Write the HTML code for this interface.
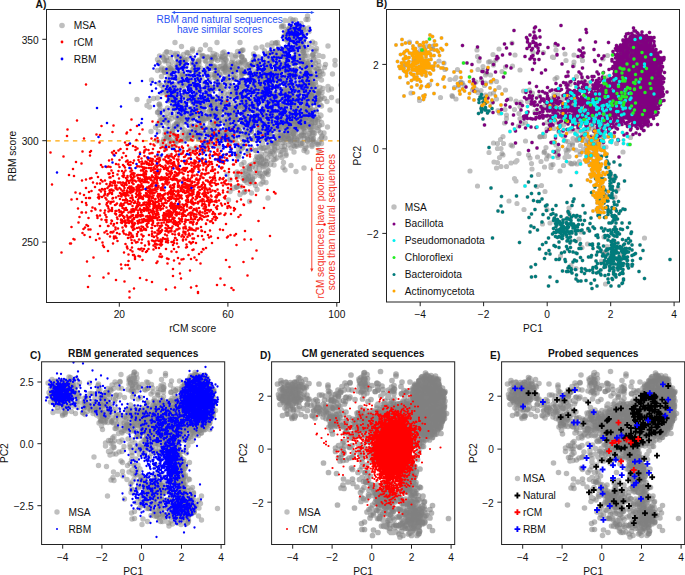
<!DOCTYPE html>
<html><head><meta charset="utf-8"><style>
html,body{margin:0;padding:0;background:#fff;overflow:hidden;}
svg{display:block;}
text{font-family:"Liberation Sans", sans-serif;font-size:10.2px;fill:#111;}
.d{fill:none;stroke-linecap:round;}
</style></head><body>
<svg width="685" height="575" viewBox="0 0 685 575">
<defs><clipPath id="cA"><rect x="46.5" y="9.5" width="293" height="293"/></clipPath><clipPath id="cB"><rect x="386.5" y="9.5" width="293" height="292.5"/></clipPath><clipPath id="cC"><rect x="41.6" y="361.8" width="183.1" height="182.7"/></clipPath><clipPath id="cD"><rect x="271.6" y="361.8" width="183.1" height="182.7"/></clipPath><clipPath id="cE"><rect x="501.6" y="361.8" width="183.1" height="182.7"/></clipPath></defs><line x1="46.5" y1="140.8" x2="339.5" y2="140.8" stroke="#ffa500" stroke-width="1.3" stroke-dasharray="4.4 4.4"/><g clip-path="url(#cA)"><path class="d" transform="scale(.5)" d="M612 39h0m-18 24h0m-5-2h0m-12-1h0m-13-8h0m11 26h0m1-8h0m80 22h0m-26-5h0m-30 2h0m-56-3h0m-194-1h0m26 21h0m57 4h0m12-4h0m17 4h0m45-2h0m5-12h0m25 12h0m7 3h0m21-5h0m40-9h0m20 14h0m8-14h0m37 24h0m-60-9h0m-1 14h0m-4 1h0m0-5h0m-7-5h0m-5-1h0m-1 9h0m-6-9h0m-9-1h0m-2 2h0m-31 4h0m-20-2h0m-7-5h0m-1 9h0m0-2h0m-8-3h0m-24-4h0m-13 0h0m-6 4h0m-13 1h0m-10 0h0m-19 2h0m-6-7h0m-19 9h0m-2 0h0m-11 2h0m-11-6h0m-9 0h0m-31 2h0m-19 20h0m8-5h0m4 5h0m17-7h0m7 2h0m5 7h0m1-11h0m10 8h0m23 2h0m23-3h0m22 0h0m10-2h0m37-8h0m20 4h0m1-2h0m1-2h0m11 0h0m16 6h0m3-4h0m19 4h0m16 3h0m5-3h0m9 7h0m55-11h0m1 12h0m10-8h0m-27 14h0m-3-3h0m-17 9h0m-2-4h0m-7-3h0m-11 2h0m-3 3h0m-3-9h0m-2 3h0m-14 6h0m-4-8h0m-9 8h0m-5 1h0m-1-2h0m-1 5h0m-5-10h0m0 8h0m-4 4h0m-25-4h0m-21-8h0m-18 6h0m-11 4h0m-25-12h0m-3 10h0m-11-2h0m-4-9h0m-9 13h0m-39-8h0m-47 18h0m20-4h0m7 10h0m4-4h0m8 3h0m11-7h0m6 3h0m4-6h0m19 10h0m9-10h0m30 12h0m21-4h0m6 5h0m20-5h0m2 0h0m19-9h0m1 4h0m9 7h0m1-3h0m1-8h0m5 14h0m12-1h0m21 1h0m5-9h0m5-6h0m10 9h0m28 1h0m4-6h0m0-3h0m7 9h0m1 1h0m5-5h0m1 0h0m23-6h0m-19 30h0m-19-9h0m-6 5h0m-16 4h0m-16-11h0m-10 12h0m-14-4h0m0 4h0m-15-9h0m-4-3h0m-9-3h0m-7 12h0m-2-4h0m-46 0h0m-27-7h0m-17 0h0m-70 10h0m-6 1h0m-2-9h0m-15 7h0m-25 16h0m41-5h0m7 0h0m7 9h0m12-14h0m11 2h0m18 6h0m9 1h0m1 3h0m9 1h0m9-7h0m0 8h0m10 0h0m4-6h0m6 0h0m10 5h0m40 1h0m2-5h0m25-8h0m3 1h0m12 12h0m7-7h0m8-7h0m16 3h0m14 10h0m1-5h0m4 1h0m4 6h0m0-9h0m10 1h0m3-1h0m8 4h0m7-8h0m3 0h0m6 10h0m7 2h0m1-3h0m16-6h0m-22 24h0m-1-1h0m-6-8h0m-7 10h0m-18 0h0m-26-10h0m-11-2h0m-15 13h0m-2-7h0m-7 2h0m-2 0h0m-31-8h0m-5 10h0m-20-5h0m-1-2h0m-8 7h0m-31-9h0m-13 5h0m0-5h0m-2 3h0m-2 7h0m-20-12h0m-1 6h0m-13 2h0m-16-8h0m-11 8h0m-5 4h0m-38 4h0m27 5h0m1-3h0m15 12h0m9-11h0m14-2h0m4 9h0m7-5h0m9 3h0m15 3h0m11-7h0m1 1h0m12-6h0m13 2h0m15 13h0m3-13h0m3 10h0m17-4h0m21-4h0m30 0h0m1 8h0m1-3h0m8 6h0m0-4h0m3 0h0m16 3h0m0-9h0m5 5h0m9 0h0m21-8h0m1 10h0m8-10h0m29 23h0m-1-4h0m-19 0h0m-9 2h0m-2-4h0m-5 2h0m0 10h0m-2-5h0m-1-2h0m-5-8h0m-5 12h0m-5-8h0m-2 4h0m-2 0h0m-2-1h0m-2 3h0m-6 4h0m-1-5h0m0-2h0m-22 7h0m-1-1h0m-18 2h0m-5-7h0m-8-2h0m-1-2h0m-6 8h0m-3-1h0m-7 3h0m-1-9h0m0-4h0m-8 6h0m-7-3h0m-5-4h0m-11 12h0m-16-9h0m-8 0h0m-40-1h0m-54 4h0m-16 5h0m11 19h0m8-13h0m7 13h0m2-5h0m13 0h0m5 5h0m6-10h0m11 10h0m2-2h0m9-10h0m3 7h0m13-6h0m28 11h0m4-12h0m0 12h0m9-10h0m9 2h0m12 6h0m1 3h0m3-8h0m28-5h0m8 10h0m7-9h0m6-1h0m18 13h0m13-13h0m2 3h0m3 4h0m3-6h0m26 12h0m10-1h0m25 17h0m-19-7h0m-30 1h0m-12-1h0m-5-4h0m-10 0h0m-5 3h0m-15 8h0m-27-10h0m-9-5h0m-64 3h0m-19 0h0m-32-1h0m-20 3h0m-35 2h0m-26 3h0m32 12h0m149 7h0m16 0h0m13-13h0m13 4h0m7-3h0m45 4h0m18 8h0m-58 18h0m-30-6h0m-7 0h0m-25 12h0m10 7h0m17-9h0m3 6h0m10-1h0m39-3h0m-34 21h0m-79 3h0m38 7h0m13 0h0m9 23h0m-54 4h0" stroke="#808080" stroke-width="10.8" stroke-opacity="0.5"/></g><g clip-path="url(#cA)"><path class="d" transform="scale(.5)" d="M586 40h0m32 23h0m-11-8h0m-16 4h0m-5 2h0m-1-1h0m-9 2h0m0-3h0m-3 3h0m-1-3h0m2 20h0m9-14h0m12 2h0m9 26h0m-5-10h0m-5 5h0m-7-7h0m-7 7h0m-23 5h0m-194 0h0m-33 15h0m3-4h0m52-6h0m13 7h0m28 2h0m3 1h0m22 3h0m122-14h0m23 8h0m10 6h0m1-8h0m30 20h0m-22-11h0m-1 11h0m-5 2h0m-7 2h0m-15 0h0m-21-14h0m-7 14h0m-53-6h0m-16 3h0m-6-2h0m0-9h0m-32 8h0m-9-5h0m-8 5h0m-12-4h0m-11 6h0m-14-3h0m-33 3h0m-32-8h0m-15 10h0m18 13h0m18-6h0m18 0h0m13-4h0m2 11h0m7-8h0m3 4h0m26 2h0m23 1h0m6-6h0m5 11h0m2-6h0m12-9h0m1 8h0m11 4h0m11-11h0m6 2h0m15 0h0m19-3h0m6 15h0m0-8h0m18 5h0m9-11h0m10 11h0m12-1h0m4 0h0m8-1h0m2-3h0m0-3h0m1 10h0m5 1h0m3-13h0m8 11h0m9-1h0m22-11h0m14 19h0m-25 4h0m-25-7h0m-8 8h0m-16-9h0m-7 10h0m-33 4h0m-4-1h0m-9-11h0m-4 11h0m-5-7h0m-7 4h0m-9-8h0m-12 10h0m-18-7h0m-1 2h0m-23-2h0m-7-3h0m0 12h0m-24-10h0m-6 1h0m-5 4h0m-19-6h0m-7 10h0m-88 3h0m55 0h0m2 5h0m5 5h0m10-2h0m8 5h0m36-4h0m17 3h0m7 0h0m8-12h0m1 3h0m7 1h0m51 3h0m18-6h0m4 11h0m6-5h0m3-3h0m3 2h0m39-1h0m1 7h0m18-4h0m5 6h0m9-11h0m3-1h0m7 11h0m5-4h0m1 2h0m24 2h0m26-3h0m-25 10h0m-19 6h0m-15 5h0m-7-1h0m-5-14h0m-15 6h0m0-6h0m-8 3h0m-4 9h0m-7-7h0m-5 7h0m-8 2h0m-34-1h0m-6-12h0m-1 6h0m-15-1h0m-6-3h0m-6 11h0m-2-2h0m-6-8h0m-5-1h0m-10 12h0m-17-2h0m-5-13h0m-6 3h0m-3-1h0m-26 12h0m-22-13h0m-14 2h0m-32 11h0m-3-4h0m-5 2h0m-5 0h0m-2-4h0m-59 15h0m89-1h0m27-6h0m3 10h0m9 4h0m24-10h0m20 10h0m35-14h0m6 5h0m2 8h0m4-6h0m28-7h0m13 15h0m9-11h0m1 6h0m10 2h0m8-12h0m12 14h0m7 0h0m9-3h0m1-5h0m3 0h0m1-4h0m3 6h0m16-6h0m7 5h0m2-6h0m4 8h0m13-2h0m3 13h0m-22 9h0m-10-4h0m-1-9h0m-18 13h0m-4-6h0m-9 7h0m-2 1h0m-21-15h0m-16 11h0m-14-6h0m-24-5h0m-1 1h0m-25 3h0m-4 4h0m-16 7h0m-10-3h0m-5-1h0m-2-5h0m-7 1h0m-6 6h0m-19-2h0m0-3h0m-2 6h0m-2-8h0m-13 8h0m-28-6h0m-1 0h0m-10 0h0m-32 4h0m0-12h0m1 23h0m45 6h0m14-3h0m4-1h0m5-1h0m14-2h0m1-5h0m21 3h0m9 3h0m3-1h0m3-1h0m25 4h0m43 6h0m9-4h0m11-3h0m22-2h0m3-5h0m0 1h0m8 13h0m0-6h0m0-4h0m3-4h0m8 14h0m2-8h0m3-1h0m3 0h0m17 1h0m11 8h0m2-9h0m12 7h0m15-2h0m-20 6h0m-6 7h0m-1-5h0m-1 4h0m0 4h0m-1-1h0m-3 3h0m-5 1h0m-2-6h0m0-8h0m-9 8h0m-11 7h0m-6-6h0m-8 6h0m-18-9h0m-1-3h0m0-1h0m-9 2h0m-5 3h0m-10 2h0m-3-7h0m-5 4h0m-2-3h0m-4 2h0m-5 2h0m-3-3h0m-3 2h0m-1-5h0m-22-1h0m-7 10h0m-5 1h0m-32-1h0m-28-8h0m-11 10h0m-19-7h0m-36-5h0m-1 6h0m-11 4h0m-6-2h0m-5 7h0m67 15h0m20-4h0m9 2h0m11 0h0m2-6h0m9 6h0m2 1h0m47-8h0m0 1h0m42 4h0m13-3h0m6 7h0m4-9h0m4-5h0m22 14h0m5-1h0m17-10h0m1 0h0m16 6h0m2-9h0m8 11h0m30-1h0m-5 9h0m-17 5h0m-8-1h0m-24 0h0m-4-2h0m-2-3h0m-2 12h0m-6-6h0m-1-6h0m-9 4h0m-1-2h0m-31 2h0m-11-4h0m-69 8h0m-3-8h0m-18 2h0m-9-4h0m-35 1h0m-22 5h0m-6 4h0m-13 3h0m10 17h0m58-13h0m18 4h0m39 5h0m49-1h0m6-2h0m3-1h0m29-1h0m18 3h0m-51 12h0m-7 11h0m-1-4h0m-8 0h0m-40-3h0m-156 1h0m201 12h0m21 4h0m1-3h0m40 5h0m26 5h0m-16 7h0m-57-4h0m-4 5h0m-11 3h0m-21-10h0m-4 13h0m-35 9h0m34 6h0m5 2h0m2-7h0m3 5h0m2 0h0m20-1h0" stroke="#808080" stroke-width="10.8" stroke-opacity="0.5"/></g><g clip-path="url(#cA)"><path class="d" transform="scale(.5)" d="M607 60h0m-13 2h0m-2-8h0m-4 1h0m-7 12h0m6 5h0m20 10h0m-15 10h0m-41-6h0m-71-1h0m-9 26h0m7-2h0m6-8h0m61 4h0m6 4h0m38-7h0m16-1h0m9-1h0m12 9h0m1 8h0m0 5h0m-11 5h0m-52-15h0m-7 12h0m-7-1h0m0-5h0m-18 8h0m-3-1h0m-14 0h0m-6-13h0m-21 8h0m-19 6h0m-20-9h0m-7-4h0m-18 4h0m-2 10h0m-36-10h0m-6-4h0m-10 8h0m-12 6h0m-29-5h0m-3-6h0m-7-4h0m-4 7h0m27 19h0m17-5h0m26 6h0m6 3h0m11-5h0m12 6h0m1-11h0m3-4h0m9 5h0m2 2h0m10-2h0m12 2h0m3-5h0m7 5h0m8 8h0m3-7h0m3 5h0m0-4h0m5 4h0m9 2h0m0-5h0m17-8h0m28 13h0m6-4h0m12-10h0m8 6h0m5-7h0m0 8h0m3 2h0m2-1h0m3 6h0m7-6h0m29-6h0m3-1h0m5 7h0m2 3h0m7-8h0m1 0h0m3 3h0m3 1h0m4 2h0m-12 14h0m-8 7h0m-2-2h0m-1-12h0m-3 14h0m-2-11h0m-5 3h0m-11 1h0m-7-3h0m-19 5h0m-18-9h0m-3 2h0m-9 4h0m-15 4h0m-6-4h0m-1 0h0m-6-3h0m-13-3h0m-9 1h0m-18 11h0m-40-7h0m-30 6h0m-23-4h0m-35 4h0m-5 3h0m-2 10h0m61-2h0m13 3h0m4-1h0m73 4h0m5-12h0m5-1h0m19 9h0m11 3h0m1-7h0m11 6h0m2 4h0m1-5h0m7-8h0m6-1h0m4 10h0m16-9h0m5 7h0m7-1h0m37-3h0m1 1h0m14 21h0m-15-6h0m-7 10h0m-40-11h0m-1 7h0m-4-9h0m-18 12h0m-3-2h0m-7-11h0m-7 9h0m-4-9h0m-5 2h0m-17 3h0m-10-4h0m-15 9h0m-11-4h0m-24 3h0m-1 0h0m-1 1h0m-22-9h0m-19 2h0m-13 5h0m-1-7h0m-2-2h0m-23 4h0m-4-2h0m-10 2h0m-4 10h0m-1-11h0m-3 10h0m0-2h0m-6 1h0m-7-6h0m-17 14h0m25-3h0m4 9h0m27 1h0m7-2h0m13-4h0m17-3h0m14 6h0m15-2h0m23 9h0m1 0h0m2-15h0m19 8h0m3-2h0m8 9h0m14-12h0m4 2h0m3 7h0m29 1h0m1-1h0m26-2h0m1-4h0m14-2h0m0 8h0m36-8h0m1-1h0m1-3h0m12 10h0m2 2h0m7-10h0m32 8h0m-36 7h0m-20 13h0m-7-14h0m-1 12h0m-1-4h0m-5-3h0m-3-3h0m-11 1h0m0 5h0m-7 7h0m-7-13h0m-17 1h0m-18 6h0m-15 3h0m-14 2h0m0-2h0m-6-4h0m-1-6h0m-9 13h0m-9-9h0m-30 8h0m-1-9h0m-7-5h0m-19 14h0m-9-2h0m-1-12h0m-25 1h0m0 6h0m-12 2h0m-23-1h0m-11-8h0m-3 6h0m-23 24h0m18-1h0m11 0h0m23 2h0m5-11h0m3 4h0m18 6h0m5-1h0m4 0h0m14-5h0m1-1h0m33 8h0m8-10h0m19-4h0m7 13h0m8-3h0m2 0h0m7-4h0m0 5h0m16-6h0m3 6h0m2 2h0m8-6h0m7-8h0m14 13h0m9-11h0m19 12h0m15-2h0m0 3h0m11-6h0m4 4h0m4 0h0m2-8h0m3 1h0m4 9h0m1-15h0m5 14h0m17 16h0m-22-14h0m-4 7h0m-5-1h0m-6 8h0m-3-5h0m-7-2h0m-4 5h0m-14-9h0m-26 1h0m-5 0h0m-3 11h0m-14-1h0m-4-4h0m-1-2h0m-15-2h0m-21-1h0m-15-2h0m-16 1h0m-8-4h0m-26 6h0m-39 9h0m-2-14h0m-18-1h0m-22 8h0m-6 5h0m-19 15h0m4-2h0m10 1h0m34-4h0m16-6h0m8 4h0m5-4h0m14 13h0m0-3h0m10-3h0m14 0h0m11 0h0m10 5h0m11-9h0m13-3h0m3 9h0m4-8h0m6 6h0m17 3h0m5-5h0m4 3h0m5 4h0m6-2h0m1 0h0m20 1h0m1-2h0m1-1h0m1 3h0m7-10h0m5 0h0m0 6h0m5 1h0m3 0h0m8-1h0m11 6h0m22-8h0m1 9h0m4-14h0m4 1h0m3 3h0m72 4h0m-59 11h0m-24 7h0m-11-4h0m0 3h0m-14-4h0m0 9h0m-1-5h0m-1-10h0m-16 3h0m-3 1h0m-1 2h0m-1-1h0m-5-3h0m-2 1h0m0 3h0m-1 6h0m-8-10h0m-7 1h0m-2-3h0m-9 15h0m-39-9h0m-10-1h0m-1 2h0m-60-2h0m-1 0h0m-12-1h0m-7 2h0m-16 0h0m-22-1h0m-22 5h0m-26-4h0m53 20h0m8 0h0m22 1h0m70-7h0m38 2h0m9 2h0m21-3h0m2 8h0m9 1h0m3-1h0m8-1h0m31-9h0m34-2h0m-22 15h0m-67 15h0m-4-5h0m-3-4h0m-17 8h0m-27-13h0m-24 2h0m42 20h0m13 5h0m6-3h0m1-5h0m2 25h0m-45-7h0m-17 9h0m16 9h0m7-7h0m4 10h0m10 8h0m-38 3h0m15 11h0m-31 15h0" stroke="#808080" stroke-width="10.8" stroke-opacity="0.5"/></g><g clip-path="url(#cA)"><path class="d" transform="scale(.5)" d="M615 32h0m-29 30h0m-4-9h0m-3 2h0m-2 8h0m-2-1h0m-8-10h0m5 16h0m4 3h0m4-5h0m4 5h0m1-5h0m2 9h0m2-1h0m3-1h0m3 6h0m8 11h0m-5-3h0m-9-3h0m-37 2h0m-28 8h0m-190 10h0m7 1h0m9 2h0m5 0h0m19-2h0m27-6h0m47 5h0m3 5h0m30-6h0m55 4h0m15-5h0m55 3h0m17-9h0m-2 25h0m-3 2h0m-27 3h0m-5-11h0m-6 8h0m-5-2h0m-10-9h0m-10 4h0m-10 4h0m-5 6h0m-7-6h0m-1-7h0m-16 13h0m-14 1h0m-25-3h0m-14 1h0m-16 1h0m-2-12h0m-14 4h0m-3-3h0m-14-1h0m-10-1h0m-7 9h0m-28 5h0m-7-9h0m-6-5h0m0 8h0m0-6h0m-26 5h0m-4-6h0m-8 12h0m11 12h0m5 2h0m12 1h0m103-8h0m1 8h0m17-1h0m31-11h0m18 10h0m18 3h0m2-5h0m5 3h0m13 1h0m60-10h0m3 27h0m-26-8h0m0 0h0m-10 4h0m-12 3h0m-9-13h0m-6 8h0m-4 0h0m-2-4h0m-4 0h0m-12 5h0m-8 0h0m-8-4h0m-7 2h0m-1 8h0m-36-2h0m-4-1h0m-15 1h0m-11-9h0m-6 11h0m-5-4h0m-33 3h0m-3-12h0m0 4h0m-14 9h0m-17-8h0m-26-1h0m-7-6h0m-1 1h0m-7 26h0m10-7h0m12 6h0m22 1h0m15 0h0m11-11h0m2 11h0m24-9h0m20 9h0m27 1h0m8 1h0m30-13h0m4 15h0m13-1h0m33-2h0m13-10h0m12 9h0m1 4h0m14 0h0m18-4h0m1 1h0m2-12h0m4 6h0m7-5h0m1 9h0m4-5h0m32 13h0m-17-1h0m-6 5h0m-7 0h0m0 7h0m-5-5h0m-2 2h0m-6-4h0m-2 4h0m-3-8h0m-6 7h0m-1-1h0m-3 1h0m-25 3h0m-6-9h0m-4 11h0m-17-1h0m-2 1h0m-59-10h0m-1-3h0m-19 7h0m0-8h0m-44 2h0m-4-1h0m-6 9h0m-4-9h0m-19 5h0m-88 15h0m32 3h0m14-3h0m4 10h0m22-8h0m4 0h0m1 1h0m4 7h0m11-7h0m12-8h0m45 7h0m8-1h0m17-5h0m15 7h0m9-1h0m18-5h0m20 1h0m4 6h0m35 5h0m5-6h0m20-2h0m47 5h0m9-8h0m-28 17h0m-14 4h0m0 3h0m-13-2h0m-9-3h0m-7-2h0m-6-4h0m-20 7h0m-16-5h0m-13 4h0m-2-5h0m-9 10h0m-13-7h0m-12 9h0m-10 2h0m-1-7h0m-2-3h0m0-4h0m-9 3h0m-6 11h0m-2-7h0m-5-1h0m-17-7h0m-1 12h0m-3-6h0m-8-4h0m-5 7h0m-9 3h0m-18 2h0m-7-3h0m-26 4h0m-4-1h0m-2-11h0m-16-3h0m-5 9h0m-7 0h0m-3-1h0m-36-2h0m-5-3h0m38 24h0m28-1h0m7 2h0m19-10h0m8 1h0m4 2h0m3-1h0m2 7h0m5 2h0m7-5h0m11-3h0m7 0h0m4 4h0m25-4h0m41 5h0m5 5h0m16-5h0m3-10h0m36 9h0m0 1h0m42-1h0m1-5h0m7 7h0m2-1h0m7-4h0m9 8h0m10-8h0m1 1h0m-6 24h0m-2 0h0m-1-1h0m0 0h0m-4-1h0m-10 1h0m-20-8h0m-4 7h0m0-1h0m-6-9h0m-5 12h0m-5-4h0m-4-1h0m-2-10h0m-1 12h0m-12 3h0m-3-12h0m-30 3h0m-20-3h0m-2-3h0m-2 10h0m-27 4h0m-20-6h0m-18-5h0m-4-1h0m-7 9h0m-6-4h0m-2 7h0m-11 1h0m-26-3h0m-18-7h0m-9 5h0m-17-9h0m-7 1h0m-9-1h0m-6 10h0m-14 12h0m15 0h0m28-1h0m24-2h0m59 9h0m1 0h0m11 1h0m10-10h0m10-2h0m3-1h0m28 12h0m12-11h0m12 11h0m4-11h0m16 9h0m1-5h0m2 5h0m1-1h0m11-6h0m3 3h0m4 2h0m7-8h0m1 13h0m19-5h0m1-2h0m0 4h0m6-6h0m12 10h0m4-14h0m0 14h0m13-12h0m5 10h0m2-1h0m2-1h0m-7 7h0m-17 13h0m-16-13h0m-12 3h0m-16 2h0m-11 7h0m-67-11h0m-12 3h0m-6 0h0m-22 3h0m-6 1h0m-27 4h0m-76-11h0m59 19h0m90 4h0m1-1h0m58 6h0m8-11h0m5 3h0m13 5h0m9-10h0m17 2h0m18 2h0m12-4h0m14 11h0m-66 7h0m-8-4h0m-37 14h0m-5-10h0m-4 7h0m-35 14h0m22 4h0m1-5h0m42 2h0m18 5h0m-37 12h0m-10 4h0m0-10h0m-1-5h0m-16 10h0m-1-3h0m-5-7h0m-1 0h0m-2 0h0m-18 18h0m14 7h0m6-2h0m10 0h0m-23 14h0m-12 2h0m-4 2h0m14 12h0m56 7h0m-37 7h0" stroke="#808080" stroke-width="10.8" stroke-opacity="0.5"/></g><g clip-path="url(#cA)"><path class="d" transform="scale(.5)" d="M591 40h0m11 7h0m14-8h0m-34 18h0m-1-3h0m-12 19h0m2 6h0m2-10h0m0-3h0m8 11h0m7-6h0m11-7h0m9 8h0m10 15h0m-11-2h0m-8-3h0m-24 1h0m-20 2h0m-20 5h0m-184 20h0m16-1h0m18-7h0m101-2h0m43 2h0m7 9h0m5-6h0m14-3h0m2 7h0m10-10h0m65 3h0m6 9h0m8 2h0m-15 13h0m-1-11h0m-24 5h0m-16 7h0m-6 0h0m-15-8h0m-9 5h0m-8-11h0m-9 6h0m-26 8h0m-37-1h0m-50-11h0m-23-3h0m-70 16h0m3 14h0m5 1h0m21-14h0m26 1h0m1 13h0m35-9h0m22 2h0m15-2h0m16 5h0m20-5h0m6 8h0m12-10h0m4 6h0m12-4h0m3 3h0m15-5h0m2 1h0m1 5h0m11 4h0m1-10h0m2-3h0m5 6h0m7 5h0m24-3h0m11 6h0m4-12h0m2 0h0m11 7h0m36-8h0m-24 18h0m-9 3h0m-3 1h0m-11 2h0m-16-4h0m-19 5h0m-7-5h0m-8-2h0m-12 0h0m-1 10h0m-2-7h0m-5 4h0m-3 2h0m-1-10h0m-13-3h0m-2 10h0m-2-3h0m0 3h0m-7-10h0m-1 11h0m-1 2h0m-5-2h0m-19-7h0m-14-4h0m-2 13h0m-16 1h0m-10-14h0m-6 0h0m-12 5h0m-4-5h0m0 10h0m-3-3h0m-53-6h0m-1 8h0m-7 2h0m-5-1h0m-25-7h0m-12-3h0m-6 9h0m11 19h0m1 2h0m4 0h0m37-14h0m58 2h0m6 7h0m41-8h0m1 6h0m6 1h0m11 4h0m5-9h0m1 6h0m16-8h0m50 6h0m2-2h0m39 7h0m2 0h0m2-3h0m6 0h0m4 6h0m14 0h0m-3 1h0m-1 12h0m-2 3h0m-16 0h0m-5-13h0m-7 0h0m-18 11h0m-15 2h0m-1-2h0m-3-2h0m-26-10h0m-5 10h0m-4 2h0m-3 2h0m-3-11h0m-1 6h0m0-8h0m-1 3h0m-8 6h0m-3-6h0m-23 1h0m-12-6h0m-2 9h0m-11 3h0m-1-7h0m-1 7h0m-21-12h0m-18 0h0m-6 6h0m-20-3h0m-3 2h0m-20 10h0m-8 0h0m-16-1h0m-3-7h0m-7 0h0m-16-6h0m10 25h0m16-3h0m2-5h0m3 12h0m28-4h0m8 2h0m1-12h0m5 2h0m27 4h0m10-3h0m8 2h0m2 7h0m4-8h0m23-4h0m8 14h0m1-6h0m3-8h0m35 9h0m4 1h0m3-2h0m1-6h0m9 2h0m3 2h0m4 7h0m6-3h0m2-4h0m2 2h0m32 1h0m5 0h0m3 0h0m5-2h0m1-3h0m11 2h0m1 9h0m1-11h0m3 2h0m3 8h0m2-5h0m13-4h0m0 5h0m1-10h0m-5 28h0m-14 0h0m0 2h0m0-1h0m-7-3h0m-7-2h0m-36-4h0m0-3h0m-2 5h0m-9 9h0m-17-2h0m0-7h0m-28-2h0m-13 8h0m-2-1h0m0-6h0m-14 2h0m-9 8h0m-10-7h0m-13 0h0m-5 0h0m-17-8h0m-7 12h0m-2-9h0m-12 1h0m-11-4h0m-26 9h0m-13-2h0m-29 6h0m-10-12h0m16 18h0m21 1h0m19 3h0m2 1h0m8-3h0m0-5h0m21 8h0m10-7h0m3 13h0m0-12h0m10 5h0m3 5h0m1-10h0m7 13h0m4-1h0m13 0h0m5 1h0m15 0h0m10-9h0m8 9h0m26-13h0m7 0h0m3 6h0m2-1h0m6 1h0m5-7h0m1 7h0m13-4h0m4-3h0m25 7h0m3 5h0m3-3h0m19 3h0m12 2h0m1-7h0m15 19h0m-4-8h0m-12 3h0m-1 3h0m-15-9h0m-10 9h0m0-2h0m-6-1h0m-4-2h0m-8 1h0m-9 2h0m-1-4h0m-2 4h0m-2-3h0m-3-4h0m-23 5h0m-27-4h0m-31 11h0m-8-12h0m-2 10h0m-2-10h0m0 14h0m-16 0h0m-1-8h0m-3-6h0m-3 1h0m-11 14h0m-4-12h0m-29 12h0m-4-9h0m-3 4h0m-12 2h0m-30-5h0m-33-6h0m11 18h0m13-1h0m1 3h0m31 9h0m13-9h0m4 8h0m26-11h0m7 6h0m7 5h0m6-7h0m3 5h0m10 1h0m11 2h0m15-9h0m1 1h0m15 5h0m21-6h0m15-3h0m2 9h0m37 2h0m18-2h0m1-9h0m9-2h0m4 1h0m2 7h0m19-4h0m22 12h0m-4 7h0m-2 6h0m-4 0h0m-25-9h0m-28 7h0m-7-11h0m-7 7h0m-1 6h0m-4-10h0m-4-1h0m-4 12h0m-5-1h0m-1-12h0m-19 6h0m-10 0h0m-20-3h0m-34 3h0m-5 6h0m-20-9h0m-43 0h0m-10-4h0m-2 6h0m-30-4h0m-16 8h0m-6-5h0m9 15h0m69-1h0m100 10h0m38-2h0m38-8h0m23 6h0m-22 7h0m-27 6h0m-12 0h0m-8-3h0m-64 7h0m-139-2h0m187 15h0m6-5h0m6 20h0m-25 3h0m-13-5h0m-1 11h0m-7-4h0m-17-3h0m12 13h0m10-1h0m30 0h0m6 9h0m-29 21h0" stroke="#808080" stroke-width="10.8" stroke-opacity="0.5"/></g><g clip-path="url(#cA)"><path class="d" transform="scale(.5)" d="M570 41h0m8 1h0m3-4h0m36 18h0m-7 3h0m-7 0h0m-7 3h0m0-10h0m-1 5h0m-1-6h0m-7 9h0m-24-6h0m5 18h0m11-4h0m2-3h0m1 3h0m6 6h0m5-4h0m6 1h0m8-4h0m1 11h0m17 6h0m-15 11h0m-13-1h0m-5 1h0m-48-2h0m-110-8h0m-23 5h0m-6 21h0m15-12h0m55 4h0m76 0h0m8-1h0m2 8h0m9-10h0m6-1h0m3 1h0m5-4h0m8 13h0m16-1h0m18 1h0m2-6h0m-22 10h0m-2 3h0m-1 5h0m-6 4h0m0-12h0m-1 4h0m-24 9h0m-4-14h0m0 2h0m-16 0h0m-9 11h0m-54-4h0m-5 3h0m-1-10h0m-34 13h0m-23-14h0m-16 8h0m-16 5h0m-24-8h0m-7 0h0m-1 6h0m-1-10h0m-7 2h0m-1 10h0m-9-2h0m-3-7h0m-19 23h0m18-4h0m48-1h0m10-6h0m24 2h0m7 1h0m6 9h0m7-8h0m6 4h0m3-2h0m9 4h0m4-11h0m1 6h0m4 9h0m1 0h0m4-9h0m17-5h0m4 4h0m22 4h0m4-9h0m14 0h0m5 7h0m3-7h0m15 11h0m16 0h0m14 4h0m4-7h0m24-2h0m23 9h0m4 0h0m-10 15h0m0-8h0m-10-2h0m-3 2h0m-12 6h0m-21-2h0m-6-8h0m-2 9h0m-3-1h0m-1-3h0m-15 0h0m-2-1h0m0-5h0m-3 5h0m-3 9h0m-10-15h0m-13 1h0m-14 2h0m0 7h0m-25-8h0m-7 1h0m-12 4h0m-22 8h0m-42-15h0m-40 6h0m-6-2h0m-5 6h0m-9 2h0m11 8h0m22 1h0m5-1h0m29 8h0m8 3h0m12-9h0m2 3h0m13-9h0m36 1h0m7 2h0m14 11h0m11 1h0m2-7h0m3 0h0m16 4h0m2-11h0m5 13h0m7 0h0m4-13h0m23 6h0m1 3h0m4 1h0m3 2h0m10-10h0m4 11h0m2-8h0m11-1h0m6 7h0m6-4h0m18 17h0m-6-1h0m-13-7h0m-2 14h0m-1-2h0m-5-6h0m-1-1h0m-19 1h0m-1-2h0m-10-3h0m0 0h0m-2 12h0m-7-2h0m-8-6h0m-4 3h0m-1 0h0m-3-5h0m-5 3h0m-13 8h0m-10-5h0m-3-10h0m-56 10h0m-5-3h0m0 5h0m-27-8h0m0 7h0m-70 0h0m-17-4h0m-14-5h0m-8 12h0m11 10h0m7-4h0m27-2h0m1 1h0m6 11h0m4-7h0m28-5h0m7 8h0m5 2h0m12 2h0m31-1h0m6-11h0m13 7h0m18 3h0m8-1h0m7-1h0m8-6h0m20-3h0m1 7h0m11 0h0m13 1h0m3 5h0m4-6h0m2-8h0m6 6h0m9 3h0m1 2h0m8-11h0m2 6h0m10-4h0m1-1h0m4 11h0m0 0h0m4-1h0m6-8h0m4 3h0m19 22h0m-49-11h0m-18 12h0m-6-13h0m-3 7h0m-2 4h0m-10 0h0m-6-6h0m-1 1h0m-8 4h0m-1 2h0m-8-12h0m-1 10h0m-39 2h0m-13-1h0m-3 2h0m-7 2h0m0-8h0m-15-6h0m-4 13h0m-10-9h0m-16 10h0m-27-13h0m-15 4h0m-20 2h0m-58-4h0m-4 12h0m4 2h0m10 11h0m21-3h0m13-1h0m39 6h0m18-4h0m31-2h0m6-5h0m12 6h0m1-5h0m15 9h0m3 0h0m3-5h0m0 3h0m9-1h0m1 4h0m19-1h0m3-10h0m2 8h0m1-9h0m9 0h0m4 1h0m2-3h0m3 8h0m35 3h0m2-10h0m5 3h0m9 5h0m8 3h0m6-9h0m16 11h0m5 6h0m-1-4h0m-8 11h0m-6-1h0m-11 2h0m-9-6h0m-17-1h0m-4 9h0m-4-5h0m-2-1h0m-7 1h0m-1-1h0m0-7h0m-2 4h0m0 9h0m0-7h0m-2 3h0m-7-3h0m-5 5h0m-1-8h0m-17 10h0m-19-7h0m-3-7h0m-4-1h0m-14 10h0m-1-8h0m-31 10h0m-18-12h0m-2 9h0m-10-3h0m-19-6h0m-2 7h0m-20-7h0m-9 3h0m-11 12h0m-2-14h0m-7 9h0m-5 0h0m-1 0h0m-13 16h0m14-10h0m22 13h0m11-5h0m7 4h0m2-1h0m4-11h0m3 14h0m17-1h0m24 2h0m12-3h0m4-7h0m16 4h0m10 3h0m20-5h0m53-4h0m18 3h0m1-4h0m14 10h0m22-5h0m17 2h0m14 0h0m-14 12h0m-12 6h0m0-6h0m-12 10h0m-4-14h0m-9 4h0m-1 5h0m-14-10h0m-19 14h0m-15-3h0m-5-5h0m-26 0h0m-1-4h0m0 5h0m-20 4h0m-13-11h0m-2 15h0m-18-8h0m-37 6h0m-10 1h0m-3-8h0m-2 2h0m-32-8h0m-8 8h0m-12-5h0m-2 7h0m-12-8h0m-3-1h0m-9 10h0m-2 6h0m7 9h0m3-7h0m152 4h0m0-6h0m6-1h0m11 9h0m19 0h0m11 4h0m11-1h0m25-7h0m25-4h0m7-1h0m17 2h0m6 3h0m9-5h0m107 15h0m-168 8h0m-8 4h0m-10 1h0m-8-12h0m-11 12h0m-56-11h0m-1 4h0m23 21h0m10-10h0m9 6h0m6 8h0m7-5h0m37 11h0m-59-4h0m-26 7h0m0 6h0m17 14h0m7-10h0m15 0h0m-2 15h0m-32 15h0m-16-9h0" stroke="#808080" stroke-width="10.8" stroke-opacity="0.5"/></g><g clip-path="url(#cA)"><path class="d" transform="scale(.5)" d="M172 169h0m161 23h0m121 10h0m-191 37h0m133-15h0m120 28h0m-86-7h0m-29 3h0m-8 4h0m-8-1h0m-69-7h0m-11-1h0m-31 9h0m-47-1h0m-24 1h0m-49-11h0m-19 18h0m58 10h0m7 1h0m25-6h0m28 3h0m1-2h0m7-5h0m18 8h0m6-9h0m45 8h0m11-2h0m6 3h0m2 1h0m3 2h0m4-1h0m10-2h0m39-11h0m23 8h0m1 4h0m9-7h0m13 0h0m2-2h0m10-1h0m3-1h0m2 12h0m57 1h0m-58 12h0m-10-2h0m-2-2h0m-1 0h0m-1-7h0m-10 4h0m-10 9h0m0-1h0m0-6h0m-8 7h0m-4-5h0m0-8h0m-1 9h0m-2 5h0m-3 1h0m-6-6h0m-2 2h0m-5 0h0m-16-10h0m-1 8h0m-3-2h0m-18 2h0m-3-1h0m-2 3h0m-3-9h0m-2 6h0m-1-3h0m-6 7h0m-6 1h0m-1-13h0m0 13h0m-11-5h0m-3 6h0m-10-4h0m0 1h0m-1-7h0m-5 3h0m-7-2h0m-17 5h0m-13-2h0m-23 5h0m-51 0h0m-31-8h0m-34-5h0m31 31h0m17-1h0m46 0h0m0 0h0m9-1h0m4-3h0m12-8h0m1 8h0m2-8h0m2-2h0m8 4h0m5 2h0m0 6h0m4-3h0m14 6h0m0-2h0m0-7h0m3 5h0m5 1h0m4-12h0m5 10h0m1-9h0m2 2h0m12 5h0m4-2h0m4 8h0m1-7h0m1 2h0m1-6h0m1 8h0m5-5h0m6-3h0m5-1h0m1 10h0m0 1h0m2 2h0m1-10h0m4 9h0m0 0h0m1-7h0m6-1h0m0-1h0m2 3h0m1 6h0m8 0h0m1-11h0m3 8h0m7 3h0m5 0h0m0-8h0m2 6h0m6 3h0m1-3h0m0-8h0m1 3h0m1 0h0m3 3h0m5 3h0m1-6h0m5-2h0m1 8h0m1-4h0m7-2h0m3-6h0m4 1h0m3 9h0m0 3h0m4-13h0m3 13h0m1 0h0m11-9h0m1-2h0m1-3h0m2 4h0m3-1h0m2 6h0m13-8h0m16 1h0m10 8h0m-2 11h0m0 4h0m-6-2h0m-22-1h0m-11 1h0m-2 1h0m-5-4h0m0 9h0m-2-8h0m-3 6h0m-6-3h0m-3 6h0m-1-11h0m-1 10h0m-1 0h0m0-6h0m-3-2h0m-3 9h0m0-11h0m-1 2h0m-2-5h0m-1 6h0m-7-1h0m0 7h0m-1-5h0m-8 8h0m-6-15h0m0 15h0m0-11h0m-3 11h0m-4-9h0m0 8h0m-3-1h0m-1-11h0m0 9h0m-3-6h0m-1-1h0m-1-1h0m-4-2h0m-4 5h0m0 6h0m0-7h0m-1-3h0m-3 11h0m-5-7h0m-2 3h0m-2 1h0m-2-9h0m-1 2h0m-3 1h0m-5 5h0m0 6h0m-3 0h0m-1-10h0m-3 3h0m-2 5h0m-1-1h0m-2-2h0m-2-2h0m0-4h0m-4 4h0m-2 4h0m-1-3h0m-2-2h0m-3 3h0m-2 5h0m-2 0h0m0 0h0m-8-2h0m0-1h0m0 0h0m-1-12h0m-1 13h0m-1 1h0m0-14h0m-1 7h0m-1 7h0m-4-5h0m-4 6h0m-1-13h0m0 12h0m-2-12h0m-2 11h0m-2-10h0m-3 12h0m-2-4h0m-5-3h0m-1-7h0m-5 12h0m-3-12h0m-2 8h0m-1 1h0m-25-2h0m-5-6h0m-3 9h0m-12-9h0m-5 3h0m-3-4h0m0 14h0m-44-15h0m0 7h0m-53 2h0m-26-8h0m51 19h0m11 3h0m39 3h0m3 4h0m8 0h0m4-1h0m1-12h0m3 13h0m11-6h0m5 1h0m2 5h0m0-14h0m7 10h0m2 2h0m2 3h0m2-12h0m2-1h0m1-1h0m1 7h0m1-3h0m1 5h0m3-6h0m0 6h0m5-4h0m2-5h0m6 12h0m0 0h0m1-1h0m2-12h0m2 4h0m0 9h0m4 0h0m0-5h0m1-5h0m1 11h0m2-7h0m2 8h0m0-8h0m2-4h0m3 2h0m0 0h0m0 3h0m2 0h0m2 2h0m0-3h0m2 2h0m0-7h0m3 8h0m1-2h0m0-6h0m0 3h0m1-2h0m0 0h0m1 5h0m2 7h0m3-4h0m0-9h0m2 9h0m1-6h0m0 9h0m2-3h0m0-6h0m1 0h0m2-3h0m1-2h0m0 10h0m2 2h0m3 1h0m1 1h0m5-3h0m1-9h0m1 13h0m0-10h0m1-2h0m2 4h0m1-3h0m0 3h0m2 6h0m0-11h0m0 1h0m2-3h0m1 7h0m0-6h0m2 13h0m1-8h0m1 4h0m0 4h0m0-6h0m2-4h0m0 2h0m1 3h0m2 3h0m2 3h0m3-13h0m1 10h0m0-6h0m0 3h0m6-7h0m5 1h0m0-1h0m1 3h0m2 2h0m0 1h0m2-7h0m0 6h0m1-4h0m4 5h0m4-3h0m1 6h0m2-5h0m3 8h0m0-1h0m0-6h0m1 1h0m0-5h0m0-2h0m2 5h0m0 7h0m1 0h0m0-10h0m1 10h0m3-3h0m1-5h0m0 10h0m3-4h0m4-9h0m0-1h0m1 5h0m2 5h0m0-2h0m3-2h0m0-2h0m2 3h0m1 7h0m0-10h0m3 6h0m0 1h0m2-9h0m0 0h0m1 6h0m0-1h0m0-4h0m4 0h0m1 4h0m1 6h0m9-4h0m2-8h0m1-2h0m0 0h0m2 3h0m0 1h0m2 0h0m2-3h0m0 14h0m1-10h0m1 10h0m1-13h0m2 5h0m1-5h0m17 7h0m2 0h0m4-8h0m0 3h0m15 11h0m14-5h0m8-4h0m3 18h0m-29 2h0m-5-1h0m-3 0h0m-7 0h0m-10-1h0m0-6h0m-9 4h0m-6-5h0m-1-1h0m-6 9h0m-6 2h0m0-8h0m-4 3h0m-1-4h0m-2 3h0m-1 1h0m-5 4h0m-4 1h0m-1-6h0m0-2h0m-2 10h0m-1-1h0m-3-9h0m-2 8h0m-1 2h0m0-2h0m-4-6h0m-2-3h0m-2 12h0m-1-1h0m-5-12h0m0 14h0m-2-9h0m-1-2h0m-1 5h0m0 6h0m-1 0h0m0-13h0m-1 5h0m0-2h0m-3 1h0m0 0h0m-4 9h0m0-7h0m-2-8h0m-2 3h0m-2 3h0m0-6h0m-2 5h0m-1-5h0m0 12h0m-3-9h0m0 6h0m-5-3h0m0 3h0m0 1h0m0-6h0m-1-2h0m-1-1h0m0 12h0m-1-2h0m0-8h0m-1 12h0m0-13h0m-1 11h0m0-2h0m-1-11h0m0 1h0m-2 8h0m-1-1h0m-1 6h0m-5-14h0m0 10h0m-1-5h0m-1 8h0m-1-2h0m0-3h0m-2 3h0m-2-5h0m-1-5h0m-1 13h0m0-10h0m0 10h0m0-1h0m-1 1h0m0-10h0m0-1h0m-1 8h0m-2-10h0m-1-1h0m-1 1h0m-1 1h0m-7 1h0m-1 4h0m-2 1h0m0 3h0m0-2h0m-1 3h0m0-1h0m-1-8h0m-1 5h0m-2 1h0m-1 4h0m-1 2h0m0-13h0m0 6h0m-1 2h0m-2-1h0m0-6h0m-1-3h0m-1 4h0m-2 11h0m-2-15h0m0 0h0m0 6h0m0-2h0m-4-4h0m-5 0h0m0 7h0m-1 5h0m0-6h0m-3-5h0m0 9h0m-1 3h0m0-11h0m-1 0h0m0 1h0m0 4h0m-1 6h0m0-10h0m0 1h0m-1 10h0m-3-9h0m-1 9h0m-4 0h0m-2 0h0m-1 1h0m-5-4h0m-2 3h0m0-4h0m-1 2h0m-2-1h0m0-6h0m0 6h0m-2 2h0m0-12h0m-1 6h0m-10-2h0m-3 4h0m0 6h0m-1-4h0m-3-5h0m-7 0h0m-2 7h0m-9-3h0m-3-5h0m-4 6h0m-1 1h0m-1-1h0m-24-1h0m-47-8h0m-8 12h0m-61-3h0m71 5h0m16 9h0m8-2h0m8-2h0m3-1h0m3 9h0m8 2h0m2-13h0m4 13h0m2-7h0m3 3h0m5-2h0m9-6h0m1 0h0m1 9h0m0-9h0m4 10h0m1-13h0m1 14h0m1-4h0m0 0h0m2 4h0m0-3h0m6 2h0m2-8h0m1 8h0m2 0h0m0 0h0m4-13h0m1 13h0m1-11h0m2 13h0m2 0h0m0 0h0m1-11h0m0 9h0m2-5h0m0 1h0m1-6h0m0-3h0m0 9h0m2 1h0m1 4h0m3-14h0m0 9h0m1-7h0m1 2h0m0 3h0m1 6h0m1-8h0m1 10h0m0-6h0m0 0h0m1-6h0m1-2h0m1 0h0m0 8h0m3 2h0m4-7h0m1 5h0m1 0h0m2 1h0m0-5h0m1 7h0m2-2h0m1-2h0m1 1h0m0-2h0m2 5h0m1-11h0m1 0h0m1 3h0m0 3h0m0 1h0m0 4h0m1-6h0m1 6h0m0-11h0m2 6h0m0 5h0m0-9h0m2 2h0m1 8h0m0-8h0m0-1h0m1-1h0m1 0h0m1 1h0m1 3h0m1 1h0m1-5h0m1 12h0m0-6h0m2-7h0m1 13h0m0-4h0m2-4h0m0 6h0m1-9h0m1-1h0m1 3h0m1 7h0m0 2h0m1-3h0m0-4h0m0-4h0m1-3h0m0 3h0m0 11h0m4-11h0m2 4h0m1-2h0m1-4h0m2 1h0m0 4h0m1 0h0m1-2h0m2-2h0m0 3h0m2 5h0m0-8h0m0 12h0m0-3h0m1 1h0m0-3h0m0-3h0m2-2h0m0 2h0m0 5h0m0 0h0m0-2h0m1-5h0m0 0h0m1 2h0m1 0h0m0 0h0m1 6h0m0-11h0m2-1h0m2 5h0m1 0h0m2 2h0m2-7h0m0 2h0m0 1h0m1-1h0m1 4h0m2-7h0m0 6h0m2 2h0m0-2h0m1 3h0m1 0h0m1 4h0m0-4h0m0 5h0m2-4h0m2-1h0m5 2h0m0-6h0m2-2h0m1 12h0m1-10h0m0 3h0m1 6h0m1 1h0m1-7h0m2 1h0m2-4h0m0 5h0m3 0h0m1-3h0m1 4h0m2-8h0m0 0h0m1 9h0m0-10h0m0 12h0m0-3h0m0 3h0m5-2h0m3-5h0m1-2h0m2 3h0m0 6h0m1 0h0m1-4h0m0 4h0m0-1h0m2-6h0m1-2h0m1-5h0m4 3h0m1 10h0m1-9h0m0 11h0m5-6h0m3 0h0m1 2h0m3 2h0m1-10h0m2 7h0m0 3h0m2 0h0m1-5h0m0-5h0m1 1h0m1 1h0m2 9h0m0-14h0m1 4h0m1 5h0m8-2h0m1-3h0m3 10h0m2-8h0m1 0h0m1-2h0m1 9h0m1-2h0m1 4h0m2-6h0m10-3h0m10-1h0m1-1h0m2 6h0m11-3h0m15 7h0m10 0h0m24 14h0m-37 1h0m-7 0h0m-3-7h0m-5-1h0m-5 10h0m-1-14h0m-1 0h0m-14 2h0m0 7h0m0-9h0m-5-1h0m-1 8h0m-3-7h0m-7 12h0m0-10h0m-10-3h0m-1 11h0m-3-11h0m0 2h0m-1 13h0m-1-1h0m-5-1h0m-2-9h0m-3-3h0m0 10h0m-1-2h0m-4 3h0m-2-3h0m-3-7h0m0 7h0m0-4h0m-1 10h0m0-2h0m-3-6h0m-2-5h0m0 8h0m-2-5h0m-2 7h0m-1-6h0m0 6h0m-2-6h0m-1 1h0m-1-6h0m-4 1h0m-2 3h0m-1-1h0m0 7h0m-1-7h0m-1 2h0m0 9h0m-2-1h0m-1-10h0m0-1h0m0 9h0m-1-1h0m-1-10h0m0 5h0m-1 7h0m0-4h0m-1-6h0m0 6h0m-2-7h0m0 2h0m-1 4h0m0 3h0m0-6h0m-1 6h0m0-10h0m0 2h0m-1-1h0m-1 1h0m0 3h0m0 8h0m-2-13h0m0 7h0m0-1h0m0-7h0m-1 1h0m-1 5h0m-1 8h0m-1-2h0m0-12h0m0 6h0m-2-3h0m0 3h0m-1 3h0m0-6h0m-2 7h0m0 4h0m0-1h0m-1-4h0m0-2h0m0 7h0m-3-11h0m-2 3h0m0-2h0m0 9h0m0-11h0m-4 13h0m-3-15h0m-1 6h0m0 7h0m0-9h0m-1 4h0m-1 0h0m0-6h0m-1 6h0m-2 5h0m0-6h0m-1 4h0m-1-8h0m-1 3h0m-1 9h0m-4-14h0m-6 12h0m-2-10h0m0-2h0m-1 1h0m0 7h0m-1-9h0m0 6h0m0 6h0m-3 0h0m0-2h0m-1-2h0m-4-4h0m-1 2h0m-1 4h0m0 0h0m0-2h0m-1-2h0m-1 9h0m0-12h0m-1 3h0m-1-3h0m0 3h0m0 6h0m-1-2h0m-3 3h0m-1-2h0m-1-7h0m0 9h0m-1-8h0m-2-3h0m0 9h0m0 1h0m-1-8h0m0 7h0m-1-2h0m-1 4h0m-1-6h0m0-2h0m-2 3h0m0 6h0m-2-7h0m-1 2h0m-1 3h0m-6-2h0m0-4h0m-1-2h0m0 7h0m-2-11h0m-1 12h0m-1-6h0m0-3h0m-2 9h0m-1-2h0m-1-8h0m0 4h0m0-2h0m0 5h0m0 3h0m0-9h0m-1 0h0m0 6h0m-2 6h0m-1-9h0m0 4h0m0 3h0m-5-2h0m-1 3h0m0-6h0m0-8h0m-1 14h0m-3-9h0m0 1h0m0 2h0m0 3h0m-1 3h0m-1-5h0m-1-3h0m0 4h0m-1-5h0m0 10h0m-1-8h0m-2 1h0m-2 5h0m-1-11h0m0-1h0m-4 7h0m0-8h0m-1 13h0m0-9h0m-1 0h0m-2 10h0m-1-12h0m-1-1h0m-1 10h0m-3-3h0m-4 3h0m-2-1h0m0-7h0m0 5h0m-2 0h0m-1-5h0m-3 10h0m-2 0h0m-1-10h0m-1 8h0m0 1h0m-3 0h0m0-11h0m0-1h0m0 0h0m-1 4h0m0 9h0m-2-8h0m-2 3h0m-2-8h0m-3 15h0m0-5h0m-4 1h0m-2-1h0m-2 5h0m-3-3h0m-9-6h0m-7 8h0m-11-6h0m-68-7h0m39 30h0m8-14h0m3 13h0m6-11h0m8 3h0m4 6h0m6 0h0m0-12h0m2 12h0m16-1h0m1-6h0m0 0h0m1 8h0m1-4h0m5 1h0m4-3h0m2-2h0m0-2h0m1 9h0m2 3h0m2-8h0m1-3h0m2-1h0m2-2h0m4 3h0m0-2h0m1 11h0m1-1h0m6-1h0m5-3h0m3 6h0m0-12h0m2 2h0m0 4h0m0-5h0m1 6h0m0-2h0m3-2h0m1-3h0m1 4h0m2 0h0m1 3h0m0-7h0m1 12h0m1-13h0m1 4h0m1 1h0m1-5h0m1 6h0m4 5h0m0-10h0m3 5h0m1 4h0m0 2h0m0-13h0m0 11h0m7-1h0m0-7h0m2 3h0m0 1h0m2 0h0m0 0h0m0 8h0m2-3h0m0-9h0m1-3h0m0 9h0m1-4h0m0-2h0m0 8h0m0-8h0m1 0h0m0 9h0m0-4h0m3 5h0m0-3h0m1 1h0m1 1h0m0 2h0m2-7h0m3 1h0m1-6h0m0 7h0m0-3h0m1 1h0m1-4h0m1 3h0m1 4h0m1-10h0m0 10h0m1 0h0m0-3h0m0 7h0m0-3h0m1-4h0m1-5h0m1 1h0m0-3h0m1 1h0m1 8h0m0 3h0m0-12h0m0 0h0m1 3h0m1-1h0m1 10h0m1-5h0m2-5h0m1 13h0m1-1h0m4-6h0m1 3h0m0-7h0m2 11h0m1-6h0m0-2h0m0 1h0m1-4h0m1 2h0m1 7h0m1 2h0m0-8h0m1 0h0m1 6h0m1-3h0m1-4h0m2-1h0m0-1h0m0 9h0m2-10h0m5 2h0m0-3h0m0 10h0m2-10h0m1 8h0m0 1h0m1 2h0m2-9h0m0 10h0m0-5h0m0-9h0m0 10h0m2 2h0m1-3h0m0-8h0m1-1h0m0 5h0m2-1h0m0 9h0m3 1h0m0-6h0m1-1h0m1 1h0m0 7h0m1-2h0m1-6h0m1-4h0m1-2h0m0 13h0m1-8h0m1 4h0m0 2h0m1-4h0m2 3h0m0-4h0m1 0h0m1 6h0m2-13h0m4 2h0m3-1h0m0 7h0m1 2h0m1 4h0m1-7h0m0 3h0m0-10h0m3 7h0m0-4h0m1 2h0m4 2h0m0-5h0m1 11h0m1-1h0m1-12h0m0 4h0m4 11h0m1-6h0m1 1h0m1 2h0m0-7h0m1 2h0m0-6h0m0 9h0m1-10h0m1 7h0m1-3h0m1-2h0m1 8h0m5 4h0m0-10h0m1-1h0m1 12h0m1-7h0m1 1h0m1-4h0m1-3h0m0-1h0m1 5h0m1 2h0m1 3h0m1 2h0m1-12h0m0 1h0m0-1h0m1 10h0m4-11h0m0 15h0m1-8h0m1 2h0m8 1h0m2-3h0m0 4h0m1-2h0m2-3h0m1-4h0m2 3h0m1 0h0m6-4h0m2 10h0m2 2h0m0-1h0m0-2h0m1-2h0m4-8h0m27 15h0m30-9h0m36-6h0m3 3h0m-50 16h0m-13 7h0m-1-1h0m-13-6h0m-13 12h0m-3-3h0m-2-6h0m-1 7h0m-5-5h0m-6 3h0m-2-4h0m-4-6h0m-3 11h0m-2-10h0m0 13h0m0-11h0m-1 11h0m0-14h0m-3 2h0m-1 7h0m-4-7h0m-1-3h0m-2 1h0m-1 4h0m0-3h0m-2 3h0m0 6h0m0-2h0m-2-9h0m-1 1h0m-1 1h0m-2 12h0m-1-4h0m-2-2h0m0-5h0m0 10h0m-4-5h0m-1-5h0m0 8h0m-3-10h0m-2 2h0m-3 1h0m0 3h0m-5-1h0m-4 3h0m0-3h0m-1 1h0m-1-4h0m-1 4h0m-1-7h0m0 15h0m-1-10h0m0-3h0m0 12h0m-2 1h0m-3-11h0m-1-4h0m0 4h0m-2 5h0m0 4h0m0-3h0m-1-7h0m0 6h0m-1-1h0m0-7h0m-3 9h0m-1 2h0m-2 3h0m-1-6h0m-2 6h0m-1-1h0m-3-5h0m0 2h0m0-8h0m0 2h0m-1 4h0m0 6h0m-2 0h0m-1-4h0m-2 4h0m-1-13h0m0 11h0m0-1h0m-2-5h0m0 5h0m-1 0h0m-1-1h0m-1 0h0m0 0h0m0 1h0m-1-4h0m0 6h0m-2-4h0m-1-5h0m0 9h0m0-4h0m0 4h0m-1-8h0m0 3h0m-1-1h0m-1 4h0m-2-11h0m-2 1h0m-3 4h0m0 9h0m-2-15h0m0 5h0m-2 1h0m-1 6h0m-2-3h0m-2-2h0m-2-5h0m0 10h0m-1 1h0m-2-1h0m-1-4h0m-1-5h0m0 0h0m-1 8h0m0-8h0m-1 11h0m-1-10h0m-2 7h0m-1-7h0m-1 3h0m0 6h0m-1-4h0m-2-4h0m0 7h0m-1-8h0m0 4h0m-1-6h0m-3-1h0m-1 7h0m-1-4h0m0-3h0m-1 12h0m-1-3h0m-1-2h0m0-3h0m0-4h0m-1 14h0m-2-1h0m-1-2h0m0-7h0m0 5h0m-4-1h0m0-4h0m-1 1h0m-1 0h0m0 1h0m-2 3h0m-3 1h0m-3-1h0m0-4h0m-2 4h0m-1-7h0m0 9h0m-2 3h0m0-3h0m0-5h0m-1 6h0m-3-8h0m0-2h0m-2 3h0m-2-6h0m-1 12h0m-2-8h0m-2 4h0m-1-6h0m-3 6h0m-2-6h0m-1-2h0m0 5h0m-4 0h0m0-5h0m-3 8h0m0 2h0m-1-10h0m-2 12h0m-2-3h0m0-2h0m-1 2h0m-1 2h0m-6-4h0m-2 2h0m-2 1h0m-3-7h0m-4 1h0m-1 0h0m0 1h0m-1 2h0m-4-4h0m-1 10h0m-1-1h0m-1-6h0m-1 3h0m-14-1h0m0 0h0m-14 7h0m-12-5h0m-1-4h0m-8-2h0m-89 7h0m81 6h0m7 8h0m1 0h0m8 0h0m11-3h0m7-5h0m1 2h0m3 12h0m6 0h0m1-10h0m8 5h0m1-5h0m1 9h0m6-7h0m0-6h0m3 4h0m4-5h0m0 6h0m0-3h0m6 8h0m1-5h0m1 7h0m0-1h0m1-6h0m0 0h0m5-2h0m1 4h0m1 7h0m0-1h0m1 0h0m1-7h0m1 6h0m1-3h0m1-10h0m2 8h0m1-7h0m1 3h0m1 0h0m2-2h0m0-2h0m2 15h0m0-11h0m3 5h0m4-2h0m1 2h0m1-6h0m0 12h0m0-7h0m3 6h0m0-7h0m0-5h0m0 4h0m2 1h0m0-2h0m1-2h0m3 0h0m0 12h0m0-15h0m3 14h0m1-9h0m0 5h0m0 5h0m2 0h0m1 0h0m1-13h0m0-1h0m0 1h0m1 12h0m0-10h0m1 4h0m1 1h0m1 5h0m1-10h0m1 0h0m0 11h0m2-10h0m0-5h0m0 6h0m1-4h0m2-1h0m2 4h0m1-4h0m2 4h0m0-1h0m0 1h0m2 5h0m1-7h0m0 6h0m1 6h0m1-11h0m2 3h0m1 2h0m0-1h0m2-3h0m0-4h0m0 12h0m1-12h0m0-1h0m1 7h0m0-7h0m1 11h0m3 2h0m1 2h0m0-13h0m0 4h0m0-6h0m0 11h0m2-6h0m0-4h0m0-1h0m1 10h0m0 0h0m1-10h0m0 13h0m4-9h0m0-2h0m0 0h0m1 0h0m4-1h0m0 14h0m2-3h0m0-2h0m1 5h0m2-4h0m1 4h0m1-8h0m0 5h0m0 1h0m3-8h0m0 1h0m0 1h0m1 4h0m0-4h0m0-1h0m0 0h0m1 4h0m0 0h0m0 4h0m1-6h0m0-3h0m0 10h0m2 0h0m0-2h0m1-13h0m0 8h0m2 3h0m0 3h0m1-3h0m0-10h0m0-1h0m0 10h0m1-9h0m0 8h0m1-5h0m1-1h0m0-2h0m1 6h0m0-7h0m1 0h0m0 6h0m1 7h0m1-2h0m0 1h0m0 0h0m0-10h0m1 7h0m0-1h0m0 7h0m1-4h0m0-2h0m1 3h0m3-11h0m1 11h0m0-3h0m3-5h0m2 8h0m1-2h0m0 5h0m1-4h0m0-2h0m1-8h0m0 3h0m0-1h0m0 10h0m2-8h0m1 10h0m0-8h0m4-3h0m0 0h0m2 9h0m3-3h0m0-10h0m2 15h0m1-15h0m0 14h0m0-5h0m3 1h0m1-5h0m1 9h0m1-12h0m1 10h0m2-8h0m2 9h0m0-12h0m1 4h0m0 2h0m4 3h0m0-10h0m1 13h0m1-6h0m0 2h0m2 6h0m3-6h0m2-8h0m3 10h0m0-5h0m1-4h0m3 2h0m0 6h0m3-6h0m2 3h0m3-3h0m3 8h0m1-4h0m1 2h0m3 2h0m0 1h0m4-11h0m4 10h0m3-1h0m8 3h0m2-3h0m4-11h0m7 12h0m6-7h0m0-5h0m2 2h0m11 12h0m47-14h0m-11 26h0m-40-8h0m-43 2h0m-2-2h0m-1 6h0m0-5h0m-3-1h0m-2 12h0m-1-8h0m-2 4h0m-2 1h0m-1 0h0m-4-11h0m-1 8h0m-3-7h0m0 14h0m-4-13h0m-3-2h0m-1 7h0m-2-2h0m-2-1h0m-2 3h0m0 0h0m-2 1h0m0 1h0m-2 5h0m-1-12h0m-3 4h0m-1-5h0m-1 0h0m-1 11h0m-1-5h0m-1 7h0m-3-1h0m0-7h0m0-3h0m0 9h0m-1 0h0m-1 1h0m-3-5h0m-4 0h0m-1-8h0m-1 7h0m0 5h0m-1-1h0m-4-11h0m-2 1h0m0 5h0m0 5h0m-1-5h0m-2 1h0m0 0h0m-1 2h0m0 6h0m-2-3h0m0-7h0m-4 8h0m-2 1h0m-1-2h0m-1-2h0m-1-6h0m0 11h0m-1-5h0m0-5h0m0 9h0m-2-11h0m-1 10h0m0-7h0m-3 3h0m0-8h0m-2 10h0m-1 0h0m-1-4h0m0-5h0m-1 10h0m-3 0h0m0-12h0m0 8h0m-3 0h0m0-4h0m-1 4h0m-2 5h0m-1-12h0m0-1h0m0 7h0m0-4h0m-1 4h0m-1 1h0m-2 6h0m-3-6h0m-2-6h0m-1 12h0m-2 1h0m0-7h0m0-3h0m-1-1h0m-3 0h0m0 0h0m-1-3h0m-2 3h0m-2 8h0m0-11h0m0 13h0m0-1h0m0-3h0m-1-1h0m0-7h0m-1 4h0m-1-4h0m0 3h0m-1-3h0m0 7h0m-1-3h0m-1-2h0m0 2h0m-2-4h0m0 8h0m0-4h0m-1-1h0m0 9h0m-1-8h0m0-4h0m-1 8h0m0-10h0m-1 7h0m-2 3h0m0-9h0m-1 7h0m-1 1h0m-2-3h0m-1 5h0m-1 1h0m-1-2h0m-1-3h0m-1 6h0m0-13h0m-2 1h0m-1 12h0m-1-5h0m-2 4h0m-1 2h0m0 1h0m-1-13h0m0 8h0m-3-8h0m-2 13h0m-1-1h0m0 0h0m-1-10h0m0 2h0m-3 1h0m0-7h0m0 10h0m-1 4h0m0-5h0m-3-6h0m0 8h0m-1-8h0m-1 7h0m0-8h0m-1 7h0m0 3h0m0 2h0m-2-9h0m-1 3h0m0-5h0m-1 10h0m-3 2h0m-1-5h0m0-1h0m0 4h0m-1-2h0m0-9h0m-1 2h0m-1 7h0m-1-11h0m-2 14h0m0-6h0m0 5h0m-2 0h0m0-6h0m0 1h0m-3-8h0m-4 6h0m-1-3h0m0 11h0m-10-4h0m-1-1h0m-1 6h0m-9-7h0m0 4h0m0-10h0m-2 6h0m-8-1h0m-8-3h0m0-3h0m-18 3h0m-18-2h0m-2 11h0m-88-10h0m-7 23h0m81-4h0m24 4h0m3-3h0m3-5h0m3 2h0m1 7h0m4 0h0m19-7h0m13 10h0m3-10h0m1 0h0m10 11h0m0-12h0m1-3h0m3 7h0m0 4h0m5-2h0m9-2h0m1 8h0m1-2h0m3-10h0m2 1h0m0 1h0m11 0h0m1 2h0m1-6h0m1 11h0m1-8h0m1-2h0m0 7h0m1 1h0m5-2h0m4-1h0m3 6h0m0-2h0m1-1h0m1-5h0m1 8h0m2-7h0m2 5h0m0-2h0m3 1h0m1 2h0m1-10h0m1-2h0m0 4h0m1 2h0m8 2h0m1 0h0m0-7h0m0 14h0m0-14h0m1 1h0m5 2h0m5-1h0m0 10h0m2 0h0m1-4h0m2-5h0m0 0h0m1 0h0m0 3h0m1 7h0m0-10h0m2 9h0m0-10h0m0 9h0m7 2h0m0-6h0m1-7h0m1 13h0m0-5h0m0-7h0m1 11h0m2-9h0m1 4h0m1 7h0m1-7h0m2 6h0m1 1h0m1-6h0m0 5h0m0-6h0m2-3h0m3-5h0m1 15h0m1-15h0m0 15h0m2-13h0m1 9h0m2 0h0m1-10h0m0 3h0m2 5h0m1 0h0m8-2h0m0 2h0m0 6h0m0-7h0m2-8h0m2 5h0m1 4h0m4 4h0m3-2h0m0-4h0m2 4h0m2-2h0m1 2h0m2-10h0m1 11h0m4 1h0m2-4h0m0-9h0m3 9h0m6-3h0m1 8h0m0-1h0m1 1h0m8-14h0m8 13h0m20-2h0m6 1h0m6-12h0m38 14h0m159-13h0m-109 23h0m-38 7h0m-13 0h0m-17-11h0m-3 3h0m-8-1h0m-5 3h0m-2 2h0m-18 1h0m-14-3h0m-4 2h0m-2-5h0m-6-6h0m-3 15h0m-3-7h0m-8 0h0m-8 5h0m-3-9h0m0 9h0m-5-6h0m-2-4h0m-1 3h0m-2 4h0m-3 5h0m-1-11h0m0 1h0m0-5h0m-3 10h0m-1-9h0m-1 14h0m-1-9h0m-2 3h0m-5-6h0m0 3h0m-1-2h0m-6 8h0m-1 0h0m0-7h0m-5-1h0m-8-3h0m-2 12h0m-1-6h0m-2 8h0m-2-10h0m0 9h0m-4-2h0m-1 3h0m-3-15h0m-1 15h0m-1-13h0m-1-2h0m-2 3h0m0 1h0m-2 8h0m0-8h0m0-1h0m-2 5h0m-3-7h0m-1 0h0m-1 9h0m-1-1h0m-3-1h0m0-4h0m-6 2h0m-11 2h0m-1 1h0m-2 6h0m-1-10h0m-5 10h0m-2-15h0m-2 8h0m0-4h0m-8 6h0m-1-3h0m-2 1h0m-1-5h0m-1 8h0m-2-10h0m-1 4h0m-1 1h0m-1 6h0m-4-7h0m-4-2h0m-9 1h0m-5-2h0m-1 10h0m-2-3h0m-2 1h0m-1 1h0m0 2h0m0-4h0m-3-8h0m-3-1h0m-1 1h0m-1 8h0m-5-5h0m-6-3h0m-10 12h0m-3-9h0m-16 6h0m-11-4h0m-4-4h0m-16 13h0m-2-1h0m-69-11h0m62 20h0m2 0h0m50-7h0m13 5h0m1 6h0m2 3h0m18-7h0m9-5h0m16 6h0m3 5h0m0 2h0m9-15h0m1 6h0m0 9h0m5-14h0m3 4h0m3-1h0m8 2h0m7 5h0m7-8h0m1 4h0m0 2h0m6-8h0m3 1h0m0 9h0m2-8h0m1 5h0m1 6h0m0-7h0m1-6h0m0 8h0m2 0h0m2-8h0m2 1h0m1 7h0m3-8h0m0 4h0m0 6h0m2-8h0m0 6h0m8-5h0m4-3h0m0 4h0m7-1h0m3 6h0m0-6h0m2-3h0m0 5h0m6-6h0m0 7h0m3 7h0m9-13h0m6 14h0m1-6h0m1 5h0m5-10h0m3 3h0m1-1h0m3-2h0m6 2h0m32 0h0m49 4h0m40 11h0m-101-5h0m-5 3h0m-1-1h0m-3 6h0m-5 4h0m-11-9h0m-2 1h0m-8 10h0m-24-6h0m-5-6h0m-5 5h0m-11-5h0m-11 10h0m-3-12h0m-6 0h0m-5 3h0m-10-1h0m-3 4h0m-2 2h0m-4-6h0m-3 4h0m-2-5h0m-3 2h0m-3-1h0m-9 12h0m-2 0h0m-1-7h0m-4-3h0m-4 9h0m-2-12h0m-7 8h0m-32-3h0m-93 3h0m51 18h0m13-8h0m70 7h0m13-9h0m0 5h0m0-2h0m7-4h0m3 1h0m5 7h0m28 6h0m2-3h0m4-10h0m4 1h0m1-1h0m10 4h0m1 10h0m2-9h0m11 3h0m8-5h0m3 11h0m4-8h0m4-1h0m15 0h0m7-3h0m0 0h0m4 5h0m8 7h0m51-7h0m35 4h0m18-7h0m-46 17h0m-79 7h0m-34-3h0m-87-1h0m-3-7h0m-5 0h0m-8 7h0m-1-8h0m-63 23h0m28 3h0m10-8h0m63 9h0m66-4h0m14-5h0m2 10h0m79 0h0m54-6h0m-46 19h0m-15 0h0m-41 2h0m-11 3h0m-32 0h0m-46-11h0m-11-4h0m-44 3h0m-17-3h0m-56 14h0m83 9h0m9-6h0m64 2h0m64 7h0m0-2h0m67-8h0m4 4h0m-208 15h0" stroke="#ff0000" stroke-width="5.2"/></g><g clip-path="url(#cA)"><path class="d" transform="scale(.5)" d="M585 45h0m7 2h0m4-2h0m25 15h0m-1-4h0m-1 6h0m-12-10h0m-3 10h0m0 0h0m-2-11h0m-1 0h0m0 3h0m0 7h0m-1-4h0m0-8h0m0 6h0m-1 2h0m-2 3h0m0-1h0m-1-1h0m0-9h0m0 2h0m0-3h0m-1 2h0m-2 2h0m-1 11h0m0-7h0m-1 2h0m-1-2h0m0 1h0m0 5h0m0-3h0m0-11h0m-2 9h0m0 0h0m-1-1h0m-4-6h0m0 13h0m-1-11h0m-1 5h0m-2-8h0m-1 0h0m-1 14h0m0-3h0m-11 3h0m-2 12h0m2-3h0m6 4h0m1-5h0m1 7h0m0-11h0m1 12h0m3 0h0m0-3h0m0-12h0m0 2h0m1 4h0m0 6h0m1 2h0m2-10h0m0-2h0m0 2h0m1-3h0m1 2h0m0 2h0m1-4h0m0 0h0m2 2h0m1 8h0m0-9h0m0 5h0m1-5h0m0 1h0m2 1h0m1 3h0m0 8h0m1-8h0m2-4h0m0 8h0m0-10h0m1 1h0m0 9h0m1-5h0m0-3h0m1 9h0m0 1h0m3-9h0m1 8h0m0-12h0m0 15h0m1-1h0m0-1h0m1-12h0m0 11h0m1-10h0m1 4h0m1 3h0m1-2h0m2 3h0m3 2h0m1-8h0m0 1h0m7 15h0m-5 8h0m-6 3h0m0-14h0m-1 11h0m-4-7h0m0 1h0m-1-1h0m-3-5h0m-1 0h0m-1 14h0m-1-10h0m-2-1h0m-2 1h0m-1 5h0m-1-2h0m-1-1h0m-3 0h0m0-3h0m0 10h0m-1-11h0m-1 1h0m-1 0h0m-1-1h0m0 11h0m-1-1h0m-2-11h0m0 13h0m-1-12h0m-2 5h0m0 3h0m-1 1h0m-1 0h0m-4 1h0m-1 0h0m0 2h0m-1-2h0m-4-12h0m-3 15h0m-207 16h0m38-3h0m63-2h0m22-1h0m29 5h0m3 1h0m16-6h0m1 3h0m1 3h0m3-1h0m8-2h0m1-8h0m0-3h0m1 4h0m3 5h0m3-6h0m5 8h0m2-12h0m2 3h0m1-2h0m0 1h0m4 2h0m2-4h0m1 4h0m0 11h0m1-14h0m1 7h0m1 1h0m1 0h0m1 6h0m2-7h0m1 2h0m0 5h0m0-7h0m1 4h0m1 1h0m0-12h0m2 3h0m1 10h0m0-3h0m0-6h0m0 4h0m2 5h0m0-13h0m1 5h0m1 0h0m2-1h0m1-5h0m0 2h0m0 0h0m1 2h0m1-1h0m0-1h0m0 3h0m2 0h0m1 6h0m3-11h0m2 0h0m1 4h0m0 2h0m3-6h0m0 14h0m26-9h0m-2 21h0m-17 4h0m-3-1h0m-3-7h0m-1 7h0m-4-3h0m-5-1h0m0-5h0m0-4h0m0 15h0m0-6h0m-1-2h0m0-6h0m-2 1h0m0 7h0m-1-4h0m-1 7h0m0-7h0m-1 0h0m-3-3h0m-2 0h0m0-1h0m-1 9h0m-1-2h0m-1-6h0m-1 8h0m-1-3h0m0-7h0m-1 5h0m0 6h0m0-1h0m-2 4h0m-8-11h0m-1 1h0m0 11h0m-2-11h0m-1 6h0m-2-7h0m-3 10h0m-1-10h0m0 4h0m-1 5h0m-4-10h0m-1 8h0m-1-2h0m-1-1h0m-1-4h0m-7 0h0m0 9h0m0-10h0m-8 13h0m0-5h0m-4 0h0m-1-4h0m0-3h0m-1 4h0m-3 7h0m-3-7h0m-7 2h0m-1-8h0m0 6h0m-4 3h0m-82-5h0m-16-2h0m-14 11h0m-3-13h0m-3 6h0m-1 2h0m-1 6h0m0-7h0m-1-2h0m-3-4h0m-7 13h0m-3 0h0m-3-5h0m-7 4h0m0-11h0m0 7h0m-1 3h0m-1-1h0m-5-3h0m-10-9h0m-23 1h0m-14 24h0m3-6h0m5-3h0m2 2h0m16 8h0m20-1h0m0-4h0m0-1h0m2 6h0m1-1h0m1 3h0m3-11h0m1 8h0m3-2h0m1 2h0m1 3h0m1-7h0m2-3h0m0 5h0m5 0h0m0 7h0m2-14h0m1 14h0m4 1h0m8-5h0m0-7h0m0 1h0m1 5h0m0 6h0m3-1h0m2-5h0m2 2h0m1-2h0m8 5h0m2-4h0m1 2h0m2 3h0m4-7h0m0-1h0m1 1h0m2 4h0m2-2h0m0-8h0m0 9h0m3-9h0m8 8h0m31-1h0m2-7h0m10 12h0m3-7h0m13 6h0m6-2h0m4-1h0m1 5h0m1-14h0m2 2h0m4 1h0m7 8h0m0-10h0m0 5h0m1 1h0m1-1h0m0-2h0m1 5h0m2 0h0m2-6h0m1 8h0m2-2h0m0 5h0m2-3h0m0-10h0m1 10h0m0-3h0m1-4h0m1 5h0m4-6h0m0 0h0m7-1h0m0-2h0m1 2h0m0 4h0m2 1h0m4-4h0m2 4h0m0-5h0m0 9h0m2 0h0m1-12h0m0 7h0m4 1h0m2-3h0m1 4h0m0 2h0m1-8h0m4 5h0m2-2h0m1 0h0m2 0h0m1 6h0m0-5h0m0-6h0m0 14h0m1-12h0m3 10h0m1-12h0m0 4h0m1 9h0m0-7h0m2-3h0m1 7h0m1-1h0m2 3h0m4-12h0m0 9h0m0 3h0m1 2h0m3-1h0m0-14h0m1 11h0m1-11h0m0 14h0m1-2h0m6-5h0m4 3h0m7-2h0m2-2h0m1-1h0m10-1h0m9 20h0m-1-7h0m-9 5h0m-3 0h0m-4 5h0m0-8h0m0 1h0m-1 1h0m0 5h0m-1-10h0m0 15h0m0-13h0m0 5h0m-2-7h0m0 5h0m-1 2h0m0-7h0m-1 3h0m-2 3h0m-3 4h0m0 0h0m-4-9h0m-1 11h0m-1-3h0m-1 3h0m-5-5h0m-1-7h0m-1 5h0m0 8h0m-1-5h0m-1 0h0m-3-1h0m0-2h0m0 4h0m-4-4h0m-1 8h0m-1-9h0m0 4h0m-3-3h0m-1 5h0m-2 4h0m-4-5h0m-4-1h0m-2-6h0m-1 7h0m-1-5h0m-1 11h0m-5-10h0m-1 5h0m-1 2h0m-1-1h0m-1-6h0m-1 0h0m-3 1h0m-1 3h0m-1 6h0m0-11h0m0 8h0m-3-7h0m-1 3h0m0-7h0m0 7h0m-1 2h0m-1 4h0m-1-11h0m0 2h0m-3 9h0m0-10h0m-3 3h0m0-2h0m0 5h0m-1-6h0m-2 0h0m-1-1h0m-4 2h0m0 0h0m-1 6h0m-1-5h0m-2 2h0m0-2h0m-1-4h0m-2 8h0m-1 1h0m-3-9h0m-1 5h0m-3-1h0m0 0h0m-1-4h0m-2 13h0m-1-7h0m0-1h0m-2-3h0m-1 9h0m-1-12h0m-1 11h0m0-3h0m-1-4h0m0-4h0m-2 13h0m0-13h0m-1 3h0m-2 10h0m-3-13h0m-2-1h0m0 2h0m-1 12h0m-2 0h0m0-13h0m-2 13h0m-4 1h0m-15-2h0m-1-11h0m-6 12h0m-1-7h0m-9 5h0m-1 3h0m-1-4h0m-2 4h0m-5-6h0m-4-4h0m-5-5h0m-14 8h0m-1-2h0m0 9h0m-3-8h0m0 2h0m-2-4h0m-1-3h0m-4 5h0m-4 7h0m-2-6h0m-1-6h0m-1 5h0m-2 8h0m-1-9h0m0 6h0m-5-4h0m0 6h0m-1-10h0m-3 5h0m-1-3h0m-2 8h0m-2-7h0m0-7h0m-3 15h0m0 0h0m0-9h0m-4 6h0m-1-6h0m-1 8h0m-4-13h0m-2 14h0m-2-3h0m-7-12h0m-5 9h0m0 1h0m0 5h0m-1-15h0m0 7h0m0 7h0m-2-12h0m0 10h0m-1 2h0m-2-14h0m-1 7h0m0-5h0m0 11h0m0-6h0m-2-4h0m0 10h0m-1-8h0m-4 8h0m-4-11h0m-2 10h0m-72 10h0m24-4h0m18 7h0m3-5h0m6 2h0m8-3h0m8 9h0m3-9h0m4 11h0m1-2h0m2-8h0m3-1h0m2 4h0m2-1h0m2 7h0m0-8h0m5 8h0m6-8h0m4-2h0m3 1h0m1-3h0m0 8h0m4-7h0m5-2h0m0 2h0m0 0h0m1 12h0m2-10h0m0 10h0m1-3h0m1 0h0m0-1h0m3 0h0m4-4h0m2 5h0m1-5h0m0 6h0m2-10h0m0 8h0m1 3h0m0-5h0m0 7h0m2-3h0m2-4h0m2-7h0m1 11h0m0 1h0m0-3h0m1-6h0m0 9h0m0-12h0m8 4h0m1 0h0m1-2h0m0 1h0m1 9h0m1-11h0m0 5h0m2-1h0m2 2h0m1 5h0m2-10h0m3 3h0m6 5h0m1-6h0m5 2h0m0 0h0m1-6h0m0 11h0m3-5h0m6-5h0m4 5h0m3 8h0m0-7h0m1 2h0m7 5h0m2-6h0m7-1h0m2 6h0m1-13h0m2 11h0m2-10h0m1 11h0m1-6h0m0 1h0m2-4h0m0 3h0m11-4h0m1-3h0m0 9h0m1-4h0m1 7h0m0-12h0m3 2h0m0 12h0m1-3h0m0-10h0m1 1h0m2 4h0m1-6h0m1 2h0m5 4h0m0 3h0m1-6h0m1-3h0m1 13h0m1-10h0m7-2h0m0 5h0m3 2h0m0 2h0m1-4h0m6 0h0m1-3h0m0 12h0m1-7h0m0 1h0m2-7h0m1 1h0m1 12h0m1-14h0m0 1h0m1-2h0m0 15h0m0-8h0m1 3h0m1-10h0m0 11h0m0 2h0m1-9h0m0 8h0m1-11h0m0 1h0m2 3h0m1-3h0m1 11h0m1-4h0m0-8h0m1 10h0m1 3h0m1-11h0m0 12h0m0 0h0m4-4h0m0 2h0m2-9h0m1 9h0m1 2h0m0 0h0m1-15h0m0 11h0m0 1h0m2-12h0m1 9h0m2-8h0m2 6h0m3-3h0m0 6h0m2-1h0m2-2h0m1 6h0m1-10h0m4 6h0m0 0h0m3-7h0m0 12h0m1-7h0m2-1h0m1-5h0m0 6h0m1 3h0m1-2h0m1 6h0m4-11h0m0 2h0m2 5h0m3 3h0m1-2h0m2-8h0m0 7h0m2 3h0m3 0h0m0-12h0m0 10h0m0-9h0m1-1h0m0 10h0m2-6h0m2 3h0m0 7h0m2-6h0m1 5h0m0-4h0m1-8h0m2 13h0m3-7h0m0-6h0m10-2h0m3 16h0m-2 8h0m-2-2h0m-4-6h0m-3 6h0m-3 4h0m-2 3h0m-3-6h0m0-2h0m-3 9h0m-1-6h0m-1-5h0m-1 11h0m-3-13h0m-3 12h0m-2 2h0m0-9h0m0 1h0m-1 8h0m-1-8h0m-2 8h0m0 0h0m-3-10h0m-2 3h0m-2-5h0m-1 10h0m-1-9h0m-1 2h0m-1 3h0m-1-7h0m-4 7h0m-2 6h0m-2 0h0m-3-4h0m-1 4h0m-1-2h0m-5 0h0m0-9h0m-2 5h0m0 4h0m0-5h0m-1 5h0m0 1h0m0-11h0m0-3h0m0 14h0m-2-2h0m-7-7h0m-1 2h0m0-7h0m0 8h0m0 6h0m-6 0h0m-1-12h0m-1 11h0m-1-5h0m0 5h0m0-1h0m-1-5h0m-1 3h0m-1-8h0m0 6h0m0-2h0m-3-2h0m0 8h0m0 3h0m-1-6h0m0 3h0m-1-7h0m0-5h0m0 8h0m-2 4h0m0-10h0m0 7h0m-1 0h0m0-3h0m-1-4h0m0 0h0m-1 12h0m-1-6h0m-2 3h0m-1-5h0m-2 4h0m-6-6h0m0 6h0m-2 0h0m0 1h0m-3 4h0m0-12h0m-3 6h0m-1-4h0m-2 5h0m-1-2h0m-2-7h0m0 10h0m0-1h0m-2-5h0m-1 1h0m-2 5h0m-2-6h0m-1 7h0m-1-9h0m0 2h0m-1 10h0m-1-8h0m-1-3h0m-2 0h0m-3 2h0m-1 3h0m-1 6h0m-1-4h0m-1-1h0m-1 1h0m0 0h0m-1 0h0m-4-11h0m-2 3h0m-1 7h0m0-1h0m0 3h0m-2-9h0m-9 7h0m-18-2h0m-5-4h0m-6 11h0m-5-14h0m0 8h0m-3-5h0m-3-2h0m-1 12h0m-2-9h0m-1 10h0m0-12h0m-1 12h0m0-12h0m-1 11h0m-3-4h0m0-2h0m0 1h0m-2-2h0m0 3h0m-1-10h0m-2 0h0m-1 0h0m-1 11h0m-1 4h0m-4-15h0m0 9h0m0-4h0m-1 10h0m-1-8h0m-1-1h0m-5 5h0m0-9h0m-3 13h0m-2-7h0m0 1h0m-3 6h0m-1-5h0m0-5h0m-2 1h0m0-5h0m-1 0h0m-1 14h0m-1-7h0m0-4h0m0-1h0m-1 2h0m0-1h0m-2-2h0m0 2h0m0 6h0m0-8h0m-3 8h0m-2-2h0m-1-1h0m0-2h0m-2 0h0m-1 6h0m0-5h0m-6 6h0m0-10h0m0 12h0m-1-7h0m-5-4h0m0 11h0m0-4h0m-4-5h0m-1 2h0m-1 1h0m0-4h0m0-2h0m-3 5h0m-1 3h0m-3-2h0m0 4h0m0-9h0m-2-3h0m0 6h0m-3-3h0m-2 5h0m-3-6h0m-7 4h0m-3 2h0m-4 2h0m-6-9h0m-8 5h0m-5 12h0m23 2h0m11 8h0m3-3h0m0-8h0m1-1h0m0 0h0m0 6h0m4-6h0m3 10h0m0-10h0m2 11h0m1-10h0m0 0h0m2 3h0m0 5h0m1-5h0m0 6h0m1-4h0m0 7h0m2-7h0m1-6h0m2 15h0m1-4h0m2-1h0m3 1h0m0-6h0m1-4h0m0 11h0m0-3h0m5-4h0m2 7h0m2 3h0m2-1h0m1-6h0m1-1h0m4-1h0m3 3h0m0-7h0m2 12h0m1-8h0m0-3h0m1-3h0m2 6h0m1 7h0m0-3h0m0 3h0m3-2h0m1 2h0m1-1h0m1-1h0m1 2h0m0-8h0m2 6h0m2-10h0m1 4h0m1 7h0m2-1h0m1-8h0m1 3h0m1 7h0m1-5h0m1-6h0m3 8h0m0-3h0m3-2h0m1 4h0m1 1h0m4-10h0m1 3h0m1 1h0m3 0h0m0 0h0m5 5h0m1 0h0m4-7h0m1 5h0m3 1h0m1 7h0m2-12h0m0 7h0m11-2h0m0-6h0m4 13h0m2-11h0m7 4h0m1-2h0m2 6h0m1-8h0m1 0h0m2-2h0m0 3h0m8 5h0m1 0h0m0-8h0m1-2h0m0 4h0m0 11h0m1-12h0m4-2h0m1 0h0m1 9h0m0-8h0m1 13h0m0 0h0m3-11h0m2 0h0m0 2h0m2 2h0m1 0h0m1-8h0m2 13h0m5-9h0m1 5h0m1-2h0m0 3h0m3 1h0m1 4h0m0-12h0m0 4h0m2-1h0m0-3h0m1 5h0m1 3h0m1 3h0m0-10h0m2 0h0m1-3h0m1 4h0m1 3h0m1 0h0m0 2h0m0 2h0m1-12h0m2 8h0m1-4h0m0-1h0m1-3h0m0 3h0m4 7h0m1 5h0m0-2h0m1 1h0m0-14h0m2 13h0m1-13h0m1 7h0m4 3h0m1 3h0m2-10h0m0-3h0m1 10h0m0-8h0m0 3h0m4-2h0m0-2h0m0 9h0m2 4h0m2-2h0m2-2h0m2-1h0m3-3h0m1 7h0m0-9h0m3 10h0m1-5h0m0 2h0m1 4h0m0-13h0m1 5h0m0-6h0m1 7h0m2-8h0m2 10h0m0-5h0m0 6h0m0 4h0m1-15h0m0 4h0m0-1h0m2 0h0m0-2h0m0 8h0m1 1h0m1-1h0m0-8h0m1 11h0m1-1h0m2 3h0m1-6h0m0-2h0m5 3h0m3-2h0m1 1h0m2 0h0m0-6h0m0 10h0m2-6h0m0 8h0m2 0h0m1 0h0m2 0h0m0-7h0m0 1h0m2-5h0m3 2h0m3-4h0m2 14h0m0-6h0m0 6h0m0-14h0m3 7h0m9 0h0m3-5h0m1 8h0m2-2h0m0-8h0m0 4h0m7 15h0m-2 0h0m-2 9h0m-5-13h0m-1 14h0m-4-13h0m-7 4h0m-3-3h0m0 0h0m-1 13h0m-1-13h0m-1 11h0m-10-13h0m0 11h0m-2-11h0m-1 14h0m-3-8h0m-3 6h0m-1 2h0m0-2h0m-1 3h0m-1-15h0m-3 13h0m-2-13h0m-3 5h0m0 4h0m-1-9h0m-4 1h0m-3-1h0m0 7h0m-2 8h0m-1-1h0m-1-7h0m0 4h0m-1-1h0m-1 4h0m-1-3h0m-2 4h0m-2-7h0m-2 2h0m-3-3h0m-1-3h0m0-4h0m0 0h0m0 14h0m-1-13h0m0 12h0m-1 2h0m-3-13h0m-1 10h0m0 3h0m-1-14h0m0 13h0m-2 0h0m-1 1h0m-1-12h0m-1 3h0m0 5h0m-1 4h0m0-7h0m-1-2h0m0 3h0m-1-2h0m0-2h0m-2 1h0m-1 1h0m-2 0h0m-1-6h0m0 7h0m0 0h0m0 6h0m-1-10h0m-1 3h0m-2-2h0m0-2h0m-4 10h0m-1 2h0m-2-8h0m0 5h0m-1-3h0m-2 3h0m-3-12h0m0 13h0m-2-11h0m-1 1h0m0-2h0m-1 10h0m0-2h0m-1 2h0m-5-3h0m-2 7h0m0-13h0m0 2h0m-2 3h0m-1-6h0m0 13h0m0-11h0m-4 9h0m-1-9h0m-1 6h0m-5-4h0m-1 3h0m-1 4h0m0-9h0m0 2h0m-2 9h0m0-11h0m-2 11h0m-7-14h0m-4 14h0m-2-11h0m-2 5h0m-2-2h0m-2 9h0m-9-12h0m-3 0h0m-2-1h0m-1 8h0m-1-2h0m-2-5h0m-1 5h0m-3 5h0m-12-1h0m-1-5h0m-1 3h0m-8 1h0m-1-6h0m-1-4h0m-2 3h0m-9 4h0m-3 0h0m-1 0h0m-3-1h0m-2-1h0m-1-6h0m-7 11h0m-1-7h0m-2 8h0m-2-4h0m0 5h0m-1-12h0m0 13h0m-4-2h0m-2 3h0m-1-7h0m-2 0h0m-5-4h0m0-4h0m0 3h0m-3 7h0m0-5h0m-2 9h0m-3-2h0m0-1h0m-1-4h0m0-1h0m0 1h0m-1-2h0m0 2h0m-1 8h0m-1-7h0m0 4h0m-1-8h0m-1 8h0m-2-1h0m0-7h0m0 6h0m-1-10h0m0 1h0m-3 1h0m0 6h0m0-3h0m-2 5h0m-1-9h0m-1 1h0m-1 9h0m-2-8h0m-1 8h0m-4-10h0m-5 9h0m-9 3h0m-20-9h0m-66 1h0m-48 3h0m90 22h0m38-14h0m0 3h0m5 5h0m4 6h0m13-12h0m0 2h0m11 6h0m1-8h0m2-1h0m3 3h0m2 1h0m0 1h0m6-3h0m1-1h0m2 11h0m1-13h0m3 1h0m1 12h0m4-8h0m0 1h0m4 9h0m0-11h0m3 10h0m4-12h0m6 0h0m0 8h0m4-10h0m2 2h0m0 4h0m7-1h0m4 2h0m6-1h0m0 1h0m8-2h0m1 7h0m1-2h0m2-3h0m1 8h0m2-1h0m9-6h0m1-1h0m5-4h0m5 1h0m1 3h0m2 8h0m1-2h0m1-9h0m12 4h0m0-5h0m4-1h0m3 12h0m1-9h0m1-3h0m0 11h0m2 1h0m1-11h0m2 5h0m2 4h0m2-1h0m5-5h0m4 8h0m1-3h0m0-4h0m4 2h0m0-9h0m1 9h0m1-9h0m1 14h0m0-8h0m0 6h0m3-2h0m1-2h0m1-3h0m3 2h0m1-2h0m0 6h0m0-6h0m4 8h0m1-12h0m2 3h0m2 4h0m7 4h0m0-7h0m0 0h0m1 6h0m1 4h0m2-3h0m3-6h0m1-5h0m1 10h0m1 0h0m2-1h0m0-5h0m6 7h0m2 1h0m0-3h0m2-1h0m0 5h0m1-3h0m1 2h0m2-8h0m0-1h0m2-3h0m1 11h0m1-2h0m0-5h0m1-4h0m2 5h0m0-5h0m1 1h0m0 1h0m3-3h0m0 2h0m3 5h0m1 7h0m0-5h0m4 3h0m1-11h0m0 11h0m0-5h0m1 5h0m1-9h0m3 1h0m1 0h0m0 7h0m0-2h0m4-5h0m1 8h0m0 0h0m0-10h0m1 4h0m1-6h0m0 8h0m1 7h0m1-10h0m1-1h0m1 9h0m3-11h0m1 8h0m0-4h0m1-5h0m2 9h0m1-8h0m3 5h0m2 0h0m3 0h0m2 0h0m3 1h0m1-5h0m3 4h0m2-3h0m1-4h0m1 10h0m1-8h0m0 4h0m1 5h0m3-4h0m-11 20h0m-9-7h0m0 2h0m-8-5h0m0 7h0m-1-1h0m-1-4h0m-2 3h0m-1-1h0m-13-5h0m-2 10h0m-1-2h0m-1-8h0m-1 9h0m-1 1h0m0-3h0m-3-1h0m-1-3h0m-1-3h0m-3 5h0m-4-2h0m0 5h0m-2-2h0m0-1h0m-2-3h0m-2 5h0m-1 0h0m-3 4h0m0 4h0m-1-12h0m0 4h0m-1 7h0m0-10h0m-1 3h0m-1 1h0m-2-5h0m-3 7h0m-3-9h0m0 4h0m-6-5h0m0 12h0m-1-6h0m-4 6h0m0-1h0m0 2h0m-2-3h0m-2-3h0m-2 3h0m-1-5h0m0 9h0m-1-2h0m-2-9h0m-1-3h0m-5 0h0m-2 10h0m-1-6h0m-1-1h0m-3-2h0m0 3h0m-1 10h0m-1-5h0m-1-6h0m-1-2h0m-1 12h0m-5-12h0m-2 4h0m-1 4h0m-1 4h0m0-5h0m-1-4h0m-1 3h0m0 4h0m-2 1h0m0-11h0m-1 1h0m0 9h0m0-10h0m-2 8h0m-3-3h0m-1 1h0m-2-3h0m-1 2h0m-5-4h0m-6 8h0m-3-8h0m0 12h0m-2-8h0m-5 1h0m-9-6h0m-4 8h0m-7-5h0m0 6h0m-4 1h0m-3-1h0m-12-8h0m-14 7h0m-5 5h0m-3-10h0m-4 0h0m-1-1h0m-3-2h0m-6 9h0m-10 3h0m-1-4h0m0-8h0m-4 5h0m-16 5h0m-5 4h0m-13-12h0m-10-1h0m-1 12h0m-3-6h0m-10 2h0m-30-4h0m-5 4h0m-64-4h0m100 21h0m21-2h0m2-9h0m19 6h0m6-5h0m18 11h0m4-7h0m7 2h0m3 5h0m1 0h0m4 0h0m4 1h0m6-6h0m0-4h0m0 4h0m3 7h0m0-13h0m1 0h0m3 14h0m7-13h0m1 11h0m1-8h0m6-2h0m1 10h0m1 2h0m5-5h0m3-7h0m5-2h0m5 12h0m1-11h0m6 1h0m0-3h0m2 5h0m1 1h0m4-1h0m0-3h0m3 4h0m1 3h0m5-2h0m1-1h0m1-5h0m1 0h0m3 8h0m5 0h0m3-8h0m3 10h0m1-1h0m3-7h0m3 10h0m0 0h0m3-6h0m0-7h0m2 4h0m1-4h0m6 13h0m0 0h0m6-6h0m0 5h0m1 0h0m2-3h0m3 1h0m3-7h0m6 9h0m0-8h0m3-3h0m0 2h0m1 5h0m1 1h0m0 3h0m0-10h0m1-2h0m2 6h0m2-2h0m2-4h0m2 8h0m2 7h0m2-11h0m10 2h0m10 2h0m2-5h0m4-3h0m1 8h0m13-8h0m3 2h0m0-2h0m3 5h0m-36 13h0m-8 5h0m-2-3h0m-1-1h0m-3 0h0m-1 9h0m-2-1h0m-1-7h0m-2 1h0m-3-2h0m-1 12h0m-2-10h0m0 2h0m-1 2h0m-1-2h0m0-7h0m-5 2h0m-2 1h0m-4 1h0m0 8h0m-2-10h0m-1 3h0m0 2h0m-2 0h0m0 3h0m-1-8h0m-1 10h0m-1-10h0m-9 4h0m0 2h0m-1-1h0m-2-4h0m-3 9h0m-2-2h0m0-5h0m-5 5h0m-1 1h0m-2-2h0m-1 0h0m-8-9h0m-4 1h0m-6 2h0m-3-3h0m-2 11h0m-4-2h0m-2-5h0m0 1h0m-5 0h0m-1 5h0m-1-3h0m0-6h0m-1 4h0m-4-3h0m-2 10h0m0-5h0m-1 4h0m-4 1h0m-2-4h0m-8 7h0m-1-15h0m-2 4h0m-2 4h0m-1-4h0m-5-4h0m-2 11h0m-4-7h0m-2 8h0m-10-7h0m-28 8h0m-60-13h0m-51 15h0m-63-13h0m135 20h0m12 4h0m4 0h0m12 1h0m35-2h0m8-4h0m2-5h0m0 12h0m2-7h0m3 2h0m11 8h0m4-9h0m4 1h0m10-7h0m3 14h0m4-12h0m0 7h0m0-5h0m1 5h0m1-4h0m4 1h0m8 0h0m1 5h0m2 0h0m6-10h0m1 5h0m1-3h0m2-2h0m4 3h0m5 3h0m5-5h0m1 0h0m6 10h0m4-9h0m5 10h0m0-10h0m12-1h0m1 14h0m-27 4h0m-3 7h0m-5-10h0m-11 1h0m0 4h0m-5-5h0m-1 5h0m0-1h0m-1-5h0m-4 0h0m-6 5h0m-6 0h0m-1 1h0m-1 4h0m-1 1h0m-4-1h0m-1 4h0m-5 1h0m-4 0h0m-5-7h0m-13-2h0m0 0h0m-4-5h0m-3 12h0m-5-9h0m-18 10h0m-4-9h0m-4-1h0m-16 1h0m-34 0h0m-1 2h0m-8-2h0m-18 7h0m-1-1h0m-16-7h0m-51 3h0m-18 22h0m14-8h0m48 3h0m41-1h0m46 5h0m8-10h0m1 0h0m30 0h0m13 1h0m26 10h0m1-12h0m2 2h0m5 1h0m7-4h0m2 1h0m11-1h0m10 1h0m-24 30h0m-55-7h0m-50-7h0m-32 5h0m-44-6h0m-12 0h0m-145 9h0m250 20h0m19 11h0m-53-1h0m-18-4h0m-21 7h0m65 30h0" stroke="#0000ff" stroke-width="5.2"/></g><g><path class="d" transform="scale(.5)" d="M124 51h0" stroke="#808080" stroke-width="11.2" stroke-opacity="0.5"/></g><g><path class="d" transform="scale(.5)" d="M124 84h0" stroke="#ff0000" stroke-width="5.6"/></g><g><path class="d" transform="scale(.5)" d="M124 118h0" stroke="#0000ff" stroke-width="5.6"/></g><text x="73.8" y="29.3" text-anchor="start" >MSA</text><text x="73.8" y="46.0" text-anchor="start" >rCM</text><text x="73.8" y="62.7" text-anchor="start" >RBM</text><line x1="174" y1="12.5" x2="312" y2="12.5" stroke="#2a52f5" stroke-width="1"/><path d="M171.5 12.5l3.6-1.6v3.2z M314.5 12.5l-3.6-1.6v3.2z" fill="#2a52f5"/><text x="219.7" y="22.5" text-anchor="middle" style="fill:#2a52f5;font-size:10px">RBM and natural sequences</text><text x="219.7" y="33.3" text-anchor="middle" style="fill:#2a52f5;font-size:10px">have similar scores</text><line x1="311.8" y1="169.5" x2="311.8" y2="269.5" stroke="#f5331f" stroke-width="0.9"/><path d="M311.8 167l-1.6 3.6h3.2z M311.8 272l-1.6 -3.6h3.2z" fill="#f5331f"/><text x="0" y="0" text-anchor="middle" transform="translate(323.9,223.0) rotate(-90)" style="fill:#f5331f;font-size:10px">rCM sequences have poorer RBM</text><text x="0" y="0" text-anchor="middle" transform="translate(334.6,222.2) rotate(-90)" style="fill:#f5331f;font-size:10px">scores than natural sequences</text><ellipse cx="637.5" cy="79.6" rx="24" ry="44.5" fill="#800080"/><g clip-path="url(#cB)"><path class="d" transform="scale(.5)" d="M866 92h0m-25 9h0m5 3h0m266-4h0m50 13h0m-14 11h0m-41-9h0m-2-1h0m-113 6h0m-140 2h0m-41 8h0m37 4h0m17 0h0m25 5h0m25 0h0m51 2h0m45-7h0m203 20h0m-61-1h0m-43 5h0m-137-12h0m-56 26h0m5-8h0m49 2h0m22-3h0m173-2h0m12 5h0m44-5h0m58 19h0m-47 9h0m-31 2h0m-29-10h0m-3 9h0m-11-10h0m-8 6h0m-195-1h0m-52 6h0m128 11h0m10 2h0m120-1h0m19-10h0m95 19h0m-53 11h0m-4-2h0m-47-8h0m-29-4h0m-53 2h0m-61 8h0m-30 7h0m14 4h0m25-3h0m2 10h0m80-3h0m15 0h0m13-1h0m3-4h0m3 1h0m6 6h0m24 3h0m13-7h0m1-8h0m12 6h0m6 8h0m-62 5h0m-12-3h0m-22 11h0m-111-5h0m80 25h0m19-14h0m10 7h0m58-4h0m8-2h0m17 13h0m4-7h0m28 23h0m-17-14h0m-48 0h0m-5 3h0m-27 7h0m-47-10h0m-67 17h0m70 5h0m20-5h0m5 8h0m15 2h0m13-10h0m16 1h0m11 0h0m8 0h0m7-2h0m5 0h0m5 29h0m-20-6h0m-3-8h0m-14 5h0m-44 6h0m-5-11h0m-13 8h0m-96 21h0m61-6h0m26 7h0m51-8h0m3 2h0m1 0h0m10 0h0m5-5h0m20 3h0m-186 10h0m-53 6h0m89 15h0m3 5h0m204 16h0m-14-3h0m-18 1h0m-114 7h0m-135-11h0m258 16h0m-195 14h0m30 17h0m46 0h0m108-3h0m-76 40h0m82 18h0m-44 21h0m11-7h0m35 18h0m-7 16h0m-61 9h0m69 37h0" stroke="#808080" stroke-width="10.4" stroke-opacity="0.5"/></g><g clip-path="url(#cB)"><path class="d" transform="scale(.5)" d="M1111 90h0m-271 2h0m-21-8h0m46 14h0m89 2h0m112 4h0m140 14h0m-74 3h0m-145 5h0m-10-2h0m-19-2h0m-3-9h0m-67 13h0m-10-4h0m109 8h0m38 2h0m15 8h0m107-9h0m-33 24h0m-143-5h0m-112 19h0m50 6h0m12-10h0m4 1h0m27-2h0m17 7h0m13-7h0m158 5h0m45 6h0m18-1h0m-2 9h0m-23-7h0m-70 13h0m-97-9h0m-31 8h0m-9 2h0m-9-9h0m-9-2h0m-41 19h0m109 0h0m34 5h0m48-6h0m7 5h0m15-4h0m22 4h0m56 2h0m15 12h0m-37 5h0m-53-12h0m-18 3h0m-26 4h0m-11 6h0m-3 1h0m-3-14h0m-57 10h0m-14 2h0m139 13h0m16 5h0m5-8h0m9-1h0m22 6h0m0-12h0m2 7h0m1 1h0m0-5h0m0 9h0m17-3h0m28-3h0m-35 22h0m-7-6h0m-35 4h0m-9-4h0m-2 2h0m-20 2h0m-14-6h0m-19 1h0m-50 2h0m-7 5h0m57 6h0m47 4h0m11-1h0m5 1h0m8 7h0m28-3h0m12-5h0m56 14h0m-34-3h0m-32 1h0m0 8h0m-3 3h0m-19 0h0m0 0h0m-4-3h0m-9-2h0m-1-4h0m-5 4h0m-23 3h0m-26 3h0m-25-11h0m-73 13h0m-6-8h0m-6 8h0m0 10h0m7 0h0m135-1h0m2-5h0m0 7h0m46-8h0m1 6h0m1-2h0m2-1h0m57 11h0m-51 7h0m-4-1h0m-76 1h0m-22 7h0m-5-13h0m-13 9h0m-18-4h0m-19-3h0m-34 0h0m-26-2h0m10 19h0m7 1h0m36-1h0m3-3h0m72 8h0m83-4h0m-69 17h0m-43 7h0m-13-11h0m10 35h0m-40 34h0m255 69h0m-127-12h0m52 29h0" stroke="#808080" stroke-width="10.4" stroke-opacity="0.5"/></g><g clip-path="url(#cB)"><path class="d" transform="scale(.5)" d="M1024 86h0m-171 7h0m133 16h0m12-11h0m32 12h0m57-5h0m43 3h0m18 2h0m67 1h0m-50 10h0m-185 2h0m-152-3h0m7 18h0m10-8h0m111 9h0m10-6h0m38 10h0m244-7h0m-267 14h0m-69 5h0m-2 3h0m-10 1h0m28 12h0m35-11h0m35 15h0m172 0h0m45-15h0m6 0h0m17 6h0m-29 11h0m-93 13h0m-51-4h0m-6-6h0m-12 2h0m-60 4h0m-42-6h0m-123 6h0m17 15h0m42-6h0m24-2h0m79 12h0m9-7h0m86-6h0m28 5h0m66 7h0m12-7h0m22 9h0m43 2h0m-57 6h0m-10-4h0m-9 5h0m-33-6h0m-1 10h0m-8-4h0m-1-1h0m-25 7h0m-66-8h0m-27 24h0m83-5h0m22-6h0m27 7h0m4 2h0m26-10h0m6 8h0m35-4h0m-8 18h0m-1-1h0m-19-2h0m-3 5h0m-4 2h0m-23-4h0m-56-5h0m-51 4h0m93 12h0m24 3h0m23-4h0m10 14h0m1-14h0m-12 20h0m-7-4h0m-5 9h0m-2-2h0m-19-4h0m-3 5h0m-8-4h0m-1 9h0m-19-14h0m-42 1h0m-4 0h0m-29 9h0m-45-9h0m-19 13h0m38 6h0m64 11h0m26 0h0m21-2h0m16-1h0m8 3h0m7-4h0m31-10h0m7 4h0m7 1h0m-12 18h0m-10-8h0m-2 0h0m-8 8h0m-6 5h0m-36-4h0m-5-6h0m-3 8h0m-36-5h0m-34 6h0m-54-6h0m-7 5h0m14 18h0m9-7h0m60-3h0m20 7h0m0 5h0m25-4h0m16-4h0m6-1h0m74 30h0m-140 15h0m147 23h0m-92 32h0m0-10h0m2 20h0m-40 10h0m-15 2h0m92 11h0m-19 19h0m71 7h0m0 15h0m-22 5h0m-86 7h0m90 14h0m30-14h0m-89 25h0" stroke="#808080" stroke-width="10.4" stroke-opacity="0.5"/></g><g clip-path="url(#cB)"><path class="d" transform="scale(.5)" d="M1271 62h0m-3 0h0m-1-6h0m-95 3h0m-50-8h0m-43 10h0m-8-7h0m-2 2h0m-41 5h0m25 14h0m2 4h0m5-9h0m7 6h0m1-12h0m1 8h0m1 0h0m1 3h0m1 1h0m8-2h0m93-9h0m78 8h0m1 5h0m1-10h0m4-1h0m1 11h0m2-3h0m1-2h0m2 5h0m0-1h0m0-10h0m2 5h0m1 4h0m0-6h0m1 3h0m3 3h0m1-4h0m1 2h0m2 3h0m0-12h0m0 10h0m1 3h0m1-3h0m0-8h0m2 11h0m1 0h0m1-3h0m0-4h0m2 2h0m1-3h0m1-6h0m3 8h0m0 5h0m0 2h0m2-2h0m2-4h0m2 5h0m0-7h0m3 6h0m2-2h0m1-10h0m2 11h0m1-1h0m3 1h0m3-1h0m1 17h0m-1-9h0m0 6h0m-1 3h0m-3-12h0m-2 1h0m-1 5h0m-1 6h0m-1 3h0m0-15h0m-1 0h0m-1 14h0m0-3h0m-1 1h0m0-12h0m-1 1h0m0 0h0m-1 8h0m0 5h0m-1-7h0m0-3h0m-1 1h0m-1 8h0m0-8h0m-1 6h0m-1 3h0m-1-8h0m0-2h0m-3 10h0m0-13h0m-2 9h0m0-10h0m-1 3h0m0-1h0m-1-2h0m-1 14h0m-1 1h0m-1 0h0m0-1h0m0-2h0m-2-3h0m0 6h0m-2-11h0m-1-4h0m0 1h0m-3 1h0m0 9h0m-1-3h0m0-1h0m-1 2h0m-1 6h0m-1-3h0m0-8h0m0 4h0m-1-7h0m0 7h0m-1 4h0m0-9h0m-1-2h0m-3 2h0m-3 0h0m0-1h0m0-2h0m-1 5h0m-2 7h0m-2-2h0m0-5h0m0 3h0m-1 7h0m0-13h0m-1 4h0m0 9h0m-1-14h0m-1 1h0m-1 8h0m0-3h0m0 6h0m-1 1h0m0-14h0m0 0h0m0 10h0m0-9h0m0 10h0m-5 2h0m0-3h0m-2 4h0m0 1h0m-1-1h0m-5-3h0m0 3h0m-16-9h0m-26-1h0m-31-4h0m-44 10h0m-5-3h0m-15 8h0m-16-6h0m-6 1h0m-2-3h0m-1 0h0m0 5h0m-4-8h0m-1 1h0m0-2h0m-6 5h0m-1 2h0m0 3h0m-4-9h0m-31 3h0m-15 1h0m-54 6h0m-30-3h0m80 19h0m8-14h0m7 12h0m34-11h0m9 3h0m2-3h0m1 14h0m9-5h0m1-10h0m1 6h0m9 5h0m28 2h0m0 1h0m13-13h0m31 3h0m3 2h0m2 9h0m2-4h0m1-11h0m2 10h0m20-7h0m9 12h0m29-8h0m2 6h0m3-12h0m1 3h0m2 9h0m1 0h0m0-7h0m0-4h0m1 11h0m1 1h0m1-8h0m2-2h0m0-1h0m2 3h0m1-6h0m3 6h0m0-3h0m1 11h0m0-3h0m1 2h0m1 2h0m1-2h0m0 1h0m1-1h0m1-13h0m1 7h0m1 2h0m0 4h0m0 2h0m1-2h0m0-9h0m0 0h0m1 4h0m1-6h0m0 7h0m0-9h0m6 14h0m0-9h0m1-1h0m1 11h0m1-13h0m1 2h0m1 11h0m1-10h0m0 9h0m1-11h0m0 5h0m1-1h0m1 7h0m0 1h0m0-1h0m0-3h0m1 4h0m0-11h0m1 11h0m0-5h0m0-2h0m1 0h0m0-2h0m1-4h0m0 10h0m0 1h0m1-13h0m2 11h0m0 1h0m1-10h0m0 11h0m1-4h0m0 3h0m1-5h0m0 3h0m2-1h0m0 2h0m1-6h0m0 2h0m0 8h0m1-12h0m0-2h0m1 7h0m1 5h0m1-1h0m0-11h0m0 14h0m1-7h0m1-8h0m0 14h0m1-9h0m1 4h0m0 5h0m1 1h0m1-8h0m0 5h0m2-5h0m0-6h0m1 14h0m0-5h0m0-8h0m0 1h0m0 12h0m1-15h0m0 6h0m0-2h0m1 4h0m0 7h0m2-11h0m1 4h0m0-4h0m0 10h0m1-2h0m0-9h0m0 1h0m1-2h0m1 3h0m3 9h0m0-5h0m1 0h0m0 4h0m1-8h0m1-2h0m1 8h0m3-1h0m0 5h0m5-7h0m7 14h0m0-3h0m-1 5h0m-1-3h0m-2 4h0m0-5h0m0 3h0m-1 7h0m-2-10h0m0 11h0m-1 0h0m0 0h0m0 0h0m-1-5h0m0-6h0m0-1h0m-1 3h0m0 5h0m-1-2h0m-2-8h0m0 12h0m0-2h0m-1 2h0m0-13h0m-1 14h0m0-14h0m-1 1h0m-1 8h0m-1 6h0m-1-7h0m0-8h0m0 12h0m-1 2h0m0-1h0m0 2h0m-1-4h0m0-4h0m-1-4h0m0-3h0m-1 9h0m0-7h0m0 10h0m0 3h0m-1-13h0m-2 12h0m0 1h0m0-6h0m0 5h0m-1 0h0m0-4h0m-1 4h0m-2-10h0m-3 9h0m0-11h0m-1 2h0m0-3h0m-2 4h0m-1-5h0m0 9h0m0-9h0m0 5h0m-1 1h0m-2-4h0m-1 11h0m0-7h0m0 2h0m-1 3h0m-1-7h0m-1 1h0m0 8h0m0-9h0m-2 5h0m0 1h0m-1 4h0m-2-3h0m0 3h0m0 0h0m0-1h0m-1-12h0m0 8h0m-1-3h0m-1-6h0m0 10h0m-1-7h0m-2 7h0m-1-3h0m0 7h0m0-4h0m0-9h0m0 7h0m-1 6h0m-1-9h0m-1-1h0m0-1h0m0-2h0m-1 6h0m-1-7h0m-1 8h0m0-2h0m0 6h0m-1-10h0m-1 3h0m0 0h0m-1-5h0m0 11h0m-1-10h0m0 7h0m-1 0h0m-2 6h0m0-7h0m0 0h0m-2 8h0m-2-8h0m0-4h0m0 2h0m-1 5h0m0 4h0m-1-13h0m-1 11h0m-1 2h0m0-3h0m0-10h0m-1 1h0m-1 1h0m-1 9h0m-2-8h0m0-2h0m0 3h0m0 3h0m-3 6h0m-1-13h0m0 4h0m0-5h0m-1 2h0m-1 8h0m0-6h0m0 10h0m-1-9h0m-2 7h0m0-9h0m0 10h0m-1-7h0m0-2h0m0-3h0m-3 11h0m0-12h0m-2 4h0m0 10h0m0 0h0m-2-1h0m-5-6h0m0 3h0m-16-10h0m-4 5h0m-14 6h0m-1-2h0m-23-8h0m-10 0h0m-78 6h0m-9 0h0m0 7h0m-5-11h0m-1-2h0m-3 5h0m-10-5h0m-54 3h0m-2-3h0m-1 5h0m-33-2h0m-26 10h0m10 3h0m20 14h0m2 0h0m9-4h0m12-10h0m26 3h0m9 4h0m43 3h0m26 1h0m33-12h0m22 5h0m19 3h0m36-6h0m17 9h0m6-2h0m2-4h0m1 0h0m2 3h0m0 6h0m1-13h0m0 13h0m1-1h0m0-1h0m1-3h0m0 1h0m0-4h0m1-6h0m2 3h0m0 9h0m1-9h0m0-1h0m0-1h0m2 3h0m1 3h0m1 6h0m1-6h0m0 7h0m0-14h0m0 3h0m1 0h0m0 2h0m0 0h0m1-3h0m1 13h0m1-10h0m0 8h0m0-6h0m0 4h0m1-2h0m0 4h0m1-6h0m0 5h0m0 3h0m0-14h0m1 3h0m0 0h0m1 4h0m0 0h0m1 6h0m1-5h0m0 4h0m0-11h0m1 8h0m0-10h0m1 11h0m1-7h0m1 8h0m1-2h0m0-9h0m0 1h0m1 13h0m0-12h0m1-1h0m0 10h0m2-4h0m1-8h0m0 11h0m2 3h0m1-12h0m0 6h0m1-1h0m1 1h0m3-1h0m0-5h0m1 5h0m3 7h0m1-10h0m1 0h0m2 11h0m1-7h0m0 5h0m1-5h0m1-1h0m0 7h0m0-8h0m1 6h0m0 3h0m1-13h0m0 1h0m1 2h0m1-4h0m2 7h0m1-5h0m1-2h0m1 10h0m0-8h0m1 9h0m1-6h0m1 9h0m1-7h0m0 2h0m1 0h0m0-10h0m1 14h0m0-11h0m1 7h0m1-4h0m2-3h0m1 0h0m0 12h0m0-4h0m0-3h0m0-6h0m0 6h0m1 2h0m1-10h0m1 14h0m0-10h0m0 0h0m0-4h0m1 9h0m1 2h0m0-10h0m0 11h0m0-3h0m0-7h0m1-1h0m0 0h0m0 7h0m0 1h0m1-4h0m1 1h0m1 3h0m0-6h0m1 2h0m0 3h0m0 3h0m1-1h0m1-2h0m0-5h0m2-2h0m2 7h0m1 4h0m1-3h0m1 0h0m2-4h0m1 5h0m1 3h0m2-7h0m0-1h0m4 12h0m-1 12h0m-3-3h0m-1 3h0m-2-5h0m0 7h0m-1-14h0m0 0h0m-1 6h0m0 0h0m0-3h0m-1 5h0m-1-8h0m0 1h0m0 4h0m-2-1h0m-1 4h0m-1 5h0m0-12h0m-5 9h0m-1-3h0m0-7h0m-1 2h0m0 11h0m-1-1h0m0-9h0m-1-4h0m-1 5h0m-1 1h0m-1 3h0m0 0h0m-2 3h0m-1-12h0m-1 5h0m0 5h0m0-4h0m-1 2h0m0-7h0m0 11h0m-1-4h0m0 0h0m0 7h0m-1-11h0m0 7h0m0-4h0m-2 2h0m-1-8h0m0 3h0m-1 11h0m0-8h0m-1-4h0m0 2h0m0-5h0m0 10h0m0 5h0m0-12h0m-2-3h0m0 3h0m0-1h0m0 4h0m0-1h0m-1 7h0m0 2h0m-1-1h0m0-8h0m0 1h0m-1 0h0m0 7h0m-2-6h0m0-2h0m0-2h0m-2 8h0m0-6h0m0 6h0m-2-2h0m0 4h0m0-13h0m-1 13h0m-1-12h0m-1 11h0m0-8h0m0 0h0m0 7h0m0-8h0m-1-3h0m0 6h0m-1-6h0m0 6h0m-1-6h0m0 10h0m-2 1h0m0-7h0m0 6h0m-2 1h0m0-5h0m-1-5h0m-1 7h0m-1 4h0m-1-6h0m-1 3h0m0 0h0m-1 4h0m0-10h0m-1 6h0m0-2h0m0 4h0m-1 3h0m0-11h0m0 7h0m0-9h0m-1 9h0m0-9h0m-1 14h0m0-10h0m-1 6h0m0-7h0m0-4h0m0 10h0m-1-1h0m-1-9h0m0 4h0m-1 5h0m0-5h0m0 6h0m0 1h0m-1-5h0m0-4h0m0 9h0m0-1h0m-1-6h0m0 8h0m0-7h0m0-1h0m-1 1h0m-1 6h0m0-3h0m0-4h0m-2 1h0m-1 10h0m-1-1h0m0-4h0m-1-5h0m0-5h0m0 11h0m-1-10h0m0 0h0m-1 3h0m0 1h0m-1 10h0m0-13h0m0 11h0m0-2h0m-1 4h0m-1 0h0m0-3h0m0-6h0m-1 6h0m0-1h0m-1-7h0m0-3h0m0 9h0m0 1h0m0-7h0m0-3h0m-1 12h0m0-7h0m0 9h0m-3-6h0m0 2h0m0 0h0m0-6h0m0 2h0m-1-3h0m-1-4h0m0 12h0m0 2h0m-1-10h0m0 4h0m-1 6h0m0-6h0m0 7h0m0-3h0m-1-7h0m0 5h0m-1 0h0m0-3h0m0-6h0m0 10h0m0 0h0m0 1h0m-1-9h0m-1 8h0m0 4h0m-2-1h0m-4-1h0m-14-12h0m-1 10h0m0 0h0m-1-1h0m-7 3h0m-1-9h0m-3-4h0m-6 9h0m-4 0h0m-8 2h0m-1-1h0m-11 0h0m0 1h0m-2-7h0m-4-4h0m-9 15h0m-13-7h0m0-8h0m-4 9h0m-49-7h0m-76 8h0m-16-10h0m-17 1h0m-12 11h0m-15 3h0m-15 15h0m15-10h0m3 2h0m15 1h0m0-3h0m94 2h0m14 7h0m22 2h0m17-8h0m9 4h0m6-6h0m5 1h0m0 4h0m4 0h0m4-6h0m2-1h0m8 4h0m6 2h0m1-5h0m4 1h0m2-1h0m2 10h0m2-6h0m1-2h0m1 5h0m1-9h0m2 11h0m1-4h0m1 1h0m11-10h0m1 10h0m1 2h0m2 0h0m1 2h0m1-8h0m1 6h0m1-11h0m2 13h0m1-4h0m0 5h0m0-12h0m1 5h0m2 4h0m0-8h0m4 7h0m1 0h0m0-11h0m0 13h0m7 2h0m0-2h0m2-4h0m1 6h0m0-8h0m1-6h0m1 11h0m0-12h0m1 8h0m1 2h0m1-7h0m0 9h0m2 3h0m0-8h0m1 7h0m2 0h0m0-5h0m2-2h0m0 3h0m1-1h0m0 0h0m1-7h0m1 10h0m0-11h0m1 10h0m1-8h0m0 9h0m1 3h0m0-14h0m0 3h0m0-2h0m1 13h0m1-12h0m0 8h0m1 3h0m1-12h0m0 12h0m0-5h0m1-1h0m0 5h0m1-11h0m0 7h0m1 2h0m1 3h0m0-1h0m0 2h0m1-6h0m1-3h0m1-1h0m0 7h0m0 0h0m0 0h0m0 2h0m0-1h0m0-4h0m0-4h0m1-3h0m0 8h0m0-1h0m1 5h0m0-14h0m1 8h0m0 4h0m1 0h0m0-2h0m0 2h0m1 3h0m0-4h0m0-1h0m1 5h0m0-9h0m0-1h0m0-1h0m1 10h0m1-2h0m0-12h0m2 9h0m1-6h0m1 7h0m1-3h0m0 2h0m0-6h0m1 5h0m0-7h0m0 8h0m0 4h0m1-10h0m0 6h0m1-9h0m1 4h0m0-2h0m0 13h0m1-9h0m0-2h0m0 0h0m1-4h0m0 14h0m0-12h0m0 9h0m0-9h0m0 11h0m0-2h0m1-4h0m0-7h0m1 0h0m1 11h0m1 0h0m0-7h0m0 4h0m1 5h0m0-11h0m2 1h0m0 11h0m1-6h0m1-8h0m0 8h0m0-2h0m1 2h0m1-4h0m0 7h0m1-2h0m0-5h0m0-1h0m1 0h0m1 6h0m0 2h0m0-6h0m0 5h0m1-10h0m0 15h0m1 0h0m0-6h0m1-5h0m0 8h0m0-7h0m1-3h0m0 0h0m1 6h0m1 2h0m0-10h0m1 3h0m0 9h0m1-4h0m0 0h0m0-4h0m0 0h0m1 10h0m0-13h0m0 13h0m1-5h0m2-5h0m1 7h0m0-4h0m0 1h0m1-8h0m0 13h0m1-3h0m0-2h0m0 5h0m1-3h0m0-5h0m1 3h0m0 5h0m0 2h0m0-5h0m1 2h0m0-3h0m0-5h0m1 10h0m0-5h0m0 4h0m0-4h0m1-8h0m0 2h0m1 1h0m1 1h0m0 10h0m2-15h0m0 15h0m0-15h0m1 15h0m2 0h0m0-2h0m1 2h0m1-8h0m1-3h0m0 9h0m1-8h0m0-2h0m1 1h0m2 9h0m0-1h0m2-9h0m0 4h0m1 2h0m0-4h0m1 0h0m0 6h0m0-11h0m1 1h0m0 9h0m0-9h0m1 14h0m0-11h0m0 6h0m1-5h0m1 9h0m0-11h0m2 2h0m0 2h0m0 3h0m1-3h0m0-6h0m0 11h0m3-4h0m1 7h0m0-11h0m2 0h0m7 20h0m-7 5h0m-1-11h0m-1 11h0m0-5h0m-1 2h0m-1-3h0m-1 7h0m0-10h0m-1 7h0m0-8h0m0 7h0m-2-5h0m0-1h0m-1-1h0m0 0h0m-2 11h0m0-11h0m0 4h0m-1 8h0m-1-6h0m0 0h0m-1-7h0m-1 13h0m0-8h0m0 2h0m-1-8h0m-1 13h0m-2 1h0m0-6h0m0-7h0m-1-1h0m-1 11h0m-1-3h0m0 0h0m0 4h0m-1-11h0m0 4h0m0 7h0m0-4h0m-1-9h0m0 9h0m0 0h0m-2-1h0m-1-5h0m-1 4h0m0-6h0m-3 10h0m0-8h0m0 9h0m0 3h0m-1-4h0m0-11h0m0 5h0m-1 8h0m0-10h0m-1 1h0m-1 11h0m-2-4h0m-1-9h0m0 12h0m-2-7h0m0 8h0m0-7h0m0 2h0m-3-9h0m-2 13h0m0-3h0m0-7h0m0 6h0m-1 3h0m0-1h0m0-4h0m-1 4h0m-1-3h0m0-8h0m-1 8h0m0-5h0m0 11h0m0-3h0m-1-6h0m-1-3h0m-1 8h0m0-11h0m0 15h0m0-8h0m-1-1h0m0 5h0m0 1h0m-1-10h0m-1 11h0m-1-12h0m0 2h0m0 1h0m0-3h0m-2 7h0m0 7h0m-1-12h0m0 1h0m-1-4h0m0 13h0m0-2h0m0-2h0m0 0h0m0-3h0m-1 0h0m0-6h0m-1 0h0m0 6h0m0 5h0m-1 0h0m0 2h0m0-9h0m-1 2h0m0-3h0m0 4h0m0 4h0m-1 1h0m0-2h0m0 0h0m-1 0h0m0-8h0m0 13h0m-1-6h0m0-9h0m0 5h0m0 0h0m-1 8h0m-1-12h0m0 8h0m-1 2h0m0-4h0m0 7h0m-1-8h0m0-6h0m0 14h0m0-2h0m-1-1h0m0-3h0m-1 3h0m0 4h0m0-4h0m-1 3h0m-1 1h0m-1 0h0m0-7h0m0 4h0m0-4h0m-1 4h0m0-6h0m0-4h0m0 10h0m-1-12h0m0 0h0m0 6h0m0 0h0m0 4h0m-1 2h0m-1-10h0m0 11h0m-1 1h0m0-13h0m-1 14h0m0-12h0m0 9h0m-1-7h0m0 6h0m0-4h0m0-7h0m-1 4h0m-1-1h0m0 12h0m0-13h0m0 8h0m-2-9h0m0 2h0m0 11h0m-1-11h0m0 1h0m0 11h0m-1-10h0m0-1h0m0-2h0m0 2h0m0 5h0m0-6h0m0 5h0m-1-2h0m0 4h0m-1 0h0m0-5h0m-1 8h0m0-9h0m0 5h0m0 0h0m0-1h0m-1-8h0m-1 11h0m-1-2h0m0-3h0m0-6h0m-1 10h0m-1-5h0m0-5h0m-1 13h0m0-13h0m0 13h0m-1-4h0m0-2h0m0-1h0m-1 1h0m-1 5h0m-1-2h0m-1 3h0m0-7h0m-3 6h0m-1-12h0m-1 1h0m0 3h0m0 5h0m-1 1h0m0-2h0m-1 3h0m0 4h0m-1-12h0m-1 11h0m-1-6h0m-1-3h0m0-3h0m0 5h0m0 2h0m-2-7h0m0 13h0m0-5h0m-2-5h0m0 9h0m0-12h0m-2 13h0m0-12h0m0 10h0m-1-4h0m0 1h0m-1-10h0m0 1h0m0 5h0m-1 8h0m-1-12h0m0 1h0m-1 9h0m0 3h0m0-9h0m-2 8h0m-1-4h0m-1 3h0m0-1h0m-1-4h0m0-3h0m0 8h0m0-8h0m-1 3h0m-1 1h0m0 2h0m-2-10h0m0 14h0m0-2h0m-1-12h0m-1 13h0m-1-5h0m0-1h0m0 1h0m-1 3h0m0 2h0m0-2h0m0-11h0m-1 0h0m0 10h0m-1 1h0m-1 1h0m0-12h0m-3 6h0m-2 6h0m0 0h0m-2 2h0m-2 0h0m-3 0h0m0-9h0m-1 6h0m-1 3h0m0-12h0m-1 3h0m0-6h0m-2 14h0m0-9h0m-5 0h0m-1-2h0m-4 9h0m-1-2h0m-1-10h0m-2 7h0m0 6h0m-2 0h0m-2-5h0m-2-3h0m0 4h0m-3-2h0m-2 2h0m-1 5h0m-2-6h0m-1-3h0m-1 5h0m-1-6h0m-3 3h0m-1-7h0m-1 11h0m-5 3h0m-2 1h0m-3-12h0m-3 2h0m-1 0h0m-4-2h0m-1 2h0m-3-1h0m-7 0h0m-4 2h0m-6 5h0m-4-1h0m-5-3h0m-7 0h0m-17 1h0m-2 7h0m-7-6h0m-104-3h0m28 14h0m10 9h0m27-4h0m2-2h0m18 8h0m7 0h0m9-12h0m4 3h0m5-2h0m3-2h0m2 9h0m0-8h0m1 3h0m1-6h0m2 15h0m2-3h0m1 0h0m3-8h0m7 8h0m0-11h0m3 8h0m0-3h0m1 1h0m1-1h0m2 0h0m1 2h0m1 3h0m4 4h0m1-10h0m1-5h0m0 1h0m2 4h0m1 2h0m3 4h0m5 3h0m0-2h0m2-10h0m0 2h0m2 3h0m1-6h0m1 12h0m2-4h0m0 2h0m1 4h0m2-11h0m3 7h0m2 1h0m2 2h0m9-8h0m1 0h0m0-4h0m1-2h0m0 1h0m3 8h0m3 1h0m0 3h0m0 0h0m1-11h0m0 8h0m1-9h0m0 3h0m4 6h0m1-9h0m0-1h0m1 10h0m1 0h0m0 1h0m0-9h0m2-1h0m0 1h0m1-1h0m0 1h0m2 2h0m2 7h0m1-3h0m0 3h0m2-5h0m1 5h0m1 1h0m1-10h0m1 11h0m1 0h0m0-4h0m0-3h0m1-1h0m1 9h0m0-4h0m3-7h0m1 5h0m1-6h0m0 10h0m0 0h0m1-12h0m2 10h0m0-2h0m1 7h0m0-8h0m2 5h0m0-2h0m1 5h0m0-14h0m0 3h0m0 2h0m1 8h0m1-9h0m0 10h0m0-15h0m1 13h0m1 2h0m0-15h0m1 6h0m1-1h0m0-2h0m1 6h0m0-3h0m1-4h0m0 10h0m2 2h0m0-3h0m0 2h0m1-13h0m1 5h0m0 5h0m3-9h0m0 8h0m0-8h0m1 8h0m0-3h0m1-3h0m1-2h0m1 4h0m0 4h0m1 2h0m0-8h0m0 10h0m1-13h0m0 10h0m0 3h0m0 2h0m0-5h0m1 1h0m1-11h0m1 0h0m1 6h0m0 4h0m1 2h0m1-4h0m1 3h0m0-6h0m0 8h0m1-2h0m0-5h0m0 1h0m2 2h0m0-6h0m0 9h0m1-9h0m0 9h0m1-5h0m0-1h0m0 1h0m1 5h0m1-3h0m1-2h0m1 4h0m0-9h0m1 9h0m0-3h0m0-6h0m0 11h0m1-9h0m0 0h0m0-1h0m0 3h0m0-3h0m0 10h0m1-10h0m0 0h0m1-3h0m2 10h0m0-6h0m1 0h0m1-4h0m0 0h0m2 0h0m1 13h0m0-2h0m0 2h0m0-10h0m1 5h0m1-5h0m1 10h0m0-12h0m1 2h0m0 11h0m1-12h0m0 6h0m0-6h0m1 8h0m0-4h0m0 6h0m1-9h0m0 12h0m1-13h0m0 3h0m0 5h0m0 4h0m0-5h0m1-5h0m1 8h0m0-9h0m0-3h0m1 11h0m0 4h0m0-13h0m1 13h0m0-9h0m1 4h0m0-7h0m1 10h0m0-8h0m0 6h0m1-7h0m0 6h0m0-5h0m0 6h0m0-4h0m0 3h0m0-7h0m0 6h0m1-5h0m0-4h0m0 3h0m0 4h0m0 7h0m0-5h0m1 4h0m0 0h0m1-6h0m0-5h0m0 10h0m0 0h0m0 3h0m1-15h0m0 5h0m0 1h0m0 3h0m1-8h0m1 5h0m0-1h0m0 0h0m0-5h0m1 15h0m0-8h0m0 2h0m1-5h0m0 9h0m0-7h0m0 4h0m1 4h0m0-1h0m1-6h0m0 5h0m0-12h0m1 9h0m1-1h0m1-3h0m0 10h0m0-12h0m0 6h0m0 3h0m0-4h0m1 2h0m0-1h0m0-8h0m2 7h0m2 6h0m0-12h0m0-1h0m0 11h0m0-5h0m0-4h0m1 7h0m0-8h0m0 11h0m1-5h0m0 1h0m0 5h0m0 0h0m1-12h0m0 4h0m0 3h0m1-8h0m0 2h0m0-2h0m0 5h0m1-5h0m0 11h0m0-9h0m0 6h0m1-6h0m0-3h0m1 13h0m1-9h0m1 6h0m1-9h0m0 9h0m0-1h0m2 1h0m1-9h0m0 3h0m0 3h0m1 7h0m0 0h0m1-9h0m0-3h0m2 9h0m0 3h0m2-1h0m1-4h0m1 4h0m0-3h0m0 4h0m0-4h0m0-8h0m0 1h0m0-2h0m1 8h0m0 0h0m0-7h0m2 10h0m0-3h0m1-5h0m1-2h0m1 6h0m1 7h0m0-15h0m1 13h0m0-9h0m1 6h0m0-4h0m1 3h0m0 4h0m0 1h0m1-7h0m0 1h0m1-2h0m0-5h0m1-1h0m1 6h0m0 4h0m1-8h0m1-1h0m0 12h0m0 2h0m0-15h0m2 3h0m0 10h0m1-8h0m0 1h0m1-1h0m0 5h0m0-8h0m1 13h0m0-13h0m0 10h0m0 1h0m2-3h0m1-7h0m0 6h0m1-6h0m0 10h0m1-8h0m0 8h0m0-2h0m0-11h0m0 4h0m0 2h0m0 3h0m1 3h0m1 0h0m0-8h0m1 4h0m1-8h0m0 2h0m1-1h0m0-1h0m0 10h0m1-1h0m1 3h0m1-11h0m2 1h0m0 13h0m1-4h0m0-8h0m1 8h0m0-2h0m0-2h0m0 6h0m1-1h0m2-11h0m1 0h0m1 9h0m2-10h0m2 9h0m-7 8h0m-2-1h0m0 2h0m-1 1h0m-1 6h0m-4-2h0m-1-1h0m0 7h0m-2 0h0m0-10h0m0 2h0m-1 6h0m-1-9h0m0-1h0m0 6h0m-1-2h0m0 10h0m-1-6h0m-1 5h0m-1-14h0m-1 0h0m-1 13h0m0-8h0m0 10h0m-1-13h0m-1 0h0m0 8h0m-1 5h0m0-1h0m-1-7h0m-1 0h0m-1 4h0m0 1h0m-1-10h0m0-2h0m0 13h0m0-4h0m-1 5h0m-3-2h0m-1-4h0m0 7h0m0-13h0m-1 5h0m0 4h0m-1 3h0m-1 0h0m0 0h0m-1-5h0m0 2h0m0-7h0m-1 1h0m-1 4h0m-2 4h0m-1-7h0m0 5h0m0-1h0m-1-8h0m0 7h0m0 1h0m-1-1h0m0-4h0m-1-2h0m0 2h0m0 6h0m-1-6h0m0 10h0m0 0h0m-1-3h0m0 1h0m0-1h0m-1-8h0m0 2h0m-1-5h0m0 3h0m-1 0h0m0-4h0m-1 0h0m0 12h0m0-5h0m0 6h0m-1-9h0m0 8h0m0-11h0m-1 2h0m-1-1h0m-1-2h0m0 8h0m0-7h0m-1 3h0m-1 4h0m0 1h0m0 3h0m-1-9h0m0 6h0m-1-1h0m0-5h0m-1-1h0m0-2h0m0 6h0m0-3h0m-1 5h0m0 7h0m0-9h0m-1 0h0m-1-2h0m-1 4h0m0 4h0m0-3h0m0 5h0m0-4h0m-1-4h0m0 7h0m-2-3h0m0 3h0m0-5h0m0-1h0m-1 2h0m0-7h0m0 6h0m0 6h0m0-11h0m0 2h0m-1-4h0m0 10h0m0-2h0m0-2h0m-1-5h0m0 13h0m0-15h0m-2 8h0m0 3h0m-1-10h0m-1 8h0m-1-6h0m0 2h0m0 3h0m0 1h0m-1-1h0m0-5h0m0 10h0m0-8h0m-1 1h0m0-5h0m0 5h0m0-2h0m0 6h0m-1-4h0m0-6h0m0 5h0m-1-5h0m0 6h0m-1 0h0m0 7h0m-1-3h0m0 4h0m0-6h0m0-3h0m-1-1h0m0 1h0m0 2h0m0 3h0m0 2h0m0-5h0m0 4h0m-1-3h0m0-1h0m0 8h0m-1-10h0m0 2h0m0 2h0m-1-4h0m0-3h0m0-1h0m-1 5h0m0 9h0m-1-2h0m0-11h0m0-1h0m-1 3h0m0-3h0m0 10h0m-1-8h0m-1 2h0m0 1h0m0 3h0m-1 5h0m-1-8h0m-1 8h0m0-6h0m0 2h0m-1 1h0m0 0h0m0-3h0m0 0h0m0 1h0m-1 5h0m-1-10h0m0 5h0m-1 2h0m0 1h0m-1-3h0m-1 2h0m0 4h0m-1-6h0m0-1h0m0-2h0m0 9h0m-1-8h0m0-1h0m-1-2h0m0-3h0m0 5h0m-2-4h0m0-1h0m0 5h0m-1 5h0m0 4h0m0-11h0m-1 9h0m0-8h0m-1 1h0m0 9h0m0-4h0m0-10h0m-1 6h0m0-6h0m0 7h0m-1-5h0m0 6h0m0-9h0m0 11h0m-1-9h0m-2 7h0m0 4h0m-1-5h0m0 2h0m-1-7h0m0 7h0m-1 5h0m-2-3h0m0-10h0m0-2h0m0 10h0m-2 5h0m-1-6h0m0 2h0m0-8h0m0-1h0m-1 7h0m0-2h0m-1-3h0m-1-1h0m0-1h0m0 2h0m-1 7h0m-3-8h0m0 4h0m-1 0h0m-1-1h0m-2-1h0m-2 7h0m-2-6h0m0 3h0m0 4h0m-1-4h0m-1-1h0m-1-8h0m0 3h0m-1-3h0m-1 10h0m0-10h0m0 8h0m-1 7h0m0-14h0m-2 5h0m0 5h0m-3-9h0m-2 4h0m0-4h0m-1-2h0m-1 0h0m0 14h0m0-14h0m-1 11h0m0-10h0m0 0h0m-1 5h0m-1 6h0m0 1h0m-5-1h0m0-11h0m-2 2h0m-2 11h0m0 0h0m0-6h0m-2-8h0m-3 9h0m-1 0h0m0-1h0m0-8h0m0 8h0m-1 1h0m0-8h0m0 13h0m-4 1h0m0-6h0m-1 0h0m-1-3h0m-1 9h0m-2-2h0m0-6h0m-2 7h0m-1-6h0m-2-4h0m0 6h0m-1-10h0m0 10h0m-1-7h0m0 7h0m-1-3h0m0 0h0m0 7h0m-1-14h0m0 1h0m-1 1h0m-1-1h0m-1 2h0m-1 5h0m-1 7h0m0-8h0m0 4h0m-1-6h0m-2 10h0m-1 0h0m0-2h0m-2-8h0m-3 6h0m-3 1h0m-1-3h0m-1-9h0m0 11h0m-5 3h0m-2 0h0m-1-4h0m0-6h0m-2 9h0m-4-6h0m0-6h0m-2 11h0m0-1h0m0-11h0m-1 12h0m-1 2h0m0-2h0m0 2h0m0-13h0m-1 1h0m-2 3h0m-1 9h0m0-3h0m-2-1h0m-6 0h0m-1 5h0m-1-3h0m0-3h0m-3-3h0m0-1h0m-7-3h0m-1 9h0m-5-8h0m-1-2h0m-6-1h0m-17 3h0m-3 9h0m-22-6h0m-9-4h0m-8 9h0m-17 6h0m41 5h0m20 3h0m1 0h0m0 5h0m1-6h0m4 4h0m0-3h0m1-5h0m1 9h0m1-13h0m5 13h0m4 1h0m4-11h0m2 11h0m1-3h0m1 0h0m1-8h0m5 9h0m0-4h0m1-7h0m2 8h0m3-3h0m1 6h0m4-4h0m4 0h0m1-1h0m5 8h0m1-7h0m1 4h0m2-3h0m2 4h0m0-11h0m0-2h0m1 9h0m2-6h0m1 4h0m1-2h0m1 1h0m1-1h0m2-1h0m1 4h0m1 2h0m5 0h0m0-3h0m2-6h0m1 10h0m0-10h0m1 5h0m3-2h0m2-3h0m0 6h0m4 7h0m1 1h0m0-9h0m1 5h0m1 2h0m1-3h0m0-5h0m3 3h0m2 7h0m1-5h0m0-4h0m4-2h0m1 8h0m3-12h0m0 7h0m2 5h0m0-9h0m2 9h0m2 2h0m3-4h0m0-7h0m1-3h0m0 9h0m0-8h0m1 12h0m1-13h0m0 6h0m0-3h0m0 12h0m1-5h0m1-3h0m1 6h0m0-5h0m3-5h0m0 7h0m2 3h0m1-10h0m1 1h0m1-3h0m2 7h0m0-6h0m1 2h0m4-4h0m0 12h0m1-10h0m1 12h0m1-7h0m0-6h0m0 0h0m2-1h0m0 4h0m2-1h0m3 12h0m0-15h0m0 2h0m1 12h0m0-11h0m0-2h0m1 0h0m1 5h0m0-3h0m1 5h0m1 4h0m0-1h0m0 3h0m1-9h0m0 9h0m2-1h0m0-13h0m0 8h0m1-7h0m0 12h0m0-4h0m1 3h0m1-12h0m1 13h0m2 1h0m2-13h0m1 12h0m0-4h0m1 3h0m0-9h0m1-3h0m0 0h0m0 11h0m1-8h0m0 8h0m0 2h0m1-2h0m0-8h0m1 0h0m0 9h0m1-3h0m0-9h0m1 7h0m0 2h0m1-4h0m0 3h0m1 6h0m2-8h0m0 8h0m0-11h0m0-2h0m1 7h0m2-1h0m1 0h0m0-6h0m2 1h0m0 7h0m1 3h0m0 1h0m0-7h0m0 0h0m0 6h0m1-4h0m0-6h0m2 5h0m1 4h0m0-5h0m2 9h0m0-9h0m3-4h0m0 2h0m2 3h0m1-3h0m0 10h0m1-12h0m1 1h0m0 0h0m0 0h0m1 6h0m1-4h0m0-5h0m1 2h0m0 10h0m0-3h0m1 6h0m0-15h0m1 2h0m0 3h0m1 6h0m0-10h0m1 5h0m1 2h0m0-3h0m0 4h0m1-7h0m1 3h0m0 7h0m1-10h0m0 0h0m0 5h0m0 3h0m1-5h0m0-1h0m0 5h0m1 3h0m0-5h0m1-1h0m0 4h0m0-9h0m0 11h0m1-7h0m0 6h0m1-9h0m0 3h0m0 1h0m1 7h0m0-5h0m0 0h0m1 1h0m0-8h0m0 3h0m0 10h0m0-12h0m1 0h0m0 7h0m0 3h0m1-6h0m0-5h0m1 12h0m0 1h0m1 0h0m0-3h0m0 4h0m1-10h0m0 0h0m0 10h0m0-8h0m0-6h0m2 0h0m0 3h0m0 10h0m0 0h0m0-8h0m0 8h0m0-2h0m3 3h0m1-4h0m1-1h0m0-3h0m1 4h0m0-5h0m1-5h0m1 3h0m0 1h0m1 9h0m1-4h0m0-1h0m1 5h0m1-7h0m0 5h0m1-7h0m0 8h0m0-12h0m1 2h0m1 4h0m1 6h0m0-10h0m1 8h0m1-4h0m3-7h0m1 13h0m0-3h0m0-7h0m1 2h0m0 3h0m1 1h0m1 1h0m1-5h0m1 0h0m0-1h0m1 0h0m1-4h0m0 0h0m2 1h0m0 3h0m1 6h0m0-4h0m1 2h0m2-6h0m0 1h0m2 6h0m0-8h0m0 4h0m2-3h0m1 11h0m0-4h0m5-3h0m2-1h0m2-4h0m-1 24h0m-13 0h0m-5-5h0m-1-3h0m0 11h0m-1-4h0m-4 1h0m0-6h0m-3-2h0m0 5h0m-2 6h0m-3 1h0m0-13h0m-1 8h0m0 7h0m-1-3h0m0-10h0m0 8h0m-1-7h0m-1 6h0m-1-9h0m0 0h0m-1 7h0m0-5h0m0 8h0m-1-6h0m-2-3h0m-1 9h0m0-9h0m-1 12h0m-1-4h0m0-9h0m0 11h0m-1-4h0m-1-4h0m0 3h0m-1 3h0m0-1h0m-1 0h0m0-7h0m-1 9h0m0-1h0m-1-1h0m0-7h0m0-1h0m-2 12h0m-2 1h0m-2-11h0m-1 1h0m0 9h0m-1-8h0m-2 9h0m0-1h0m-1-7h0m-1 1h0m-2 1h0m-4-4h0m-1-2h0m-2 8h0m0-7h0m0 7h0m-3-7h0m0 3h0m-1 0h0m-4 1h0m-2-5h0m-1 7h0m-3-8h0m-2 12h0m0-10h0m-1 2h0m-1 4h0m0-4h0m-1 1h0m-1 10h0m-3-8h0m-2-4h0m0 8h0m0 1h0m-3-10h0m-2 12h0m0-14h0m-1 0h0m0 1h0m-2 3h0m-1 0h0m0-3h0m-1-1h0m-1 13h0m0-9h0m0-1h0m-4 7h0m-2-8h0m-1-1h0m-1 1h0m-2 0h0m-2 9h0m-1-5h0m0 7h0m-2-6h0m0-3h0m-2-1h0m0-2h0m-6 9h0m-1-10h0m-1 2h0m-1 0h0m0-1h0m-4 2h0m-1 0h0m-2 6h0m-1 6h0m-1-12h0m-1 8h0m-1-3h0m-5-5h0m-2-3h0m-2 9h0m-4 3h0m-1 3h0m-1 0h0m0-14h0m-2 9h0m-8 0h0m-6-7h0m-4 5h0m-5-4h0m-8-2h0m-2 1h0m-3 12h0m-1-9h0m-7-6h0m-4 10h0m-3-2h0m-2 5h0m-1-3h0m-1 0h0m-1-9h0m-11 7h0m-15 7h0m-10-1h0m-21-10h0m-2 9h0m-14-5h0m-13-3h0m-43 5h0m62 12h0m20-6h0m42 7h0m5-4h0m19 3h0m9 0h0m8-3h0m12 0h0m25 9h0m0-10h0m17 5h0m1-2h0m6-5h0m1 15h0m4 0h0m4-10h0m0 3h0m2-7h0m1 1h0m10 2h0m0 5h0m2-7h0m2-2h0m0 0h0m8 9h0m3-9h0m3 2h0m13 12h0m6-3h0m7-7h0m1-3h0m4 12h0m6-3h0m3-9h0m4 12h0m4-12h0m4 4h0m1 0h0m-51 20h0m-1-2h0m-29 6h0m-6-4h0m-6-5h0m-2-4h0m-12 2h0m-17 0h0m-33-2h0m-20 4h0m-9 9h0m-38 0h0m-33 1h0m26 15h0m17-5h0m43-7h0m121 25h0m-120-4h0m-9-6h0" stroke="rgba(90,90,90,0.35)" stroke-width="8.4"/></g><g clip-path="url(#cB)"><path class="d" transform="scale(.5)" d="M1271 62h0m-3 0h0m-1-6h0m-95 3h0m-50-8h0m-43 10h0m-8-7h0m-2 2h0m-41 5h0m25 14h0m2 4h0m5-9h0m7 6h0m1-12h0m1 8h0m1 0h0m1 3h0m1 1h0m8-2h0m93-9h0m78 8h0m1 5h0m1-10h0m4-1h0m1 11h0m2-3h0m1-2h0m2 5h0m0-1h0m0-10h0m2 5h0m1 4h0m0-6h0m1 3h0m3 3h0m1-4h0m1 2h0m2 3h0m0-12h0m0 10h0m1 3h0m1-3h0m0-8h0m2 11h0m1 0h0m1-3h0m0-4h0m2 2h0m1-3h0m1-6h0m3 8h0m0 5h0m0 2h0m2-2h0m2-4h0m2 5h0m0-7h0m3 6h0m2-2h0m1-10h0m2 11h0m1-1h0m3 1h0m3-1h0m1 17h0m-1-9h0m0 6h0m-1 3h0m-3-12h0m-2 1h0m-1 5h0m-1 6h0m-1 3h0m0-15h0m-1 0h0m-1 14h0m0-3h0m-1 1h0m0-12h0m-1 1h0m0 0h0m-1 8h0m0 5h0m-1-7h0m0-3h0m-1 1h0m-1 8h0m0-8h0m-1 6h0m-1 3h0m-1-8h0m0-2h0m-3 10h0m0-13h0m-2 9h0m0-10h0m-1 3h0m0-1h0m-1-2h0m-1 14h0m-1 1h0m-1 0h0m0-1h0m0-2h0m-2-3h0m0 6h0m-2-11h0m-1-4h0m0 1h0m-3 1h0m0 9h0m-1-3h0m0-1h0m-1 2h0m-1 6h0m-1-3h0m0-8h0m0 4h0m-1-7h0m0 7h0m-1 4h0m0-9h0m-1-2h0m-3 2h0m-3 0h0m0-1h0m0-2h0m-1 5h0m-2 7h0m-2-2h0m0-5h0m0 3h0m-1 7h0m0-13h0m-1 4h0m0 9h0m-1-14h0m-1 1h0m-1 8h0m0-3h0m0 6h0m-1 1h0m0-14h0m0 0h0m0 10h0m0-9h0m0 10h0m-5 2h0m0-3h0m-2 4h0m0 1h0m-1-1h0m-5-3h0m0 3h0m-16-9h0m-26-1h0m-31-4h0m-44 10h0m-5-3h0m-15 8h0m-16-6h0m-6 1h0m-2-3h0m-1 0h0m0 5h0m-4-8h0m-1 1h0m0-2h0m-6 5h0m-1 2h0m0 3h0m-4-9h0m-31 3h0m-15 1h0m-54 6h0m-30-3h0m80 19h0m8-14h0m7 12h0m34-11h0m9 3h0m2-3h0m1 14h0m9-5h0m1-10h0m1 6h0m9 5h0m28 2h0m0 1h0m13-13h0m31 3h0m3 2h0m2 9h0m2-4h0m1-11h0m2 10h0m20-7h0m9 12h0m29-8h0m2 6h0m3-12h0m1 3h0m2 9h0m1 0h0m0-7h0m0-4h0m1 11h0m1 1h0m1-8h0m2-2h0m0-1h0m2 3h0m1-6h0m3 6h0m0-3h0m1 11h0m0-3h0m1 2h0m1 2h0m1-2h0m0 1h0m1-1h0m1-13h0m1 7h0m1 2h0m0 4h0m0 2h0m1-2h0m0-9h0m0 0h0m1 4h0m1-6h0m0 7h0m0-9h0m6 14h0m0-9h0m1-1h0m1 11h0m1-13h0m1 2h0m1 11h0m1-10h0m0 9h0m1-11h0m0 5h0m1-1h0m1 7h0m0 1h0m0-1h0m0-3h0m1 4h0m0-11h0m1 11h0m0-5h0m0-2h0m1 0h0m0-2h0m1-4h0m0 10h0m0 1h0m1-13h0m2 11h0m0 1h0m1-10h0m0 11h0m1-4h0m0 3h0m1-5h0m0 3h0m2-1h0m0 2h0m1-6h0m0 2h0m0 8h0m1-12h0m0-2h0m1 7h0m1 5h0m1-1h0m0-11h0m0 14h0m1-7h0m1-8h0m0 14h0m1-9h0m1 4h0m0 5h0m1 1h0m1-8h0m0 5h0m2-5h0m0-6h0m1 14h0m0-5h0m0-8h0m0 1h0m0 12h0m1-15h0m0 6h0m0-2h0m1 4h0m0 7h0m2-11h0m1 4h0m0-4h0m0 10h0m1-2h0m0-9h0m0 1h0m1-2h0m1 3h0m3 9h0m0-5h0m1 0h0m0 4h0m1-8h0m1-2h0m1 8h0m3-1h0m0 5h0m5-7h0m7 14h0m0-3h0m-1 5h0m-1-3h0m-2 4h0m0-5h0m0 3h0m-1 7h0m-2-10h0m0 11h0m-1 0h0m0 0h0m0 0h0m-1-5h0m0-6h0m0-1h0m-1 3h0m0 5h0m-1-2h0m-2-8h0m0 12h0m0-2h0m-1 2h0m0-13h0m-1 14h0m0-14h0m-1 1h0m-1 8h0m-1 6h0m-1-7h0m0-8h0m0 12h0m-1 2h0m0-1h0m0 2h0m-1-4h0m0-4h0m-1-4h0m0-3h0m-1 9h0m0-7h0m0 10h0m0 3h0m-1-13h0m-2 12h0m0 1h0m0-6h0m0 5h0m-1 0h0m0-4h0m-1 4h0m-2-10h0m-3 9h0m0-11h0m-1 2h0m0-3h0m-2 4h0m-1-5h0m0 9h0m0-9h0m0 5h0m-1 1h0m-2-4h0m-1 11h0m0-7h0m0 2h0m-1 3h0m-1-7h0m-1 1h0m0 8h0m0-9h0m-2 5h0m0 1h0m-1 4h0m-2-3h0m0 3h0m0 0h0m0-1h0m-1-12h0m0 8h0m-1-3h0m-1-6h0m0 10h0m-1-7h0m-2 7h0m-1-3h0m0 7h0m0-4h0m0-9h0m0 7h0m-1 6h0m-1-9h0m-1-1h0m0-1h0m0-2h0m-1 6h0m-1-7h0m-1 8h0m0-2h0m0 6h0m-1-10h0m-1 3h0m0 0h0m-1-5h0m0 11h0m-1-10h0m0 7h0m-1 0h0m-2 6h0m0-7h0m0 0h0m-2 8h0m-2-8h0m0-4h0m0 2h0m-1 5h0m0 4h0m-1-13h0m-1 11h0m-1 2h0m0-3h0m0-10h0m-1 1h0m-1 1h0m-1 9h0m-2-8h0m0-2h0m0 3h0m0 3h0m-3 6h0m-1-13h0m0 4h0m0-5h0m-1 2h0m-1 8h0m0-6h0m0 10h0m-1-9h0m-2 7h0m0-9h0m0 10h0m-1-7h0m0-2h0m0-3h0m-3 11h0m0-12h0m-2 4h0m0 10h0m0 0h0m-2-1h0m-5-6h0m0 3h0m-16-10h0m-4 5h0m-14 6h0m-1-2h0m-23-8h0m-10 0h0m-78 6h0m-9 0h0m0 7h0m-5-11h0m-1-2h0m-3 5h0m-10-5h0m-54 3h0m-2-3h0m-1 5h0m-33-2h0m-26 10h0m10 3h0m20 14h0m2 0h0m9-4h0m12-10h0m26 3h0m9 4h0m43 3h0m26 1h0m33-12h0m22 5h0m19 3h0m36-6h0m17 9h0m6-2h0m2-4h0m1 0h0m2 3h0m0 6h0m1-13h0m0 13h0m1-1h0m0-1h0m1-3h0m0 1h0m0-4h0m1-6h0m2 3h0m0 9h0m1-9h0m0-1h0m0-1h0m2 3h0m1 3h0m1 6h0m1-6h0m0 7h0m0-14h0m0 3h0m1 0h0m0 2h0m0 0h0m1-3h0m1 13h0m1-10h0m0 8h0m0-6h0m0 4h0m1-2h0m0 4h0m1-6h0m0 5h0m0 3h0m0-14h0m1 3h0m0 0h0m1 4h0m0 0h0m1 6h0m1-5h0m0 4h0m0-11h0m1 8h0m0-10h0m1 11h0m1-7h0m1 8h0m1-2h0m0-9h0m0 1h0m1 13h0m0-12h0m1-1h0m0 10h0m2-4h0m1-8h0m0 11h0m2 3h0m1-12h0m0 6h0m1-1h0m1 1h0m3-1h0m0-5h0m1 5h0m3 7h0m1-10h0m1 0h0m2 11h0m1-7h0m0 5h0m1-5h0m1-1h0m0 7h0m0-8h0m1 6h0m0 3h0m1-13h0m0 1h0m1 2h0m1-4h0m2 7h0m1-5h0m1-2h0m1 10h0m0-8h0m1 9h0m1-6h0m1 9h0m1-7h0m0 2h0m1 0h0m0-10h0m1 14h0m0-11h0m1 7h0m1-4h0m2-3h0m1 0h0m0 12h0m0-4h0m0-3h0m0-6h0m0 6h0m1 2h0m1-10h0m1 14h0m0-10h0m0 0h0m0-4h0m1 9h0m1 2h0m0-10h0m0 11h0m0-3h0m0-7h0m1-1h0m0 0h0m0 7h0m0 1h0m1-4h0m1 1h0m1 3h0m0-6h0m1 2h0m0 3h0m0 3h0m1-1h0m1-2h0m0-5h0m2-2h0m2 7h0m1 4h0m1-3h0m1 0h0m2-4h0m1 5h0m1 3h0m2-7h0m0-1h0m4 12h0m-1 12h0m-3-3h0m-1 3h0m-2-5h0m0 7h0m-1-14h0m0 0h0m-1 6h0m0 0h0m0-3h0m-1 5h0m-1-8h0m0 1h0m0 4h0m-2-1h0m-1 4h0m-1 5h0m0-12h0m-5 9h0m-1-3h0m0-7h0m-1 2h0m0 11h0m-1-1h0m0-9h0m-1-4h0m-1 5h0m-1 1h0m-1 3h0m0 0h0m-2 3h0m-1-12h0m-1 5h0m0 5h0m0-4h0m-1 2h0m0-7h0m0 11h0m-1-4h0m0 0h0m0 7h0m-1-11h0m0 7h0m0-4h0m-2 2h0m-1-8h0m0 3h0m-1 11h0m0-8h0m-1-4h0m0 2h0m0-5h0m0 10h0m0 5h0m0-12h0m-2-3h0m0 3h0m0-1h0m0 4h0m0-1h0m-1 7h0m0 2h0m-1-1h0m0-8h0m0 1h0m-1 0h0m0 7h0m-2-6h0m0-2h0m0-2h0m-2 8h0m0-6h0m0 6h0m-2-2h0m0 4h0m0-13h0m-1 13h0m-1-12h0m-1 11h0m0-8h0m0 0h0m0 7h0m0-8h0m-1-3h0m0 6h0m-1-6h0m0 6h0m-1-6h0m0 10h0m-2 1h0m0-7h0m0 6h0m-2 1h0m0-5h0m-1-5h0m-1 7h0m-1 4h0m-1-6h0m-1 3h0m0 0h0m-1 4h0m0-10h0m-1 6h0m0-2h0m0 4h0m-1 3h0m0-11h0m0 7h0m0-9h0m-1 9h0m0-9h0m-1 14h0m0-10h0m-1 6h0m0-7h0m0-4h0m0 10h0m-1-1h0m-1-9h0m0 4h0m-1 5h0m0-5h0m0 6h0m0 1h0m-1-5h0m0-4h0m0 9h0m0-1h0m-1-6h0m0 8h0m0-7h0m0-1h0m-1 1h0m-1 6h0m0-3h0m0-4h0m-2 1h0m-1 10h0m-1-1h0m0-4h0m-1-5h0m0-5h0m0 11h0m-1-10h0m0 0h0m-1 3h0m0 1h0m-1 10h0m0-13h0m0 11h0m0-2h0m-1 4h0m-1 0h0m0-3h0m0-6h0m-1 6h0m0-1h0m-1-7h0m0-3h0m0 9h0m0 1h0m0-7h0m0-3h0m-1 12h0m0-7h0m0 9h0m-3-6h0m0 2h0m0 0h0m0-6h0m0 2h0m-1-3h0m-1-4h0m0 12h0m0 2h0m-1-10h0m0 4h0m-1 6h0m0-6h0m0 7h0m0-3h0m-1-7h0m0 5h0m-1 0h0m0-3h0m0-6h0m0 10h0m0 0h0m0 1h0m-1-9h0m-1 8h0m0 4h0m-2-1h0m-4-1h0m-14-12h0m-1 10h0m0 0h0m-1-1h0m-7 3h0m-1-9h0m-3-4h0m-6 9h0m-4 0h0m-8 2h0m-1-1h0m-11 0h0m0 1h0m-2-7h0m-4-4h0m-9 15h0m-13-7h0m0-8h0m-4 9h0m-49-7h0m-76 8h0m-16-10h0m-17 1h0m-12 11h0m-15 3h0m-15 15h0m15-10h0m3 2h0m15 1h0m0-3h0m94 2h0m14 7h0m22 2h0m17-8h0m9 4h0m6-6h0m5 1h0m0 4h0m4 0h0m4-6h0m2-1h0m8 4h0m6 2h0m1-5h0m4 1h0m2-1h0m2 10h0m2-6h0m1-2h0m1 5h0m1-9h0m2 11h0m1-4h0m1 1h0m11-10h0m1 10h0m1 2h0m2 0h0m1 2h0m1-8h0m1 6h0m1-11h0m2 13h0m1-4h0m0 5h0m0-12h0m1 5h0m2 4h0m0-8h0m4 7h0m1 0h0m0-11h0m0 13h0m7 2h0m0-2h0m2-4h0m1 6h0m0-8h0m1-6h0m1 11h0m0-12h0m1 8h0m1 2h0m1-7h0m0 9h0m2 3h0m0-8h0m1 7h0m2 0h0m0-5h0m2-2h0m0 3h0m1-1h0m0 0h0m1-7h0m1 10h0m0-11h0m1 10h0m1-8h0m0 9h0m1 3h0m0-14h0m0 3h0m0-2h0m1 13h0m1-12h0m0 8h0m1 3h0m1-12h0m0 12h0m0-5h0m1-1h0m0 5h0m1-11h0m0 7h0m1 2h0m1 3h0m0-1h0m0 2h0m1-6h0m1-3h0m1-1h0m0 7h0m0 0h0m0 0h0m0 2h0m0-1h0m0-4h0m0-4h0m1-3h0m0 8h0m0-1h0m1 5h0m0-14h0m1 8h0m0 4h0m1 0h0m0-2h0m0 2h0m1 3h0m0-4h0m0-1h0m1 5h0m0-9h0m0-1h0m0-1h0m1 10h0m1-2h0m0-12h0m2 9h0m1-6h0m1 7h0m1-3h0m0 2h0m0-6h0m1 5h0m0-7h0m0 8h0m0 4h0m1-10h0m0 6h0m1-9h0m1 4h0m0-2h0m0 13h0m1-9h0m0-2h0m0 0h0m1-4h0m0 14h0m0-12h0m0 9h0m0-9h0m0 11h0m0-2h0m1-4h0m0-7h0m1 0h0m1 11h0m1 0h0m0-7h0m0 4h0m1 5h0m0-11h0m2 1h0m0 11h0m1-6h0m1-8h0m0 8h0m0-2h0m1 2h0m1-4h0m0 7h0m1-2h0m0-5h0m0-1h0m1 0h0m1 6h0m0 2h0m0-6h0m0 5h0m1-10h0m0 15h0m1 0h0m0-6h0m1-5h0m0 8h0m0-7h0m1-3h0m0 0h0m1 6h0m1 2h0m0-10h0m1 3h0m0 9h0m1-4h0m0 0h0m0-4h0m0 0h0m1 10h0m0-13h0m0 13h0m1-5h0m2-5h0m1 7h0m0-4h0m0 1h0m1-8h0m0 13h0m1-3h0m0-2h0m0 5h0m1-3h0m0-5h0m1 3h0m0 5h0m0 2h0m0-5h0m1 2h0m0-3h0m0-5h0m1 10h0m0-5h0m0 4h0m0-4h0m1-8h0m0 2h0m1 1h0m1 1h0m0 10h0m2-15h0m0 15h0m0-15h0m1 15h0m2 0h0m0-2h0m1 2h0m1-8h0m1-3h0m0 9h0m1-8h0m0-2h0m1 1h0m2 9h0m0-1h0m2-9h0m0 4h0m1 2h0m0-4h0m1 0h0m0 6h0m0-11h0m1 1h0m0 9h0m0-9h0m1 14h0m0-11h0m0 6h0m1-5h0m1 9h0m0-11h0m2 2h0m0 2h0m0 3h0m1-3h0m0-6h0m0 11h0m3-4h0m1 7h0m0-11h0m2 0h0m7 20h0m-7 5h0m-1-11h0m-1 11h0m0-5h0m-1 2h0m-1-3h0m-1 7h0m0-10h0m-1 7h0m0-8h0m0 7h0m-2-5h0m0-1h0m-1-1h0m0 0h0m-2 11h0m0-11h0m0 4h0m-1 8h0m-1-6h0m0 0h0m-1-7h0m-1 13h0m0-8h0m0 2h0m-1-8h0m-1 13h0m-2 1h0m0-6h0m0-7h0m-1-1h0m-1 11h0m-1-3h0m0 0h0m0 4h0m-1-11h0m0 4h0m0 7h0m0-4h0m-1-9h0m0 9h0m0 0h0m-2-1h0m-1-5h0m-1 4h0m0-6h0m-3 10h0m0-8h0m0 9h0m0 3h0m-1-4h0m0-11h0m0 5h0m-1 8h0m0-10h0m-1 1h0m-1 11h0m-2-4h0m-1-9h0m0 12h0m-2-7h0m0 8h0m0-7h0m0 2h0m-3-9h0m-2 13h0m0-3h0m0-7h0m0 6h0m-1 3h0m0-1h0m0-4h0m-1 4h0m-1-3h0m0-8h0m-1 8h0m0-5h0m0 11h0m0-3h0m-1-6h0m-1-3h0m-1 8h0m0-11h0m0 15h0m0-8h0m-1-1h0m0 5h0m0 1h0m-1-10h0m-1 11h0m-1-12h0m0 2h0m0 1h0m0-3h0m-2 7h0m0 7h0m-1-12h0m0 1h0m-1-4h0m0 13h0m0-2h0m0-2h0m0 0h0m0-3h0m-1 0h0m0-6h0m-1 0h0m0 6h0m0 5h0m-1 0h0m0 2h0m0-9h0m-1 2h0m0-3h0m0 4h0m0 4h0m-1 1h0m0-2h0m0 0h0m-1 0h0m0-8h0m0 13h0m-1-6h0m0-9h0m0 5h0m0 0h0m-1 8h0m-1-12h0m0 8h0m-1 2h0m0-4h0m0 7h0m-1-8h0m0-6h0m0 14h0m0-2h0m-1-1h0m0-3h0m-1 3h0m0 4h0m0-4h0m-1 3h0m-1 1h0m-1 0h0m0-7h0m0 4h0m0-4h0m-1 4h0m0-6h0m0-4h0m0 10h0m-1-12h0m0 0h0m0 6h0m0 0h0m0 4h0m-1 2h0m-1-10h0m0 11h0m-1 1h0m0-13h0m-1 14h0m0-12h0m0 9h0m-1-7h0m0 6h0m0-4h0m0-7h0m-1 4h0m-1-1h0m0 12h0m0-13h0m0 8h0m-2-9h0m0 2h0m0 11h0m-1-11h0m0 1h0m0 11h0m-1-10h0m0-1h0m0-2h0m0 2h0m0 5h0m0-6h0m0 5h0m-1-2h0m0 4h0m-1 0h0m0-5h0m-1 8h0m0-9h0m0 5h0m0 0h0m0-1h0m-1-8h0m-1 11h0m-1-2h0m0-3h0m0-6h0m-1 10h0m-1-5h0m0-5h0m-1 13h0m0-13h0m0 13h0m-1-4h0m0-2h0m0-1h0m-1 1h0m-1 5h0m-1-2h0m-1 3h0m0-7h0m-3 6h0m-1-12h0m-1 1h0m0 3h0m0 5h0m-1 1h0m0-2h0m-1 3h0m0 4h0m-1-12h0m-1 11h0m-1-6h0m-1-3h0m0-3h0m0 5h0m0 2h0m-2-7h0m0 13h0m0-5h0m-2-5h0m0 9h0m0-12h0m-2 13h0m0-12h0m0 10h0m-1-4h0m0 1h0m-1-10h0m0 1h0m0 5h0m-1 8h0m-1-12h0m0 1h0m-1 9h0m0 3h0m0-9h0m-2 8h0m-1-4h0m-1 3h0m0-1h0m-1-4h0m0-3h0m0 8h0m0-8h0m-1 3h0m-1 1h0m0 2h0m-2-10h0m0 14h0m0-2h0m-1-12h0m-1 13h0m-1-5h0m0-1h0m0 1h0m-1 3h0m0 2h0m0-2h0m0-11h0m-1 0h0m0 10h0m-1 1h0m-1 1h0m0-12h0m-3 6h0m-2 6h0m0 0h0m-2 2h0m-2 0h0m-3 0h0m0-9h0m-1 6h0m-1 3h0m0-12h0m-1 3h0m0-6h0m-2 14h0m0-9h0m-5 0h0m-1-2h0m-4 9h0m-1-2h0m-1-10h0m-2 7h0m0 6h0m-2 0h0m-2-5h0m-2-3h0m0 4h0m-3-2h0m-2 2h0m-1 5h0m-2-6h0m-1-3h0m-1 5h0m-1-6h0m-3 3h0m-1-7h0m-1 11h0m-5 3h0m-2 1h0m-3-12h0m-3 2h0m-1 0h0m-4-2h0m-1 2h0m-3-1h0m-7 0h0m-4 2h0m-6 5h0m-4-1h0m-5-3h0m-7 0h0m-17 1h0m-2 7h0m-7-6h0m-104-3h0m28 14h0m10 9h0m27-4h0m2-2h0m18 8h0m7 0h0m9-12h0m4 3h0m5-2h0m3-2h0m2 9h0m0-8h0m1 3h0m1-6h0m2 15h0m2-3h0m1 0h0m3-8h0m7 8h0m0-11h0m3 8h0m0-3h0m1 1h0m1-1h0m2 0h0m1 2h0m1 3h0m4 4h0m1-10h0m1-5h0m0 1h0m2 4h0m1 2h0m3 4h0m5 3h0m0-2h0m2-10h0m0 2h0m2 3h0m1-6h0m1 12h0m2-4h0m0 2h0m1 4h0m2-11h0m3 7h0m2 1h0m2 2h0m9-8h0m1 0h0m0-4h0m1-2h0m0 1h0m3 8h0m3 1h0m0 3h0m0 0h0m1-11h0m0 8h0m1-9h0m0 3h0m4 6h0m1-9h0m0-1h0m1 10h0m1 0h0m0 1h0m0-9h0m2-1h0m0 1h0m1-1h0m0 1h0m2 2h0m2 7h0m1-3h0m0 3h0m2-5h0m1 5h0m1 1h0m1-10h0m1 11h0m1 0h0m0-4h0m0-3h0m1-1h0m1 9h0m0-4h0m3-7h0m1 5h0m1-6h0m0 10h0m0 0h0m1-12h0m2 10h0m0-2h0m1 7h0m0-8h0m2 5h0m0-2h0m1 5h0m0-14h0m0 3h0m0 2h0m1 8h0m1-9h0m0 10h0m0-15h0m1 13h0m1 2h0m0-15h0m1 6h0m1-1h0m0-2h0m1 6h0m0-3h0m1-4h0m0 10h0m2 2h0m0-3h0m0 2h0m1-13h0m1 5h0m0 5h0m3-9h0m0 8h0m0-8h0m1 8h0m0-3h0m1-3h0m1-2h0m1 4h0m0 4h0m1 2h0m0-8h0m0 10h0m1-13h0m0 10h0m0 3h0m0 2h0m0-5h0m1 1h0m1-11h0m1 0h0m1 6h0m0 4h0m1 2h0m1-4h0m1 3h0m0-6h0m0 8h0m1-2h0m0-5h0m0 1h0m2 2h0m0-6h0m0 9h0m1-9h0m0 9h0m1-5h0m0-1h0m0 1h0m1 5h0m1-3h0m1-2h0m1 4h0m0-9h0m1 9h0m0-3h0m0-6h0m0 11h0m1-9h0m0 0h0m0-1h0m0 3h0m0-3h0m0 10h0m1-10h0m0 0h0m1-3h0m2 10h0m0-6h0m1 0h0m1-4h0m0 0h0m2 0h0m1 13h0m0-2h0m0 2h0m0-10h0m1 5h0m1-5h0m1 10h0m0-12h0m1 2h0m0 11h0m1-12h0m0 6h0m0-6h0m1 8h0m0-4h0m0 6h0m1-9h0m0 12h0m1-13h0m0 3h0m0 5h0m0 4h0m0-5h0m1-5h0m1 8h0m0-9h0m0-3h0m1 11h0m0 4h0m0-13h0m1 13h0m0-9h0m1 4h0m0-7h0m1 10h0m0-8h0m0 6h0m1-7h0m0 6h0m0-5h0m0 6h0m0-4h0m0 3h0m0-7h0m0 6h0m1-5h0m0-4h0m0 3h0m0 4h0m0 7h0m0-5h0m1 4h0m0 0h0m1-6h0m0-5h0m0 10h0m0 0h0m0 3h0m1-15h0m0 5h0m0 1h0m0 3h0m1-8h0m1 5h0m0-1h0m0 0h0m0-5h0m1 15h0m0-8h0m0 2h0m1-5h0m0 9h0m0-7h0m0 4h0m1 4h0m0-1h0m1-6h0m0 5h0m0-12h0m1 9h0m1-1h0m1-3h0m0 10h0m0-12h0m0 6h0m0 3h0m0-4h0m1 2h0m0-1h0m0-8h0m2 7h0m2 6h0m0-12h0m0-1h0m0 11h0m0-5h0m0-4h0m1 7h0m0-8h0m0 11h0m1-5h0m0 1h0m0 5h0m0 0h0m1-12h0m0 4h0m0 3h0m1-8h0m0 2h0m0-2h0m0 5h0m1-5h0m0 11h0m0-9h0m0 6h0m1-6h0m0-3h0m1 13h0m1-9h0m1 6h0m1-9h0m0 9h0m0-1h0m2 1h0m1-9h0m0 3h0m0 3h0m1 7h0m0 0h0m1-9h0m0-3h0m2 9h0m0 3h0m2-1h0m1-4h0m1 4h0m0-3h0m0 4h0m0-4h0m0-8h0m0 1h0m0-2h0m1 8h0m0 0h0m0-7h0m2 10h0m0-3h0m1-5h0m1-2h0m1 6h0m1 7h0m0-15h0m1 13h0m0-9h0m1 6h0m0-4h0m1 3h0m0 4h0m0 1h0m1-7h0m0 1h0m1-2h0m0-5h0m1-1h0m1 6h0m0 4h0m1-8h0m1-1h0m0 12h0m0 2h0m0-15h0m2 3h0m0 10h0m1-8h0m0 1h0m1-1h0m0 5h0m0-8h0m1 13h0m0-13h0m0 10h0m0 1h0m2-3h0m1-7h0m0 6h0m1-6h0m0 10h0m1-8h0m0 8h0m0-2h0m0-11h0m0 4h0m0 2h0m0 3h0m1 3h0m1 0h0m0-8h0m1 4h0m1-8h0m0 2h0m1-1h0m0-1h0m0 10h0m1-1h0m1 3h0m1-11h0m2 1h0m0 13h0m1-4h0m0-8h0m1 8h0m0-2h0m0-2h0m0 6h0m1-1h0m2-11h0m1 0h0m1 9h0m2-10h0m2 9h0m-7 8h0m-2-1h0m0 2h0m-1 1h0m-1 6h0m-4-2h0m-1-1h0m0 7h0m-2 0h0m0-10h0m0 2h0m-1 6h0m-1-9h0m0-1h0m0 6h0m-1-2h0m0 10h0m-1-6h0m-1 5h0m-1-14h0m-1 0h0m-1 13h0m0-8h0m0 10h0m-1-13h0m-1 0h0m0 8h0m-1 5h0m0-1h0m-1-7h0m-1 0h0m-1 4h0m0 1h0m-1-10h0m0-2h0m0 13h0m0-4h0m-1 5h0m-3-2h0m-1-4h0m0 7h0m0-13h0m-1 5h0m0 4h0m-1 3h0m-1 0h0m0 0h0m-1-5h0m0 2h0m0-7h0m-1 1h0m-1 4h0m-2 4h0m-1-7h0m0 5h0m0-1h0m-1-8h0m0 7h0m0 1h0m-1-1h0m0-4h0m-1-2h0m0 2h0m0 6h0m-1-6h0m0 10h0m0 0h0m-1-3h0m0 1h0m0-1h0m-1-8h0m0 2h0m-1-5h0m0 3h0m-1 0h0m0-4h0m-1 0h0m0 12h0m0-5h0m0 6h0m-1-9h0m0 8h0m0-11h0m-1 2h0m-1-1h0m-1-2h0m0 8h0m0-7h0m-1 3h0m-1 4h0m0 1h0m0 3h0m-1-9h0m0 6h0m-1-1h0m0-5h0m-1-1h0m0-2h0m0 6h0m0-3h0m-1 5h0m0 7h0m0-9h0m-1 0h0m-1-2h0m-1 4h0m0 4h0m0-3h0m0 5h0m0-4h0m-1-4h0m0 7h0m-2-3h0m0 3h0m0-5h0m0-1h0m-1 2h0m0-7h0m0 6h0m0 6h0m0-11h0m0 2h0m-1-4h0m0 10h0m0-2h0m0-2h0m-1-5h0m0 13h0m0-15h0m-2 8h0m0 3h0m-1-10h0m-1 8h0m-1-6h0m0 2h0m0 3h0m0 1h0m-1-1h0m0-5h0m0 10h0m0-8h0m-1 1h0m0-5h0m0 5h0m0-2h0m0 6h0m-1-4h0m0-6h0m0 5h0m-1-5h0m0 6h0m-1 0h0m0 7h0m-1-3h0m0 4h0m0-6h0m0-3h0m-1-1h0m0 1h0m0 2h0m0 3h0m0 2h0m0-5h0m0 4h0m-1-3h0m0-1h0m0 8h0m-1-10h0m0 2h0m0 2h0m-1-4h0m0-3h0m0-1h0m-1 5h0m0 9h0m-1-2h0m0-11h0m0-1h0m-1 3h0m0-3h0m0 10h0m-1-8h0m-1 2h0m0 1h0m0 3h0m-1 5h0m-1-8h0m-1 8h0m0-6h0m0 2h0m-1 1h0m0 0h0m0-3h0m0 0h0m0 1h0m-1 5h0m-1-10h0m0 5h0m-1 2h0m0 1h0m-1-3h0m-1 2h0m0 4h0m-1-6h0m0-1h0m0-2h0m0 9h0m-1-8h0m0-1h0m-1-2h0m0-3h0m0 5h0m-2-4h0m0-1h0m0 5h0m-1 5h0m0 4h0m0-11h0m-1 9h0m0-8h0m-1 1h0m0 9h0m0-4h0m0-10h0m-1 6h0m0-6h0m0 7h0m-1-5h0m0 6h0m0-9h0m0 11h0m-1-9h0m-2 7h0m0 4h0m-1-5h0m0 2h0m-1-7h0m0 7h0m-1 5h0m-2-3h0m0-10h0m0-2h0m0 10h0m-2 5h0m-1-6h0m0 2h0m0-8h0m0-1h0m-1 7h0m0-2h0m-1-3h0m-1-1h0m0-1h0m0 2h0m-1 7h0m-3-8h0m0 4h0m-1 0h0m-1-1h0m-2-1h0m-2 7h0m-2-6h0m0 3h0m0 4h0m-1-4h0m-1-1h0m-1-8h0m0 3h0m-1-3h0m-1 10h0m0-10h0m0 8h0m-1 7h0m0-14h0m-2 5h0m0 5h0m-3-9h0m-2 4h0m0-4h0m-1-2h0m-1 0h0m0 14h0m0-14h0m-1 11h0m0-10h0m0 0h0m-1 5h0m-1 6h0m0 1h0m-5-1h0m0-11h0m-2 2h0m-2 11h0m0 0h0m0-6h0m-2-8h0m-3 9h0m-1 0h0m0-1h0m0-8h0m0 8h0m-1 1h0m0-8h0m0 13h0m-4 1h0m0-6h0m-1 0h0m-1-3h0m-1 9h0m-2-2h0m0-6h0m-2 7h0m-1-6h0m-2-4h0m0 6h0m-1-10h0m0 10h0m-1-7h0m0 7h0m-1-3h0m0 0h0m0 7h0m-1-14h0m0 1h0m-1 1h0m-1-1h0m-1 2h0m-1 5h0m-1 7h0m0-8h0m0 4h0m-1-6h0m-2 10h0m-1 0h0m0-2h0m-2-8h0m-3 6h0m-3 1h0m-1-3h0m-1-9h0m0 11h0m-5 3h0m-2 0h0m-1-4h0m0-6h0m-2 9h0m-4-6h0m0-6h0m-2 11h0m0-1h0m0-11h0m-1 12h0m-1 2h0m0-2h0m0 2h0m0-13h0m-1 1h0m-2 3h0m-1 9h0m0-3h0m-2-1h0m-6 0h0m-1 5h0m-1-3h0m0-3h0m-3-3h0m0-1h0m-7-3h0m-1 9h0m-5-8h0m-1-2h0m-6-1h0m-17 3h0m-3 9h0m-22-6h0m-9-4h0m-8 9h0m-17 6h0m41 5h0m20 3h0m1 0h0m0 5h0m1-6h0m4 4h0m0-3h0m1-5h0m1 9h0m1-13h0m5 13h0m4 1h0m4-11h0m2 11h0m1-3h0m1 0h0m1-8h0m5 9h0m0-4h0m1-7h0m2 8h0m3-3h0m1 6h0m4-4h0m4 0h0m1-1h0m5 8h0m1-7h0m1 4h0m2-3h0m2 4h0m0-11h0m0-2h0m1 9h0m2-6h0m1 4h0m1-2h0m1 1h0m1-1h0m2-1h0m1 4h0m1 2h0m5 0h0m0-3h0m2-6h0m1 10h0m0-10h0m1 5h0m3-2h0m2-3h0m0 6h0m4 7h0m1 1h0m0-9h0m1 5h0m1 2h0m1-3h0m0-5h0m3 3h0m2 7h0m1-5h0m0-4h0m4-2h0m1 8h0m3-12h0m0 7h0m2 5h0m0-9h0m2 9h0m2 2h0m3-4h0m0-7h0m1-3h0m0 9h0m0-8h0m1 12h0m1-13h0m0 6h0m0-3h0m0 12h0m1-5h0m1-3h0m1 6h0m0-5h0m3-5h0m0 7h0m2 3h0m1-10h0m1 1h0m1-3h0m2 7h0m0-6h0m1 2h0m4-4h0m0 12h0m1-10h0m1 12h0m1-7h0m0-6h0m0 0h0m2-1h0m0 4h0m2-1h0m3 12h0m0-15h0m0 2h0m1 12h0m0-11h0m0-2h0m1 0h0m1 5h0m0-3h0m1 5h0m1 4h0m0-1h0m0 3h0m1-9h0m0 9h0m2-1h0m0-13h0m0 8h0m1-7h0m0 12h0m0-4h0m1 3h0m1-12h0m1 13h0m2 1h0m2-13h0m1 12h0m0-4h0m1 3h0m0-9h0m1-3h0m0 0h0m0 11h0m1-8h0m0 8h0m0 2h0m1-2h0m0-8h0m1 0h0m0 9h0m1-3h0m0-9h0m1 7h0m0 2h0m1-4h0m0 3h0m1 6h0m2-8h0m0 8h0m0-11h0m0-2h0m1 7h0m2-1h0m1 0h0m0-6h0m2 1h0m0 7h0m1 3h0m0 1h0m0-7h0m0 0h0m0 6h0m1-4h0m0-6h0m2 5h0m1 4h0m0-5h0m2 9h0m0-9h0m3-4h0m0 2h0m2 3h0m1-3h0m0 10h0m1-12h0m1 1h0m0 0h0m0 0h0m1 6h0m1-4h0m0-5h0m1 2h0m0 10h0m0-3h0m1 6h0m0-15h0m1 2h0m0 3h0m1 6h0m0-10h0m1 5h0m1 2h0m0-3h0m0 4h0m1-7h0m1 3h0m0 7h0m1-10h0m0 0h0m0 5h0m0 3h0m1-5h0m0-1h0m0 5h0m1 3h0m0-5h0m1-1h0m0 4h0m0-9h0m0 11h0m1-7h0m0 6h0m1-9h0m0 3h0m0 1h0m1 7h0m0-5h0m0 0h0m1 1h0m0-8h0m0 3h0m0 10h0m0-12h0m1 0h0m0 7h0m0 3h0m1-6h0m0-5h0m1 12h0m0 1h0m1 0h0m0-3h0m0 4h0m1-10h0m0 0h0m0 10h0m0-8h0m0-6h0m2 0h0m0 3h0m0 10h0m0 0h0m0-8h0m0 8h0m0-2h0m3 3h0m1-4h0m1-1h0m0-3h0m1 4h0m0-5h0m1-5h0m1 3h0m0 1h0m1 9h0m1-4h0m0-1h0m1 5h0m1-7h0m0 5h0m1-7h0m0 8h0m0-12h0m1 2h0m1 4h0m1 6h0m0-10h0m1 8h0m1-4h0m3-7h0m1 13h0m0-3h0m0-7h0m1 2h0m0 3h0m1 1h0m1 1h0m1-5h0m1 0h0m0-1h0m1 0h0m1-4h0m0 0h0m2 1h0m0 3h0m1 6h0m0-4h0m1 2h0m2-6h0m0 1h0m2 6h0m0-8h0m0 4h0m2-3h0m1 11h0m0-4h0m5-3h0m2-1h0m2-4h0m-1 24h0m-13 0h0m-5-5h0m-1-3h0m0 11h0m-1-4h0m-4 1h0m0-6h0m-3-2h0m0 5h0m-2 6h0m-3 1h0m0-13h0m-1 8h0m0 7h0m-1-3h0m0-10h0m0 8h0m-1-7h0m-1 6h0m-1-9h0m0 0h0m-1 7h0m0-5h0m0 8h0m-1-6h0m-2-3h0m-1 9h0m0-9h0m-1 12h0m-1-4h0m0-9h0m0 11h0m-1-4h0m-1-4h0m0 3h0m-1 3h0m0-1h0m-1 0h0m0-7h0m-1 9h0m0-1h0m-1-1h0m0-7h0m0-1h0m-2 12h0m-2 1h0m-2-11h0m-1 1h0m0 9h0m-1-8h0m-2 9h0m0-1h0m-1-7h0m-1 1h0m-2 1h0m-4-4h0m-1-2h0m-2 8h0m0-7h0m0 7h0m-3-7h0m0 3h0m-1 0h0m-4 1h0m-2-5h0m-1 7h0m-3-8h0m-2 12h0m0-10h0m-1 2h0m-1 4h0m0-4h0m-1 1h0m-1 10h0m-3-8h0m-2-4h0m0 8h0m0 1h0m-3-10h0m-2 12h0m0-14h0m-1 0h0m0 1h0m-2 3h0m-1 0h0m0-3h0m-1-1h0m-1 13h0m0-9h0m0-1h0m-4 7h0m-2-8h0m-1-1h0m-1 1h0m-2 0h0m-2 9h0m-1-5h0m0 7h0m-2-6h0m0-3h0m-2-1h0m0-2h0m-6 9h0m-1-10h0m-1 2h0m-1 0h0m0-1h0m-4 2h0m-1 0h0m-2 6h0m-1 6h0m-1-12h0m-1 8h0m-1-3h0m-5-5h0m-2-3h0m-2 9h0m-4 3h0m-1 3h0m-1 0h0m0-14h0m-2 9h0m-8 0h0m-6-7h0m-4 5h0m-5-4h0m-8-2h0m-2 1h0m-3 12h0m-1-9h0m-7-6h0m-4 10h0m-3-2h0m-2 5h0m-1-3h0m-1 0h0m-1-9h0m-11 7h0m-15 7h0m-10-1h0m-21-10h0m-2 9h0m-14-5h0m-13-3h0m-43 5h0m62 12h0m20-6h0m42 7h0m5-4h0m19 3h0m9 0h0m8-3h0m12 0h0m25 9h0m0-10h0m17 5h0m1-2h0m6-5h0m1 15h0m4 0h0m4-10h0m0 3h0m2-7h0m1 1h0m10 2h0m0 5h0m2-7h0m2-2h0m0 0h0m8 9h0m3-9h0m3 2h0m13 12h0m6-3h0m7-7h0m1-3h0m4 12h0m6-3h0m3-9h0m4 12h0m4-12h0m4 4h0m1 0h0m-51 20h0m-1-2h0m-29 6h0m-6-4h0m-6-5h0m-2-4h0m-12 2h0m-17 0h0m-33-2h0m-20 4h0m-9 9h0m-38 0h0m-33 1h0m26 15h0m17-5h0m43-7h0m121 25h0m-120-4h0m-9-6h0" stroke="#800080" stroke-width="6.8"/></g><g clip-path="url(#cB)"><path class="d" transform="scale(.5)" d="M963 189h0m-5 16h0m0-6h0m2-5h0m3 2h0m1 0h0m2 8h0m1 3h0m1-3h0m1-6h0m1-2h0m1 11h0m13 10h0m-6 5h0m-6-2h0m-1-5h0m-1 5h0m-5-2h0m-2-4h0m0 8h0m-1-5h0m-5 10h0m6-3h0m3 14h0m9-12h0m3 69h0m235 18h0m-10 0h0m-6 15h0m15 7h0m2-13h0m1 2h0m0 11h0m3-7h0m10-4h0m12 6h0m-10 21h0m-8-2h0m0-3h0m-2-3h0m0 2h0m-2 5h0m-1-1h0m-160 15h0m6-12h0m128 5h0m10 2h0m1-3h0m5 2h0m12-6h0m0 3h0m0 0h0m0-1h0m1 13h0m0-5h0m0-10h0m2 6h0m0 8h0m5-5h0m1 2h0m0-5h0m2 0h0m2-4h0m17 8h0m-12 6h0m-1 5h0m-4 9h0m-6-1h0m-1-2h0m0-6h0m-1 1h0m-1 2h0m-1 2h0m-1 0h0m-1-6h0m-4 11h0m-6-3h0m-3-5h0m-4 1h0m-13-2h0m-48-3h0m-71 1h0m-89 4h0m21 17h0m30-1h0m22 2h0m8-7h0m15 0h0m6 11h0m64 0h0m35-13h0m25 4h0m1 7h0m4 0h0m5-4h0m2 0h0m2 3h0m2-5h0m0-1h0m0-2h0m2 9h0m7-12h0m4 19h0m-3 7h0m-5-1h0m-1-5h0m-4 11h0m-8-13h0m-1 11h0m-1-11h0m-6 4h0m-8-6h0m-1 6h0m-33 5h0m-20-8h0m-2 8h0m-10-6h0m-22 6h0m-18-1h0m-3 2h0m-12-9h0m-3 0h0m-1 0h0m-8-2h0m-65 11h0m-6 10h0m9 2h0m58 4h0m7-9h0m16 10h0m7-8h0m0 0h0m9 8h0m3-10h0m1 8h0m6 3h0m24-7h0m1 2h0m2 4h0m8 2h0m7 0h0m16-5h0m26 5h0m3-1h0m12-14h0m5 2h0m0 3h0m0 8h0m0-5h0m5-2h0m1 3h0m2 6h0m1-14h0m4 14h0m2-13h0m2 4h0m5 5h0m3-5h0m5-4h0m4 1h0m9 27h0m-15 0h0m-9-8h0m-3-5h0m0 13h0m-1-7h0m-2 0h0m0-5h0m-1 4h0m0-1h0m-2 5h0m-1-9h0m-1 12h0m-2 1h0m-4 0h0m-7-12h0m-2 1h0m-27 1h0m-2 11h0m-11-6h0m-8-1h0m-1-7h0m-3 7h0m-5-6h0m0-2h0m-9 2h0m-1 11h0m0-4h0m-2-2h0m-3-1h0m0 0h0m-2 0h0m-1-2h0m-1 11h0m0-2h0m-1-7h0m-6 7h0m0-3h0m0-2h0m-1 6h0m-3-13h0m-3 13h0m0-3h0m-1 2h0m-3-6h0m-2 5h0m0-4h0m-2 7h0m0-8h0m-2 1h0m0-4h0m-1 1h0m-1 4h0m-10-5h0m-13 8h0m-26-9h0m4 17h0m6 3h0m7 5h0m32-3h0m5-4h0m1 7h0m1 0h0m0-10h0m2 12h0m3-3h0m2-10h0m1 0h0m0 8h0m0-1h0m1-5h0m1-2h0m0 13h0m0-12h0m1 10h0m0-8h0m1 1h0m1 0h0m1 10h0m0-4h0m3-3h0m3-1h0m0 2h0m0 5h0m1-9h0m1 3h0m0-8h0m1 0h0m0 6h0m4-6h0m2 2h0m0 13h0m3-7h0m0-3h0m1-5h0m3 14h0m0-7h0m1 7h0m0-2h0m1-8h0m1 10h0m2-8h0m0 0h0m1 7h0m1-12h0m5 12h0m2-1h0m1-11h0m11 8h0m3 5h0m7-8h0m3 3h0m14-1h0m4 6h0m3-4h0m6 3h0m4-1h0m7-1h0m3-5h0m3 5h0m8-1h0m4 1h0m10-4h0m8 9h0m-1 3h0m-5 10h0m-12 2h0m-6-11h0m-3-3h0m-2 3h0m0 5h0m-3-9h0m-2 8h0m-3-2h0m-2-5h0m-1-1h0m-1 3h0m-4 6h0m-3-2h0m-5 4h0m0-4h0m-14 4h0m-1-5h0m-3 1h0m-24-5h0m-16 2h0m-8-2h0m-3 8h0m-1-10h0m-1 3h0m0-3h0m-1 12h0m-1-12h0m-3 10h0m-1-4h0m-1-5h0m-2-1h0m0 1h0m-1 1h0m-3 5h0m-1 6h0m-1-4h0m0 4h0m-1-12h0m-1 2h0m-2-2h0m0 9h0m-2-10h0m0 9h0m-3 2h0m-3-10h0m-1 8h0m-3-8h0m-3 3h0m-8 8h0m-37-12h0m-75 12h0m54 9h0m46 4h0m7-4h0m16 6h0m3 2h0m7 2h0m0-11h0m15 9h0m1-11h0m1-1h0m5 5h0m0-2h0m1 11h0m1-13h0m7-1h0m3 2h0m8 6h0m1-2h0m19 2h0m5-1h0m0 3h0m11 3h0m1-6h0m10 4h0m9-12h0m0 0h0m6 3h0m1 7h0m1 5h0m0-9h0m2-6h0m0 9h0m2 2h0m1-10h0m0 7h0m1-1h0m1 7h0m3-1h0m2-7h0m4 7h0m3 2h0m4-5h0m2-2h0m3-7h0m5 5h0m4-4h0m3 8h0m16 0h0m6 11h0m-15 6h0m-3 2h0m-4 2h0m0-11h0m-5-3h0m-2 7h0m-3-1h0m-1 2h0m0-8h0m-1 0h0m-2 5h0m0-5h0m0 9h0m-1 2h0m-3-2h0m-1-8h0m-1 6h0m0-3h0m-1 1h0m-2-5h0m-1-1h0m-3 10h0m-1-10h0m-3 7h0m0 0h0m0 3h0m-1-8h0m-1 6h0m-1 2h0m-2-6h0m0 9h0m0-6h0m-1 0h0m-2-5h0m0-2h0m-2 13h0m0-4h0m0-2h0m-2-6h0m-4 1h0m-1 10h0m-1-8h0m-1-2h0m-2 3h0m-6 7h0m-4-8h0m-1 3h0m-2-7h0m-4 8h0m-2 6h0m-7-13h0m-3 14h0m-21-14h0m-4 0h0m-4 10h0m-2-1h0m-6-2h0m-7-1h0m-4-5h0m-6 6h0m-6 2h0m-23 2h0m-2-7h0m-6 6h0m-13-9h0m10 19h0m23 2h0m6 0h0m1-1h0m11 1h0m1 4h0m15 1h0m3-4h0m4 2h0m8-7h0m4 6h0m12-7h0m5 0h0m10 8h0m3 5h0m7 0h0m3-15h0m2 14h0m2-5h0m1-9h0m1 2h0m0 1h0m1-3h0m2 12h0m0-1h0m3-4h0m1 6h0m2-10h0m1 8h0m1-11h0m1 13h0m0-6h0m1-2h0m0 9h0m1-4h0m2 0h0m1-4h0m0-4h0m0 2h0m1 2h0m1-2h0m2 0h0m3 4h0m2 6h0m0-10h0m1-3h0m0 2h0m1 0h0m0 3h0m0 5h0m0-7h0m1 5h0m0-6h0m1 10h0m1-7h0m2 0h0m1 9h0m2-15h0m0 15h0m2-12h0m0 2h0m0-3h0m4 3h0m1 4h0m1 0h0m0-7h0m10 7h0m16-4h0m59 2h0m-62 24h0m-13-14h0m-1 3h0m0-3h0m-7 7h0m-1-7h0m0 2h0m-1 1h0m-1-4h0m-8 3h0m0 8h0m-3-9h0m-1 1h0m0 6h0m-3-1h0m0-7h0m-3 2h0m0 9h0m0-7h0m-1-4h0m-1 7h0m-4-8h0m-2 13h0m-1-6h0m-1-7h0m0 9h0m0 0h0m-2 0h0m-2-9h0m-2 9h0m0-5h0m-1 1h0m0 8h0m-5-13h0m-3 6h0m-2-4h0m-1 5h0m-6 5h0m-1 0h0m-8-4h0m-1-3h0m-6 2h0m-1 4h0m-6 2h0m-6 0h0m-3-3h0m-7-1h0m0 6h0m-12-4h0m-8 0h0m-1 4h0m0-6h0m-4-4h0m-2 3h0m0 7h0m-3 0h0m-8-1h0m-54-13h0m-9 5h0m1 20h0m8-1h0m29 1h0m44-8h0m8 12h0m1-8h0m16-3h0m17-2h0m7 1h0m4-2h0m4 4h0m1 2h0m8 1h0m6 7h0m1-9h0m7 8h0m1 2h0m2-11h0m0-4h0m2 6h0m2-1h0m1 5h0m7-5h0m2-2h0m4-3h0m1 3h0m1 11h0m42-1h0m-42 3h0m-2 6h0m-1 1h0m-6 5h0m-16 0h0m-5-7h0m-23 7h0m-5-12h0m-7 7h0m-10-6h0m-10 1h0m-6 0h0m-42 1h0m-17 9h0m87 5h0" stroke="rgba(90,90,90,0.35)" stroke-width="8.4"/></g><g clip-path="url(#cB)"><path class="d" transform="scale(.5)" d="M963 189h0m-5 16h0m0-6h0m2-5h0m3 2h0m1 0h0m2 8h0m1 3h0m1-3h0m1-6h0m1-2h0m1 11h0m13 10h0m-6 5h0m-6-2h0m-1-5h0m-1 5h0m-5-2h0m-2-4h0m0 8h0m-1-5h0m-5 10h0m6-3h0m3 14h0m9-12h0m3 69h0m235 18h0m-10 0h0m-6 15h0m15 7h0m2-13h0m1 2h0m0 11h0m3-7h0m10-4h0m12 6h0m-10 21h0m-8-2h0m0-3h0m-2-3h0m0 2h0m-2 5h0m-1-1h0m-160 15h0m6-12h0m128 5h0m10 2h0m1-3h0m5 2h0m12-6h0m0 3h0m0 0h0m0-1h0m1 13h0m0-5h0m0-10h0m2 6h0m0 8h0m5-5h0m1 2h0m0-5h0m2 0h0m2-4h0m17 8h0m-12 6h0m-1 5h0m-4 9h0m-6-1h0m-1-2h0m0-6h0m-1 1h0m-1 2h0m-1 2h0m-1 0h0m-1-6h0m-4 11h0m-6-3h0m-3-5h0m-4 1h0m-13-2h0m-48-3h0m-71 1h0m-89 4h0m21 17h0m30-1h0m22 2h0m8-7h0m15 0h0m6 11h0m64 0h0m35-13h0m25 4h0m1 7h0m4 0h0m5-4h0m2 0h0m2 3h0m2-5h0m0-1h0m0-2h0m2 9h0m7-12h0m4 19h0m-3 7h0m-5-1h0m-1-5h0m-4 11h0m-8-13h0m-1 11h0m-1-11h0m-6 4h0m-8-6h0m-1 6h0m-33 5h0m-20-8h0m-2 8h0m-10-6h0m-22 6h0m-18-1h0m-3 2h0m-12-9h0m-3 0h0m-1 0h0m-8-2h0m-65 11h0m-6 10h0m9 2h0m58 4h0m7-9h0m16 10h0m7-8h0m0 0h0m9 8h0m3-10h0m1 8h0m6 3h0m24-7h0m1 2h0m2 4h0m8 2h0m7 0h0m16-5h0m26 5h0m3-1h0m12-14h0m5 2h0m0 3h0m0 8h0m0-5h0m5-2h0m1 3h0m2 6h0m1-14h0m4 14h0m2-13h0m2 4h0m5 5h0m3-5h0m5-4h0m4 1h0m9 27h0m-15 0h0m-9-8h0m-3-5h0m0 13h0m-1-7h0m-2 0h0m0-5h0m-1 4h0m0-1h0m-2 5h0m-1-9h0m-1 12h0m-2 1h0m-4 0h0m-7-12h0m-2 1h0m-27 1h0m-2 11h0m-11-6h0m-8-1h0m-1-7h0m-3 7h0m-5-6h0m0-2h0m-9 2h0m-1 11h0m0-4h0m-2-2h0m-3-1h0m0 0h0m-2 0h0m-1-2h0m-1 11h0m0-2h0m-1-7h0m-6 7h0m0-3h0m0-2h0m-1 6h0m-3-13h0m-3 13h0m0-3h0m-1 2h0m-3-6h0m-2 5h0m0-4h0m-2 7h0m0-8h0m-2 1h0m0-4h0m-1 1h0m-1 4h0m-10-5h0m-13 8h0m-26-9h0m4 17h0m6 3h0m7 5h0m32-3h0m5-4h0m1 7h0m1 0h0m0-10h0m2 12h0m3-3h0m2-10h0m1 0h0m0 8h0m0-1h0m1-5h0m1-2h0m0 13h0m0-12h0m1 10h0m0-8h0m1 1h0m1 0h0m1 10h0m0-4h0m3-3h0m3-1h0m0 2h0m0 5h0m1-9h0m1 3h0m0-8h0m1 0h0m0 6h0m4-6h0m2 2h0m0 13h0m3-7h0m0-3h0m1-5h0m3 14h0m0-7h0m1 7h0m0-2h0m1-8h0m1 10h0m2-8h0m0 0h0m1 7h0m1-12h0m5 12h0m2-1h0m1-11h0m11 8h0m3 5h0m7-8h0m3 3h0m14-1h0m4 6h0m3-4h0m6 3h0m4-1h0m7-1h0m3-5h0m3 5h0m8-1h0m4 1h0m10-4h0m8 9h0m-1 3h0m-5 10h0m-12 2h0m-6-11h0m-3-3h0m-2 3h0m0 5h0m-3-9h0m-2 8h0m-3-2h0m-2-5h0m-1-1h0m-1 3h0m-4 6h0m-3-2h0m-5 4h0m0-4h0m-14 4h0m-1-5h0m-3 1h0m-24-5h0m-16 2h0m-8-2h0m-3 8h0m-1-10h0m-1 3h0m0-3h0m-1 12h0m-1-12h0m-3 10h0m-1-4h0m-1-5h0m-2-1h0m0 1h0m-1 1h0m-3 5h0m-1 6h0m-1-4h0m0 4h0m-1-12h0m-1 2h0m-2-2h0m0 9h0m-2-10h0m0 9h0m-3 2h0m-3-10h0m-1 8h0m-3-8h0m-3 3h0m-8 8h0m-37-12h0m-75 12h0m54 9h0m46 4h0m7-4h0m16 6h0m3 2h0m7 2h0m0-11h0m15 9h0m1-11h0m1-1h0m5 5h0m0-2h0m1 11h0m1-13h0m7-1h0m3 2h0m8 6h0m1-2h0m19 2h0m5-1h0m0 3h0m11 3h0m1-6h0m10 4h0m9-12h0m0 0h0m6 3h0m1 7h0m1 5h0m0-9h0m2-6h0m0 9h0m2 2h0m1-10h0m0 7h0m1-1h0m1 7h0m3-1h0m2-7h0m4 7h0m3 2h0m4-5h0m2-2h0m3-7h0m5 5h0m4-4h0m3 8h0m16 0h0m6 11h0m-15 6h0m-3 2h0m-4 2h0m0-11h0m-5-3h0m-2 7h0m-3-1h0m-1 2h0m0-8h0m-1 0h0m-2 5h0m0-5h0m0 9h0m-1 2h0m-3-2h0m-1-8h0m-1 6h0m0-3h0m-1 1h0m-2-5h0m-1-1h0m-3 10h0m-1-10h0m-3 7h0m0 0h0m0 3h0m-1-8h0m-1 6h0m-1 2h0m-2-6h0m0 9h0m0-6h0m-1 0h0m-2-5h0m0-2h0m-2 13h0m0-4h0m0-2h0m-2-6h0m-4 1h0m-1 10h0m-1-8h0m-1-2h0m-2 3h0m-6 7h0m-4-8h0m-1 3h0m-2-7h0m-4 8h0m-2 6h0m-7-13h0m-3 14h0m-21-14h0m-4 0h0m-4 10h0m-2-1h0m-6-2h0m-7-1h0m-4-5h0m-6 6h0m-6 2h0m-23 2h0m-2-7h0m-6 6h0m-13-9h0m10 19h0m23 2h0m6 0h0m1-1h0m11 1h0m1 4h0m15 1h0m3-4h0m4 2h0m8-7h0m4 6h0m12-7h0m5 0h0m10 8h0m3 5h0m7 0h0m3-15h0m2 14h0m2-5h0m1-9h0m1 2h0m0 1h0m1-3h0m2 12h0m0-1h0m3-4h0m1 6h0m2-10h0m1 8h0m1-11h0m1 13h0m0-6h0m1-2h0m0 9h0m1-4h0m2 0h0m1-4h0m0-4h0m0 2h0m1 2h0m1-2h0m2 0h0m3 4h0m2 6h0m0-10h0m1-3h0m0 2h0m1 0h0m0 3h0m0 5h0m0-7h0m1 5h0m0-6h0m1 10h0m1-7h0m2 0h0m1 9h0m2-15h0m0 15h0m2-12h0m0 2h0m0-3h0m4 3h0m1 4h0m1 0h0m0-7h0m10 7h0m16-4h0m59 2h0m-62 24h0m-13-14h0m-1 3h0m0-3h0m-7 7h0m-1-7h0m0 2h0m-1 1h0m-1-4h0m-8 3h0m0 8h0m-3-9h0m-1 1h0m0 6h0m-3-1h0m0-7h0m-3 2h0m0 9h0m0-7h0m-1-4h0m-1 7h0m-4-8h0m-2 13h0m-1-6h0m-1-7h0m0 9h0m0 0h0m-2 0h0m-2-9h0m-2 9h0m0-5h0m-1 1h0m0 8h0m-5-13h0m-3 6h0m-2-4h0m-1 5h0m-6 5h0m-1 0h0m-8-4h0m-1-3h0m-6 2h0m-1 4h0m-6 2h0m-6 0h0m-3-3h0m-7-1h0m0 6h0m-12-4h0m-8 0h0m-1 4h0m0-6h0m-4-4h0m-2 3h0m0 7h0m-3 0h0m-8-1h0m-54-13h0m-9 5h0m1 20h0m8-1h0m29 1h0m44-8h0m8 12h0m1-8h0m16-3h0m17-2h0m7 1h0m4-2h0m4 4h0m1 2h0m8 1h0m6 7h0m1-9h0m7 8h0m1 2h0m2-11h0m0-4h0m2 6h0m2-1h0m1 5h0m7-5h0m2-2h0m4-3h0m1 3h0m1 11h0m42-1h0m-42 3h0m-2 6h0m-1 1h0m-6 5h0m-16 0h0m-5-7h0m-23 7h0m-5-12h0m-7 7h0m-10-6h0m-10 1h0m-6 0h0m-42 1h0m-17 9h0m87 5h0" stroke="#007b7b" stroke-width="6.8"/></g><g clip-path="url(#cB)"><path class="d" transform="scale(.5)" d="M804 79h0m56-9h0m5 3h0m18 3h0m10 13h0m-20 1h0m-4 0h0m0-8h0m-10 9h0m-1 3h0m-5-10h0m-6 1h0m0 7h0m0-6h0m-6 4h0m-2 0h0m-5-5h0m-8 7h0m-7-6h0m-8 0h0m-7 3h0m-12 1h0m9 19h0m6-2h0m2-3h0m4-3h0m2 0h0m4 5h0m4 1h0m1 2h0m1 2h0m1-14h0m1 11h0m1-5h0m1 0h0m1 3h0m0 0h0m1-8h0m0-1h0m0 10h0m1 4h0m1-8h0m1 3h0m2 0h0m2 3h0m3-1h0m1-1h0m2-1h0m0-4h0m1 5h0m3-11h0m1 2h0m0 10h0m2-8h0m1 3h0m1 6h0m0-5h0m2 1h0m0 2h0m3-3h0m2 3h0m1 1h0m1-10h0m0 0h0m6 13h0m1-11h0m5 0h0m1 2h0m2 2h0m2 7h0m3-14h0m3 3h0m2 26h0m-17 0h0m-8-7h0m0-7h0m-4 15h0m-1-7h0m-1 4h0m-1 0h0m-1 0h0m-2 3h0m0-6h0m0-7h0m-1 11h0m0-2h0m-3-2h0m-1-1h0m0 6h0m-2-7h0m-1-4h0m0 0h0m-1 6h0m0-7h0m0-1h0m-1 8h0m0 6h0m-1-11h0m-1-2h0m0-2h0m-1 10h0m-1 0h0m0-7h0m-1-3h0m-1 1h0m0 6h0m-1 5h0m0 2h0m0-4h0m-1-2h0m-1-5h0m-1 12h0m-1-4h0m-1-8h0m-1 9h0m-2-7h0m0-1h0m-1 8h0m0 0h0m-8-9h0m0 8h0m-1 1h0m0 0h0m-1-8h0m0 9h0m-2 2h0m-2 0h0m-1-10h0m0-4h0m-3 11h0m-1-6h0m-4 8h0m-8-3h0m3 10h0m2 4h0m1-2h0m3 2h0m0-7h0m2 6h0m0 2h0m1 3h0m1-4h0m1 6h0m3-13h0m2 12h0m1-11h0m2 8h0m0-3h0m0-7h0m3 2h0m1 1h0m3 7h0m0-10h0m0 6h0m1 5h0m0-10h0m2 1h0m0 7h0m1 2h0m0-12h0m3 12h0m1-6h0m0 7h0m0 0h0m1 0h0m3-3h0m1-2h0m1-3h0m0 8h0m2-4h0m2 5h0m1-12h0m0 7h0m0-1h0m1 6h0m1-10h0m1 11h0m1-4h0m1-6h0m1 3h0m0-3h0m1 10h0m0-11h0m2-1h0m1 3h0m1 2h0m2-6h0m0 3h0m1 0h0m1 3h0m1-1h0m1-3h0m0 1h0m2 3h0m1-3h0m3 6h0m1 1h0m1-8h0m8 0h0m6 4h0m4 0h0m7 2h0m50 4h0m33-7h0m11 24h0m-65-4h0m-1-11h0m-13 0h0m-20 10h0m-2 4h0m-25-10h0m-2-2h0m-7-2h0m0 8h0m0-2h0m-2-5h0m-4 0h0m-1-1h0m-1 6h0m-3-3h0m-3 12h0m-3-12h0m-1 7h0m-1 1h0m-4 0h0m-1-3h0m0-3h0m0 9h0m-4-9h0m-1-1h0m-2-2h0m-8 6h0m0-5h0m-13 8h0m16 11h0m7-5h0m0 13h0m11-4h0m0-10h0m7 3h0m2 9h0m10 1h0m3-3h0m1 3h0m6-12h0m12 8h0m14 5h0m26-7h0m2 4h0m6-4h0m16-4h0m6 5h0m4 5h0m23-4h0m10-6h0m152 28h0m-130-3h0m-14-8h0m-10-4h0m-30 7h0m-4-7h0m-7 11h0m-10-5h0m-4-4h0m-5 10h0m-1-6h0m-11-5h0m-40 10h0m-18 3h0m-9-14h0m-14 10h0m-19 6h0m30 4h0m8-4h0m1 2h0m0 5h0m2-5h0m89 2h0m10 4h0m23 1h0m0-3h0m2-6h0m2 12h0m9-4h0m7-8h0m118 0h0m17 15h0m23-10h0m17 22h0m-34-9h0m-20 4h0m-12-3h0m-98-1h0m-5 13h0m-17-11h0m-12-4h0m-4 3h0m162 16h0m45 12h0m-12 12h0m-24-8h0m-25-3h0m-9 18h0m15-2h0m17 11h0m39 1h0m3-1h0m3-10h0m11 5h0m2 0h0m0 7h0m1 1h0m36 3h0m-7 9h0m-4-9h0m-11 6h0m-7 8h0m-3 0h0m-1-8h0m0 0h0m-2 1h0m-3-2h0m-3-3h0m-1 11h0m-5-9h0m-1 5h0m0 4h0m-1-1h0m-2-12h0m-11 3h0m-2 6h0m-54 2h0m15 9h0m22 5h0m25-9h0m1 14h0m0-4h0m0 2h0m2-2h0m2-6h0m4 1h0m0 3h0m4-3h0m0 1h0m1 3h0m0 1h0m0-11h0m1 8h0m2 4h0m1-7h0m1 9h0m0-6h0m1-2h0m2 7h0m0-3h0m3-5h0m1 2h0m0-3h0m3 8h0m0-1h0m2 2h0m5 0h0m6 7h0m-4-3h0m-1 5h0m-7 7h0m-4-2h0m-2 2h0m-1-7h0m-2-4h0m0 13h0m-1-7h0m0-3h0m-1 1h0m-1-4h0m-3 2h0m-3 2h0m-1 3h0m0-5h0m-1 8h0m-1 0h0m-3 1h0m0-7h0m0-6h0m-2 13h0m-2-13h0m-2 2h0m-8-1h0m-11 8h0m16 7h0m3 4h0m4-2h0m3 9h0m4-4h0m2 6h0m1-12h0m1 4h0m0 3h0m1-4h0m1-1h0m0 8h0m1 4h0m1-14h0m1 13h0m0-3h0m0-11h0m1 6h0m1-3h0m0 2h0m0 10h0m0-10h0m0 10h0m1-2h0m1-13h0m0 7h0m0 8h0m1-6h0m0 2h0m1 3h0m3-1h0m1-1h0m1-4h0m8-2h0m0 3h0m1-6h0m5 12h0m-3 10h0m-4 4h0m-4-4h0m-3 6h0m-3-12h0m-1 12h0m0-15h0m-1 12h0m0-2h0m-1-2h0m0 4h0m-2-6h0m-1-1h0m0 1h0m0-3h0m-1 12h0m-1-13h0m-3 10h0m0 3h0m-1-5h0m-1-7h0m0 7h0m-2-9h0m0 12h0m-1-8h0m0 6h0m-1-8h0m-3 10h0m-5 11h0m6 3h0m1-9h0m1-1h0m6-1h0m1 0h0m0 0h0m2 4h0m1 4h0m2-6h0m0 7h0m1 2h0m0-6h0m2 1h0m1-6h0m2 14h0m1-5h0m0 6h0m0-3h0m1 0h0m1-3h0m1 5h0m1-2h0m0-1h0m4-4h0m7 24h0m-10-9h0m0 4h0m-1 4h0m-4-3h0m-2-4h0m0-4h0m-2 0h0m0 9h0m0 2h0m0 0h0m-5-12h0m0-2h0m-2 2h0m-1 0h0m-2 1h0m-1 12h0m-1 7h0m3 2h0m0-1h0m2 4h0m0-4h0m2-5h0m1 9h0m0-4h0m2 5h0m0-5h0m1-2h0m1-2h0m2 7h0m0-1h0m1-1h0m1-5h0m1-1h0m1 7h0m2 6h0m1-12h0m2 11h0m3-6h0m3 4h0m-3 19h0m-3-12h0m-4 5h0m-1-7h0m-2 7h0m-1 3h0m-1-2h0m-1-5h0m0 10h0m-4 1h0m-1-9h0m0-5h0m-8 21h0m7-2h0m0-2h0m1 0h0m1 6h0m1-7h0m2 6h0m1 1h0m3 1h0m3-9h0m1 2h0m0 0h0m2 7h0m20-8h0m-16 18h0m-13 0h0" stroke="rgba(90,90,90,0.35)" stroke-width="8.4"/></g><g clip-path="url(#cB)"><path class="d" transform="scale(.5)" d="M804 79h0m56-9h0m5 3h0m18 3h0m10 13h0m-20 1h0m-4 0h0m0-8h0m-10 9h0m-1 3h0m-5-10h0m-6 1h0m0 7h0m0-6h0m-6 4h0m-2 0h0m-5-5h0m-8 7h0m-7-6h0m-8 0h0m-7 3h0m-12 1h0m9 19h0m6-2h0m2-3h0m4-3h0m2 0h0m4 5h0m4 1h0m1 2h0m1 2h0m1-14h0m1 11h0m1-5h0m1 0h0m1 3h0m0 0h0m1-8h0m0-1h0m0 10h0m1 4h0m1-8h0m1 3h0m2 0h0m2 3h0m3-1h0m1-1h0m2-1h0m0-4h0m1 5h0m3-11h0m1 2h0m0 10h0m2-8h0m1 3h0m1 6h0m0-5h0m2 1h0m0 2h0m3-3h0m2 3h0m1 1h0m1-10h0m0 0h0m6 13h0m1-11h0m5 0h0m1 2h0m2 2h0m2 7h0m3-14h0m3 3h0m2 26h0m-17 0h0m-8-7h0m0-7h0m-4 15h0m-1-7h0m-1 4h0m-1 0h0m-1 0h0m-2 3h0m0-6h0m0-7h0m-1 11h0m0-2h0m-3-2h0m-1-1h0m0 6h0m-2-7h0m-1-4h0m0 0h0m-1 6h0m0-7h0m0-1h0m-1 8h0m0 6h0m-1-11h0m-1-2h0m0-2h0m-1 10h0m-1 0h0m0-7h0m-1-3h0m-1 1h0m0 6h0m-1 5h0m0 2h0m0-4h0m-1-2h0m-1-5h0m-1 12h0m-1-4h0m-1-8h0m-1 9h0m-2-7h0m0-1h0m-1 8h0m0 0h0m-8-9h0m0 8h0m-1 1h0m0 0h0m-1-8h0m0 9h0m-2 2h0m-2 0h0m-1-10h0m0-4h0m-3 11h0m-1-6h0m-4 8h0m-8-3h0m3 10h0m2 4h0m1-2h0m3 2h0m0-7h0m2 6h0m0 2h0m1 3h0m1-4h0m1 6h0m3-13h0m2 12h0m1-11h0m2 8h0m0-3h0m0-7h0m3 2h0m1 1h0m3 7h0m0-10h0m0 6h0m1 5h0m0-10h0m2 1h0m0 7h0m1 2h0m0-12h0m3 12h0m1-6h0m0 7h0m0 0h0m1 0h0m3-3h0m1-2h0m1-3h0m0 8h0m2-4h0m2 5h0m1-12h0m0 7h0m0-1h0m1 6h0m1-10h0m1 11h0m1-4h0m1-6h0m1 3h0m0-3h0m1 10h0m0-11h0m2-1h0m1 3h0m1 2h0m2-6h0m0 3h0m1 0h0m1 3h0m1-1h0m1-3h0m0 1h0m2 3h0m1-3h0m3 6h0m1 1h0m1-8h0m8 0h0m6 4h0m4 0h0m7 2h0m50 4h0m33-7h0m11 24h0m-65-4h0m-1-11h0m-13 0h0m-20 10h0m-2 4h0m-25-10h0m-2-2h0m-7-2h0m0 8h0m0-2h0m-2-5h0m-4 0h0m-1-1h0m-1 6h0m-3-3h0m-3 12h0m-3-12h0m-1 7h0m-1 1h0m-4 0h0m-1-3h0m0-3h0m0 9h0m-4-9h0m-1-1h0m-2-2h0m-8 6h0m0-5h0m-13 8h0m16 11h0m7-5h0m0 13h0m11-4h0m0-10h0m7 3h0m2 9h0m10 1h0m3-3h0m1 3h0m6-12h0m12 8h0m14 5h0m26-7h0m2 4h0m6-4h0m16-4h0m6 5h0m4 5h0m23-4h0m10-6h0m152 28h0m-130-3h0m-14-8h0m-10-4h0m-30 7h0m-4-7h0m-7 11h0m-10-5h0m-4-4h0m-5 10h0m-1-6h0m-11-5h0m-40 10h0m-18 3h0m-9-14h0m-14 10h0m-19 6h0m30 4h0m8-4h0m1 2h0m0 5h0m2-5h0m89 2h0m10 4h0m23 1h0m0-3h0m2-6h0m2 12h0m9-4h0m7-8h0m118 0h0m17 15h0m23-10h0m17 22h0m-34-9h0m-20 4h0m-12-3h0m-98-1h0m-5 13h0m-17-11h0m-12-4h0m-4 3h0m162 16h0m45 12h0m-12 12h0m-24-8h0m-25-3h0m-9 18h0m15-2h0m17 11h0m39 1h0m3-1h0m3-10h0m11 5h0m2 0h0m0 7h0m1 1h0m36 3h0m-7 9h0m-4-9h0m-11 6h0m-7 8h0m-3 0h0m-1-8h0m0 0h0m-2 1h0m-3-2h0m-3-3h0m-1 11h0m-5-9h0m-1 5h0m0 4h0m-1-1h0m-2-12h0m-11 3h0m-2 6h0m-54 2h0m15 9h0m22 5h0m25-9h0m1 14h0m0-4h0m0 2h0m2-2h0m2-6h0m4 1h0m0 3h0m4-3h0m0 1h0m1 3h0m0 1h0m0-11h0m1 8h0m2 4h0m1-7h0m1 9h0m0-6h0m1-2h0m2 7h0m0-3h0m3-5h0m1 2h0m0-3h0m3 8h0m0-1h0m2 2h0m5 0h0m6 7h0m-4-3h0m-1 5h0m-7 7h0m-4-2h0m-2 2h0m-1-7h0m-2-4h0m0 13h0m-1-7h0m0-3h0m-1 1h0m-1-4h0m-3 2h0m-3 2h0m-1 3h0m0-5h0m-1 8h0m-1 0h0m-3 1h0m0-7h0m0-6h0m-2 13h0m-2-13h0m-2 2h0m-8-1h0m-11 8h0m16 7h0m3 4h0m4-2h0m3 9h0m4-4h0m2 6h0m1-12h0m1 4h0m0 3h0m1-4h0m1-1h0m0 8h0m1 4h0m1-14h0m1 13h0m0-3h0m0-11h0m1 6h0m1-3h0m0 2h0m0 10h0m0-10h0m0 10h0m1-2h0m1-13h0m0 7h0m0 8h0m1-6h0m0 2h0m1 3h0m3-1h0m1-1h0m1-4h0m8-2h0m0 3h0m1-6h0m5 12h0m-3 10h0m-4 4h0m-4-4h0m-3 6h0m-3-12h0m-1 12h0m0-15h0m-1 12h0m0-2h0m-1-2h0m0 4h0m-2-6h0m-1-1h0m0 1h0m0-3h0m-1 12h0m-1-13h0m-3 10h0m0 3h0m-1-5h0m-1-7h0m0 7h0m-2-9h0m0 12h0m-1-8h0m0 6h0m-1-8h0m-3 10h0m-5 11h0m6 3h0m1-9h0m1-1h0m6-1h0m1 0h0m0 0h0m2 4h0m1 4h0m2-6h0m0 7h0m1 2h0m0-6h0m2 1h0m1-6h0m2 14h0m1-5h0m0 6h0m0-3h0m1 0h0m1-3h0m1 5h0m1-2h0m0-1h0m4-4h0m7 24h0m-10-9h0m0 4h0m-1 4h0m-4-3h0m-2-4h0m0-4h0m-2 0h0m0 9h0m0 2h0m0 0h0m-5-12h0m0-2h0m-2 2h0m-1 0h0m-2 1h0m-1 12h0m-1 7h0m3 2h0m0-1h0m2 4h0m0-4h0m2-5h0m1 9h0m0-4h0m2 5h0m0-5h0m1-2h0m1-2h0m2 7h0m0-1h0m1-1h0m1-5h0m1-1h0m1 7h0m2 6h0m1-12h0m2 11h0m3-6h0m3 4h0m-3 19h0m-3-12h0m-4 5h0m-1-7h0m-2 7h0m-1 3h0m-1-2h0m-1-5h0m0 10h0m-4 1h0m-1-9h0m0-5h0m-8 21h0m7-2h0m0-2h0m1 0h0m1 6h0m1-7h0m2 6h0m1 1h0m3 1h0m3-9h0m1 2h0m0 0h0m2 7h0m20-8h0m-16 18h0m-13 0h0" stroke="#ffa500" stroke-width="6.8"/></g><g clip-path="url(#cB)"><path class="d" transform="scale(.5)" d="M1270 79h0m11-3h0m21 33h0m-13 19h0m0 5h0m-38 24h0m-19 0h0m-13-6h0m-72 7h0m5 16h0m21 1h0m8-11h0m26-1h0m2-2h0m10 11h0m9-12h0m9 10h0m2-7h0m39 1h0m30 24h0m-46-1h0m-1-1h0m-3 1h0m-7-8h0m-1 3h0m-23 0h0m-28 6h0m-8 0h0m-12-9h0m-10 4h0m-5 0h0m-4-2h0m-12 10h0m-4-4h0m-3-2h0m-12 6h0m-12-14h0m-65 4h0m42 24h0m9-3h0m33 0h0m7-5h0m7 5h0m1 4h0m20-12h0m4 12h0m1-9h0m2 9h0m6 0h0m2-5h0m0-2h0m3 6h0m6-1h0m4-6h0m0 1h0m12-4h0m5-2h0m4 11h0m17-11h0m1 12h0m4 1h0m6-2h0m2-2h0m1-1h0m9-2h0m2-3h0m-2 20h0m-9 0h0m-5 2h0m-1-5h0m-1 0h0m-8 10h0m-3-11h0m0 11h0m-11-13h0m-1 0h0m0 8h0m-5-5h0m0-1h0m-2-3h0m-1 11h0m-5 3h0m-1-12h0m-2 7h0m-1-6h0m-7 4h0m-4 3h0m0-5h0m-4-4h0m-18 10h0m-3 2h0m-5-6h0m-2 7h0m-2-2h0m-9-11h0m0 1h0m-14 3h0m-5-6h0m-1 6h0m-10 2h0m-8-1h0m-12 0h0m-45-2h0m-52 14h0m50-2h0m53 10h0m5-3h0m17 5h0m3-5h0m10 0h0m0 4h0m8 2h0m6-6h0m10-2h0m7 3h0m4-6h0m2 10h0m8-4h0m2 6h0m3-1h0m2-8h0m6-3h0m6 10h0m3-9h0m0 0h0m6 4h0m1 5h0m28-7h0m5-2h0m16 1h0m5 16h0m-10 8h0m-21-3h0m-3-8h0m-14 1h0m-5 7h0m-6 3h0m-6-11h0m-2 7h0m-3-2h0m0 5h0m-2-6h0m0-4h0m-8 2h0m-1-1h0m-4 7h0m-9-6h0m-1 3h0m0-5h0m-1 1h0m-2-2h0m0 6h0m-5-5h0m-1-1h0m-2 6h0m-2 6h0m-1-13h0m-9 7h0m-3-5h0m-3-1h0m0 3h0m-1 11h0m-24-1h0m0-3h0m-11-10h0m-8 1h0m-27 12h0m-18-3h0m-36 12h0m9-5h0m57 9h0m32-4h0m3 7h0m3 1h0m3-12h0m9 0h0m4-2h0m10 10h0m0 1h0m4 2h0m7-8h0m5-2h0m2-1h0m0-1h0m1 12h0m1-12h0m1 10h0m5-11h0m18 14h0m3-10h0m1 2h0m3 4h0m7-10h0m0 11h0m3-4h0m8-6h0m0 10h0m3 0h0m23-3h0m10 8h0m-8 14h0m0-7h0m-11 0h0m-12 1h0m-1 4h0m0-12h0m-3 11h0m-11-9h0m-1-3h0m-1 11h0m-4-2h0m-11-5h0m-9 5h0m-24-2h0m0-1h0m-31 2h0m-1 2h0m-16-10h0m-3 13h0m-2 18h0m81-15h0m21 7h0m48-6h0m-74 22h0m-10 2h0m-66 2h0m27 8h0m28 5h0m-8 17h0m-103 27h0" stroke="rgba(90,90,90,0.35)" stroke-width="8.4"/></g><g clip-path="url(#cB)"><path class="d" transform="scale(.5)" d="M1270 79h0m11-3h0m21 33h0m-13 19h0m0 5h0m-38 24h0m-19 0h0m-13-6h0m-72 7h0m5 16h0m21 1h0m8-11h0m26-1h0m2-2h0m10 11h0m9-12h0m9 10h0m2-7h0m39 1h0m30 24h0m-46-1h0m-1-1h0m-3 1h0m-7-8h0m-1 3h0m-23 0h0m-28 6h0m-8 0h0m-12-9h0m-10 4h0m-5 0h0m-4-2h0m-12 10h0m-4-4h0m-3-2h0m-12 6h0m-12-14h0m-65 4h0m42 24h0m9-3h0m33 0h0m7-5h0m7 5h0m1 4h0m20-12h0m4 12h0m1-9h0m2 9h0m6 0h0m2-5h0m0-2h0m3 6h0m6-1h0m4-6h0m0 1h0m12-4h0m5-2h0m4 11h0m17-11h0m1 12h0m4 1h0m6-2h0m2-2h0m1-1h0m9-2h0m2-3h0m-2 20h0m-9 0h0m-5 2h0m-1-5h0m-1 0h0m-8 10h0m-3-11h0m0 11h0m-11-13h0m-1 0h0m0 8h0m-5-5h0m0-1h0m-2-3h0m-1 11h0m-5 3h0m-1-12h0m-2 7h0m-1-6h0m-7 4h0m-4 3h0m0-5h0m-4-4h0m-18 10h0m-3 2h0m-5-6h0m-2 7h0m-2-2h0m-9-11h0m0 1h0m-14 3h0m-5-6h0m-1 6h0m-10 2h0m-8-1h0m-12 0h0m-45-2h0m-52 14h0m50-2h0m53 10h0m5-3h0m17 5h0m3-5h0m10 0h0m0 4h0m8 2h0m6-6h0m10-2h0m7 3h0m4-6h0m2 10h0m8-4h0m2 6h0m3-1h0m2-8h0m6-3h0m6 10h0m3-9h0m0 0h0m6 4h0m1 5h0m28-7h0m5-2h0m16 1h0m5 16h0m-10 8h0m-21-3h0m-3-8h0m-14 1h0m-5 7h0m-6 3h0m-6-11h0m-2 7h0m-3-2h0m0 5h0m-2-6h0m0-4h0m-8 2h0m-1-1h0m-4 7h0m-9-6h0m-1 3h0m0-5h0m-1 1h0m-2-2h0m0 6h0m-5-5h0m-1-1h0m-2 6h0m-2 6h0m-1-13h0m-9 7h0m-3-5h0m-3-1h0m0 3h0m-1 11h0m-24-1h0m0-3h0m-11-10h0m-8 1h0m-27 12h0m-18-3h0m-36 12h0m9-5h0m57 9h0m32-4h0m3 7h0m3 1h0m3-12h0m9 0h0m4-2h0m10 10h0m0 1h0m4 2h0m7-8h0m5-2h0m2-1h0m0-1h0m1 12h0m1-12h0m1 10h0m5-11h0m18 14h0m3-10h0m1 2h0m3 4h0m7-10h0m0 11h0m3-4h0m8-6h0m0 10h0m3 0h0m23-3h0m10 8h0m-8 14h0m0-7h0m-11 0h0m-12 1h0m-1 4h0m0-12h0m-3 11h0m-11-9h0m-1-3h0m-1 11h0m-4-2h0m-11-5h0m-9 5h0m-24-2h0m0-1h0m-31 2h0m-1 2h0m-16-10h0m-3 13h0m-2 18h0m81-15h0m21 7h0m48-6h0m-74 22h0m-10 2h0m-66 2h0m27 8h0m28 5h0m-8 17h0m-103 27h0" stroke="#00f0f0" stroke-width="6.8"/></g><g clip-path="url(#cB)"><path class="d" transform="scale(.5)" d="M859 78h0m408 17h0m-423 5h0m381 10h0m59-5h0m25 14h0m-18-5h0m-23 4h0m-341 8h0m305 17h0m8-7h0m4 2h0m4 0h0m6-10h0m4 12h0m9-7h0m7-5h0m10 15h0m9-6h0m11 19h0m-23 2h0m-10-9h0m-24 9h0m-2-3h0m-1-9h0m-35 9h0m-3-9h0m-196 0h0m-71 8h0m269 13h0m4 1h0m3 4h0m22 1h0m8-11h0m5 0h0m0-1h0m5 14h0m12-10h0m3 2h0m2-7h0m9 15h0m19-8h0m2 10h0m-12 8h0m-21-7h0m0 1h0m-7 8h0m-2-10h0m-8 3h0m-2 7h0m-7-2h0m-9 2h0m-22-6h0m0 4h0m-44 6h0m9 6h0m16 0h0m17-4h0m13 14h0m3-5h0m6 5h0m1-2h0m6-8h0m3 1h0m2-6h0m2 1h0m2 12h0m2-11h0m3 0h0m18 12h0m49 0h0m1-4h0m-32 19h0m-20-1h0m-6-8h0m-16-2h0m-22 1h0m-44-1h0m-13 29h0m17-8h0m22-3h0m13 2h0m46-4h0m19 3h0m26-5h0m-103 17h0m-76 0h0m128 48h0" stroke="rgba(90,90,90,0.35)" stroke-width="8.4"/></g><g clip-path="url(#cB)"><path class="d" transform="scale(.5)" d="M859 78h0m408 17h0m-423 5h0m381 10h0m59-5h0m25 14h0m-18-5h0m-23 4h0m-341 8h0m305 17h0m8-7h0m4 2h0m4 0h0m6-10h0m4 12h0m9-7h0m7-5h0m10 15h0m9-6h0m11 19h0m-23 2h0m-10-9h0m-24 9h0m-2-3h0m-1-9h0m-35 9h0m-3-9h0m-196 0h0m-71 8h0m269 13h0m4 1h0m3 4h0m22 1h0m8-11h0m5 0h0m0-1h0m5 14h0m12-10h0m3 2h0m2-7h0m9 15h0m19-8h0m2 10h0m-12 8h0m-21-7h0m0 1h0m-7 8h0m-2-10h0m-8 3h0m-2 7h0m-7-2h0m-9 2h0m-22-6h0m0 4h0m-44 6h0m9 6h0m16 0h0m17-4h0m13 14h0m3-5h0m6 5h0m1-2h0m6-8h0m3 1h0m2-6h0m2 1h0m2 12h0m2-11h0m3 0h0m18 12h0m49 0h0m1-4h0m-32 19h0m-20-1h0m-6-8h0m-16-2h0m-22 1h0m-44-1h0m-13 29h0m17-8h0m22-3h0m13 2h0m46-4h0m19 3h0m26-5h0m-103 17h0m-76 0h0m128 48h0" stroke="#22ee22" stroke-width="6.8"/></g><g><path class="d" transform="scale(.5)" d="M788 414h0" stroke="#808080" stroke-width="10.8" stroke-opacity="0.5"/></g><g><path class="d" transform="scale(.5)" d="M788 448h0" stroke="#800080" stroke-width="6.0"/></g><g><path class="d" transform="scale(.5)" d="M788 481h0" stroke="#00f0f0" stroke-width="6.0"/></g><g><path class="d" transform="scale(.5)" d="M788 515h0" stroke="#22ee22" stroke-width="6.0"/></g><g><path class="d" transform="scale(.5)" d="M788 549h0" stroke="#007b7b" stroke-width="6.0"/></g><g><path class="d" transform="scale(.5)" d="M788 582h0" stroke="#ffa500" stroke-width="6.0"/></g><text x="404.8" y="210.5" text-anchor="start" >MSA</text><text x="404.8" y="227.3" text-anchor="start" >Bacillota</text><text x="404.8" y="244.2" text-anchor="start" >Pseudomonadota</text><text x="404.8" y="261.1" text-anchor="start" >Chloroflexi</text><text x="404.8" y="277.9" text-anchor="start" >Bacteroidota</text><text x="404.8" y="294.8" text-anchor="start" >Actinomycetota</text><g clip-path="url(#cC)"><path class="d" transform="scale(.5)" d="M267 750h0m64 1h0m59-2h0m26 18h0m-1-2h0m-4-5h0m-4 0h0m-1-1h0m0-5h0m-4 4h0m0 1h0m-2-5h0m-1 7h0m0-5h0m-1 1h0m0 3h0m-1-2h0m-2 1h0m-3 0h0m0-4h0m-1 9h0m0-3h0m-2 1h0m0-5h0m0 7h0m-2-6h0m-1-3h0m-5 3h0m-4 8h0m0-6h0m0 0h0m-34 2h0m-20-3h0m-27 6h0m-22 0h0m-5-8h0m0 7h0m0-7h0m-1 7h0m0 2h0m-1-11h0m-1 8h0m0-1h0m-7-3h0m-19 4h0m-10 1h0m-78-7h0m-8 9h0m0-5h0m-7 5h0m-7-4h0m-23 12h0m3-2h0m1 9h0m2-6h0m2 1h0m4-3h0m1 5h0m5 2h0m0-2h0m3-7h0m1 4h0m4 5h0m0-9h0m6-1h0m0 8h0m2-8h0m2 8h0m1-7h0m6 7h0m47-10h0m0 11h0m24 0h0m41 3h0m3-8h0m6 1h0m7 0h0m11 4h0m27-2h0m6-6h0m3 8h0m1-1h0m1-9h0m1 6h0m19 3h0m5 4h0m11 0h0m1-9h0m4-1h0m1 6h0m1-1h0m0 0h0m0 4h0m1-1h0m1-12h0m0 13h0m2-2h0m3-2h0m2-9h0m0 9h0m3 5h0m0-11h0m6 11h0m1-5h0m0-8h0m1-1h0m1 11h0m0-5h0m0 4h0m2-1h0m0-6h0m0 5h0m2-8h0m0 8h0m1-8h0m1 15h0m0-7h0m2-2h0m0-1h0m0 2h0m1-1h0m1-2h0m0 9h0m0-7h0m1-3h0m0 12h0m1-13h0m1 6h0m0 6h0m1-10h0m1 2h0m0 4h0m1 1h0m1-9h0m1 0h0m0 8h0m1-5h0m6 1h0m0 9h0m1-12h0m1 8h0m10 1h0m0 17h0m-3-2h0m-1-1h0m-1-7h0m-1-3h0m0 3h0m-1 11h0m0-13h0m-1 7h0m-1 7h0m-1-7h0m-1-2h0m-1 2h0m-1-6h0m0 5h0m0-4h0m0 11h0m-1-13h0m0 3h0m0 1h0m0 4h0m0 0h0m-1 0h0m0 4h0m0-2h0m0-6h0m-1 1h0m0 0h0m0-3h0m0 1h0m-1-1h0m0-3h0m-1 6h0m-5 9h0m-1-2h0m-1-6h0m-1-5h0m-3-2h0m-1 8h0m-1 0h0m-1 7h0m-1-9h0m-2-6h0m0 12h0m-2-7h0m-5 9h0m-1 0h0m-1-11h0m-1 7h0m0-5h0m-1-1h0m-1 0h0m-1 7h0m-2-10h0m-1 10h0m0 2h0m0-9h0m-2 11h0m0-12h0m-1 4h0m0 5h0m0-5h0m-1 1h0m0-2h0m-2-4h0m-1 3h0m-2 8h0m0-2h0m-2 4h0m0-2h0m-2-6h0m-11 6h0m-9 0h0m-17-4h0m-11-4h0m-10-5h0m-90 2h0m-5-1h0m-7 10h0m-20-8h0m-28 7h0m-1-8h0m-1 7h0m-6-3h0m-4-3h0m-1 3h0m-3 1h0m-2 7h0m-1-6h0m-1-3h0m0-3h0m-3 3h0m-1 9h0m-8-6h0m-1-6h0m-2 9h0m0 0h0m-1-10h0m0 10h0m-3-9h0m0 3h0m-1 3h0m-2-2h0m-2-4h0m0 2h0m0-3h0m-1 1h0m-6 6h0m0 3h0m-1-6h0m-1-2h0m-2 17h0m14 3h0m0 8h0m3-15h0m0 5h0m4 1h0m6 7h0m8 1h0m3-14h0m15 5h0m16-2h0m3 10h0m3-3h0m4 3h0m27-3h0m6-9h0m10 14h0m47-1h0m39-12h0m4 6h0m4-2h0m9 3h0m0-6h0m4 4h0m12 8h0m1-1h0m1-7h0m2 1h0m0 3h0m4 4h0m0-1h0m1-11h0m0 4h0m6-4h0m0 3h0m1 8h0m2-6h0m0 6h0m0 0h0m0-13h0m2 14h0m3-11h0m1 4h0m0-1h0m1 1h0m0-5h0m0 10h0m1-11h0m2 0h0m1 12h0m1-4h0m1-10h0m0 4h0m1 0h0m1 2h0m0 8h0m0 0h0m0-2h0m2 1h0m0-2h0m0-11h0m1 15h0m0-2h0m0-7h0m0 3h0m1 6h0m0 0h0m0-5h0m0-2h0m1-6h0m0 12h0m0-9h0m1 7h0m0-12h0m1 3h0m1 9h0m1-5h0m0 2h0m0-3h0m2 4h0m0-7h0m1 4h0m0-2h0m0 1h0m0 2h0m1-5h0m2-1h0m1 6h0m1 3h0m0-7h0m0 7h0m0-1h0m0-10h0m2 12h0m1 1h0m0-12h0m2 8h0m0 5h0m0-5h0m1-1h0m1-8h0m1 11h0m0-11h0m1 5h0m1-4h0m1 11h0m1-6h0m1 7h0m0-7h0m0 4h0m1 5h0m1-6h0m1-2h0m0-3h0m0 2h0m1 3h0m0-6h0m0-2h0m1 3h0m2-4h0m0 3h0m0 12h0m0-1h0m0-10h0m1 7h0m1-6h0m1-3h0m1 12h0m1 0h0m2-7h0m0 2h0m0 4h0m0-7h0m1-6h0m0 2h0m0 7h0m1 1h0m3-8h0m1 3h0m1 20h0m-1-4h0m-2-3h0m-1 12h0m0-1h0m-1-2h0m-2-2h0m-1-8h0m0 8h0m-1 2h0m0-11h0m-2 7h0m0-6h0m0 14h0m-1-4h0m-1 4h0m0-4h0m0-6h0m0 3h0m-1-8h0m0 5h0m-1 10h0m0-10h0m0-4h0m-1 12h0m-1-9h0m-1 3h0m-1 0h0m0-4h0m-1 7h0m-2 5h0m0-2h0m-1-3h0m-1-6h0m0 5h0m0 5h0m-2-13h0m-1 5h0m0 5h0m-1-7h0m0 6h0m-1-5h0m0 2h0m-1-5h0m-2 2h0m0-3h0m-1 11h0m-1 3h0m-1-6h0m-1-9h0m0 6h0m0 6h0m-1-9h0m0 8h0m0 0h0m-1-4h0m0 3h0m0-8h0m0 11h0m-1-9h0m0 10h0m0-8h0m0 1h0m-1-1h0m0 9h0m0-4h0m0-2h0m-1 1h0m0 3h0m0-10h0m0-2h0m-1 3h0m0-4h0m-2 4h0m-1 9h0m0-5h0m-1-3h0m0-4h0m-1-1h0m0 0h0m0 4h0m0-1h0m0 11h0m0-10h0m0-1h0m0 3h0m0 0h0m-2-5h0m0 9h0m0 5h0m0-7h0m-1 1h0m0 0h0m-1-7h0m0 13h0m-1-3h0m0 3h0m0-3h0m0 1h0m0 0h0m-1-5h0m-1-6h0m0 10h0m-1-6h0m0 3h0m-1-1h0m0-3h0m0 6h0m0-6h0m0 10h0m0-11h0m-1 2h0m-1-1h0m0 6h0m-2 3h0m0-3h0m0-3h0m-1-1h0m-1 8h0m-1-6h0m-2 0h0m-1-9h0m0 2h0m0 3h0m0 8h0m-1-3h0m-2-9h0m-1 12h0m0-9h0m0 1h0m-1 6h0m0-2h0m-1-1h0m0 2h0m0-9h0m-1 13h0m-1 0h0m0-2h0m-1 3h0m-1-8h0m-1 2h0m-1 4h0m-1-3h0m0 5h0m-2-5h0m0-4h0m-1 9h0m0-14h0m0 8h0m-1 3h0m-1-7h0m0 2h0m0 2h0m-1-8h0m-4 6h0m-2 2h0m-2 6h0m0-1h0m-1-5h0m0-5h0m-1 7h0m-1-8h0m-2 6h0m0 6h0m-2-11h0m0-1h0m-1 8h0m-1-8h0m-1-1h0m-3 2h0m0 8h0m-1-4h0m-1-3h0m-2 5h0m0 5h0m-3-5h0m0 2h0m0-6h0m-3-4h0m-2 9h0m0-1h0m-1-10h0m-4 9h0m-1 4h0m-4-10h0m-1-2h0m-1 7h0m-1 7h0m-1-5h0m-1 5h0m-5-2h0m-3 0h0m-2-6h0m-1 6h0m-6 1h0m0-1h0m-6-1h0m-6-1h0m-2 0h0m-1-9h0m-4 3h0m-25 10h0m-5-8h0m-10-1h0m-2 8h0m-5-2h0m-3 3h0m-1-7h0m-4 4h0m-2-1h0m-5-9h0m-2 2h0m0 10h0m-6-8h0m-12-2h0m0 3h0m-24 4h0m-19-3h0m-2 2h0m68 7h0m3 7h0m1-3h0m2-4h0m2 9h0m1-8h0m2 11h0m3-8h0m3-4h0m11 8h0m1 5h0m4-5h0m1-5h0m16 10h0m1-12h0m8 11h0m1 1h0m1-2h0m7-9h0m2 8h0m3-2h0m4-3h0m8-5h0m1 10h0m1-7h0m1 6h0m1 0h0m3-8h0m1 9h0m2-6h0m1 6h0m0-10h0m0 6h0m3 1h0m0-5h0m1 7h0m1-10h0m3 6h0m0 7h0m1-1h0m0 2h0m1-2h0m1-6h0m1 5h0m0-7h0m0-1h0m1 2h0m2 6h0m0-5h0m1-2h0m1 5h0m0 6h0m4-5h0m2 1h0m0-7h0m0-4h0m0 8h0m0 0h0m1 7h0m0-14h0m2 7h0m0-5h0m0 11h0m2-14h0m0 0h0m2 11h0m0 0h0m1-6h0m0 9h0m1-4h0m0 3h0m5-4h0m0 5h0m0-8h0m0-3h0m1 0h0m0 4h0m1 7h0m0-1h0m3-7h0m1-2h0m1-1h0m0-1h0m0 10h0m0-8h0m1-2h0m1 6h0m1 0h0m0-6h0m0 13h0m6-15h0m0 12h0m1-10h0m1-2h0m1 8h0m2-8h0m0 9h0m1-9h0m0 12h0m0 2h0m1-1h0m1-12h0m1-1h0m0 4h0m0 8h0m1-9h0m0 0h0m1 2h0m0 2h0m0-3h0m0 11h0m2-11h0m0 2h0m2 1h0m0-3h0m1 5h0m2-4h0m1 4h0m0 0h0m0 6h0m1-7h0m2-6h0m1 8h0m0-6h0m2-4h0m0 4h0m2 2h0m0 3h0m1 6h0m0-13h0m1-1h0m0 0h0m0 2h0m0 3h0m1-3h0m0 2h0m2-4h0m0 14h0m0-13h0m1 13h0m0-13h0m0 12h0m0-13h0m1 1h0m1 1h0m0 12h0m0-13h0m0 6h0m0 3h0m0-6h0m0 2h0m0-1h0m2 8h0m1-1h0m0-3h0m0 1h0m1-9h0m0 4h0m1 6h0m0-6h0m1 1h0m0 8h0m0 0h0m1-14h0m0 12h0m2-3h0m1-5h0m2 0h0m1 5h0m0 5h0m1-3h0m0-2h0m1-2h0m1-1h0m0 8h0m0-7h0m3 0h0m1 3h0m1-10h0m5 11h0m0-11h0m1 6h0m0 0h0m2-7h0m2 11h0m2-8h0m0 4h0m0-6h0m3 6h0m4-6h0m0 3h0m1-4h0m0 2h0m-10 16h0m-2 9h0m-1-10h0m-1-1h0m-5 1h0m-1 3h0m0 2h0m-2-6h0m-1 5h0m-1 5h0m0 5h0m-3-8h0m0 4h0m-1-6h0m-1 7h0m-1-12h0m-2 9h0m0 0h0m-1 1h0m0-6h0m-1 7h0m-1-8h0m-2 0h0m-1 10h0m-1-5h0m-2-5h0m-1 0h0m-2-2h0m-2 4h0m-1 6h0m0-8h0m0 8h0m-1-9h0m-1 5h0m0 1h0m-2-8h0m-2 9h0m0-2h0m0-7h0m-1 6h0m-1-3h0m-1-3h0m-2 4h0m-1-4h0m-1 0h0m-2 0h0m0 15h0m-2-13h0m-2 4h0m-1-3h0m0 0h0m0 1h0m0 2h0m-2 2h0m0-2h0m0 4h0m-1-3h0m0-2h0m-2 6h0m0-4h0m-1-5h0m0 9h0m-1-7h0m-1 5h0m-1-6h0m0-1h0m0 5h0m-1 2h0m0-8h0m-1 3h0m0 5h0m-2-4h0m-2-5h0m-1 0h0m-1 12h0m-4-5h0m-1 1h0m-1 6h0m-1-5h0m-2-4h0m-2-3h0m0-1h0m-2 5h0m-2 7h0m-1-1h0m-2 2h0m0-11h0m0-3h0m-1 8h0m-2 2h0m-2-8h0m-3 3h0m-1-2h0m-4 4h0m-3-6h0m-4 6h0m-1-5h0m-1 6h0m0-6h0m-2 7h0m-3-8h0m-1-1h0m-3 11h0m0-9h0m0 1h0m-3 2h0m-1 6h0m0 1h0m-2-11h0m-6 2h0m-5 0h0m-4-1h0m-11 0h0m0 2h0m-8 4h0m-17-4h0m-28 7h0m23 14h0m46 0h0m9-9h0m2 1h0m6-1h0m7 3h0m5 11h0m0-6h0m5-8h0m1 1h0m6 0h0m5 12h0m4-11h0m2 8h0m2-9h0m1 8h0m0 5h0m1-14h0m3 1h0m0 4h0m5 4h0m0-9h0m3 2h0m1 10h0m2-4h0m0 5h0m0-6h0m1 4h0m0 2h0m0 1h0m3-6h0m1 6h0m0-9h0m0 3h0m2-6h0m1-2h0m7 1h0m0 3h0m3 2h0m8 6h0m0-12h0m7 13h0m5-8h0m21-3h0m-46 27h0m-2-8h0m-1 10h0m-1-9h0m-4 3h0m-3-5h0m-3 3h0m-1 4h0m0-6h0m-2 2h0m0-1h0m-1-3h0m0 3h0m-3-6h0m-3 8h0m-1 3h0m-1-1h0m0-7h0m0 6h0m-7-5h0m-10-1h0m-3 4h0m-2 3h0m-2 3h0m-1-4h0m-4-5h0m-5-2h0m-4 9h0m-1 0h0m-4-11h0m-24 0h0m-16 13h0m-4-13h0m-15 1h0m-1 14h0m-6-8h0m-11 5h0m0-6h0m21 22h0m32 3h0m11-9h0m4 7h0m6-13h0m3 11h0m19-4h0m3-7h0m7 8h0m14-8h0m4 11h0m2-9h0m1-2h0m4 13h0m1-13h0m1 8h0m0 0h0m1 0h0m0 7h0m0-3h0m1-9h0m0 11h0m0-5h0m1-5h0m0-2h0m1 12h0m2-14h0m5 8h0m1-1h0m23 22h0m-13-2h0m-1 3h0m-3-3h0m0 4h0m0-5h0m-1-2h0m-11 6h0m-2-14h0m-1 11h0m-1 3h0m-1-13h0m-1 6h0m-2-2h0m0 2h0m0 0h0m-1-3h0m-2 1h0m0-1h0m-1 4h0m-1 6h0m-4-2h0m-14-9h0m-106 18h0m55-2h0m12 7h0m60 3h0m2-9h0m2-3h0m3 11h0m0-3h0m0 0h0m2-9h0m1 11h0m0 1h0m4-4h0m2 4h0m5-5h0m1 0h0m0-2h0m6 4h0m3-3h0m0 16h0m-4 8h0m-9-13h0m-1 10h0m-2 1h0m0 1h0m-5-5h0m-2-8h0m0 9h0m-1-3h0m-2 7h0m0-12h0m-29 1h0m-1 3h0m-5 8h0m-2-6h0m-14 3h0m-17-8h0m-6 3h0m-5-1h0m-8-4h0m-32 11h0m56 5h0m4 14h0m4-10h0m1 8h0m3 1h0m8 1h0m0 0h0m5 0h0m2-12h0m10 4h0m5 5h0m13-3h0m11-6h0m0 6h0m8 0h0m4 7h0m2-13h0m5 6h0m0 2h0m8 5h0m12 12h0m-17 1h0m-1-6h0m-4 0h0m-3 5h0m-4 3h0m-6-6h0m-7 5h0m-10-5h0m-1-2h0m-8 1h0m-5-6h0m-2 7h0m0 4h0m-1-5h0m-3-3h0m-2-3h0m-1-1h0m-4 4h0m-3 5h0m-1-3h0m-1-3h0m-1-3h0m-1 10h0m-1-5h0m-1 10h0m-4-14h0m0 6h0m-1 3h0m-4 2h0m-27-10h0m10 27h0m4-5h0m16 2h0m14 0h0m1 3h0m3-8h0m6-2h0m7 4h0m15 6h0m0-4h0m8-2h0m0 5h0m10 1h0m2 0h0m6-4h0m0-6h0m6 9h0m2 0h0m0-2h0m1 2h0m3-4h0m1-1h0m1 6h0m6-1h0m1-8h0m2 4h0m10 0h0m5-8h0m-11 19h0m-4 12h0m-7 0h0m0-7h0m-5 6h0m-1-5h0m-3-1h0m-3-8h0m0 2h0m-4 7h0m-2-9h0m-1 5h0m0-4h0m-2 6h0m-5 0h0m-6-7h0m-4 1h0m-1 3h0m-1 7h0m-24-9h0m-2 8h0m-23-1h0m-25 6h0m0 14h0m41-11h0m3-2h0m1 9h0m12-1h0m23-2h0m0 4h0m10 1h0m2-10h0m4 6h0m5-7h0m0 2h0m7 8h0m6-10h0m0 1h0m-6 15h0m-1 5h0m-4 3h0m-30-6h0m-4 10h0m-17-9h0m-2-3h0" stroke="#808080" stroke-width="10.8" stroke-opacity="0.5"/></g><g clip-path="url(#cC)"><path class="d" transform="scale(.5)" d="M273 748h0m27-5h0m90 2h0m10 5h0m15 6h0m-2 3h0m-2 4h0m0-6h0m-1 9h0m-2-6h0m-3 7h0m0-5h0m-2 0h0m-4 3h0m0-6h0m-1-3h0m-2 11h0m-1-15h0m-2 8h0m0-4h0m-2 8h0m-2 2h0m0-12h0m-1 7h0m-5 0h0m0 0h0m-1 6h0m-1-15h0m0 10h0m-1-7h0m-2 6h0m-1-1h0m-3 5h0m-104 0h0m-8-1h0m-4-2h0m-79 4h0m-20-1h0m-13 1h0m-4 1h0m-16-1h0m0 1h0m-1-2h0m-12-2h0m-5 0h0m-12 3h0m9 16h0m3-3h0m1-7h0m8-2h0m1 3h0m2-3h0m0 5h0m0-6h0m0 6h0m3 0h0m2 1h0m1 4h0m0-4h0m0 5h0m1-6h0m1 5h0m0-5h0m1 7h0m0-8h0m1 9h0m1-14h0m3 7h0m0-2h0m1 1h0m1 8h0m1-9h0m1 1h0m8-4h0m1 1h0m72 11h0m2-1h0m1-1h0m11-12h0m4 7h0m19 3h0m2-10h0m6 10h0m1-9h0m8 12h0m22-5h0m10-1h0m22-1h0m24 6h0m13-4h0m2-1h0m3-8h0m1 2h0m1 9h0m1-11h0m0 4h0m1 9h0m0-2h0m2-10h0m2 3h0m0 8h0m1 0h0m1-1h0m1 0h0m0-2h0m2-3h0m0 6h0m0-3h0m1-3h0m1 0h0m1 8h0m1 1h0m2-12h0m2 7h0m0 4h0m1-2h0m0-8h0m1 9h0m1-2h0m0 4h0m1-5h0m1-8h0m1-1h0m0 13h0m2-6h0m0 0h0m2 5h0m0-6h0m1-7h0m0 2h0m1 6h0m2-7h0m1 13h0m0-3h0m1-2h0m1-9h0m1 5h0m1-1h0m0 9h0m3-5h0m0-5h0m0 6h0m1-6h0m1 8h0m0-7h0m1 5h0m0 1h0m3-2h0m0 3h0m2-4h0m0 3h0m3-4h0m2 8h0m2 1h0m-1 8h0m-1 0h0m-1-5h0m-1 12h0m0 0h0m-1 1h0m0 0h0m-3-11h0m0-2h0m-3 5h0m0-4h0m-1-1h0m-1 13h0m0 0h0m-1-5h0m-2-10h0m0 3h0m-1 0h0m0 5h0m0-3h0m0 3h0m-2-1h0m0 7h0m0-4h0m-1-5h0m-1-2h0m-1 10h0m-1 2h0m-1-1h0m0-9h0m-3-1h0m0 11h0m-1-10h0m-1 7h0m0-5h0m0 5h0m-1-11h0m0 1h0m0 1h0m-2 12h0m-1-2h0m-1-11h0m0-2h0m-3 14h0m0-7h0m-2-2h0m-1-4h0m0 14h0m-1 0h0m-1-7h0m-1-3h0m0 6h0m0 2h0m-2 2h0m0-9h0m-2 3h0m0 0h0m0-4h0m-3 3h0m0 1h0m-1-1h0m0 2h0m-3 1h0m-1-5h0m0 7h0m-1-12h0m-1 5h0m-1-5h0m0 3h0m-1 11h0m0-13h0m0 8h0m0 3h0m0-6h0m-1-4h0m0 1h0m0 8h0m-1-10h0m0 6h0m0 4h0m-1-5h0m-5 3h0m-8 4h0m-10-14h0m-20 13h0m-41-2h0m-14-8h0m-27 3h0m-2 3h0m-19 4h0m-2-9h0m-5-3h0m-2 7h0m-6-2h0m-1 6h0m-1 0h0m-30-2h0m-14 0h0m-16 0h0m-4-4h0m-1 2h0m-2-7h0m-1 6h0m0-6h0m-3 6h0m-1 6h0m0-11h0m-1 3h0m0 1h0m-1 3h0m-1-4h0m-1 10h0m-1-15h0m-1 7h0m-4 0h0m-2 3h0m-2-6h0m-1 11h0m-1-1h0m-1-8h0m-2-4h0m-3 1h0m-1 10h0m4 13h0m5-10h0m6 12h0m25 0h0m9 3h0m13-10h0m18-2h0m4 8h0m2 3h0m2-5h0m7-2h0m5-7h0m6 9h0m82-5h0m11 8h0m1-2h0m4 2h0m6-1h0m1 4h0m1-13h0m2 10h0m1-3h0m4-6h0m2 7h0m0 1h0m1 2h0m1 2h0m1 0h0m1-3h0m1-8h0m0-1h0m6-1h0m7 13h0m1-15h0m3 13h0m2-9h0m1 7h0m2 3h0m1-3h0m1 4h0m0-2h0m4-8h0m0 6h0m3 0h0m0 1h0m1-6h0m0 6h0m3-5h0m0 2h0m1-1h0m1-5h0m1 5h0m1 4h0m0-6h0m1 9h0m1-9h0m1-1h0m0 9h0m0-10h0m0 11h0m0-1h0m1-7h0m0 7h0m1 0h0m1-1h0m0-7h0m3-6h0m1 2h0m0 6h0m0-4h0m0 9h0m2-13h0m0 3h0m0 0h0m1-3h0m2 8h0m0 6h0m0-10h0m1-2h0m1 7h0m0 5h0m0-1h0m1-3h0m0-2h0m1 7h0m1-8h0m1 4h0m0 2h0m2-13h0m0 12h0m1-8h0m0 3h0m1 2h0m0-7h0m0 3h0m1 0h0m1-1h0m0 4h0m0 5h0m0 1h0m4-3h0m0-2h0m1-9h0m0 14h0m2-1h0m0-2h0m0 3h0m0-2h0m1-10h0m0 10h0m0 2h0m2-14h0m2 15h0m2-15h0m1 9h0m0 5h0m0-8h0m1 3h0m3 3h0m2 3h0m0-3h0m2-11h0m0 14h0m0-5h0m1-4h0m0 8h0m4-5h0m0 15h0m-2 7h0m-1-7h0m0-4h0m0-1h0m-1 3h0m-3-4h0m-1 3h0m0 5h0m-1 4h0m-1 1h0m-1-7h0m-2 1h0m-1-4h0m0-4h0m0 2h0m0 4h0m-2 4h0m-1-9h0m-1 9h0m-1-2h0m0 0h0m-1-7h0m-2 13h0m0-1h0m-2-2h0m-2 0h0m0-1h0m-2 4h0m0 0h0m0-13h0m-1 5h0m-2-7h0m0 9h0m-1-2h0m-1 3h0m-1-2h0m-1-8h0m-1 5h0m0 10h0m-1-13h0m-1 7h0m-1 1h0m0-2h0m-2 2h0m0-4h0m-2 2h0m-1-8h0m0 6h0m0 2h0m0 7h0m0 0h0m-1-9h0m-1 9h0m0-4h0m-1-7h0m0-2h0m0 13h0m-1-8h0m0-6h0m0 6h0m0 8h0m-1-2h0m0-6h0m-2 6h0m-1-6h0m0 5h0m-1-6h0m-1 5h0m0 2h0m-1-10h0m0 0h0m0 8h0m0-6h0m-1 1h0m0 5h0m0-9h0m0 1h0m-1 8h0m0 4h0m-1-15h0m0 13h0m-1-13h0m0 0h0m-2 8h0m0-8h0m0 4h0m-1 0h0m0 7h0m-3-4h0m-2 5h0m0-6h0m0 5h0m-1 0h0m-1-1h0m-1 5h0m0-11h0m-2 9h0m0-7h0m-1-3h0m-1 4h0m-1-7h0m-2 9h0m0-6h0m-1 5h0m0-4h0m-1 9h0m0 2h0m-2-4h0m0-3h0m-1 6h0m0-9h0m-1 7h0m-1-12h0m-2 7h0m0-1h0m0 1h0m0-6h0m-1 7h0m-1 6h0m0-2h0m0 1h0m-1-4h0m-2 3h0m0-2h0m-1-8h0m-1 11h0m-1-5h0m0 6h0m-8-12h0m-8 10h0m0-7h0m-1 5h0m-3 2h0m-1-7h0m-1-2h0m-4 10h0m0 0h0m-14 1h0m-1-3h0m-1 1h0m-2-10h0m-2 1h0m-3 6h0m-10 0h0m-1-5h0m-18 7h0m-11 4h0m-10-2h0m-27 0h0m-4-2h0m-2-8h0m-8 1h0m-12 0h0m-11 9h0m-2-13h0m-43 15h0m73 15h0m4-2h0m3-11h0m9 7h0m2 5h0m6-3h0m15-4h0m4 9h0m2-6h0m2-7h0m4 4h0m2-6h0m0 10h0m15-8h0m1-2h0m3 14h0m5-7h0m2 3h0m1 2h0m0-3h0m2-9h0m0 5h0m3 4h0m3 2h0m0-4h0m1-7h0m0 3h0m3 9h0m0-2h0m2-1h0m3 6h0m0-15h0m1 2h0m1 7h0m2-2h0m1 2h0m0-8h0m6 12h0m0-6h0m1 0h0m2 8h0m0-12h0m2 2h0m1-4h0m0 0h0m2 6h0m3 8h0m3-12h0m0 8h0m4 1h0m1-12h0m0 7h0m1-6h0m1 11h0m0-11h0m3 9h0m1-7h0m0-3h0m1 3h0m1 11h0m0-12h0m0 2h0m0 9h0m0-11h0m1-2h0m0 4h0m0 10h0m1-1h0m1-4h0m0-7h0m1 9h0m0-7h0m2 9h0m0-10h0m0 1h0m2 8h0m0-6h0m0-5h0m0 9h0m1 4h0m2-8h0m1-6h0m1 5h0m0 2h0m1-6h0m1 0h0m0 3h0m0 1h0m0 10h0m1-7h0m0-3h0m1-1h0m0-3h0m0 6h0m1 1h0m0 4h0m1-8h0m1 11h0m1-7h0m1 0h0m0 2h0m0 4h0m0-14h0m1 12h0m1-4h0m1-2h0m0 8h0m0-14h0m0 12h0m1-1h0m0-5h0m1 2h0m1-3h0m0-2h0m1 5h0m0-2h0m0 5h0m2-2h0m0-1h0m1-7h0m0 13h0m1-6h0m0 7h0m3-9h0m0-5h0m0 4h0m1 4h0m0-7h0m2 4h0m0 2h0m0-5h0m1-3h0m0 9h0m1-9h0m0 11h0m1-5h0m0-5h0m0 5h0m1-4h0m0 4h0m0-3h0m1 4h0m0 3h0m0-1h0m1-5h0m0 2h0m0 0h0m2-5h0m1 3h0m0 8h0m1-4h0m0 7h0m0-8h0m1 1h0m2-1h0m0 2h0m1 5h0m0-13h0m0 6h0m1-5h0m5 1h0m1 7h0m1 3h0m0-10h0m1 2h0m1 0h0m1 0h0m0 4h0m3-1h0m0-8h0m1 6h0m0 9h0m1-4h0m1-9h0m0 5h0m1 3h0m0 1h0m0-7h0m0-3h0m2 14h0m1-1h0m0-3h0m0-1h0m1-8h0m0 8h0m2-6h0m0 7h0m1-1h0m0-6h0m0-3h0m2 14h0m1-7h0m1-7h0m1-1h0m0 5h0m1 7h0m1-2h0m1 5h0m2-15h0m0 4h0m1-4h0m0 2h0m-2 25h0m-6-9h0m-5 0h0m-1 10h0m-7-9h0m-1 10h0m-2-9h0m0 7h0m-1-5h0m0-3h0m-1-1h0m0 8h0m-1-2h0m-2-5h0m0 10h0m0-7h0m-1 5h0m0-1h0m-1-3h0m-1-3h0m0 7h0m-1-6h0m0 1h0m0 0h0m-1-2h0m-2-3h0m0 0h0m-2 11h0m0-12h0m-4 10h0m-2-7h0m-2-1h0m-1 5h0m-7 8h0m-1-9h0m-1 1h0m-1-6h0m-2 13h0m-3-7h0m-1-6h0m-1 3h0m0-1h0m-1 11h0m-3-12h0m-1 11h0m-2-9h0m-1-1h0m-1 4h0m0-3h0m-1 8h0m-2-12h0m-1 13h0m-1-8h0m0 5h0m-3-3h0m-1-4h0m-1-3h0m-1 3h0m0 2h0m-3-4h0m-3 6h0m-2-1h0m-3 2h0m0-1h0m-1-3h0m-2 1h0m-1-2h0m-1 0h0m0 10h0m-1-7h0m-1-5h0m-3 2h0m0 0h0m-1 3h0m-2 2h0m-2-7h0m-2 3h0m-1 1h0m-3 1h0m-1 2h0m-3-6h0m-3 10h0m-2 2h0m-1-13h0m-3 5h0m-1-1h0m-4-2h0m-3 3h0m-8-6h0m-1 1h0m-3 0h0m-3 13h0m-10-2h0m-4-3h0m-1-8h0m-23 8h0m-29-5h0m22 24h0m12-9h0m7-1h0m34 3h0m9-5h0m14 8h0m2-5h0m4 2h0m10 0h0m0 1h0m2-4h0m4 10h0m3-1h0m2 0h0m2-11h0m1 6h0m1 9h0m1-2h0m1-13h0m0 9h0m1 5h0m3 0h0m3-11h0m1 9h0m10 1h0m1-13h0m0 6h0m7-6h0m5 8h0m0 1h0m21-8h0m9-1h0m-19 27h0m-29-9h0m0 2h0m-3 1h0m0 2h0m-1 8h0m-2-10h0m-1-3h0m0 5h0m-1-1h0m0 2h0m-2-3h0m-1-2h0m-1 12h0m-3-15h0m-1 8h0m-3 0h0m-2 4h0m-2 2h0m-6-5h0m-8-6h0m-1 4h0m-12 0h0m-3-4h0m-1-3h0m-33 9h0m-33 4h0m-1-6h0m-9 16h0m4 0h0m3-6h0m20 6h0m2-2h0m16-3h0m2 7h0m7-8h0m19 0h0m23 8h0m0 0h0m6-9h0m1 9h0m4 0h0m7-2h0m1-4h0m2 2h0m2 3h0m0-8h0m1 2h0m2 10h0m1-7h0m0 2h0m0 2h0m1-2h0m2 4h0m3-7h0m0 5h0m1 2h0m1-11h0m8 0h0m2 14h0m14-13h0m1 9h0m-12 19h0m-1-5h0m0-5h0m-8 12h0m-2-1h0m-1-2h0m-2-8h0m-1 6h0m-1-1h0m0-8h0m0 11h0m0-10h0m-1 10h0m-2-4h0m-1-1h0m-3-7h0m-93 13h0m-48 6h0m48 12h0m28-3h0m39-9h0m29 0h0m1-1h0m2 0h0m0 9h0m2 2h0m3 2h0m2 0h0m2-10h0m0 2h0m0 5h0m0-7h0m6 10h0m4-2h0m1-6h0m1 1h0m6-7h0m0 3h0m-1 21h0m-6-8h0m0 13h0m-8-13h0m-2 5h0m-1 1h0m-1-4h0m-4-3h0m-3 7h0m0 7h0m0-10h0m-1 11h0m-31-5h0m-24 5h0m-21 0h0m-4 5h0m13 10h0m1-10h0m4-4h0m11 15h0m1-4h0m4 4h0m2-8h0m3 4h0m6-1h0m3 4h0m0-2h0m10-1h0m7 1h0m18-11h0m2 1h0m5 6h0m4-8h0m3 1h0m2 5h0m3 4h0m2-3h0m17 8h0m-12 12h0m-6-8h0m-1 11h0m-4-5h0m-8 6h0m0-2h0m-4-9h0m-7 9h0m-4-10h0m-11 7h0m-7-7h0m-2-1h0m-1 6h0m-6 7h0m-1-6h0m-3-4h0m0 3h0m-3 2h0m-2-6h0m0 9h0m-1-11h0m-1 6h0m0-7h0m-1-1h0m0 11h0m-2-5h0m0 3h0m-2-1h0m-5-3h0m-42 17h0m32 0h0m17-1h0m12-5h0m2 11h0m6-7h0m39 6h0m1-8h0m4 2h0m2 4h0m0 4h0m2-9h0m3 7h0m11-7h0m4 3h0m51 19h0m-46 1h0m-1-5h0m-6 5h0m-1-10h0m-2 2h0m-1 5h0m-4 6h0m-1-4h0m0-2h0m-1 8h0m0-8h0m-1 1h0m-3-7h0m-1 14h0m-1-11h0m0 5h0m0-1h0m-1-8h0m-3 15h0m-3-5h0m-2 2h0m0 0h0m0 3h0m-2-1h0m-2 0h0m-1-8h0m0-3h0m-2 8h0m-5 3h0m-11-7h0m-19-6h0m-10 8h0m-19-6h0m-7 5h0m-15 22h0m22 0h0m16-7h0m17 5h0m6-8h0m14 5h0m1-6h0m4 7h0m6 2h0m4 0h0m6-10h0m0 4h0m3-2h0m7 2h0m2 5h0m1-8h0m1-3h0m0 4h0m2 4h0m1-7h0m11 0h0m-11 17h0m-40 4h0m-6-4h0m-6 1h0" stroke="#808080" stroke-width="10.8" stroke-opacity="0.5"/></g><g clip-path="url(#cC)"><path class="d" transform="scale(.5)" d="M242 749h0m26-4h0m63 2h0m63 4h0m16-1h0m5 16h0m0-5h0m-4-4h0m-1 3h0m-1 0h0m-1 7h0m0-9h0m0 8h0m-2-1h0m-1-2h0m0-8h0m-1 11h0m-2-11h0m-7 10h0m-1-7h0m0 4h0m-2 4h0m-2-11h0m-1 0h0m-1 12h0m0-3h0m-3-7h0m-2 6h0m0-11h0m-2 12h0m-1 1h0m0-4h0m-2 3h0m-1 1h0m-8 1h0m-95-10h0m-8 1h0m0 4h0m-5 6h0m-3-11h0m-120-2h0m0 5h0m-4 3h0m0 5h0m-4-1h0m-8-3h0m-5 4h0m-4-5h0m-9 3h0m0-6h0m2 16h0m2 6h0m4-1h0m6 3h0m0-2h0m2-6h0m1 5h0m0-7h0m2 10h0m3-11h0m1 7h0m1-6h0m3-3h0m4 4h0m2-6h0m2 8h0m9-3h0m4-3h0m2 1h0m42 0h0m4 9h0m16-3h0m11 0h0m37-6h0m3 12h0m11-9h0m13 6h0m4-3h0m8-8h0m38 1h0m13 8h0m3 0h0m10 3h0m1-11h0m1 7h0m2 5h0m0-5h0m2-9h0m1 4h0m1 9h0m1-10h0m1-3h0m0 11h0m0-4h0m0 8h0m2-6h0m1-8h0m1 0h0m1 12h0m0-3h0m1-1h0m1-8h0m3 10h0m0-1h0m2-8h0m1 1h0m1 9h0m0-3h0m1-4h0m1 5h0m1-3h0m0-2h0m1 5h0m0-5h0m0-1h0m0 5h0m1 2h0m0-11h0m1 8h0m1-8h0m3 10h0m1-5h0m0 9h0m1-3h0m0-1h0m2 1h0m0 2h0m0-4h0m2-4h0m3-4h0m1 2h0m0 6h0m1-3h0m0-3h0m1-1h0m0 9h0m0 0h0m1 1h0m2-3h0m3 2h0m0-1h0m2 5h0m1-3h0m4 1h0m1 1h0m-4 9h0m-1 2h0m0-6h0m-1 8h0m-1-9h0m0-1h0m-4 9h0m0-9h0m-3 0h0m0 8h0m-1 3h0m-3 1h0m-2-11h0m-1 8h0m0 0h0m0-1h0m-2-2h0m0 4h0m-1-1h0m0 5h0m0-11h0m-4-4h0m-1 11h0m-1-2h0m-1 4h0m-2-7h0m-2-4h0m-1 6h0m-2 0h0m-1 0h0m0 0h0m-2 2h0m-1-7h0m-1 10h0m0-2h0m-1 2h0m0-7h0m0 5h0m-1-11h0m-1 10h0m0 4h0m0-13h0m-1 0h0m-1 8h0m-1-3h0m-1 5h0m-1 2h0m0-6h0m0 4h0m0-1h0m0 4h0m0 0h0m-1-9h0m-1 1h0m0-3h0m-1-3h0m0 3h0m0 5h0m-2-2h0m-1-2h0m0 7h0m-2-2h0m-1 2h0m-4-11h0m-21 1h0m-15-1h0m-11 1h0m-14 3h0m-26 10h0m-11-4h0m-16 1h0m-16-5h0m-2 8h0m-14-9h0m-8 9h0m0-4h0m-11-10h0m-1 10h0m-7 2h0m0-8h0m-10-1h0m-25 0h0m-3 6h0m-11-2h0m-3 0h0m-1-4h0m-3 5h0m-1 5h0m0-10h0m0-3h0m-1 2h0m0 10h0m0-6h0m-1-6h0m-1 10h0m0-3h0m-2 5h0m-1 0h0m0-9h0m-2 6h0m-1-9h0m0 11h0m-1 4h0m0-15h0m-4 1h0m-1 3h0m-1-2h0m-1 9h0m-6-6h0m-1 10h0m0-10h0m0-2h0m-1 2h0m-2 4h0m-1 1h0m-7-9h0m21 19h0m2-1h0m1 0h0m11-1h0m4 10h0m3-5h0m15-4h0m8 3h0m5 9h0m8-6h0m2 1h0m5 5h0m4-6h0m16 0h0m4 3h0m13-4h0m41 2h0m33 0h0m6 3h0m3-4h0m3-6h0m3 9h0m15-3h0m1-9h0m7 12h0m4-3h0m4 5h0m1-12h0m4 13h0m7-12h0m2 4h0m3 4h0m1-4h0m4 0h0m1 5h0m1-7h0m2 9h0m0-13h0m0 2h0m0 1h0m1 2h0m0-4h0m0 2h0m1 11h0m0-7h0m1 5h0m2 2h0m1-2h0m0-9h0m1 11h0m0-11h0m0 10h0m0-2h0m1-6h0m0 4h0m1 0h0m1 2h0m0-8h0m0 4h0m1-5h0m1 7h0m0 2h0m2-9h0m0-3h0m0 0h0m0 7h0m1-3h0m1-3h0m0 2h0m1 8h0m0 1h0m2-4h0m0-5h0m0 4h0m0 8h0m1-10h0m0 4h0m0 0h0m0-7h0m1 11h0m0-12h0m0 12h0m1-7h0m1-2h0m2-4h0m1 0h0m0 3h0m1 0h0m1 5h0m1 1h0m0-1h0m1-5h0m0 9h0m0 0h0m2-8h0m2-3h0m0 8h0m1-9h0m0 5h0m1 7h0m1-11h0m1 6h0m0 4h0m0-8h0m0 11h0m3 1h0m0-11h0m0 4h0m0 4h0m1-10h0m1 7h0m5 0h0m2-5h0m2 7h0m0-2h0m3-1h0m1 1h0m1 2h0m0-4h0m2 8h0m0-3h0m1-9h0m5 18h0m-8 10h0m-2-5h0m-1-2h0m0-4h0m-1 2h0m-1 4h0m0-5h0m-1 4h0m-1 3h0m-1 0h0m-1-5h0m0 5h0m0 1h0m-1-8h0m-1 0h0m0-5h0m-1 12h0m-1 0h0m-1-11h0m-1 6h0m-1 6h0m0-13h0m-1 2h0m-1 7h0m-1-4h0m-1-4h0m0 7h0m-1-3h0m0 1h0m-3 2h0m0-1h0m0 4h0m0 0h0m-1-4h0m0-5h0m-2 3h0m0-5h0m-1 0h0m-1 12h0m0-5h0m0 0h0m-1 3h0m-1-8h0m-1 0h0m0 13h0m0-13h0m-1 3h0m-2-5h0m-1 10h0m0-3h0m0-5h0m0 4h0m-1 5h0m0-4h0m-1-2h0m0-5h0m-1 6h0m0-1h0m-1-2h0m0 12h0m0-8h0m-1 5h0m0-6h0m0 8h0m0-14h0m-2 9h0m0 0h0m0-2h0m-1 5h0m0-2h0m-1 2h0m0-3h0m-1 0h0m0 3h0m0-2h0m-1-8h0m0 11h0m-1-10h0m0 7h0m0 1h0m0 2h0m-1-12h0m0 14h0m-1-15h0m0 2h0m0 13h0m0-13h0m-1 7h0m-1-4h0m0 7h0m-1-10h0m0 10h0m-1 3h0m0-8h0m-1-4h0m-1-3h0m0 10h0m-2-6h0m-1 5h0m0-3h0m-1 1h0m0-3h0m-1 11h0m0-4h0m-2-11h0m-1 6h0m0 8h0m-1-6h0m-2-5h0m0 10h0m-1 1h0m-1-14h0m-1 9h0m0-7h0m-1 4h0m0-3h0m-1 10h0m0-13h0m0 8h0m-1-7h0m0 1h0m-2 7h0m0 6h0m-1-9h0m-1-3h0m-2 5h0m-1 7h0m-1-10h0m-1 3h0m-1 5h0m-1-2h0m0 3h0m-3-1h0m0-5h0m-1 7h0m-1-6h0m-3 0h0m0-7h0m0 8h0m-1 4h0m-1-10h0m-2 8h0m-6-12h0m-1 8h0m-1 2h0m0 1h0m-4-7h0m-2 6h0m0-5h0m-1 10h0m0-10h0m-4 4h0m-11 3h0m-1-10h0m-1 1h0m-2-1h0m-1 7h0m-3 6h0m-5-15h0m-1 10h0m-4 4h0m-1-1h0m-1-9h0m0 9h0m-17-1h0m-3-9h0m-3 1h0m-34 9h0m-2-10h0m-12 10h0m0-1h0m-4-5h0m-4-2h0m-8-3h0m-25 7h0m-22-2h0m-12 3h0m-1 3h0m-3-13h0m76 25h0m2-7h0m4-2h0m2 11h0m12 0h0m3-7h0m33 1h0m4-2h0m3 1h0m1 10h0m1-13h0m2 10h0m4 2h0m0-13h0m3 7h0m5-5h0m4 8h0m1-1h0m0-4h0m5 9h0m0-9h0m1 10h0m1 0h0m2-1h0m1-1h0m4 0h0m2-2h0m1 3h0m0-10h0m1 2h0m1 1h0m0 0h0m2-3h0m3 4h0m2 3h0m2 1h0m5-4h0m3-5h0m1-3h0m1 0h0m2 14h0m0 1h0m0-6h0m1-7h0m1 9h0m2 0h0m2-5h0m2-4h0m0 13h0m0-13h0m2-1h0m1 7h0m0-1h0m1-4h0m1-3h0m0 12h0m1-11h0m1 9h0m0-10h0m0 14h0m2-2h0m0 1h0m0-7h0m1 8h0m0-1h0m1 1h0m1-7h0m2-2h0m1 8h0m1-8h0m2-5h0m0 4h0m0 11h0m1-6h0m1-1h0m2-4h0m0 10h0m0-5h0m0-6h0m1 6h0m1 6h0m0-6h0m1 3h0m0-9h0m0-2h0m1 3h0m0-4h0m0 15h0m0-1h0m2-6h0m0-6h0m2 9h0m0-3h0m1 5h0m1-12h0m0 1h0m1 0h0m1 5h0m0-7h0m0 12h0m1-7h0m0 7h0m1-12h0m0 13h0m1-7h0m0 1h0m0-5h0m0 0h0m1 12h0m0-4h0m1-4h0m0 8h0m1-5h0m0-3h0m0 8h0m1-8h0m0-6h0m0 9h0m1-3h0m0 0h0m0 9h0m1-15h0m0 4h0m0 4h0m0 6h0m1-11h0m0-1h0m1 5h0m0 2h0m1 5h0m0-1h0m2-5h0m0 2h0m0-3h0m1 8h0m0 0h0m0-9h0m0 4h0m1-10h0m0 5h0m0 3h0m2-3h0m0 1h0m0-5h0m1 4h0m0-1h0m1 4h0m0-4h0m0 9h0m0-3h0m0-2h0m1 5h0m0-12h0m0 7h0m0-4h0m1 0h0m1-2h0m1 8h0m0-3h0m2-1h0m0-1h0m1 1h0m1 0h0m1-2h0m0-3h0m0 7h0m0-7h0m1 9h0m0-1h0m0 5h0m2-5h0m1-4h0m1 7h0m0 2h0m0-5h0m1 6h0m2 0h0m1-11h0m0 11h0m0-7h0m1 4h0m1 0h0m0 2h0m1-13h0m0 8h0m1 4h0m0-11h0m0 10h0m1-9h0m0 3h0m2 0h0m0 7h0m0-12h0m1 3h0m0-4h0m1 11h0m1-5h0m3 7h0m1-5h0m-13 14h0m-4-5h0m-1 1h0m0 7h0m-2 3h0m-2 1h0m-2-2h0m-1-6h0m-2 1h0m-2 0h0m0 6h0m-2-7h0m-1-5h0m0 6h0m-1-1h0m-2 10h0m-1-14h0m0 0h0m0 3h0m0 3h0m-2-7h0m0 3h0m-1 10h0m0-13h0m0 13h0m-1-4h0m0-9h0m0 2h0m-2 0h0m-2 5h0m0-1h0m-4-2h0m0 4h0m-4-3h0m0 5h0m-3 3h0m-4-12h0m-1 3h0m0 3h0m-1 5h0m0 1h0m-1-13h0m-1 1h0m-1 5h0m-2 2h0m-1-4h0m0-4h0m0 13h0m-1-4h0m-3 6h0m-2-8h0m-1 0h0m0-3h0m0 8h0m0-11h0m-1 11h0m-2-3h0m-1-2h0m-1-4h0m-1 5h0m0-3h0m-2 0h0m0 6h0m-2-4h0m0 5h0m0-11h0m-2 3h0m-2 4h0m-1-1h0m-1 5h0m0-10h0m-3 2h0m-2 1h0m-1-3h0m0 0h0m0 7h0m-2-4h0m-1 5h0m-2-10h0m-2 5h0m-2 5h0m-1-8h0m-1 4h0m-2-5h0m-1 6h0m-2-4h0m-1 7h0m0-8h0m-2-2h0m-2 4h0m-1 8h0m-4 0h0m-2-10h0m-2 6h0m-5-4h0m-2 3h0m-1 6h0m-3-13h0m-5 10h0m-9-7h0m-1 11h0m-1-9h0m-6-1h0m-5-1h0m-2 2h0m-5-1h0m-2 9h0m-8-3h0m-10-1h0m26 21h0m18-5h0m19 2h0m4-7h0m2 3h0m4-6h0m3 13h0m8-14h0m1 11h0m7-9h0m0 9h0m1 1h0m0 1h0m4-6h0m3-1h0m6 3h0m0 2h0m6-9h0m2 3h0m1 8h0m0-4h0m1-1h0m1-5h0m2 5h0m2-6h0m2-2h0m2 3h0m3 6h0m1 0h0m1-9h0m0 6h0m0 9h0m10-2h0m1 0h0m5-9h0m2 3h0m4 2h0m11-4h0m4 2h0m-43 20h0m-1-11h0m-3 10h0m-1-2h0m-3-7h0m-1 14h0m0 0h0m-2-15h0m0 15h0m0-5h0m0 4h0m-1-2h0m0-3h0m-1 2h0m-3 3h0m-1 1h0m-1-14h0m-1 10h0m-38 4h0m-6-15h0m-8 15h0m-4-3h0m-19 2h0m-20-10h0m-2-1h0m-21-2h0m65 19h0m6 9h0m2-3h0m7-8h0m6 9h0m2-9h0m6 6h0m2 0h0m10-2h0m15 3h0m4-1h0m1-3h0m1-1h0m1 9h0m1-3h0m3-7h0m0 9h0m1-3h0m6 4h0m10-6h0m1 20h0m-2 2h0m-3-9h0m-3 2h0m-2-3h0m-3 2h0m-1 6h0m-1 3h0m-2-7h0m-1 6h0m-1-6h0m-2-4h0m0 2h0m-3 5h0m0 0h0m-3-10h0m-2 1h0m-1 8h0m-1-3h0m-64 0h0m-9 2h0m-75-6h0m67 17h0m15 0h0m6-1h0m62 9h0m2-2h0m1 6h0m0 0h0m2-13h0m0 12h0m2 0h0m1 0h0m1-6h0m1-3h0m2-5h0m0 6h0m1-1h0m2 8h0m3 2h0m4-12h0m1 12h0m2-1h0m0-10h0m0 2h0m0 6h0m1-8h0m15 27h0m-12-15h0m-1 14h0m0-8h0m-3 6h0m-5-7h0m0 9h0m-1-9h0m-5 9h0m0 0h0m-2-1h0m-1-3h0m-3 3h0m-2 1h0m-61-5h0m-10-3h0m-2-1h0m-25 3h0m-11-3h0m-8-5h0m1 17h0m57 8h0m3-4h0m4 4h0m0 0h0m6 5h0m5-2h0m3-2h0m2-9h0m1 9h0m2 0h0m0-1h0m4-3h0m4 1h0m1-1h0m16 9h0m9-13h0m1 4h0m9 2h0m3-7h0m4 13h0m1-7h0m3 2h0m0 2h0m21 14h0m-5-5h0m-15 5h0m-3 4h0m-1-3h0m-5-2h0m-5 7h0m-26-15h0m-2 8h0m-4-1h0m-4 1h0m0-4h0m-1-4h0m-3 10h0m0-1h0m-3 0h0m-1-9h0m0 9h0m-1-6h0m0 12h0m-2-11h0m0 6h0m-2-2h0m-1-5h0m-2-2h0m-2 9h0m-84 6h0m69 0h0m7 9h0m10-8h0m1 0h0m6 3h0m15-2h0m2 11h0m1-2h0m7-3h0m6-1h0m7 4h0m4 3h0m8-12h0m3 10h0m2-1h0m0-5h0m1 7h0m1 1h0m1-7h0m0-1h0m1 1h0m8 4h0m1 2h0m5 0h0m0-1h0m3-11h0m4 13h0m13 1h0m-3 9h0m-8-4h0m-6-3h0m-1 6h0m-4 1h0m0-8h0m-1 3h0m-1 11h0m-1-13h0m-1-1h0m-1 9h0m0-3h0m-1 5h0m-1-4h0m-1-5h0m0 11h0m-1-3h0m-2-2h0m-3-1h0m-1 8h0m0-4h0m-1-7h0m0 9h0m-1-4h0m-6-4h0m-1 1h0m-1 5h0m0-9h0m-1-1h0m-3 13h0m-26-7h0m-5 4h0m-8-11h0m-7 0h0m-6 9h0m-16-7h0m-19 16h0m44 5h0m2-4h0m0 5h0m3-4h0m6 1h0m11 5h0m1-5h0m2 1h0m7-1h0m5-3h0m11 0h0m9 2h0m1-1h0m0 7h0m0-2h0m2 3h0m1 3h0m1-11h0m8 2h0m11-5h0m15 16h0m-28 6h0m-16-2h0m-75 5h0" stroke="#808080" stroke-width="10.8" stroke-opacity="0.5"/></g><g clip-path="url(#cC)"><path class="d" transform="scale(.5)" d="M269 744h0m123 5h0m21 8h0m-4-1h0m-2 4h0m-1 2h0m-1 1h0m-1-5h0m-1 5h0m-2-3h0m-2 1h0m-1-7h0m-1 4h0m-2-1h0m-1-1h0m-1 4h0m-1-3h0m-2 8h0m-2-5h0m-1-2h0m0-6h0m0 8h0m-2 1h0m-1-3h0m0 1h0m-5 1h0m0 3h0m-2 4h0m0-1h0m-3 1h0m-15-5h0m-66 3h0m0-1h0m-25-9h0m-6-2h0m-1 12h0m-21-1h0m-99-9h0m-11 8h0m-29 14h0m15 0h0m1 1h0m0-2h0m1 5h0m1-1h0m3 3h0m0-8h0m1 4h0m1-1h0m3 5h0m1-4h0m0 1h0m3-4h0m2-3h0m6 10h0m0-13h0m85 0h0m19 7h0m21 3h0m1-2h0m7-9h0m0 3h0m12-3h0m10 2h0m27 8h0m3-6h0m3 6h0m43-6h0m3-2h0m0 0h0m1 7h0m3 4h0m1-4h0m0-1h0m3-4h0m0 6h0m1-8h0m1-1h0m2 13h0m2 0h0m0-6h0m0-5h0m1 7h0m0 2h0m1 2h0m0-1h0m2-11h0m0 11h0m2-5h0m0 5h0m0-5h0m2 3h0m2-12h0m1 2h0m2 11h0m1-8h0m3 1h0m0-6h0m0 12h0m2 0h0m1-1h0m0-3h0m1-8h0m1 10h0m0-3h0m0-6h0m0 1h0m1 1h0m0 6h0m3 6h0m2 0h0m0-1h0m1-8h0m1-2h0m4 10h0m1-1h0m1 0h0m2 0h0m0 3h0m-2 3h0m-2 6h0m-3-6h0m-1 7h0m0-10h0m-1 5h0m-1 4h0m-1-2h0m-1-3h0m0-1h0m-1 0h0m-1 7h0m0-6h0m-1 9h0m0-3h0m0-5h0m-3 7h0m0 3h0m-1-6h0m-1 5h0m-1 1h0m0-15h0m-1 13h0m0-9h0m-1-3h0m0 5h0m-1 2h0m-1-6h0m0 10h0m-1-7h0m0 1h0m-1-3h0m-1 10h0m0-11h0m-1 12h0m0-3h0m-1 2h0m0-13h0m-1 4h0m-1 9h0m-1-5h0m-3-7h0m-2 11h0m-1-8h0m-3 0h0m-1-2h0m-2 1h0m-1 5h0m0 4h0m-1-3h0m0-3h0m0 3h0m-1 3h0m-2 2h0m0 1h0m-2-7h0m-1 7h0m0-1h0m-3 1h0m-6-6h0m-14-4h0m-34 2h0m-6 6h0m-78-6h0m-4 6h0m-19 1h0m-32-1h0m-8 0h0m-19-13h0m-7 11h0m-3-2h0m-3-2h0m0 0h0m-3-6h0m0-1h0m-2 8h0m-1-1h0m-1 6h0m0-1h0m-2-12h0m0 9h0m-4 0h0m0-8h0m0 9h0m-1 1h0m-1-8h0m-2 8h0m-1-5h0m-2 4h0m-5 0h0m0-2h0m-1 4h0m-4-11h0m-2 8h0m-3 0h0m0-1h0m-1-1h0m9 11h0m9 0h0m7 4h0m1 2h0m2-7h0m5 0h0m1 13h0m2-2h0m36-1h0m1 2h0m3-9h0m1 7h0m15-5h0m0 3h0m2 1h0m7-6h0m2 7h0m2 2h0m9-5h0m3-2h0m12-3h0m64 3h0m18 3h0m5-4h0m10 10h0m2-8h0m3 7h0m4-4h0m4 5h0m0-9h0m1 6h0m1 2h0m1-4h0m4 2h0m1-7h0m1 8h0m0-4h0m3 4h0m2-5h0m1-5h0m1 12h0m2-3h0m1-5h0m1 4h0m1 1h0m1 3h0m0-8h0m2 8h0m2-3h0m0-6h0m1-3h0m0 1h0m1-4h0m0 14h0m1-8h0m0-1h0m0-1h0m1 2h0m1-2h0m0-4h0m0 15h0m0-14h0m1 11h0m0 2h0m0-2h0m0 0h0m1-7h0m0 3h0m0-7h0m0 2h0m1-3h0m0 9h0m2-1h0m0 4h0m0-3h0m1 6h0m0-15h0m1 6h0m0-2h0m2-4h0m1 7h0m1-7h0m1 3h0m1 8h0m0-11h0m0 8h0m0 6h0m1-10h0m0 8h0m2-3h0m1 2h0m0 4h0m1-14h0m1 12h0m0-2h0m2-7h0m1 7h0m1-5h0m1 3h0m0-8h0m0 8h0m3-4h0m1 6h0m0-3h0m0 7h0m1-8h0m1 5h0m0-3h0m1 6h0m0-15h0m0 7h0m0 8h0m1-11h0m0 1h0m1 8h0m0-13h0m2 12h0m0-11h0m1 1h0m1 10h0m0-10h0m0-1h0m2 14h0m1-9h0m0 9h0m0-8h0m0 4h0m1-8h0m4 6h0m3-1h0m1-3h0m0 2h0m1 5h0m1-11h0m1 1h0m1 10h0m0-11h0m3 8h0m1-4h0m0 26h0m-1-14h0m-1 7h0m0-2h0m-1 4h0m0 0h0m-1-4h0m-1-3h0m0-1h0m-1 0h0m0 0h0m-4 7h0m0-5h0m-1 10h0m-1-5h0m0-4h0m0-4h0m-2 14h0m-2-5h0m-2 0h0m-1 0h0m-1 0h0m0-8h0m0 13h0m-1-2h0m0-6h0m-1 7h0m-1-7h0m-4 7h0m-1 1h0m0-8h0m-1 8h0m0 0h0m-1-14h0m-1 2h0m-1 6h0m0-7h0m0 2h0m-2 11h0m0-2h0m-1-13h0m0 2h0m0 8h0m-1-9h0m-1 7h0m0-3h0m0-2h0m-1 0h0m0-3h0m-1 7h0m0 4h0m0-1h0m0-6h0m0 11h0m-1-2h0m0 2h0m0-9h0m-1 8h0m0-13h0m0 11h0m0 2h0m-1-6h0m0-5h0m-1 11h0m-1-4h0m0 4h0m-1-3h0m0-5h0m0 3h0m-1 0h0m-2 6h0m0-2h0m0 2h0m-1-3h0m-1-12h0m0 8h0m-1-1h0m0 3h0m0-10h0m-1 2h0m0 3h0m0-1h0m-1 5h0m0 3h0m0 3h0m0-4h0m-1-9h0m-1-1h0m-1 2h0m0 7h0m-2-3h0m-1 4h0m0 3h0m0-8h0m0 4h0m-1-7h0m-1 2h0m0-2h0m-3 6h0m-1 3h0m-2-1h0m-1 1h0m0-1h0m0-2h0m0-5h0m-1-2h0m0 9h0m-1-6h0m0 9h0m-1-11h0m-1 8h0m0-10h0m-1 10h0m-1 2h0m-1-8h0m-2 4h0m-1 1h0m-1-3h0m0 4h0m-1-6h0m0 3h0m0 4h0m0-9h0m0 4h0m-1-2h0m-1 8h0m-1-3h0m-1-3h0m-1-2h0m0 3h0m-2-8h0m0 11h0m-1 1h0m0 3h0m-1-11h0m-2 5h0m0 1h0m-1 2h0m0-12h0m-2 12h0m-1-9h0m-1 4h0m0-7h0m-1 11h0m0-3h0m-1 0h0m0-5h0m-2 11h0m0-1h0m-4 0h0m0-6h0m-1-1h0m0 8h0m-3-3h0m0-1h0m-1-4h0m-1-3h0m0 12h0m0 0h0m0-5h0m0 5h0m-1-6h0m-1 6h0m-2-7h0m0 7h0m-3-9h0m0 9h0m-1 0h0m-1-6h0m0-5h0m-1 2h0m-3 3h0m0-1h0m-3-6h0m-2 1h0m-8 5h0m0 4h0m-6 0h0m-5-6h0m-4 8h0m-2-4h0m-9-4h0m0 3h0m-1 4h0m-2-9h0m-1 5h0m-3 4h0m-20 0h0m-6-11h0m-13 7h0m-7-2h0m0-7h0m-4 9h0m-9 5h0m-8-14h0m-5 11h0m-8-10h0m-12 9h0m-37-1h0m-4 3h0m-7-6h0m-4 0h0m-8 3h0m95 18h0m1-5h0m3-3h0m2 7h0m0-3h0m9-6h0m8 12h0m29-9h0m6-4h0m5 0h0m3 5h0m4-1h0m6 4h0m5 1h0m2-3h0m2 5h0m0-8h0m2 4h0m0-4h0m2 10h0m0-13h0m3 11h0m1-5h0m7-5h0m1 1h0m4 7h0m2-6h0m1 4h0m0 0h0m0-4h0m1 5h0m1-5h0m0 6h0m1-6h0m0 4h0m1-4h0m1 12h0m2-9h0m1-2h0m2 8h0m1-4h0m1 0h0m0-1h0m2 3h0m1-3h0m1 5h0m1-9h0m4 7h0m1-9h0m0 5h0m0 4h0m1-7h0m0-3h0m4 2h0m1 8h0m2-2h0m1 5h0m0 0h0m2-9h0m1 2h0m1 9h0m0-6h0m1-3h0m0 7h0m0-6h0m3 2h0m0 5h0m1-2h0m1-3h0m0-5h0m1 8h0m1-2h0m0-7h0m0-1h0m1 10h0m0-11h0m1 4h0m2 9h0m0-4h0m2-4h0m0 5h0m0-4h0m1-7h0m0 1h0m1 4h0m0 5h0m1-4h0m0 7h0m0-5h0m1 4h0m1-6h0m0 6h0m1 1h0m0-8h0m0 5h0m1-10h0m0 1h0m1 6h0m0 0h0m1 4h0m0-3h0m1 3h0m0-3h0m0-2h0m1-1h0m1-1h0m1 3h0m0 5h0m0-8h0m0 11h0m1-14h0m1 6h0m0 0h0m0 4h0m1-6h0m0-4h0m0 6h0m0 6h0m0-6h0m0-5h0m0 12h0m0-7h0m1 4h0m1 1h0m0 1h0m1 1h0m0-2h0m0-8h0m1 3h0m0 1h0m0-7h0m0 12h0m2-5h0m2 1h0m0-5h0m0-3h0m1 12h0m2 0h0m1 0h0m0 0h0m1-6h0m0 8h0m0-11h0m0-2h0m2 13h0m0-7h0m0-3h0m1 9h0m0-11h0m2 2h0m0 5h0m1-7h0m0 2h0m1-3h0m0-1h0m0 3h0m1 6h0m0 4h0m1-14h0m0 12h0m0-10h0m1-1h0m0 8h0m1 5h0m0-2h0m4-1h0m1-1h0m1-3h0m1-5h0m2 1h0m1 6h0m1 4h0m3-10h0m0 11h0m1-1h0m1-1h0m2-3h0m0-3h0m3-6h0m1 2h0m3 1h0m-5 13h0m-3 4h0m-6 4h0m-2 2h0m-2 1h0m0-9h0m0 5h0m-6-7h0m0 4h0m0 10h0m-1-7h0m0 0h0m-1-3h0m0-4h0m-1 1h0m-3 1h0m0-2h0m-1 5h0m0-2h0m-2 8h0m0-11h0m-1 10h0m0 2h0m0-9h0m-2 1h0m0 0h0m0 9h0m-1 0h0m-1-9h0m-1 3h0m-1-5h0m0 1h0m-1-2h0m-1 8h0m-2-9h0m-4 0h0m-3 11h0m-3-11h0m-1 0h0m-2 1h0m0 2h0m0 0h0m-1 5h0m-1 2h0m0-2h0m0 1h0m-3 6h0m0-5h0m-1-6h0m-2 3h0m0 4h0m0-6h0m-1-2h0m0-2h0m-2 2h0m-1 2h0m-1 3h0m0-2h0m0-5h0m-1 2h0m-3 3h0m0-5h0m-1 3h0m-3 11h0m-1-7h0m-1-2h0m0 9h0m-1-14h0m-1 7h0m-2-4h0m0 8h0m0-10h0m-1 5h0m-1-1h0m-2 9h0m-2-4h0m-1-4h0m-1-5h0m0 2h0m-1 6h0m0 0h0m-1-5h0m-1-5h0m-2 0h0m0 0h0m0 6h0m-1 5h0m-2 0h0m-1 3h0m-2-2h0m-1-12h0m-2 4h0m0 5h0m-2 2h0m-1-9h0m0 3h0m0 10h0m-3-13h0m-3 2h0m0-2h0m-5-2h0m-3 0h0m-1 14h0m-3 1h0m-4-9h0m-3-4h0m-1 8h0m-1-9h0m0 6h0m-4 1h0m0-7h0m-2 0h0m-16 3h0m-2 10h0m-7 1h0m-1-14h0m-2 1h0m-1 8h0m-3 3h0m-16-13h0m10 16h0m34 9h0m3-1h0m0 1h0m2-6h0m11 5h0m4-5h0m7 10h0m1-5h0m4 7h0m2-15h0m1 3h0m8 4h0m0 6h0m3-3h0m3 4h0m1-12h0m1 0h0m0-2h0m1 7h0m1-1h0m6 8h0m4-4h0m3 1h0m0-9h0m0 4h0m1 2h0m3-6h0m3 12h0m1-11h0m1 0h0m1 12h0m1-6h0m0 1h0m7 4h0m1-5h0m1 5h0m3-10h0m20 6h0m3-3h0m13-5h0m-17 16h0m-2 1h0m-6-2h0m-8 0h0m-6-1h0m-10 9h0m-2-4h0m-3-4h0m-1 5h0m-2 3h0m-1 3h0m-1-10h0m-3 0h0m0 12h0m0-9h0m0-4h0m0 1h0m-2 13h0m-1-8h0m-3-3h0m-2 7h0m-1-7h0m0 8h0m-8-2h0m-7-2h0m-2-7h0m-18 9h0m-6 1h0m0-11h0m-8 6h0m-2 5h0m-10-5h0m-49-5h0m-1 29h0m6-2h0m12-4h0m58-8h0m33 4h0m4-1h0m1-3h0m0 3h0m5 12h0m2-9h0m0 5h0m2 2h0m0-8h0m0 10h0m1-2h0m1-7h0m2 7h0m2-1h0m6-2h0m2-5h0m0 2h0m2 7h0m1-5h0m8 15h0m-1-1h0m-5-1h0m-1-4h0m-1 7h0m0-3h0m0 3h0m0-1h0m-6 4h0m-2-9h0m-1 12h0m0-3h0m-1-2h0m-3-3h0m0-2h0m-7-1h0m-41-2h0m-39 13h0m-18-5h0m22 18h0m83-9h0m1-1h0m1 5h0m3 2h0m6 0h0m1 0h0m2-9h0m8 10h0m8 20h0m-11-5h0m-4-9h0m-8 2h0m0 0h0m-3 2h0m0 5h0m0 4h0m-3-1h0m0-8h0m-1 3h0m-1-6h0m-4 0h0m-15 9h0m-44 5h0m-2-5h0m-27 5h0m-32 1h0m39 8h0m31 3h0m1 0h0m1-6h0m1 5h0m3 3h0m9 2h0m1-6h0m0 1h0m2-7h0m0 2h0m3 3h0m11-1h0m6-4h0m9-2h0m9 4h0m5-2h0m5 1h0m5 10h0m2-2h0m1-6h0m2 8h0m1-14h0m1 10h0m2-7h0m2-2h0m2 21h0m-2 0h0m-3 4h0m-2 4h0m-8-7h0m-1 8h0m-6-9h0m-13-1h0m-8 0h0m-8 4h0m-4-6h0m-6 0h0m-5 8h0m-1-7h0m0-1h0m-1-3h0m-1 13h0m-2-3h0m-3-3h0m-1 7h0m-1-9h0m0-4h0m-2 14h0m-2 0h0m-1-8h0m-1-4h0m-1 11h0m-2-4h0m-14-10h0m-6 7h0m-4-3h0m-5 5h0m23 22h0m13-4h0m10-8h0m3 3h0m2-2h0m9 9h0m1-5h0m13 0h0m10-8h0m7 10h0m3 5h0m1-1h0m5-5h0m4 5h0m1-3h0m1 2h0m2-7h0m5 9h0m1-13h0m6 25h0m-1-10h0m-3 6h0m-1-2h0m0-3h0m-5 10h0m0-6h0m-3-6h0m-2 2h0m0 6h0m-2 3h0m0-11h0m-2 9h0m-1 4h0m-1-1h0m-1 1h0m-2-10h0m-4 2h0m-16 0h0m-1 2h0m-10 3h0m-7-7h0m-5 9h0m-9 0h0m-5-10h0m-2 4h0m-2 3h0m16 15h0m0-2h0m5-2h0m17 2h0m9-2h0m2 4h0m3-2h0m4-3h0m1-3h0m7 4h0m4 0h0m1 8h0m5-11h0m3 9h0m1-10h0m7 1h0m1 3h0m14 4h0m-33 9h0m-1-1h0m-1 9h0m-4-9h0m-3 6h0m-10 2h0m-50-5h0" stroke="#808080" stroke-width="10.8" stroke-opacity="0.5"/></g><g clip-path="url(#cC)"><path class="d" transform="scale(.5)" d="M411 734h0m-245-7h0m-19-2h0m-33 22h0m8 1h0m34-5h0m29-2h0m17 10h0m177-9h0m16 0h0m3 9h0m5 0h0m3-3h0m5 0h0m2 2h0m11 17h0m-1-1h0m-4-6h0m0 5h0m-1-1h0m-1-1h0m-1-7h0m-1 10h0m0-1h0m-1-4h0m0 6h0m0-5h0m-1-1h0m0 4h0m0-5h0m-1 6h0m0-12h0m-1 5h0m-1 7h0m-1 0h0m0-6h0m-1 4h0m0-11h0m0 14h0m-1-1h0m-1-1h0m-1-13h0m-1 7h0m0-1h0m-1 8h0m0-11h0m-1 3h0m0 7h0m-1 2h0m0-4h0m-1-10h0m0 13h0m0-10h0m-1 4h0m0 7h0m0 0h0m-1 0h0m0-4h0m0-7h0m0 8h0m0-3h0m0-9h0m0 7h0m-1 7h0m0-1h0m0-10h0m-1 6h0m0-1h0m0 6h0m0-12h0m0 3h0m0-1h0m-1 11h0m0-7h0m0-2h0m0 3h0m0-2h0m0 2h0m0-4h0m0 5h0m-1-8h0m0 4h0m-1-6h0m0 10h0m0 0h0m0 5h0m-1-6h0m0-4h0m0 2h0m0-6h0m0 3h0m0-3h0m0 7h0m0-7h0m-1 9h0m0-5h0m0 6h0m0 1h0m0 1h0m0-7h0m0 9h0m0-5h0m-1 5h0m0-1h0m0-2h0m0-3h0m-1-2h0m0 2h0m-1 3h0m0-6h0m0 0h0m0-3h0m0 9h0m-1 2h0m0-5h0m0-7h0m0 6h0m0 1h0m0 1h0m0-7h0m-1-1h0m0 7h0m0 0h0m0 0h0m0 6h0m-1-1h0m0-2h0m0-10h0m-1 9h0m0-1h0m-2-10h0m-1 15h0m0-4h0m-1-5h0m-1 8h0m0-7h0m0 6h0m0-3h0m-2 0h0m0 2h0m-1-2h0m0-3h0m0 0h0m0 6h0m-1 1h0m-1 0h0m-1 0h0m-1-7h0m-2 5h0m-6-2h0m-149-5h0m-23 2h0m-10 5h0m-6 3h0m-18-6h0m-2-2h0m-2-6h0m-1 1h0m-3 7h0m-2-1h0m0-4h0m-1 3h0m-1 5h0m-5-3h0m0 1h0m-2-2h0m-3 3h0m-1 0h0m0 4h0m-1-1h0m-2-6h0m-4-2h0m-1 8h0m0-3h0m-4-2h0m0-3h0m-1 4h0m-1-1h0m0 6h0m-1 0h0m-2-10h0m-2 10h0m0-3h0m0-1h0m-2-2h0m-6 4h0m-5 1h0m-1-2h0m-3-3h0m-1 8h0m3 6h0m0-4h0m1-1h0m1 13h0m0-12h0m0 2h0m2 9h0m0-13h0m1 13h0m1-12h0m0 7h0m1 6h0m0-9h0m0 1h0m0 8h0m1-10h0m0 5h0m1-2h0m0-3h0m0 10h0m1-3h0m0-3h0m0 5h0m1 0h0m0-1h0m0-4h0m1 2h0m0 4h0m0-2h0m0-13h0m0 13h0m0 0h0m1-7h0m0 0h0m0 4h0m1-4h0m0 1h0m0 1h0m0 3h0m0-1h0m1-7h0m0-1h0m0 3h0m0 7h0m0-3h0m0-6h0m0 10h0m1 1h0m0-10h0m0 0h0m0 8h0m0-12h0m1 10h0m0 5h0m0-3h0m0-4h0m1-8h0m0 11h0m0 0h0m0 4h0m0-7h0m0-4h0m1 10h0m0-4h0m0 2h0m0-11h0m0 11h0m0 3h0m0-11h0m1 9h0m0-8h0m0 0h0m0 6h0m0-5h0m0 1h0m0 8h0m0-15h0m0 15h0m1-1h0m0-5h0m0 4h0m0-5h0m0-7h0m0 13h0m0-8h0m0 1h0m1-6h0m0 6h0m0 6h0m0-7h0m1 6h0m0 0h0m0-8h0m1 11h0m0-3h0m0-5h0m0 5h0m0 2h0m1-3h0m0 1h0m0-2h0m0-10h0m0 10h0m0-7h0m0 8h0m0 1h0m0-5h0m0 4h0m1-2h0m0 0h0m1-7h0m0 7h0m0 0h0m0-2h0m0 0h0m1 2h0m0 5h0m0 0h0m0 0h0m0 1h0m0-8h0m0-5h0m0 4h0m0 3h0m1 4h0m0-13h0m0 14h0m0-7h0m0-7h0m1 4h0m0 0h0m0 1h0m0 7h0m1 2h0m0-2h0m1 3h0m0-3h0m0-1h0m0-8h0m1 10h0m0 1h0m0-2h0m0-1h0m0-8h0m1-1h0m0 12h0m0-4h0m1 5h0m0-2h0m0-3h0m1 3h0m0-4h0m0 2h0m1-11h0m0 11h0m0-6h0m1 5h0m1-1h0m1 4h0m1-5h0m2 4h0m0 3h0m0-11h0m1 1h0m1 7h0m1 2h0m6-5h0m5 6h0m2-12h0m1 5h0m9 6h0m2 1h0m10-7h0m9-2h0m5 1h0m5-2h0m5-1h0m4 4h0m7 7h0m22-12h0m9 9h0m33 3h0m3-8h0m11-1h0m5 0h0m62 9h0m0 0h0m3-6h0m0 0h0m0 4h0m0 1h0m1 0h0m1 0h0m0-2h0m1 1h0m1-6h0m1 6h0m0-5h0m0 0h0m1 3h0m0 0h0m0-11h0m0 14h0m0-4h0m1 4h0m0-7h0m0-3h0m1-4h0m0 12h0m0 3h0m0-15h0m1 7h0m0-7h0m0 15h0m1-9h0m0-6h0m0 3h0m0 11h0m0-7h0m1-4h0m0-3h0m0 13h0m1-2h0m0-9h0m0 9h0m0-8h0m0 8h0m0 2h0m0-9h0m1 5h0m0 1h0m0 1h0m0-6h0m1 10h0m0-14h0m0 2h0m0 8h0m1-3h0m0 3h0m0-11h0m0 11h0m0 2h0m0-10h0m0 11h0m0-4h0m1 3h0m0-8h0m0-2h0m0 2h0m0 6h0m0-4h0m0 4h0m1-4h0m0-5h0m0 4h0m0 9h0m0-12h0m0 7h0m1-6h0m0 6h0m0-5h0m0 0h0m0-1h0m0 2h0m0 7h0m0-8h0m1 0h0m0 5h0m0-5h0m0 2h0m0 4h0m0 1h0m0-10h0m1 12h0m0-1h0m0-11h0m0 6h0m0 4h0m1 0h0m0 0h0m0 2h0m0-8h0m1 5h0m0-5h0m0 7h0m0 0h0m0 2h0m0-8h0m0-3h0m1 5h0m0-5h0m1 0h0m0 5h0m0 4h0m0-7h0m0 5h0m0-6h0m1 5h0m0 3h0m0 2h0m0-1h0m0-1h0m0-2h0m1 0h0m0-5h0m0 9h0m1-15h0m0 10h0m0-10h0m0 14h0m0-10h0m0-1h0m0 2h0m1 7h0m0 1h0m0-3h0m1-8h0m0 5h0m0 1h0m0 7h0m1-13h0m0 13h0m1-3h0m0-12h0m0 15h0m0-2h0m0 2h0m0 0h0m1-13h0m0 7h0m0 3h0m0-5h0m0-2h0m0 6h0m0 3h0m1 0h0m0-2h0m0-9h0m0-2h0m0 4h0m0-4h0m0 7h0m0-1h0m1 8h0m0-8h0m0-1h0m1-2h0m0 5h0m0 2h0m0-3h0m1-5h0m1 1h0m0 0h0m0 8h0m0-1h0m0-10h0m1 7h0m0 3h0m0 0h0m0-4h0m0 7h0m0-1h0m0-2h0m1-11h0m0 14h0m0-10h0m0 2h0m0-5h0m1 13h0m0-14h0m0 7h0m0 7h0m0-10h0m1 11h0m0-9h0m0 4h0m0-5h0m0 3h0m1 5h0m0-8h0m0-1h0m0 8h0m0-3h0m0 3h0m0 0h0m0-6h0m1-6h0m0 9h0m0-3h0m1 2h0m0-5h0m1 0h0m0 11h0m0-9h0m1 9h0m0 1h0m0-6h0m0 1h0m1 1h0m0-9h0m0 13h0m1-12h0m0 7h0m0-9h0m0 8h0m0 0h0m1 4h0m1-12h0m0 6h0m0 5h0m0-4h0m0 2h0m1-5h0m0 9h0m0 0h0m0-1h0m0-11h0m1-2h0m0 8h0m1 3h0m0 3h0m1-7h0m1 3h0m0 2h0m1-3h0m1-2h0m1 8h0m0-14h0m0 8h0m1 5h0m1-11h0m2 4h0m4-6h0m4 4h0m1 26h0m-1-4h0m-4-10h0m-3 3h0m0 3h0m-2 3h0m-1-6h0m0 11h0m0-15h0m0 10h0m0 3h0m-1-9h0m0 0h0m0 1h0m0-2h0m-1 9h0m0-6h0m-1 8h0m0-9h0m0 6h0m0-2h0m0-8h0m-1 2h0m0 7h0m0-8h0m0-1h0m-1 4h0m0 7h0m0 3h0m0-8h0m0 6h0m0-1h0m-1-3h0m0 3h0m0-2h0m0-6h0m0 8h0m-1 0h0m0-4h0m-1-8h0m0 15h0m-1-3h0m0-2h0m0-4h0m-1-3h0m0 8h0m0-4h0m0 0h0m0 8h0m0-9h0m0 7h0m-1-4h0m0-1h0m0 7h0m0-3h0m0-6h0m0-5h0m0 12h0m0-11h0m0 4h0m0-5h0m0 7h0m-1 4h0m0-4h0m-1-4h0m0-4h0m0 3h0m0 6h0m-1 2h0m0-1h0m0-9h0m0-1h0m-1 13h0m0-7h0m0 2h0m0-5h0m0 0h0m0-3h0m0 3h0m0 11h0m-1-10h0m0 5h0m0-4h0m0 3h0m0-4h0m0 5h0m-1-1h0m0 2h0m0-1h0m0-6h0m0 3h0m0 0h0m0-3h0m-1-1h0m0-2h0m0 7h0m0-2h0m-1-3h0m0 12h0m0-1h0m0-13h0m-1 9h0m0-3h0m0 3h0m0 1h0m-1-7h0m0-3h0m0 15h0m0-9h0m0 4h0m-1 5h0m0 0h0m0-13h0m0 3h0m-1 6h0m0 2h0m0-5h0m0 3h0m-1-10h0m0 1h0m0 8h0m0-3h0m0-2h0m0 9h0m0-12h0m-1 3h0m0-1h0m0 7h0m0-8h0m0 4h0m-1-7h0m0 8h0m-1-4h0m0 10h0m0-5h0m0 3h0m0-11h0m0 9h0m0-1h0m0 5h0m0-8h0m0 1h0m-1-1h0m0 3h0m0-6h0m-1-1h0m0-1h0m0 14h0m-1-4h0m0-7h0m0 2h0m0 1h0m0 1h0m0-6h0m-1 6h0m0-7h0m0-1h0m0 7h0m0-5h0m0-1h0m-1 7h0m0 4h0m0-6h0m0-5h0m0 11h0m0 2h0m0-9h0m0 6h0m-1-3h0m0-8h0m0 12h0m0-2h0m0 4h0m0-7h0m-1 0h0m0 1h0m0 5h0m0 0h0m-1 2h0m0-7h0m0-6h0m0 7h0m-1-8h0m0 9h0m0-7h0m0 4h0m-1 1h0m0-5h0m0 5h0m0 6h0m0-1h0m0-4h0m0-4h0m-1 7h0m0-8h0m0 9h0m0-4h0m0-3h0m-1-6h0m0 2h0m0 11h0m0-13h0m0 10h0m-1 0h0m-1-2h0m0 5h0m0 1h0m0 0h0m0-8h0m-1 6h0m0-3h0m0 6h0m0-10h0m-1 1h0m0-2h0m0-1h0m-1 1h0m0 5h0m0 1h0m0 2h0m0-3h0m0 2h0m-1-2h0m0-1h0m0 7h0m-1 0h0m0-2h0m0-8h0m0 10h0m-1-6h0m0 1h0m0-7h0m0 8h0m0-3h0m0-4h0m0 11h0m0-3h0m-1-1h0m0-1h0m0-2h0m-1-6h0m0 9h0m0 0h0m0 1h0m0-9h0m0 9h0m-1-5h0m0 6h0m0-9h0m0-4h0m0 12h0m0-1h0m-1-10h0m0 2h0m0 7h0m0-9h0m0 8h0m0 3h0m-1-1h0m0 1h0m0 3h0m0-5h0m0 4h0m-1-14h0m0 9h0m0-1h0m0-8h0m0 9h0m0 3h0m-1-1h0m0-9h0m0 8h0m0-7h0m0 7h0m0 0h0m-1 2h0m0-8h0m0 3h0m0 1h0m0 3h0m0-4h0m0 2h0m0 1h0m0-6h0m-1 7h0m0-1h0m0-8h0m-1 8h0m0-10h0m0 1h0m0 8h0m0-1h0m0 4h0m-1 2h0m0-2h0m0 3h0m-1-8h0m0-6h0m-1 6h0m0-3h0m0-3h0m-1 5h0m0 1h0m0-4h0m0 2h0m-1 4h0m0 2h0m-1-4h0m0 1h0m-1-7h0m0 8h0m0 4h0m-2-9h0m-4 11h0m-2-9h0m-30 8h0m-29 0h0m-6-4h0m-9 1h0m-1-2h0m-8-2h0m-4-5h0m-42 5h0m-14-3h0m-5 0h0m-1 5h0m-2-7h0m-1 7h0m0 0h0m0 6h0m-3-14h0m-6 3h0m0-3h0m0 6h0m-9-1h0m-3 4h0m-7 0h0m-1-4h0m-1 4h0m0 3h0m-10-8h0m-9 7h0m-1-12h0m-1 3h0m-3 10h0m0-11h0m-1 13h0m-2-6h0m-1 5h0m0-12h0m0 5h0m-2 4h0m0 4h0m-1-2h0m0-9h0m-1 2h0m0 6h0m-1-5h0m0 1h0m0 5h0m-1 2h0m0-12h0m-1 3h0m0 3h0m-1-9h0m0 9h0m-1 4h0m0-9h0m0 3h0m0-5h0m-1 3h0m0 2h0m-1-6h0m0-1h0m0 8h0m0-5h0m0 7h0m0-3h0m-1 3h0m0-5h0m0 6h0m0 1h0m-1-6h0m0-6h0m0 5h0m0 1h0m0 8h0m0-5h0m0-6h0m-1 1h0m0 11h0m0-10h0m0-2h0m0 8h0m0-5h0m-1-3h0m0 5h0m0 2h0m0 5h0m0-12h0m-1 1h0m0 11h0m0-5h0m0 4h0m0-1h0m-1-2h0m0-5h0m0-2h0m0 0h0m0 5h0m0-1h0m0-5h0m-1 8h0m-1-7h0m0 1h0m0-4h0m0 14h0m-1-12h0m0 4h0m0 7h0m0-6h0m0 2h0m0-2h0m0-4h0m0 2h0m-1-1h0m0 2h0m0 1h0m0 3h0m0-7h0m-1 7h0m0 0h0m0-5h0m-1 0h0m0 7h0m0-6h0m0 5h0m0-5h0m0 7h0m-1-4h0m0 0h0m0-8h0m0 5h0m0-2h0m0-4h0m0 12h0m-1-7h0m0 3h0m0-2h0m0 3h0m-1-10h0m0 13h0m0-6h0m0 7h0m0-5h0m0 0h0m-1 0h0m0 4h0m0-11h0m0 6h0m0-7h0m0 10h0m-1-7h0m0 3h0m0-2h0m0-3h0m0-2h0m-1 13h0m0-3h0m0 1h0m0-5h0m0-1h0m0 0h0m-1-2h0m0 10h0m-1-11h0m0 9h0m0-7h0m0 6h0m-1 4h0m0-10h0m0 5h0m0-7h0m-1-2h0m0 3h0m0 5h0m-1 3h0m0 1h0m0-11h0m-1 2h0m0 11h0m0-9h0m0 5h0m-1-4h0m0-6h0m-1 1h0m0 2h0m0-3h0m0 5h0m-1 10h0m0-11h0m-1 9h0m0-7h0m-1 1h0m-1 4h0m0-11h0m-1 7h0m-1-7h0m-5 11h0m-2 0h0m-1 6h0m12 7h0m2 0h0m2 3h0m0 1h0m1-11h0m1-1h0m1 8h0m1-3h0m0-2h0m0 3h0m1-5h0m1 0h0m1 7h0m1-7h0m2 3h0m0 5h0m0-2h0m1-2h0m0 1h0m0-3h0m1-3h0m1 9h0m2-6h0m0-2h0m1 1h0m0 10h0m0-12h0m1 5h0m0 5h0m0 0h0m1-4h0m0-6h0m1 1h0m0 0h0m0 0h0m0 5h0m1-6h0m1 6h0m0-5h0m2 2h0m1-2h0m0 4h0m0 10h0m2-7h0m0 0h0m1-8h0m2 14h0m0-14h0m1 2h0m1 2h0m2 5h0m2-9h0m2 8h0m0-7h0m2 5h0m0-1h0m2 3h0m0 3h0m2 1h0m0-5h0m2-7h0m15 14h0m0-13h0m1 13h0m0-9h0m5-3h0m7-2h0m0 9h0m7 1h0m3-4h0m0-5h0m3 1h0m3 7h0m1-3h0m2 4h0m1-10h0m9 0h0m1 11h0m3-5h0m0 9h0m5-13h0m0 13h0m1 0h0m7-6h0m1-4h0m5 6h0m7-8h0m4 6h0m10 6h0m1-7h0m13-8h0m1 11h0m7 0h0m5 1h0m5-9h0m4 7h0m0-6h0m2 5h0m3 5h0m1 0h0m11-11h0m0 0h0m5 11h0m8-11h0m1 10h0m3 2h0m3-7h0m1 4h0m6-11h0m3 5h0m1-2h0m1 5h0m0 3h0m1-4h0m11-7h0m0 11h0m1 2h0m0-4h0m1 5h0m2-13h0m0 4h0m2-3h0m1 10h0m1 2h0m0-4h0m1-4h0m1 5h0m0 2h0m0 0h0m1 0h0m0-8h0m0-5h0m1 6h0m1 6h0m0-1h0m0-7h0m0 7h0m1-9h0m0 7h0m1-2h0m0-6h0m0 11h0m0-7h0m1 7h0m0-9h0m1 11h0m0-1h0m0-14h0m0 0h0m0 10h0m0-10h0m0 1h0m1 6h0m1 7h0m0-10h0m0-3h0m0 13h0m1-7h0m0 0h0m0-7h0m0 5h0m0-5h0m1 3h0m0 5h0m0 3h0m0-8h0m1 6h0m0-8h0m0 13h0m0-6h0m0-1h0m1 6h0m0-3h0m0-3h0m0 8h0m0-10h0m0-3h0m0 10h0m0-4h0m0 6h0m0-9h0m0 8h0m1-12h0m0 11h0m0-7h0m0-1h0m0 6h0m0-6h0m1-2h0m0-1h0m0 13h0m0-9h0m0 3h0m0 3h0m1-9h0m0 5h0m0 6h0m0 1h0m0-10h0m0 2h0m0 3h0m1 3h0m0 3h0m0-8h0m0 6h0m0 0h0m1-7h0m0-4h0m0 4h0m0 0h0m0 4h0m0-9h0m1 11h0m0-1h0m0 3h0m0-6h0m0-4h0m0 6h0m0-6h0m0-3h0m0 1h0m1 4h0m0 3h0m0 6h0m0-6h0m0-9h0m1 1h0m0 11h0m0-3h0m0-9h0m0 15h0m0-6h0m0-6h0m1-2h0m0-1h0m0 8h0m1-4h0m0 3h0m0 7h0m0-8h0m1 7h0m0 1h0m0-8h0m0 9h0m0-8h0m1 4h0m0 1h0m0 3h0m0-7h0m1-7h0m0 12h0m0-6h0m0 8h0m0-7h0m0-6h0m0 12h0m0-10h0m0 3h0m1-4h0m0 3h0m0 9h0m0-14h0m0 7h0m0 4h0m0 2h0m0-4h0m0-1h0m1 4h0m0 1h0m0-8h0m0-5h0m0 12h0m0-7h0m0 6h0m0-12h0m1 11h0m0-11h0m0 13h0m0-3h0m0 2h0m0-9h0m0 5h0m0-6h0m0 0h0m0 8h0m1 2h0m0-1h0m0-6h0m0 10h0m0-6h0m0-4h0m0 10h0m1-5h0m0-1h0m0-2h0m0-6h0m0 6h0m0 0h0m1-2h0m0-3h0m0 10h0m0-12h0m0 8h0m0-8h0m1 1h0m0 2h0m0-3h0m1 7h0m0-1h0m0 7h0m0-9h0m0-3h0m0 9h0m0-1h0m0-2h0m0 6h0m1-12h0m0 9h0m0 5h0m0-8h0m0 8h0m0-13h0m0 2h0m0-1h0m0 5h0m0 5h0m0-13h0m1 8h0m0 3h0m0 0h0m0-4h0m0 5h0m0-2h0m0 1h0m0 0h0m0-11h0m0 12h0m0-4h0m0-1h0m0 2h0m1 4h0m0 0h0m0-4h0m0 6h0m0-5h0m0-7h0m0-2h0m0 3h0m1 8h0m0 1h0m0-6h0m0 7h0m0 0h0m0-3h0m0-4h0m0-6h0m0 9h0m0-9h0m0 0h0m1 8h0m0-2h0m0 0h0m0-6h0m0 13h0m0-7h0m1 0h0m0-3h0m0-4h0m0 4h0m0 6h0m0 1h0m1-7h0m0 8h0m0-10h0m0 0h0m0-2h0m0 12h0m1 3h0m0-15h0m0 0h0m0 15h0m0-8h0m0-4h0m1 0h0m0-3h0m0 8h0m0-5h0m0 7h0m0 2h0m0-8h0m0-3h0m0 0h0m0 6h0m1 6h0m0-2h0m0-9h0m0 9h0m0 1h0m0 0h0m1 0h0m0 0h0m0-5h0m0 4h0m0-6h0m0-3h0m0 4h0m0 4h0m1-6h0m0 1h0m1 9h0m0-7h0m0 8h0m0-9h0m0-3h0m1-1h0m0-1h0m0 4h0m0 3h0m0 0h0m0 4h0m0-10h0m0 8h0m1-8h0m0-1h0m0 4h0m0 6h0m0 3h0m0-14h0m0 12h0m0-9h0m1 4h0m0 0h0m0 3h0m0-6h0m0 11h0m1-5h0m0-5h0m0 8h0m0-6h0m0-2h0m0 0h0m0-5h0m1 4h0m0 6h0m0-6h0m0-1h0m1 8h0m0-5h0m0 5h0m0-4h0m0 1h0m0 6h0m1-9h0m0-2h0m0 12h0m0 0h0m0-12h0m0 9h0m0-8h0m0 3h0m0 8h0m1-6h0m0-3h0m0-2h0m0 11h0m0-1h0m0-5h0m0-4h0m0 8h0m0-11h0m0 4h0m1 4h0m0-10h0m0 10h0m0 0h0m0-3h0m0-1h0m1 7h0m0-4h0m0-8h0m0-1h0m0 12h0m0-1h0m0 1h0m1-1h0m0 2h0m0-5h0m0-2h0m0-6h0m1 8h0m0 4h0m0-6h0m0 5h0m0-8h0m0-3h0m0 14h0m0-13h0m0-1h0m1 12h0m0-7h0m0 3h0m0 7h0m0-15h0m1 11h0m0-2h0m0 3h0m0-4h0m1-4h0m0 3h0m0 1h0m0-8h0m1 0h0m0 9h0m1-6h0m0 10h0m0-6h0m2 4h0m0-11h0m1 9h0m0-8h0m0 14h0m1-9h0m0-6h0m1 5h0m0 0h0m1-4h0m0 4h0m1 2h0m0-4h0m1 2h0m0-4h0m1 9h0m1-6h0m-7 21h0m-2-5h0m0 7h0m-1-11h0m0 8h0m-1-1h0m0-3h0m-1 5h0m0-8h0m0 13h0m0 1h0m0-9h0m-1-6h0m0 5h0m-1-4h0m0 7h0m0-3h0m0-1h0m0-3h0m-1-1h0m-1 14h0m0-3h0m-1-2h0m0 2h0m0-2h0m-1-2h0m0 1h0m0-7h0m0 9h0m-1 1h0m0 2h0m0 0h0m0 0h0m0-6h0m-1-1h0m0-4h0m0 11h0m0-4h0m0 0h0m-1 4h0m0-9h0m0 1h0m-1 6h0m0 0h0m0-8h0m0 9h0m-1-4h0m0-5h0m0-3h0m-1 10h0m0-5h0m0 2h0m0-1h0m0-6h0m0 5h0m0 7h0m0-4h0m0-7h0m-1 0h0m0 1h0m0 11h0m0 1h0m0-10h0m0 2h0m0 5h0m0-8h0m0 8h0m-1 2h0m0-11h0m0 13h0m0-4h0m0 4h0m0-1h0m0-3h0m-1 2h0m0 1h0m0-13h0m0 5h0m0 8h0m-1 1h0m0-15h0m0 2h0m0 7h0m0 2h0m-1 0h0m0 0h0m-1-1h0m0-10h0m0 15h0m0-5h0m0 4h0m0-9h0m0 3h0m0 5h0m-1 0h0m0-1h0m0-2h0m0 5h0m-1-3h0m0-7h0m0 6h0m-1 0h0m0-3h0m0 7h0m0-13h0m-1 3h0m0 1h0m0 8h0m0-2h0m-1-7h0m0-5h0m0 6h0m0-3h0m0 7h0m0 0h0m-1-4h0m0 3h0m0-5h0m0-4h0m0 12h0m-1 3h0m0-11h0m0 5h0m-1-8h0m0 4h0m0 2h0m0-4h0m0 7h0m0 3h0m0-2h0m0-10h0m0 8h0m0-7h0m0 3h0m-1 5h0m0-4h0m0-6h0m-1 15h0m0-12h0m0 6h0m0-1h0m0 4h0m0-4h0m0 4h0m0-5h0m-1 0h0m0 5h0m0 0h0m0-8h0m0 4h0m-1 1h0m0-8h0m-1 5h0m0 1h0m0-6h0m-1 8h0m0 1h0m0-5h0m0-3h0m0 7h0m0 3h0m0 2h0m0-8h0m0-2h0m0 11h0m-1-5h0m0 2h0m0-4h0m0-2h0m-1-4h0m0 7h0m-1-5h0m0 0h0m0-2h0m0-2h0m0 11h0m0-3h0m-1 6h0m0-10h0m0-4h0m0 7h0m0 2h0m0 6h0m0-11h0m0-3h0m0 4h0m-1 0h0m0-2h0m0 6h0m0-1h0m0-5h0m0 8h0m0-10h0m-1 0h0m0 1h0m0 8h0m0 3h0m-1 1h0m0-13h0m0 13h0m0-4h0m0-4h0m0 8h0m-1-3h0m0-7h0m0-2h0m0 2h0m0 5h0m0 5h0m0-6h0m0-2h0m-1 5h0m0-7h0m0-2h0m0 13h0m-1-14h0m0 12h0m0-1h0m-1 3h0m0-13h0m0 11h0m0-7h0m0-5h0m0-1h0m0 5h0m-1 2h0m0 7h0m0-9h0m0 10h0m0-1h0m0-13h0m0 0h0m-1 1h0m0 2h0m0 6h0m0 2h0m0-10h0m0 0h0m-1 4h0m0-5h0m0 6h0m0-5h0m0 2h0m0-4h0m0 2h0m0 13h0m-1-14h0m-1 1h0m0 4h0m0-2h0m-1 6h0m0-10h0m0 5h0m-1-3h0m0 9h0m0-6h0m0 4h0m0-3h0m0-4h0m-1 12h0m0-12h0m0 7h0m0-1h0m0-1h0m-1 6h0m0-7h0m-1-6h0m0 3h0m0 1h0m0 2h0m0 6h0m0-10h0m0 8h0m0-1h0m0 5h0m0 1h0m-1-7h0m0-6h0m-1 3h0m0 2h0m0 0h0m0-7h0m0 14h0m-1-10h0m0 11h0m-1-13h0m0 13h0m0-6h0m-1-5h0m0-3h0m0 6h0m-3 8h0m-3-15h0m0 13h0m0-3h0m-1-4h0m-1-5h0m-2-1h0m0 15h0m-2-4h0m0-8h0m-2 10h0m0-6h0m-3-4h0m-1 12h0m0-11h0m-1 11h0m-2-1h0m-2-12h0m0 9h0m-2-2h0m-1 1h0m0-3h0m-1 5h0m0 3h0m0 0h0m-2-10h0m-3 2h0m0 3h0m0 4h0m0 1h0m-1-6h0m0-9h0m0 5h0m-1-3h0m0 9h0m0 2h0m-1-3h0m-3 3h0m0-9h0m-1-1h0m0 9h0m-1-12h0m-1 4h0m-1 11h0m-1 0h0m0-8h0m-4-5h0m-2 10h0m-2-9h0m-1 1h0m-1 3h0m-1-5h0m0 13h0m-1-2h0m-2 2h0m-1-4h0m-2 1h0m-3-11h0m-2 9h0m-2 5h0m-3-4h0m-3-4h0m-1 2h0m-2 3h0m-2-10h0m-1 9h0m0 0h0m-6-9h0m-2 3h0m-2 7h0m0 0h0m-4-8h0m0-2h0m-1 9h0m0-10h0m-9 2h0m0 10h0m0-1h0m-2 0h0m-7 0h0m-3-11h0m-2 5h0m-4 6h0m-4-10h0m0 5h0m-1-6h0m-9 7h0m-7-3h0m-1-5h0m0 7h0m-1 4h0m-2-9h0m-1 3h0m-3-1h0m-6 7h0m-1 4h0m-5-8h0m-3-6h0m-6 12h0m-1-7h0m0 4h0m-3-3h0m-7-7h0m-10 15h0m-9-15h0m0 7h0m-9-5h0m-15-1h0m-4 3h0m-3-4h0m-6 3h0m-22 1h0m106 13h0m23 1h0m10-1h0m17 9h0m2-7h0m1-2h0m7 7h0m1-5h0m0 2h0m8 3h0m4-4h0m2-2h0m2-1h0m2 14h0m0-5h0m1-9h0m2 14h0m1-15h0m7 9h0m2 5h0m1-13h0m0 6h0m1 3h0m1 1h0m2 0h0m2 1h0m3-8h0m0 4h0m1 0h0m1 7h0m0-12h0m1 2h0m0-4h0m0 7h0m0-1h0m0 6h0m1-5h0m1-6h0m0 6h0m0-1h0m1 1h0m1 3h0m1-9h0m0 12h0m1-6h0m0 7h0m0-12h0m3 9h0m1-10h0m0 4h0m1 1h0m1-2h0m0 10h0m0-9h0m1 3h0m0 3h0m2 3h0m1-2h0m0-1h0m0 2h0m0-2h0m0-5h0m5 3h0m0-5h0m2 1h0m0 1h0m1 2h0m1-1h0m0-5h0m0 8h0m0-6h0m3-1h0m0 9h0m0-5h0m3 2h0m0-2h0m1-4h0m1 10h0m0 1h0m1-5h0m0 1h0m1-7h0m0 9h0m1 1h0m0-2h0m0-6h0m1 2h0m0 5h0m0-8h0m2 0h0m0 6h0m1 1h0m0-3h0m1 5h0m0-11h0m0 12h0m2 0h0m1-14h0m1 11h0m1-4h0m0-8h0m1 15h0m0-7h0m0 2h0m1-10h0m1 10h0m0 3h0m2-6h0m1-7h0m0 13h0m0-11h0m1 9h0m2-3h0m1 0h0m0-4h0m2-4h0m0 1h0m0 8h0m0-8h0m0 6h0m1 7h0m0-9h0m1 0h0m0 2h0m0-2h0m1 0h0m0 1h0m0-4h0m0 0h0m1-2h0m0 9h0m0-1h0m1-5h0m0-2h0m0 8h0m0-9h0m0 4h0m1 8h0m1 3h0m0 0h0m1-13h0m0 6h0m0 5h0m0 1h0m1-10h0m0 7h0m0-10h0m0 10h0m0 4h0m1-11h0m0 11h0m0-11h0m1-2h0m0 2h0m0-2h0m0 2h0m0 9h0m1-13h0m1 9h0m0 6h0m1-10h0m0-3h0m0-1h0m1 0h0m1 2h0m0 8h0m0-4h0m0 1h0m0 2h0m0-3h0m0-7h0m1 8h0m0-6h0m0 1h0m0-2h0m0 12h0m0-9h0m1 7h0m0-6h0m0-5h0m0 4h0m1-4h0m0 13h0m0-5h0m0-7h0m1 3h0m0 0h0m0-2h0m0 7h0m0 4h0m0-13h0m0 0h0m1 7h0m0-2h0m0 8h0m0-4h0m0-3h0m0 3h0m0-9h0m0 4h0m0 0h0m0 4h0m1-3h0m0 9h0m0-7h0m0-2h0m0-4h0m0 0h0m1 10h0m0-9h0m0 4h0m0-4h0m0 6h0m0 0h0m1-8h0m0 12h0m0-1h0m1-11h0m0 0h0m0 4h0m1 4h0m0-1h0m1-5h0m1 5h0m0-1h0m1 6h0m0-6h0m0-6h0m1 1h0m0 5h0m1 1h0m0 5h0m0-2h0m0-10h0m0 12h0m0-7h0m0 9h0m0 0h0m1-1h0m0-3h0m0 5h0m0-11h0m0-3h0m0 10h0m1-9h0m0 11h0m0-9h0m1 2h0m0-5h0m0 1h0m0 1h0m1 6h0m1-3h0m1-4h0m0 9h0m0-3h0m1-2h0m0-6h0m0 8h0m0-7h0m0 12h0m0-8h0m1 2h0m0-4h0m1 3h0m0 0h0m0-5h0m0 4h0m1-3h0m0 3h0m1 0h0m0-1h0m1 7h0m1-6h0m1-1h0m0 2h0m0-2h0m1 8h0m1-9h0m0-2h0m1 4h0m1-1h0m0 4h0m1-6h0m2 1h0m5 3h0m-6 17h0m-3 4h0m-11-10h0m-3 7h0m-1-8h0m-1 4h0m0 1h0m-1-5h0m-2 5h0m0-2h0m-7-2h0m-2 0h0m0 7h0m-1 5h0m-1-11h0m0 2h0m-1-3h0m-2 0h0m0 9h0m-3-6h0m-2-3h0m0 0h0m-1 0h0m-2 1h0m0-2h0m-1 1h0m-3 2h0m-2 2h0m-1-5h0m-4 11h0m0-8h0m-3 0h0m0-2h0m-3 3h0m-1 6h0m-1-7h0m0 6h0m-3-9h0m0 5h0m-1 4h0m0-6h0m0 6h0m-1-9h0m0 2h0m0 2h0m0-1h0m-1 1h0m0 6h0m0-5h0m0 2h0m-1 6h0m-1-4h0m0-2h0m-1 3h0m0-8h0m-1 1h0m0 9h0m-1 3h0m-1-12h0m-1 12h0m-2-11h0m0 2h0m0 1h0m-1 6h0m0-6h0m-1 4h0m-1-2h0m0-4h0m0-3h0m-1 3h0m-3 0h0m0 4h0m-1-9h0m0 6h0m-2 1h0m-1 7h0m0-13h0m0 3h0m-1 11h0m0-2h0m-1-6h0m0 2h0m0-4h0m-2 2h0m0 2h0m0 1h0m0 1h0m0-1h0m-1 1h0m-1 2h0m-1-1h0m-1 0h0m0 0h0m-1-1h0m-1 1h0m0-9h0m0 10h0m-1-13h0m-1 4h0m0 8h0m0-7h0m0-1h0m-1 4h0m0-5h0m0 6h0m-2 4h0m0-12h0m-1-1h0m0 2h0m-1 5h0m-1-6h0m0 10h0m0-11h0m-1 2h0m0 6h0m-1 7h0m0-2h0m-2-7h0m-1-1h0m-1-2h0m-1 7h0m-1-1h0m-1-2h0m-1 6h0m-1-6h0m0-1h0m-3 0h0m-4 6h0m0 3h0m-3-11h0m-5 6h0m-2 4h0m-2-13h0m-3 0h0m0 9h0m0-1h0m-2 3h0m0-1h0m-1-8h0m-12 12h0m-3-8h0m-6-6h0m-1 13h0m-2-3h0m-13-5h0m-9-3h0m23 18h0m1 4h0m8 4h0m2-13h0m1 3h0m3 9h0m1-12h0m1 1h0m6 10h0m0-8h0m1-1h0m0 3h0m2-3h0m4-1h0m0 0h0m4 10h0m2 2h0m1-7h0m1 1h0m3 4h0m0-11h0m1 15h0m2-11h0m5 4h0m5 7h0m0-13h0m0-2h0m1 12h0m2 1h0m0-8h0m2-3h0m0 1h0m1 2h0m0-4h0m1 8h0m0-6h0m1 2h0m1 6h0m0-5h0m1-2h0m1-1h0m0 3h0m1 2h0m0-1h0m0-3h0m2 9h0m1 2h0m1-3h0m1-7h0m0-3h0m1 2h0m1 8h0m1-12h0m1 10h0m0-7h0m0 2h0m1-3h0m0 3h0m3 10h0m1-1h0m0-10h0m2 5h0m0 5h0m0-10h0m2 7h0m0-8h0m0 11h0m1 0h0m0-1h0m1 2h0m1-7h0m1 1h0m0 3h0m0 0h0m0-6h0m2 6h0m0 2h0m1-6h0m0 3h0m0-2h0m2 4h0m1-5h0m0-5h0m0-3h0m0 4h0m1 1h0m1 1h0m0 2h0m1-3h0m0 5h0m0-5h0m1-5h0m0 8h0m1-7h0m1 6h0m2 0h0m1-6h0m1 1h0m3 9h0m4-4h0m2 7h0m1 0h0m2-4h0m1-10h0m1 6h0m13 9h0m5-8h0m-1 21h0m-23-9h0m-1 9h0m-2-11h0m-7 9h0m-1-8h0m-1 4h0m-1 0h0m-1-5h0m-1 4h0m-1 3h0m-3 4h0m-2-11h0m0 13h0m0 0h0m-1-7h0m-1 1h0m0 2h0m0-8h0m-1 13h0m-1-6h0m0-3h0m-1 3h0m0-7h0m-1-2h0m0 10h0m0-3h0m-2 3h0m-1 0h0m-1-3h0m0-4h0m0 0h0m-1 9h0m0-7h0m0-4h0m-1 6h0m-2 5h0m0 1h0m-1-9h0m0-3h0m0 11h0m0-8h0m-2 5h0m-1 2h0m-1-6h0m0 8h0m-1-5h0m-2 5h0m0 1h0m-4 0h0m-1 0h0m-1-6h0m0-6h0m-3 0h0m-2 0h0m-1 2h0m0-4h0m-1 1h0m-2 3h0m-1-2h0m-3-1h0m-3 1h0m-2 5h0m-2 6h0m-1-6h0m0 8h0m0-10h0m-5 2h0m0 5h0m-1-1h0m0-9h0m-1 10h0m0-4h0m-1 1h0m-1-1h0m0-1h0m-2 4h0m-3-5h0m-14 5h0m0-2h0m-24-5h0m1 18h0m7 8h0m8-12h0m6 6h0m7-7h0m3 0h0m0 4h0m1-2h0m3 9h0m2-4h0m0 5h0m1-1h0m4 1h0m1-11h0m1 0h0m1 1h0m4 3h0m3-1h0m2-4h0m1 8h0m0-7h0m3 6h0m1 5h0m5-4h0m2 3h0m1 2h0m3-1h0m1-7h0m2 9h0m0-9h0m0 2h0m1-7h0m0 9h0m1 3h0m0-1h0m1-7h0m1-4h0m0 7h0m1 5h0m0-5h0m1-6h0m1 0h0m2 8h0m0-4h0m0 8h0m1-8h0m1 8h0m0-4h0m0-7h0m0-2h0m1 6h0m0-3h0m1 6h0m0-1h0m0-2h0m1-2h0m0 5h0m1 5h0m0-1h0m0-5h0m0-3h0m1 8h0m0 0h0m1-6h0m0 2h0m0 5h0m0-11h0m0 8h0m1-4h0m0 2h0m0 2h0m0-2h0m0-10h0m1 2h0m1 4h0m1 9h0m0-12h0m1 4h0m0 3h0m0-10h0m0 15h0m1-10h0m0 8h0m0 2h0m0 0h0m0-5h0m1-1h0m0-5h0m0 1h0m1 0h0m1-1h0m0-4h0m0 5h0m0 7h0m1 1h0m0-8h0m0 1h0m0 2h0m0 0h0m0-4h0m1 7h0m0-11h0m1 8h0m0-3h0m0-4h0m0 6h0m0-2h0m1 6h0m1-7h0m0 5h0m1 5h0m2 1h0m0-3h0m1-11h0m0 4h0m0-1h0m3-3h0m3 5h0m5 1h0m1-5h0m5 9h0m-10 13h0m0 6h0m-2-9h0m0-1h0m-3 3h0m-2-6h0m-1 6h0m0 7h0m-2-13h0m-1 6h0m0 1h0m0-4h0m0 3h0m-2-5h0m0 6h0m0 6h0m0-5h0m0-1h0m0-4h0m0-4h0m0 2h0m0 3h0m-1-3h0m0 5h0m0 3h0m-1-7h0m0 3h0m0 7h0m0-10h0m0-3h0m-1 7h0m0-3h0m0 1h0m0 10h0m0-10h0m0-2h0m0 2h0m0 2h0m-2-5h0m0-1h0m0 8h0m0-6h0m-1 12h0m0-9h0m0-5h0m0 9h0m0-6h0m0 3h0m-1 4h0m0 0h0m0-2h0m0 5h0m0-6h0m0-1h0m0 2h0m0-7h0m-1 5h0m0-4h0m0 7h0m0-5h0m0 0h0m-1 1h0m0 9h0m0-13h0m0 8h0m-1-3h0m0-3h0m0 10h0m0 0h0m-1-8h0m0 7h0m-1-7h0m0 9h0m0-13h0m0 11h0m-1 1h0m0 1h0m0-5h0m0-8h0m0-2h0m0 1h0m0 4h0m0 2h0m0-7h0m-1 0h0m0 7h0m-1-4h0m0 5h0m-1 4h0m0-10h0m0 2h0m0 1h0m-1 1h0m0-5h0m0 8h0m0 2h0m0 0h0m-1-2h0m0 3h0m0 1h0m0-7h0m-1-6h0m0 4h0m0 1h0m-1 3h0m0 4h0m-1-5h0m0-1h0m0-4h0m0 11h0m0-7h0m-1-2h0m0 1h0m0 10h0m-1-2h0m-1-13h0m-1 2h0m-1 5h0m0 0h0m-1 1h0m-1-1h0m-2 3h0m-1 3h0m-1-5h0m0-5h0m0 1h0m-1 11h0m0-6h0m-1-3h0m-1-5h0m-1 6h0m0-2h0m-1 1h0m-3-4h0m0 12h0m0-11h0m-3 12h0m-1-12h0m-1 5h0m-1 3h0m-1-3h0m-4 3h0m-3-8h0m-1-2h0m0 4h0m0 4h0m-2 2h0m-2-4h0m0 1h0m-1-6h0m0-2h0m-3 4h0m0 6h0m-6-6h0m-1-4h0m-4 7h0m-4 5h0m-4-1h0m-3-3h0m-4 1h0m-1 5h0m8 7h0m2 3h0m1 6h0m1 0h0m11 1h0m8-11h0m3-4h0m2 3h0m1-2h0m1 7h0m0-3h0m1 5h0m5-10h0m1 9h0m1-7h0m0 7h0m2 0h0m1-6h0m0-2h0m2 13h0m1-8h0m0 8h0m1-7h0m0 6h0m1-2h0m2-7h0m0 6h0m1-2h0m1 4h0m1-12h0m1 4h0m0 8h0m2-4h0m1-5h0m1 1h0m2 1h0m0-5h0m0 8h0m0-5h0m1 0h0m1-3h0m0 5h0m0 8h0m2-2h0m0 0h0m1-5h0m0 6h0m0-12h0m1 5h0m0 5h0m1-10h0m0 13h0m0-13h0m1 9h0m0 0h0m0 3h0m0-3h0m0 4h0m1-6h0m0-4h0m0 0h0m0 8h0m1 2h0m0-10h0m1 9h0m0-11h0m0 3h0m0 4h0m0-8h0m1 13h0m1-2h0m0-10h0m0 14h0m0-9h0m0-4h0m0 10h0m0-1h0m0 3h0m1 0h0m0-2h0m0-10h0m1 13h0m1-4h0m0-7h0m0 2h0m0 4h0m1 1h0m0-3h0m0 4h0m1-3h0m0 6h0m1-12h0m0 0h0m0 8h0m0-10h0m0 11h0m0-3h0m0 4h0m0-13h0m0 6h0m1-2h0m0 7h0m0 2h0m0-5h0m0-6h0m1 13h0m0-13h0m0-2h0m1 6h0m0-2h0m0-1h0m0 6h0m0-5h0m1-1h0m0-2h0m0 7h0m0-3h0m0-1h0m0 4h0m0 5h0m1-3h0m0 2h0m0-7h0m0 4h0m1-9h0m0 14h0m0-5h0m0 6h0m0-1h0m0-14h0m1 14h0m0-9h0m1 10h0m0-5h0m1-1h0m0 1h0m3-10h0m0 0h0m1 2h0m0 3h0m2-4h0m0 10h0m0 0h0m1 0h0m11-8h0m5 10h0m-13 12h0m-1-2h0m-1-7h0m-1 1h0m-4-1h0m0 12h0m-1-4h0m0-5h0m-1 6h0m0-7h0m-1 2h0m0 2h0m-1 2h0m0 5h0m-1 0h0m0-7h0m0-5h0m-1 2h0m0 1h0m0 0h0m-1 10h0m0-2h0m0 0h0m-1 0h0m0 1h0m-1-13h0m0 8h0m0-5h0m0-3h0m0 15h0m-1-13h0m-1-1h0m-1 11h0m0-9h0m0-3h0m-2 1h0m0 4h0m-1 3h0m0-2h0m0 0h0m0-3h0m-1 3h0m0 7h0m0-10h0m0 0h0m-1 11h0m0-9h0m0 9h0m-1-1h0m0-9h0m0-3h0m0 6h0m0 2h0m0-9h0m0 9h0m-1 1h0m0-7h0m-1 12h0m0-12h0m-1-3h0m0 6h0m0 9h0m0-12h0m-1 0h0m-1 0h0m0-2h0m0 4h0m-1 2h0m0-4h0m0-2h0m0 4h0m0 2h0m0 2h0m-1 3h0m0 3h0m-3-7h0m0 6h0m-2-2h0m0 1h0m-1-4h0m-1 2h0m0-10h0m-1 0h0m-1 1h0m-1 12h0m0-14h0m0 13h0m-1 0h0m0 2h0m-1-12h0m0 8h0m-1 4h0m0-7h0m-1-5h0m-1 5h0m-2-1h0m0 8h0m0-15h0m-1 6h0m-5 7h0m0 0h0m-1-5h0m0 7h0m-3-14h0m-1 4h0m0 10h0m-3-11h0m-1 11h0m-1-11h0m-2-2h0m0 7h0m-1 2h0m-2-8h0m-1 1h0m-1 7h0m0-5h0m-2 2h0m-3 2h0m-1-4h0m-3-2h0m-2 11h0m-10-12h0m-2 2h0m-25 4h0m15 18h0m8-10h0m5 8h0m2-8h0m0 0h0m3 10h0m1-1h0m2-8h0m4 10h0m0 1h0m0-2h0m2-7h0m0 9h0m3-9h0m2-3h0m1 6h0m0 7h0m4-2h0m2-12h0m1 5h0m0 3h0m2-6h0m2 0h0m0 6h0m3-2h0m1 1h0m1 2h0m0-5h0m0 5h0m1 2h0m1-8h0m3 3h0m0-5h0m0 12h0m1-6h0m0 5h0m1 1h0m4-11h0m7 10h0m5-7h0m0 7h0m2-7h0m0 0h0m1 7h0m0-10h0m0 12h0m1-8h0m0-4h0m1 5h0m0-2h0m1 2h0m0-6h0m0 13h0m1-1h0m0-7h0m1 2h0m0 6h0m0-1h0m1-6h0m0-7h0m0 13h0m0-8h0m0 9h0m1-12h0m2 12h0m0-13h0m0 0h0m1 13h0m0-6h0m1 0h0m0 4h0m2-5h0m1 4h0m0-8h0m1 3h0m0 3h0m0 6h0m0-3h0m4-3h0m0 5h0m0-14h0m2 11h0m1 1h0m1-4h0m2 7h0m3-10h0m3 8h0m33-4h0m-17 21h0m-1-3h0m-2-1h0m-5 2h0m-3-2h0m-2-10h0m-1 9h0m0 0h0m-1 0h0m-1-9h0m0 13h0m-3-1h0m-1-1h0m-2-1h0m-1-4h0m0 2h0m-2-8h0m0 7h0m-1 5h0m-1 2h0m0-5h0m-1-7h0m-1 2h0m0 8h0m-2-6h0m-2 5h0m0-3h0m0-2h0m-1 6h0m-1-10h0m-1 4h0m-2 9h0m-1-3h0m0-7h0m0 2h0m0 6h0m-1-11h0m-1 11h0m-1-11h0m0 2h0m-1 6h0m-1 1h0m0-6h0m0-3h0m-2 6h0m-1 2h0m0-9h0m-1 0h0m-4 2h0m-2 11h0m-3-12h0m-4 5h0m0 6h0m-2-10h0m0-1h0m-4 4h0m-1 6h0m-2-5h0m-2 3h0m-1-10h0m-2 12h0m-3-7h0m0-4h0m0 8h0m-1 4h0m0 1h0m-2-12h0m0 4h0m-2-4h0m-1-2h0m-2 10h0m0 0h0m-1-10h0m0 1h0m-1 0h0m-1 9h0m0 0h0m0 5h0m-1-4h0m-4 0h0m-2-1h0m0-2h0m0-1h0m0-6h0m-1 7h0m-1 1h0m-1-3h0m0 7h0m0-4h0m-2 2h0m-3 2h0m-2 1h0m-2-5h0m-1-1h0m-1 5h0m0-8h0m-1 8h0m0-12h0m-2 5h0m-2 6h0m-2 1h0m-4-10h0m0 2h0m-17 6h0m2 12h0m18-1h0m2 7h0m3 0h0m1-12h0m1 3h0m0-1h0m4 1h0m5 10h0m2 1h0m2-15h0m0 10h0m0-8h0m1-1h0m0 14h0m1-2h0m0-4h0m1-7h0m1 4h0m1-3h0m0 5h0m2-2h0m1 2h0m0-3h0m3 3h0m4-1h0m0-4h0m1 11h0m1 1h0m1-10h0m1 8h0m2-7h0m1-4h0m2-2h0m2 9h0m5-5h0m3 9h0m3 0h0m0-10h0m5 7h0m1 1h0m3-5h0m1 5h0m1 4h0m1 0h0m0 0h0m1-2h0m1-5h0m2 6h0m0-3h0m0-10h0m3 9h0m1-1h0m1-8h0m0 10h0m1 0h0m0-2h0m0 2h0m1 0h0m0 4h0m0-15h0m1 7h0m0 3h0m0 5h0m1-13h0m1 6h0m1-8h0m1 13h0m1-13h0m1 1h0m0 4h0m0 1h0m1 4h0m0-4h0m1-1h0m0 5h0m1 3h0m1-2h0m0-9h0m0 6h0m0 6h0m1-2h0m0-2h0m1 3h0m0-7h0m0-2h0m1 9h0m0 2h0m1-2h0m0-12h0m0 6h0m1 0h0m1 4h0m0 0h0m0 4h0m0-1h0m0 0h0m1-9h0m0 1h0m0 1h0m1 8h0m1-11h0m0 7h0m0 0h0m0-9h0m0 6h0m1-5h0m0 4h0m0 5h0m0-9h0m1 8h0m0-9h0m0 4h0m1-2h0m0 8h0m1-7h0m0 3h0m1 1h0m0 3h0m2-4h0m2 5h0m0 2h0m1-13h0m0 8h0m3-1h0m0 6h0m0-12h0m1 3h0m1 1h0m2 2h0m1-3h0m0 9h0m2-6h0m1 2h0m4-11h0m0 0h0m5 14h0m7-7h0m-10 16h0m-2-1h0m-1 9h0m0-12h0m0 7h0m-2 2h0m-1-12h0m-1 9h0m-1-9h0m-2 4h0m0 8h0m-2-4h0m0-5h0m0 0h0m0 1h0m-2 5h0m-1 6h0m0-8h0m-1 5h0m0 2h0m0-11h0m0 9h0m-1-2h0m0 5h0m0-5h0m-1-7h0m0 4h0m-1 0h0m0 4h0m-1-3h0m0-7h0m0 7h0m-1-3h0m0 6h0m0-3h0m-1 2h0m-1 2h0m0 3h0m-1-13h0m0 5h0m-1-1h0m0 1h0m0-2h0m0 9h0m-1-1h0m-1-1h0m0 2h0m0-10h0m-1 0h0m0 11h0m0-10h0m0 3h0m-1 1h0m0-7h0m0 4h0m-1 9h0m-1-14h0m0 2h0m0 1h0m0 8h0m0-4h0m0 1h0m-1-2h0m0-2h0m0 2h0m-1 5h0m0-6h0m0 0h0m0 5h0m-1-6h0m0-2h0m0 11h0m-1-11h0m0 0h0m0-3h0m0 14h0m0-11h0m-1 1h0m0 4h0m0-2h0m0-4h0m-1 10h0m0 3h0m-1-13h0m0 5h0m0 8h0m0-13h0m0 6h0m0-3h0m0-4h0m-1 12h0m0-1h0m0-3h0m0 6h0m0-2h0m-1-12h0m0 1h0m0 0h0m-1 6h0m0 0h0m0-5h0m-1 7h0m0 3h0m0 1h0m0-5h0m0-3h0m-1 8h0m0-13h0m0 10h0m0 4h0m0-12h0m-1 5h0m0 7h0m-1-5h0m0 2h0m0-7h0m-1 1h0m0-5h0m0-1h0m-1 3h0m0-3h0m-1 15h0m-1-15h0m0 0h0m0 7h0m-1-1h0m-1 8h0m0-1h0m-1-5h0m-3 2h0m-2 3h0m-2-9h0m-2 1h0m0-5h0m-1 0h0m-3 6h0m-1 9h0m-7-8h0m-2-5h0m-7 2h0m-1 2h0m-1 3h0m-6-2h0m-1 5h0m-2-8h0m-5-3h0m-2-1h0m-3 2h0m0 4h0m-2-4h0m0 13h0m-1-13h0m0-1h0m0 1h0m-5-2h0m-2 10h0m-4-1h0m-8 0h0m-4-6h0m18 21h0m2-7h0m18 8h0m8-7h0m12-1h0m10 2h0m1 7h0m1 2h0m1-5h0m4-3h0m1 7h0m5-11h0m1 3h0m1-3h0m0 8h0m1-6h0m0 10h0m1-8h0m0-1h0m1 9h0m1-1h0m0-6h0m1-3h0m1 12h0m0-7h0m1-7h0m1 12h0m0-10h0m1 4h0m1-5h0m0 4h0m1-5h0m1 5h0m0-3h0m0 1h0m2 2h0m0 7h0m1-6h0m0 2h0m1-1h0m1 6h0m0-10h0m0-2h0m1 0h0m0 0h0m0 0h0m1 11h0m1-1h0m1-6h0m0 9h0m0-3h0m1-5h0m1-4h0m1 2h0m0-4h0m1 3h0m0-2h0m0 0h0m1 4h0m1 0h0m0 5h0m1-9h0m0 6h0m1 6h0m0-8h0m1 0h0m0 2h0m2-4h0m2 4h0m1 0h0m2-1h0m0-1h0m1-4h0m0-1h0m1 5h0m4 26h0m-11-14h0m-7 11h0m-1-3h0m-7-6h0m-4 0h0m-5 5h0m-2-1h0m-1-4h0m-3-2h0m-34 2h0m-13 3h0m67 19h0m-55 9h0" stroke="#0000ff" stroke-width="4.6"/></g><g><path class="d" transform="scale(.5)" d="M114 1024h0" stroke="#808080" stroke-width="10.8" stroke-opacity="0.5"/></g><g><path class="d" transform="scale(.5)" d="M114 1058h0" stroke="#0000ff" stroke-width="4.0"/></g><text x="68.5" y="515.5" text-anchor="start" >MSA</text><text x="68.5" y="533.0" text-anchor="start" >RBM</text><g clip-path="url(#cD)"><path class="d" transform="scale(.5)" d="M851 746h0m22 19h0m-1-6h0m-1-7h0m-1 8h0m-1 1h0m-8 0h0m0-6h0m0 2h0m-1 4h0m-4 3h0m-5-7h0m-1 10h0m-128-12h0m-32 11h0m-128 1h0m2 11h0m7 5h0m8-2h0m1-5h0m2 6h0m2-1h0m3 1h0m1-4h0m6-1h0m4-4h0m5 1h0m0-6h0m5 8h0m48-2h0m28-1h0m35-1h0m5 10h0m1-10h0m7 6h0m54 4h0m44-1h0m2-1h0m0 2h0m2-11h0m4 12h0m0-10h0m1-5h0m2 3h0m0 9h0m1-9h0m1 6h0m2-4h0m0-2h0m4 10h0m1-12h0m0 13h0m3-9h0m2 7h0m1-2h0m1-7h0m0 9h0m2-1h0m2-4h0m1 3h0m1-4h0m1 2h0m1 5h0m1-5h0m0-8h0m2 9h0m2 4h0m2 0h0m2-7h0m0 9h0m4-14h0m4 12h0m5 3h0m-3 3h0m-3 3h0m-4 0h0m0-1h0m-1 6h0m0-3h0m-1 0h0m0-1h0m-1 0h0m-1-4h0m-1 11h0m0-2h0m0-3h0m0 3h0m-4 1h0m-2-10h0m-4 3h0m0-6h0m-2 15h0m0-9h0m-1 6h0m0-1h0m-1-8h0m-1-2h0m-2 5h0m0-2h0m-1 2h0m-2-4h0m0 7h0m-1-7h0m0-1h0m-1 11h0m-1-8h0m-2 8h0m-1-10h0m-1 5h0m-2 7h0m-2 1h0m-1-10h0m-4 4h0m-2 3h0m-2-12h0m-1 10h0m-1-5h0m-1 6h0m-3 0h0m-2-9h0m-11-1h0m-10 3h0m-15 9h0m-11-4h0m0-4h0m-1 6h0m-85 0h0m-10-10h0m-2 1h0m-3 4h0m-18-2h0m-1 11h0m-7-7h0m-43 2h0m-4-4h0m-3 5h0m-1 0h0m-2-1h0m0 1h0m-2-9h0m-1 3h0m-1 8h0m-3-2h0m0-8h0m-3-3h0m-1 3h0m-4 1h0m0-2h0m0 12h0m-2 1h0m-5-3h0m-2-2h0m-1 0h0m-2 2h0m-3-3h0m-3 6h0m-1-1h0m14 8h0m3-6h0m47 2h0m1 8h0m1-2h0m18 6h0m0-6h0m19 7h0m3-13h0m4 12h0m94 1h0m18 0h0m6-2h0m17-9h0m7 4h0m6 6h0m1-2h0m5 1h0m2-2h0m0-4h0m1 4h0m1 2h0m0-9h0m3-2h0m1-1h0m0 8h0m1 0h0m0 6h0m2-15h0m0 9h0m1-1h0m0-7h0m1 14h0m1-7h0m2-3h0m0 8h0m1-11h0m1 12h0m1 0h0m0-2h0m0-11h0m1 14h0m2-7h0m1-3h0m1 8h0m1-11h0m0 13h0m1-10h0m1-1h0m1 7h0m1 3h0m1-10h0m0-1h0m2 7h0m1-5h0m0 4h0m0 4h0m0-12h0m0 9h0m3 3h0m2 1h0m2-12h0m0 4h0m1 8h0m2-12h0m0 7h0m1-5h0m1-3h0m2 4h0m1-3h0m1 8h0m5 0h0m0-7h0m2 12h0m1 0h0m0-11h0m1 7h0m2-11h0m2 14h0m0 16h0m-4-6h0m-1 1h0m0-9h0m-1 7h0m-2 8h0m-3 0h0m-1-4h0m0-4h0m0 0h0m-2 4h0m-2-5h0m-1 2h0m0 3h0m-1-5h0m-1 7h0m-1 2h0m-3-13h0m-1-2h0m-1 12h0m-2-6h0m0-2h0m-2 10h0m0-4h0m-2-2h0m0-3h0m-1-2h0m-1-2h0m-1-1h0m-1 1h0m-3 3h0m0 7h0m-1-5h0m0 7h0m-1-8h0m-1 7h0m0 3h0m0-12h0m-2 9h0m-2-7h0m-3 8h0m0-6h0m-1 3h0m-1 4h0m0-9h0m0 9h0m-1-6h0m0-5h0m-1 10h0m0-9h0m0 6h0m-1 5h0m0-3h0m0 0h0m-2-10h0m0 6h0m0 0h0m0 0h0m0 7h0m-1-6h0m-1 3h0m-1-1h0m0-5h0m-1-1h0m0 4h0m-2-6h0m-1 2h0m0 5h0m-1-9h0m0-1h0m-1 1h0m-3 2h0m-2 5h0m-2-1h0m-1-6h0m-2-1h0m-4 15h0m-2-12h0m-1 11h0m0-13h0m0 8h0m-1-7h0m0 9h0m0 0h0m-2-5h0m0 8h0m-1 1h0m-1-10h0m-1-2h0m-1-1h0m0 12h0m0-8h0m-9 8h0m0-6h0m-2 1h0m-3-5h0m-3 9h0m-2-12h0m-1 9h0m-7 1h0m-10 4h0m-5-6h0m-3 0h0m0-1h0m-39 1h0m-51 6h0m-26-5h0m-12-5h0m-26 8h0m59 5h0m7-2h0m7 5h0m18 0h0m1-1h0m4-1h0m13 4h0m12 3h0m5-2h0m0 4h0m8-7h0m9-2h0m3 3h0m6 6h0m3-10h0m3 5h0m6 7h0m1-2h0m0 2h0m2-14h0m1 14h0m1-3h0m2-5h0m6 2h0m2-6h0m0 8h0m1 5h0m1-9h0m1 4h0m2-3h0m6-6h0m2 13h0m1-11h0m1 3h0m2 5h0m1-2h0m1 1h0m0 0h0m0-1h0m0-7h0m1 3h0m0-1h0m1 5h0m0-2h0m2-4h0m2 1h0m2 11h0m1-4h0m0 1h0m1 0h0m0-3h0m0-3h0m0 6h0m1 2h0m1-11h0m1 4h0m1-3h0m1 8h0m1-10h0m1 2h0m1 6h0m0 1h0m1-11h0m0 10h0m0 5h0m1-2h0m0-6h0m0-6h0m0 7h0m1-6h0m0 12h0m1-3h0m0-9h0m6 13h0m1-7h0m0 7h0m1-10h0m2-2h0m3 5h0m1 5h0m2-6h0m0 2h0m1 4h0m0 0h0m1-3h0m3 1h0m1 0h0m0 2h0m3-6h0m0-5h0m0 10h0m2-7h0m0 7h0m0-2h0m1-10h0m1 1h0m0 14h0m0-2h0m4-13h0m6 6h0m0-5h0m1 4h0m1-3h0m1-2h0m0 5h0m1 3h0m1 3h0m0-2h0m3-9h0m1 14h0m0-14h0m1 2h0m1 9h0m5-3h0m6 4h0m1-4h0m0 3h0m4-11h0m-8 24h0m-1-4h0m-8 0h0m0 2h0m-2 9h0m-1-8h0m-3-1h0m0-5h0m-2 7h0m0-1h0m-5-4h0m-1 10h0m-1-9h0m-1 11h0m0-7h0m-1 2h0m-5 3h0m-2-7h0m0 3h0m0 6h0m-1-13h0m-1 8h0m-1-10h0m-1 10h0m-3-2h0m-1-3h0m-1 8h0m0 2h0m-2-13h0m0 1h0m-1 3h0m0 9h0m-5-11h0m-2-3h0m-3 0h0m-1 2h0m-1 9h0m0-7h0m0 0h0m-1-5h0m0 2h0m-1 11h0m-1-12h0m0 9h0m-1-6h0m0 3h0m-1-6h0m-1 10h0m-2-11h0m-1 13h0m0-6h0m-2 4h0m0-7h0m-1 0h0m0-3h0m-1 8h0m-2 6h0m-2-11h0m-1-3h0m0 4h0m-3 2h0m0 1h0m0-4h0m-3 11h0m0-4h0m-1 4h0m-2-10h0m-4 5h0m-3-1h0m-1-2h0m0 1h0m-1 6h0m-2-11h0m0 11h0m-1-1h0m-2 2h0m-1-6h0m-2 4h0m-1-10h0m-2-1h0m0 1h0m-3 6h0m0 2h0m-1-11h0m-5 5h0m0 9h0m-3-11h0m0-1h0m-1 9h0m-2 4h0m-4-6h0m-3-2h0m-1-5h0m-2 0h0m-3-1h0m0 8h0m-3 0h0m-7-1h0m-8 3h0m-2-8h0m0 3h0m-9 6h0m-1-8h0m0 6h0m-10-4h0m-42-5h0m-5-1h0m0 3h0m31 14h0m12 11h0m5-6h0m29 9h0m5-5h0m17-5h0m4 5h0m4 5h0m1-15h0m6 0h0m6 0h0m2 12h0m0-10h0m2 10h0m1-8h0m0-2h0m2 9h0m3-2h0m9-5h0m11-1h0m5 3h0m2 1h0m3 8h0m1-13h0m4-2h0m4 8h0m7-4h0m1 10h0m4-12h0m2 4h0m2-1h0m2 5h0m3-7h0m-24 16h0m-3 0h0m-13 5h0m-2 4h0m-2-7h0m-1-2h0m-1 7h0m0-8h0m0-1h0m-8 10h0m0-6h0m-2 2h0m-2 3h0m-1 4h0m-2-13h0m-6 3h0m-3 3h0m-3-7h0m-16 1h0m-8 9h0m-6 0h0m-8-8h0m-3 1h0m-33 8h0m-6 3h0m-9-2h0m-1 14h0m43-9h0m12 14h0m13-10h0m15 7h0m16-5h0m5-4h0m1 3h0m1-3h0m1 8h0m3 3h0m3-13h0m0 2h0m2 3h0m5 9h0m2-12h0m1 11h0m11 16h0m-3-4h0m-2-8h0m0 2h0m-10-4h0m0 15h0m-2-11h0m-3-1h0m-78 9h0m-18-11h0m-8 3h0m82 12h0m14 10h0m5-5h0m3-4h0m0 0h0m1 1h0m2 12h0m2-3h0m9-9h0m6 4h0m2 7h0m6 12h0m-4-2h0m-1-5h0m-1 10h0m-2 2h0m-4-3h0m-4-6h0m-4-2h0m-2 7h0m-6-10h0m-1 12h0m-95 11h0m26-3h0m36 2h0m9-5h0m32 6h0m3-4h0m1 11h0m1-8h0m5 8h0m12-5h0m1 18h0m-8 4h0m-4-10h0m-11 1h0m-2 0h0m-24 6h0m-10 3h0m-3-4h0m-1-10h0m-1 14h0m-9-1h0m-11-9h0m-11 9h0m23 4h0m1 0h0m1-1h0m0 1h0m1 6h0m0 7h0m4-4h0m7 1h0m2-6h0m3 4h0m3-8h0m0 7h0m4 2h0m0-2h0m8-2h0m1 1h0m33-3h0m1 6h0m9-3h0m27 11h0m-20 0h0m-3 3h0m-11 7h0m-5-8h0m-6 0h0m-1-5h0m-10 15h0m-12-5h0m-10 4h0m-9-8h0m-21-4h0m-12 0h0m-70 0h0m65 26h0m38 2h0m17-4h0m16 5h0m2-6h0m1-4h0m5-4h0m3 10h0m2-4h0m3 6h0m1-2h0m2-8h0m3 2h0m8-2h0m0-3h0m0 5h0m2 7h0m0 3h0m1-4h0m3-11h0m3 14h0m0-13h0m4 5h0m6 6h0m37 1h0m-48 7h0m-5 2h0m-7 7h0m-3-13h0m-9 0h0m-6 0h0m-8 3h0m-4-1h0m-27-2h0m-5 14h0m-1-4h0m-5 3h0m-2-1h0m-44-5h0m1 12h0m56-2h0m36 0h0m22 10h0" stroke="#808080" stroke-width="11.4" stroke-opacity="0.6"/></g><g clip-path="url(#cD)"><path class="d" transform="scale(.5)" d="M702 750h0m26-4h0m33-3h0m110 15h0m-2 4h0m-1-6h0m0 11h0m0-3h0m-1 1h0m-1-8h0m-2 4h0m-3 2h0m-6-1h0m-1-2h0m0-2h0m-3 1h0m-2 1h0m-6-6h0m-23 10h0m-66 3h0m-35-6h0m-19 5h0m-111-1h0m-17 0h0m-4 10h0m6 3h0m1 2h0m1 1h0m8 2h0m2-5h0m1-1h0m3-6h0m3 5h0m7-3h0m132-1h0m7 5h0m0 1h0m18-10h0m20 12h0m6-6h0m2 1h0m17-2h0m6 8h0m19-2h0m3-11h0m4 6h0m0-1h0m0 2h0m1 8h0m0-15h0m1 14h0m2-7h0m1 3h0m1 2h0m4-1h0m7-8h0m0 10h0m0-7h0m1 7h0m2 1h0m1-1h0m1-5h0m0 0h0m3-6h0m2 8h0m3 1h0m3 3h0m1-2h0m2-10h0m0-2h0m1 4h0m2 2h0m5 3h0m2 5h0m6 16h0m-3 1h0m0-2h0m-1-1h0m-1-4h0m-2 6h0m-1 0h0m-2-1h0m-2-3h0m-1-4h0m-1 0h0m-5 7h0m-1-2h0m0 4h0m-2-10h0m-2-4h0m-1 2h0m0 7h0m-5-2h0m-4 3h0m-1 1h0m-1-11h0m-2 6h0m-2 8h0m0-13h0m-3 8h0m-1-1h0m-3 4h0m-1 1h0m-2-5h0m-2-9h0m-2 9h0m-3 4h0m-4-9h0m-97-2h0m0 4h0m-46-6h0m-18 15h0m-66-13h0m-2 10h0m-7-1h0m0 0h0m-3-4h0m-10-2h0m-1 9h0m0-6h0m-6 1h0m-3-9h0m-1 5h0m-4 1h0m-3 5h0m2 14h0m8-5h0m5-1h0m12 11h0m3-13h0m1 1h0m9 2h0m16 6h0m35-10h0m2 11h0m10-2h0m1 3h0m5-7h0m6 9h0m18-11h0m45 0h0m51 5h0m11 6h0m2-7h0m9 7h0m3-2h0m1-4h0m0 0h0m13 3h0m1-9h0m1 6h0m3-3h0m3-1h0m1 7h0m2-9h0m3 2h0m0 7h0m1 1h0m1-6h0m0-2h0m1-1h0m0 5h0m0-4h0m1 3h0m2-3h0m1 10h0m0-1h0m1-3h0m1 0h0m0-10h0m1 7h0m1 0h0m0 2h0m1 0h0m4-4h0m2-3h0m0-1h0m2 7h0m1 6h0m0-8h0m4 6h0m0-9h0m0 3h0m1-4h0m3 5h0m0 2h0m1-2h0m4-6h0m2 13h0m5-2h0m0 3h0m1-10h0m0 9h0m1-12h0m0 12h0m0-9h0m1 2h0m0-4h0m1-1h0m2 8h0m6 17h0m-6 1h0m-5-2h0m-1-7h0m-1 4h0m-5 2h0m-1-2h0m0-3h0m0 8h0m0-1h0m-5-2h0m-1-5h0m-1 11h0m-1-11h0m0 0h0m-1-2h0m0 13h0m-1-4h0m-2-10h0m-2 12h0m-1-5h0m-1 7h0m-3-8h0m-1 1h0m-2 3h0m-2-2h0m0 5h0m-1-1h0m0-6h0m-2 2h0m-1-3h0m-1-5h0m0 9h0m-2 3h0m0 2h0m0-3h0m-1 3h0m-1-5h0m0-1h0m-1-6h0m-1-1h0m-1 13h0m0-15h0m-2 1h0m-1 5h0m-1-1h0m-1 2h0m-3 6h0m0 1h0m-8-14h0m-4 1h0m-2 14h0m-1-8h0m-3-4h0m0 1h0m-1 3h0m0 1h0m0-6h0m0 3h0m-2 7h0m-2-7h0m-4 1h0m-10 9h0m0-13h0m-1 3h0m-2 5h0m0-7h0m-7 9h0m-9 1h0m-6 2h0m-3 0h0m-5-6h0m-8 5h0m-2-6h0m-3 1h0m-4 4h0m-21-5h0m-1 7h0m-7-5h0m-38 2h0m-13-12h0m-10 4h0m0-4h0m-3 8h0m-12-1h0m-68-7h0m14 18h0m27-1h0m49 0h0m4 9h0m0-2h0m3 6h0m5-2h0m4-4h0m21 6h0m22-1h0m4-12h0m2 2h0m2 8h0m3-9h0m9 2h0m1 2h0m7 4h0m5-9h0m1 5h0m1-5h0m14 3h0m0-3h0m1-1h0m1 14h0m0-8h0m4-3h0m4 8h0m2-11h0m1 15h0m2-10h0m0 1h0m1-3h0m2 4h0m1 3h0m1-5h0m1 1h0m3 7h0m0-6h0m1 3h0m0-3h0m1 2h0m0-3h0m1 5h0m3-8h0m1 5h0m2 7h0m4-2h0m0 1h0m1 0h0m1-12h0m0 12h0m1-8h0m1-2h0m2-4h0m1 12h0m2-6h0m2 9h0m0-14h0m2 4h0m2 0h0m1 10h0m0-11h0m0-2h0m3 0h0m2-2h0m0 12h0m3-3h0m1-8h0m0 11h0m1 1h0m0-2h0m0-2h0m1-2h0m0-5h0m1 5h0m0 3h0m0-10h0m1 3h0m1 10h0m0 1h0m0-10h0m0 10h0m0-7h0m1-3h0m1-3h0m0-1h0m1 13h0m0 0h0m0-3h0m2-6h0m0-1h0m0 2h0m1-4h0m0 7h0m1-4h0m0 4h0m0-8h0m1 6h0m0-1h0m1 10h0m3-11h0m1 11h0m0-9h0m0 8h0m0-6h0m1 4h0m0 0h0m1-10h0m0 3h0m1 3h0m2 4h0m0-1h0m0-6h0m2 1h0m3 6h0m2-7h0m0 6h0m0-3h0m0-7h0m0 0h0m6 5h0m1-1h0m1-1h0m0-4h0m1 1h0m1 7h0m1 6h0m3-4h0m1-8h0m1 11h0m0-5h0m1-2h0m1 7h0m2-8h0m4-1h0m1 6h0m0-1h0m-3 11h0m-6 6h0m-3-8h0m-5 5h0m0 0h0m-2 0h0m-1 3h0m-3 1h0m-1 1h0m-1-8h0m-1 3h0m-1 7h0m-1-11h0m-2-1h0m-4 11h0m-1-6h0m0 7h0m0 1h0m-1-3h0m-1-5h0m-1 2h0m-1 3h0m0-7h0m0 2h0m-1 1h0m-2-1h0m0-4h0m-2 2h0m-1 6h0m0-11h0m0 4h0m-3 0h0m-1 1h0m-3-2h0m-1-1h0m0 1h0m-1 5h0m-2 3h0m0-3h0m-2 7h0m-1-14h0m-2 2h0m-4-1h0m0 13h0m-1-6h0m0-3h0m-1 3h0m0-8h0m-1 3h0m0 0h0m0 8h0m-3-3h0m-1-8h0m0-1h0m-4 0h0m0 7h0m-1 5h0m0-3h0m-1-1h0m-1 4h0m0-6h0m-1 7h0m-2-4h0m-1-5h0m0-2h0m-1 6h0m-2 6h0m-4-8h0m-1-2h0m-2 2h0m0-5h0m-1 1h0m0 13h0m-6-12h0m-1-1h0m-1 9h0m-1-3h0m-1-2h0m0 2h0m-3 4h0m-3-5h0m-1 7h0m-2-14h0m-2 11h0m-1 2h0m0-3h0m-4 2h0m-1-4h0m-1-4h0m-2 6h0m-3-9h0m-27 0h0m-2 12h0m-6-1h0m-9-2h0m-4 2h0m-7-11h0m-19 4h0m-2-3h0m-19-2h0m2 20h0m25-2h0m18 3h0m2-4h0m2 1h0m37 1h0m2 1h0m1 5h0m5-1h0m1 5h0m1-6h0m10-4h0m4 9h0m1-3h0m6 2h0m13-9h0m5 3h0m4 6h0m2-11h0m1 2h0m0 12h0m2-6h0m9-8h0m4 4h0m0 7h0m2-3h0m9 1h0m13-3h0m2-6h0m2 6h0m5-5h0m1 4h0m3-5h0m3 4h0m1-1h0m2 2h0m-16 15h0m-8 8h0m-15-1h0m0-3h0m-10 2h0m-1 5h0m-3-13h0m0-1h0m-3 11h0m-2-7h0m-1 1h0m0 7h0m0 2h0m-11-6h0m-1-9h0m-2 3h0m0 5h0m-1-4h0m-5 2h0m-3 2h0m-10 6h0m-1-5h0m-15 5h0m-21-12h0m-46 1h0m32 17h0m2 10h0m31-8h0m4 5h0m1-1h0m12-9h0m14 4h0m8 0h0m1 1h0m1 8h0m4 0h0m0-12h0m1 7h0m1 1h0m1-8h0m3 3h0m0 5h0m0-9h0m1-1h0m1 4h0m3-3h0m8 24h0m-10-4h0m-1 3h0m0 2h0m-1-3h0m-2-4h0m0-1h0m-2 10h0m0-9h0m-23 1h0m-18 10h0m-67-6h0m12 19h0m19-6h0m75 1h0m6 1h0m3-5h0m3 8h0m0 4h0m1-4h0m2 1h0m7-8h0m0 3h0m1 8h0m0-14h0m2 7h0m3 4h0m0-3h0m3-3h0m2 15h0m0-3h0m-12 7h0m-5 4h0m-1-9h0m-3 2h0m0 6h0m0-7h0m-1 11h0m-3-2h0m-5 1h0m-97 0h0m23 17h0m9-14h0m69 6h0m3 4h0m6-6h0m4-5h0m0 11h0m0-7h0m9 4h0m4-3h0m9 10h0m-11 8h0m-2 1h0m-1 3h0m-4-9h0m-9 1h0m-6-2h0m-28 7h0m-4-2h0m-2 2h0m-3-5h0m-2 8h0m-6 1h0m-4 3h0m-3-4h0m-4 2h0m-31-4h0m1 18h0m1-8h0m9 5h0m23-4h0m0 4h0m7 1h0m1-5h0m3 7h0m6 0h0m4-7h0m3 4h0m9-6h0m9-2h0m5 6h0m2 9h0m12 0h0m7-2h0m1-2h0m11-4h0m9-2h0m2-5h0m14 27h0m-10 0h0m-18-2h0m-3 5h0m-1-9h0m-14 8h0m-14-1h0m-6-2h0m-9 0h0m-6-3h0m-6 7h0m0-13h0m-10 2h0m-11 9h0m-14-1h0m4 11h0m16 7h0m2-4h0m16-5h0m41 5h0m2-2h0m1 7h0m7-13h0m0 6h0m0 6h0m1-8h0m1-1h0m1 0h0m1 10h0m2-3h0m4-7h0m8 0h0m7 3h0m-13 11h0m-6 0h0m-1 3h0m0 1h0m-5 1h0m-1-4h0m0 6h0m-4 2h0m-8-9h0m0 6h0m-4 3h0m-10-1h0m-9 0h0m-46 21h0m53-3h0m8 3h0m4-15h0m10 10h0m5-3h0m4-7h0m8 12h0" stroke="#808080" stroke-width="11.4" stroke-opacity="0.6"/></g><g clip-path="url(#cD)"><path class="d" transform="scale(.5)" d="M729 745h0m63 3h0m70 3h0m15 12h0m-5-2h0m-5 3h0m-2 1h0m-4-2h0m-1-4h0m-3-1h0m-7-2h0m-1-3h0m-4 10h0m0 0h0m-3-6h0m0 7h0m-3 2h0m-1-5h0m-34 3h0m-69 3h0m0-10h0m-6 9h0m-2-7h0m-27 6h0m-111-1h0m-8 1h0m-9-1h0m-6 1h0m3 9h0m3 4h0m7 0h0m2 0h0m1-1h0m3 6h0m0-15h0m1 15h0m3-14h0m1 4h0m7-5h0m0 10h0m1-6h0m3-3h0m5 6h0m50-5h0m25 12h0m7-2h0m63 3h0m4-9h0m1 6h0m26 2h0m33 0h0m4-1h0m6-1h0m5-10h0m4 0h0m1 11h0m3-11h0m1 10h0m0-11h0m1 12h0m1-1h0m0 2h0m1-2h0m1-4h0m0 4h0m0 1h0m0 1h0m1 1h0m0-9h0m1 3h0m5 3h0m0-6h0m2 8h0m2-6h0m1-2h0m0 6h0m0-1h0m1-4h0m1-3h0m1-1h0m0-1h0m4 7h0m1 4h0m2 1h0m2-2h0m1 1h0m1-5h0m0 6h0m1-10h0m1 1h0m0 2h0m0 6h0m3-8h0m2 2h0m1 5h0m2-7h0m1 8h0m0 1h0m10 1h0m-2 2h0m-1 2h0m-2 8h0m-1-11h0m-4 6h0m-2 5h0m0-8h0m0 4h0m-1-5h0m0 0h0m-2 6h0m0-5h0m0 2h0m0 8h0m0-4h0m-5 5h0m-2-7h0m0 7h0m-1-13h0m-2 13h0m-2-9h0m-4 8h0m0-7h0m-1 7h0m-1-3h0m-1 0h0m-1-6h0m-3-3h0m-1 4h0m-5 4h0m0-3h0m-1 2h0m-1-7h0m-2 13h0m-1-8h0m-2 4h0m0 4h0m0-4h0m0 3h0m-4 2h0m-2-5h0m0-4h0m-1 4h0m-4 3h0m-2-2h0m-1 2h0m-37-10h0m-46 12h0m-8-13h0m-57 6h0m-14 2h0m-45 4h0m-17 1h0m-3-2h0m-5-8h0m-1 2h0m0-4h0m-3 0h0m-1-1h0m0 8h0m-2-1h0m-2 4h0m-1 0h0m-4-2h0m-2-2h0m-1-4h0m0 4h0m-1 6h0m-5-1h0m0-14h0m-3 7h0m-2 6h0m3 9h0m10 2h0m7-5h0m2-3h0m4 2h0m1 4h0m43 9h0m0-13h0m3 13h0m30-12h0m5 2h0m4 6h0m77 0h0m2-3h0m27-6h0m6 13h0m7 0h0m9-3h0m9 1h0m5-1h0m8-9h0m0 9h0m1-6h0m2 0h0m1 0h0m1 7h0m1-3h0m1-2h0m1 1h0m1 2h0m0-8h0m1-2h0m0 11h0m1 1h0m1-2h0m2-7h0m0-3h0m2 8h0m1-1h0m2 0h0m1-6h0m1 12h0m0-1h0m6-4h0m0-1h0m1-8h0m2 15h0m7-10h0m0-4h0m1 2h0m1 8h0m1-10h0m0 3h0m2 2h0m0 5h0m1 1h0m0 2h0m1-9h0m2 2h0m1 2h0m13 18h0m-1 4h0m-1-2h0m0-10h0m-2 5h0m-1-3h0m0 9h0m0-12h0m-1 9h0m-1-11h0m-3 15h0m-3-9h0m0-1h0m-1 0h0m-1-5h0m-1 10h0m-2-9h0m0 4h0m-1 0h0m-2 6h0m-2-1h0m-3-8h0m0 10h0m-2-1h0m0 2h0m-1-2h0m0-6h0m-2 5h0m-1-8h0m-2-2h0m0 5h0m-1 3h0m0 0h0m-1-2h0m0 5h0m0-2h0m0-3h0m-2 4h0m0 2h0m-1-5h0m0 6h0m-3-1h0m0-8h0m0 11h0m-1 0h0m0-5h0m-4-4h0m0-1h0m-2 8h0m-1-4h0m0-6h0m0-2h0m-1 6h0m-2 1h0m0-7h0m-2 1h0m-2 9h0m0-5h0m-3-5h0m-5 5h0m-1 5h0m0-8h0m0 9h0m-1-9h0m-1 11h0m-1-4h0m-1-1h0m-1 3h0m-4-6h0m-2 8h0m-1 1h0m0-2h0m-1-2h0m0 3h0m0-5h0m-1-4h0m-4 6h0m-1-5h0m-3 4h0m-1 4h0m-2-6h0m-6 6h0m-11-3h0m-2 0h0m-5-2h0m-2-7h0m-2 10h0m-43 0h0m-8-1h0m-45 2h0m-19-3h0m-1 0h0m-20-10h0m-45 3h0m-14 9h0m-8 3h0m61 1h0m26 5h0m34 6h0m6 0h0m18-2h0m5-8h0m11 8h0m1 1h0m4 1h0m3-11h0m2 3h0m7 5h0m0 1h0m1-8h0m2 3h0m0 7h0m1-1h0m2-7h0m0 3h0m4 6h0m1-8h0m3 6h0m1 5h0m2 0h0m3-2h0m3-3h0m3 3h0m2-3h0m0-4h0m2 0h0m1-3h0m0-3h0m1 14h0m2-13h0m0-1h0m1 3h0m0 12h0m0-9h0m0 5h0m2-11h0m0 1h0m1 14h0m0-5h0m5-9h0m2 7h0m5 2h0m0 4h0m1-5h0m1-6h0m1 4h0m0 2h0m1-9h0m2 0h0m1 12h0m1-6h0m1 2h0m2-2h0m2-6h0m0 14h0m2-11h0m1 4h0m2 8h0m1-7h0m1-3h0m1-1h0m0 5h0m0-6h0m0 5h0m2-7h0m0 4h0m1 3h0m1 4h0m0 3h0m0-8h0m1 6h0m1-12h0m1 12h0m2 1h0m0-1h0m0-11h0m1 13h0m2-7h0m0-7h0m3 1h0m1 4h0m0-2h0m0 9h0m0 1h0m0-5h0m1-3h0m1 5h0m1-10h0m2 5h0m0-3h0m0-1h0m1 2h0m0 11h0m0-2h0m0-11h0m1 6h0m1 5h0m1 2h0m0-5h0m1-3h0m0-4h0m0 5h0m0 2h0m1-8h0m0 6h0m0-2h0m3 9h0m0-6h0m0-3h0m0 9h0m3-6h0m1-8h0m0 1h0m1-2h0m0 13h0m1-12h0m4 8h0m1 3h0m0-8h0m1-1h0m0 8h0m1 1h0m0-3h0m1 4h0m5 0h0m2 1h0m1-9h0m1-1h0m2 2h0m1 3h0m2-1h0m0-5h0m3 3h0m1-3h0m0 1h0m0-3h0m1 10h0m2-5h0m2 1h0m2-5h0m1 5h0m-8 9h0m-1 10h0m0-8h0m-5-1h0m-1 2h0m0-1h0m-2 8h0m-1-8h0m-2 1h0m-3 5h0m-3 2h0m-2 4h0m0-8h0m-2 5h0m0-10h0m-3 7h0m0-3h0m0 8h0m-1-13h0m-2 12h0m-2-12h0m-3 9h0m-1 2h0m-1-1h0m-6-5h0m0-5h0m0 6h0m-1 2h0m-1-3h0m-3-2h0m-2 0h0m0 2h0m-1 6h0m0-8h0m0 9h0m-1-7h0m0 4h0m-1-1h0m-1-7h0m-3 0h0m-1 7h0m-1 3h0m-3-1h0m0-10h0m0 8h0m-1-5h0m-1 3h0m-2-3h0m-2 9h0m0-8h0m-2 7h0m-4-5h0m0 6h0m-6-10h0m0 8h0m-1-9h0m-1 6h0m-5-5h0m-1 10h0m-1-2h0m-2-8h0m0 3h0m0 10h0m-5-15h0m0 12h0m-2-4h0m-1-1h0m-2 3h0m-2 0h0m0 0h0m0 3h0m-1-11h0m-1 7h0m-1 1h0m-2 3h0m-1-3h0m-4-4h0m-1-3h0m-2 2h0m-3-4h0m-5 13h0m-1-8h0m-7 9h0m-5-6h0m-3-6h0m-4 1h0m-19 5h0m-4-7h0m-24 4h0m-1-6h0m-23 13h0m53 11h0m0-6h0m27 10h0m15 1h0m11-3h0m1 0h0m8-8h0m5 6h0m2-2h0m3-6h0m1 10h0m2-1h0m1-6h0m2-2h0m1-1h0m0 9h0m5-5h0m5-4h0m1 2h0m0 4h0m1-5h0m0 4h0m2-3h0m1 3h0m2-1h0m2 5h0m3-9h0m5 0h0m5 6h0m6-2h0m1-3h0m1 0h0m7 1h0m6 7h0m2-6h0m2 1h0m5 0h0m1-1h0m2 3h0m1 1h0m4-5h0m0 9h0m4-8h0m-10 13h0m-8 0h0m-7 13h0m-12-7h0m-6-4h0m-11 0h0m0-2h0m0 4h0m-6 11h0m-2-13h0m-1 5h0m-5 5h0m0 1h0m-2-5h0m-4-5h0m-3 10h0m-4-13h0m-1 4h0m-2 10h0m-9-9h0m-1 9h0m-10-7h0m-40 3h0m-54 13h0m11-5h0m2 11h0m2-11h0m22 6h0m32-2h0m14 0h0m13-2h0m10-2h0m15 10h0m4 2h0m2-4h0m2-10h0m3 4h0m1 6h0m3 4h0m2-3h0m2-6h0m7 4h0m17 14h0m-29 3h0m-1-10h0m0 0h0m-1 12h0m-5-7h0m0 7h0m-9-12h0m-9 5h0m-7-1h0m-10 4h0m-16 2h0m-62-1h0m34 19h0m83 3h0m1-8h0m4 1h0m0-8h0m1 4h0m9-4h0m4 5h0m5 5h0m1 21h0m-5-10h0m0 10h0m-14 0h0m-3-2h0m-2-13h0m-5 9h0m-26-8h0m-32 7h0m-12-7h0m-13 0h0m-2 29h0m17-10h0m23 6h0m34 0h0m16-10h0m1 14h0m1 0h0m4-4h0m1-2h0m0 5h0m2 1h0m0-2h0m3 1h0m2-13h0m0 4h0m11 23h0m-1 0h0m-1-1h0m-1 3h0m-1-5h0m-16 0h0m-8-7h0m-16 6h0m-4-1h0m-1 1h0m-8 4h0m-3-2h0m-5 4h0m-1 2h0m0 0h0m-2-7h0m-14 7h0m-9 2h0m17 11h0m1-4h0m1 2h0m1 1h0m1-3h0m2 3h0m6-5h0m1 3h0m0-9h0m1 1h0m0 3h0m2 7h0m7-6h0m2-2h0m0 11h0m7-6h0m27 2h0m34 12h0m-8 4h0m-3 4h0m-3-1h0m-7-5h0m-2 6h0m-1-3h0m-6 2h0m-2-11h0m-47 4h0m-10-5h0m-1 0h0m-16 7h0m4 10h0m13 11h0m24-13h0m27 4h0m7-2h0m7 1h0m1 10h0m1-10h0m8 10h0m1-4h0m1 4h0m0-10h0m4 4h0m23-5h0m-25 29h0m-2-6h0m-2-1h0m-2-4h0m-1 4h0m-3-5h0m-3 6h0m-3 0h0m-6-7h0m-11 6h0m-8 3h0m-50 9h0m56 3h0m8-6h0m6 11h0m3-6h0m4-1h0m6-1h0" stroke="#808080" stroke-width="11.4" stroke-opacity="0.6"/></g><g clip-path="url(#cD)"><path class="d" transform="scale(.5)" d="M854 750h0m23 17h0m-2-8h0m-2 3h0m-2-1h0m-4 4h0m-3-1h0m-1-2h0m-3-4h0m-1-2h0m-2 4h0m-1-8h0m-1 10h0m-1-6h0m-2 10h0m0 0h0m-4-9h0m-1 1h0m-2 7h0m-3 2h0m0-7h0m0 7h0m-1-2h0m-1-3h0m-56-1h0m-54-2h0m-2-3h0m-2 9h0m0-2h0m-4 3h0m-3-2h0m-1-6h0m-107 1h0m-11-2h0m-45 11h0m11 8h0m10-7h0m0 10h0m1-3h0m1 0h0m0 2h0m0 5h0m1-11h0m0 6h0m1 5h0m5-4h0m2 4h0m0-8h0m0-1h0m1 3h0m4 6h0m0-9h0m1 5h0m0-9h0m1 8h0m2-2h0m0-6h0m2 9h0m4 2h0m11-7h0m44 8h0m72-13h0m4 6h0m17 8h0m16-4h0m21 2h0m1 1h0m1-4h0m40-4h0m0-2h0m3 8h0m5-9h0m1-3h0m3 15h0m3-14h0m0 7h0m8-5h0m1 4h0m4 7h0m2-3h0m0 0h0m1-2h0m2-1h0m3-6h0m4-1h0m0 10h0m0 3h0m2-8h0m0-3h0m4 11h0m0-8h0m14 11h0m-2 10h0m-1-5h0m-1 1h0m0-7h0m-1 7h0m-1-6h0m0 3h0m-4-1h0m-1 9h0m-1 1h0m-1-9h0m-3 3h0m0-1h0m-3 5h0m-1-2h0m-2-8h0m-2 10h0m-1-2h0m-1 3h0m-1-4h0m-8-5h0m-1-3h0m-4 2h0m-5 7h0m0-1h0m-1-5h0m-1 2h0m-1-1h0m-2 4h0m-2 6h0m-1-3h0m0-10h0m-1 6h0m0 0h0m-3-6h0m-1 14h0m-121 0h0m-10-5h0m-28-6h0m-28 2h0m-12 9h0m-18-2h0m-3 0h0m-9-3h0m-6-3h0m-1 2h0m0 2h0m-2 0h0m-2-1h0m-3-1h0m-1 4h0m-1 0h0m-3-2h0m-4-7h0m0 11h0m-2-14h0m0 13h0m-10-5h0m7 11h0m1 1h0m2 5h0m4 1h0m11-9h0m23 6h0m21 1h0m43-7h0m1 11h0m9-5h0m32 7h0m43 0h0m5-8h0m8 3h0m10 4h0m2-2h0m5-4h0m6 4h0m2-5h0m2 8h0m10-13h0m1 10h0m4 0h0m3-2h0m4-1h0m2-9h0m0 8h0m0-8h0m1 13h0m0-4h0m3-2h0m0 1h0m9 5h0m1-9h0m0 6h0m1-1h0m2-8h0m0 11h0m0-8h0m3-1h0m0 3h0m1 6h0m0-5h0m0 4h0m0-7h0m5 8h0m0 3h0m1-1h0m0-6h0m2 0h0m2-7h0m2 11h0m0-9h0m1 11h0m0-13h0m1 8h0m1 0h0m2-4h0m0 3h0m1 3h0m1-4h0m1-7h0m0 4h0m0 10h0m3-5h0m1-2h0m4-5h0m5 5h0m2-1h0m3 11h0m-3 3h0m0 4h0m-2 0h0m-2 3h0m-2-7h0m-3 10h0m-4-9h0m-2 8h0m0-7h0m0-2h0m0-3h0m-1 13h0m0-13h0m-2 12h0m0-13h0m-2 15h0m0-14h0m-3 12h0m-1-13h0m0 14h0m0-9h0m-2-4h0m-1 5h0m-1 7h0m0-3h0m0 3h0m-2-7h0m-2 9h0m-2-7h0m-1-4h0m-1-2h0m-1 7h0m-1 5h0m-2-1h0m-1 2h0m-1-7h0m0 3h0m-1 4h0m0-11h0m0 9h0m-1-8h0m-1-2h0m-1 1h0m0 2h0m-1 9h0m0-7h0m0-6h0m-1 1h0m0 1h0m-1 1h0m-2 3h0m0 0h0m-1-4h0m0 8h0m-1-1h0m0-1h0m-3 4h0m-3 0h0m0-10h0m-1 6h0m-2-4h0m0-1h0m-1 3h0m0 3h0m-2-6h0m-3-1h0m-2 4h0m-1 3h0m0-5h0m0 3h0m-6 3h0m-2-6h0m0 9h0m-1-2h0m-1-2h0m0 0h0m-1 2h0m-2-8h0m-5 10h0m-3 0h0m0-11h0m-1 1h0m-2-5h0m-2 10h0m0-1h0m-13 5h0m-2-12h0m-1 6h0m-3-2h0m-1-4h0m-6 6h0m-4 7h0m-3-15h0m-10 5h0m-3 7h0m-8-2h0m-46 3h0m-4-8h0m-87-4h0m0 3h0m-1-2h0m-2 2h0m-19 0h0m10 17h0m46-1h0m37-1h0m2 4h0m49-3h0m6 3h0m1-7h0m9 0h0m2 14h0m1-10h0m6-1h0m9-1h0m0 1h0m3 11h0m0 0h0m8-5h0m0-5h0m3 10h0m1-3h0m5 2h0m0-5h0m1 0h0m3-2h0m1 0h0m9 6h0m2-9h0m1 6h0m3 1h0m0 0h0m0 4h0m2-4h0m3-7h0m2 8h0m2-10h0m1 7h0m5-1h0m0 5h0m2-11h0m2 14h0m0-4h0m3 1h0m1-5h0m1 0h0m1-3h0m2 10h0m0-10h0m0 10h0m1-7h0m2 0h0m1 4h0m1-5h0m0 9h0m0-1h0m1-2h0m1-6h0m1-1h0m1-4h0m1 13h0m1-13h0m0 6h0m1-6h0m2 13h0m1-10h0m1-1h0m1 3h0m0 1h0m1 6h0m0-5h0m1 5h0m0 1h0m0-9h0m1 7h0m2-9h0m1 12h0m1-1h0m1-2h0m0-6h0m0 2h0m1-8h0m1 14h0m1-10h0m0 11h0m1-2h0m1-10h0m0 3h0m1-6h0m0 7h0m2 8h0m2-15h0m0 14h0m0-4h0m2-1h0m0-1h0m1 5h0m2 2h0m0-7h0m1-2h0m0 8h0m0-6h0m0-2h0m0-6h0m3 15h0m3 0h0m3-4h0m1-10h0m2 2h0m1 0h0m0-2h0m0 10h0m0-4h0m1 3h0m2-10h0m1 5h0m1 7h0m1-12h0m5 5h0m0 5h0m5-5h0m-13 14h0m-2 2h0m0 1h0m-2-4h0m-6 1h0m-2 12h0m0-13h0m-3 4h0m-1-5h0m0 11h0m0-12h0m-1 12h0m-1 3h0m0-1h0m-1-7h0m-2 4h0m0-3h0m-4-4h0m0 2h0m-4-3h0m-1-2h0m-1 6h0m0 4h0m-1 1h0m0-9h0m-1 4h0m-1 0h0m-1 0h0m-2-5h0m-1 3h0m0 5h0m0-10h0m-1 8h0m-1-2h0m-1-6h0m-1 0h0m-3 8h0m-2 0h0m-1 1h0m0-8h0m0 13h0m0-14h0m-1 12h0m0-5h0m-5 0h0m-1 0h0m-2-4h0m-1 8h0m0 3h0m0-8h0m-1-4h0m-1 13h0m-1-1h0m-2-2h0m-1 3h0m-3-9h0m0 6h0m-1 3h0m0-11h0m-1 1h0m-3 8h0m-4 0h0m0-4h0m-5-5h0m-2-1h0m-5 1h0m0 2h0m0 9h0m0-14h0m-1 11h0m-1-2h0m-9 5h0m-14-9h0m-5 4h0m0-5h0m-3-2h0m-1 4h0m0 2h0m-1 5h0m0-14h0m-2 2h0m0 10h0m0-8h0m0 7h0m-1-1h0m-2-10h0m0 15h0m-1-13h0m-3-1h0m-1-1h0m-5 1h0m-2 8h0m-11 4h0m-5-9h0m-29-3h0m-20 1h0m29 17h0m20 2h0m3 2h0m8-1h0m8-3h0m8 6h0m0-5h0m1 2h0m10-4h0m6 2h0m11 4h0m1 2h0m3-8h0m14-2h0m1 3h0m0 12h0m8-14h0m0-1h0m7 5h0m11 9h0m1-5h0m0 1h0m1-5h0m0-5h0m4 0h0m23 6h0m5-2h0m1 2h0m2 3h0m5-3h0m2 5h0m6-11h0m3 4h0m-26 25h0m-3-10h0m-12 5h0m-9 0h0m-3-5h0m-6 6h0m0-2h0m-8 0h0m-2-2h0m0-5h0m-3 12h0m-1 2h0m-1-11h0m-2 11h0m0-4h0m-10-2h0m-12 3h0m-12-9h0m-5 11h0m-18-12h0m-40 14h0m-13 9h0m44 4h0m9-5h0m2-6h0m1 9h0m3 2h0m12-10h0m21 2h0m6 5h0m12 2h0m6-4h0m1 3h0m1-3h0m1 4h0m0-9h0m2 11h0m2-9h0m2 8h0m2-11h0m1 9h0m2-10h0m10 19h0m-7 7h0m-8-5h0m-3 5h0m-1-3h0m-1 3h0m0 4h0m-1-12h0m0 12h0m0-10h0m-11-3h0m-11 1h0m-10 3h0m-23 1h0m-11 3h0m-4-7h0m-89 12h0m56 10h0m30-6h0m64 1h0m1 8h0m2-9h0m3 3h0m4 1h0m1-4h0m2 11h0m1-1h0m2 1h0m8-7h0m2-5h0m5 7h0m-4 19h0m-1-8h0m-1-2h0m-1 13h0m-4 0h0m-1-8h0m-8 1h0m-4-5h0m0 11h0m-68-13h0m-49 14h0m-30-13h0m29 25h0m10-6h0m48 5h0m32-5h0m29 11h0m1-12h0m1 10h0m0-1h0m2-4h0m17-8h0m1 5h0m8 12h0m-2 2h0m-10 12h0m-4-15h0m-4 8h0m-4-6h0m-39 7h0m-2 1h0m-15-4h0m0 8h0m0-2h0m-2-3h0m-1 1h0m-7-1h0m-2-9h0m0 0h0m-5 5h0m-14-1h0m3 17h0m25 2h0m2-7h0m5 0h0m1 12h0m2-10h0m1 1h0m17 7h0m17 0h0m14-4h0m5 1h0m6 2h0m4-2h0m4 1h0m1 5h0m1-2h0m17 0h0m-10 16h0m-4 4h0m-4-15h0m-3 9h0m-1 3h0m0-2h0m-3-3h0m-10-6h0m-45 4h0m-7-2h0m-4 5h0m-4-8h0m11 20h0m1 9h0m3-13h0m12 6h0m5-6h0m18 15h0m1-7h0m8-1h0m2 8h0m1-10h0m0 6h0m8-2h0m3-8h0m0 10h0m3-11h0m3 11h0m1 0h0m1-11h0m2 13h0m1-8h0m21 24h0m-14-8h0m0 3h0m-7-3h0m-2 0h0m0-1h0m-9 8h0m-3-10h0m-9 2h0m-7 9h0m-3 2h0m-15 0h0m-3-2h0m-13-8h0m-1 8h0m0-4h0m-2-3h0m-1 2h0m-4-8h0m-3 12h0m-34-8h0m27 21h0m78 6h0m5-9h0" stroke="#808080" stroke-width="11.4" stroke-opacity="0.6"/></g><g clip-path="url(#cD)"><path class="d" transform="scale(.5)" d="M727 751h0m7-2h0m143 9h0m-10 2h0m-3-4h0m0 3h0m-3 8h0m-2-7h0m-2 7h0m0-14h0m-1 6h0m-5-4h0m0 12h0m-1-5h0m-1 1h0m0-1h0m-2 1h0m-1-3h0m-1 1h0m-4 1h0m-1 1h0m-2-1h0m-84 4h0m-23 1h0m-2-11h0m-7 11h0m-104 0h0m-15-4h0m-6-8h0m0 5h0m-35 1h0m5 21h0m9-10h0m8-4h0m1 7h0m7 1h0m7 5h0m6-13h0m1 6h0m3 7h0m2-9h0m93 8h0m12 2h0m9 1h0m1-2h0m0-5h0m30 4h0m32-2h0m44-3h0m1 8h0m5-15h0m3 3h0m7 11h0m1-8h0m3 9h0m1-3h0m1-12h0m1 12h0m1 1h0m1-2h0m1 3h0m2-12h0m3 2h0m2 0h0m1 11h0m1-9h0m2-4h0m3 6h0m2 3h0m1-6h0m1 9h0m2-5h0m1-2h0m2 7h0m1-4h0m3-2h0m4 10h0m-1 9h0m-5-8h0m-1 1h0m-5 3h0m-1 6h0m-1 0h0m0 2h0m-1-5h0m-1-4h0m0 1h0m-1 3h0m0 4h0m-3-8h0m-4 2h0m0 0h0m-1-7h0m0 1h0m-3 7h0m0-6h0m-2 1h0m0 2h0m-2-2h0m-3-2h0m-1-2h0m0 12h0m-3-11h0m-1 11h0m-1-10h0m-2 13h0m-2-13h0m-2 11h0m0-5h0m-2 5h0m0-13h0m-1 12h0m0 3h0m-1-15h0m0 12h0m0-9h0m-3 9h0m0 0h0m-1-8h0m0-3h0m-2 7h0m-3-8h0m0 6h0m0 0h0m-1 2h0m-16-7h0m-2 8h0m-43-6h0m-5 5h0m-37 6h0m-32-4h0m-23 2h0m-1 2h0m-9-14h0m-21 6h0m-23 9h0m-8-11h0m-12 8h0m-1-1h0m-3-2h0m0-5h0m-2 8h0m-1 2h0m-8-12h0m-3 3h0m-1 10h0m-6-11h0m-9 9h0m0-4h0m-2 3h0m8 5h0m9 3h0m9-4h0m6 6h0m30 5h0m30 3h0m3 0h0m8 0h0m0-13h0m24 0h0m80 7h0m3-6h0m7 9h0m3-4h0m3 7h0m12-6h0m11-6h0m2 8h0m5-1h0m8-3h0m4 4h0m3 2h0m1 0h0m0-1h0m0-11h0m1 14h0m0-13h0m0 12h0m1-5h0m2-3h0m0 6h0m1-9h0m0 2h0m0 10h0m1-9h0m2 8h0m0-10h0m0-1h0m1 6h0m1-8h0m0 11h0m5-7h0m2 7h0m1-3h0m1 4h0m0 2h0m0-12h0m5 12h0m1-10h0m2-2h0m1 7h0m0-5h0m0-3h0m1 11h0m0-12h0m1 7h0m3 7h0m0-9h0m1 0h0m0 0h0m0 5h0m1-5h0m0 5h0m1-6h0m1-1h0m3 4h0m2 8h0m0-7h0m5 6h0m0-3h0m1-4h0m1 2h0m2 6h0m1-4h0m0 1h0m7 2h0m2-12h0m-2 19h0m0 2h0m-1 7h0m-2-14h0m0 12h0m-5 3h0m-1-9h0m0-3h0m-4 8h0m0-11h0m-3 5h0m-3-4h0m-2 1h0m0 6h0m-4-4h0m-4 3h0m-1 2h0m-1-8h0m0 6h0m0-5h0m-3 6h0m-2 0h0m0 6h0m0-7h0m-1-5h0m0 7h0m-2 3h0m0-2h0m-1 3h0m0 0h0m-1-7h0m-1 6h0m-1-12h0m0 6h0m-1-4h0m-2 9h0m0 2h0m-1-6h0m-2 0h0m-2-1h0m-1 1h0m-1-6h0m-1 3h0m0 11h0m-1-4h0m0 0h0m0-11h0m0 4h0m-1-3h0m0 8h0m-1-1h0m-3 1h0m0-7h0m-1 7h0m-4-5h0m-5 7h0m-1-6h0m0 6h0m-1-4h0m-1 2h0m0 5h0m-2-2h0m-1 3h0m-1 0h0m0-6h0m-1 1h0m-3 4h0m-5-2h0m0-9h0m-6 12h0m-3-10h0m0 4h0m0-8h0m-1 8h0m-1 5h0m-7-6h0m-4 6h0m-4-4h0m-3 1h0m-4-1h0m-4 5h0m-11-7h0m-17 2h0m-7-6h0m-8 6h0m-57-8h0m-4 7h0m0 5h0m-6-7h0m-5-6h0m-10 1h0m-5 11h0m-1-3h0m-1-7h0m-18 2h0m-8-4h0m-16 14h0m-10-13h0m-5 10h0m13 5h0m57 1h0m12 6h0m3 6h0m1-2h0m0-10h0m3 6h0m1-4h0m1 1h0m0 4h0m2-7h0m11 1h0m29 10h0m15-12h0m4 6h0m10-3h0m2 1h0m4-5h0m1 13h0m2 2h0m6-15h0m3 9h0m0-2h0m5 0h0m3 4h0m3 4h0m0 0h0m1-12h0m1 8h0m0-1h0m5-9h0m0 9h0m3 3h0m1-7h0m0-5h0m7 14h0m0-8h0m2 1h0m5-7h0m0 6h0m2 4h0m2-9h0m1-1h0m0-1h0m1 9h0m1 1h0m0 5h0m3-1h0m1-14h0m2 3h0m1 3h0m1-1h0m2 3h0m1-2h0m2 0h0m5-4h0m0 2h0m2 8h0m2-10h0m0 0h0m1 8h0m1 1h0m0-1h0m0 4h0m1-5h0m2-1h0m1-1h0m1 8h0m0 0h0m3-13h0m1 9h0m0-5h0m1-5h0m0 8h0m0-8h0m0 10h0m1 2h0m0 1h0m0-5h0m1 3h0m0 3h0m0-1h0m0-8h0m2-4h0m0 8h0m0 4h0m1-10h0m0 0h0m0-3h0m1 14h0m0-14h0m1 10h0m0 4h0m0-15h0m2 15h0m0-14h0m1 9h0m1-7h0m0 12h0m0-13h0m0 3h0m3-5h0m1 5h0m0 4h0m1 6h0m0-4h0m1 0h0m1 4h0m0-15h0m1 10h0m1-4h0m0 0h0m1 6h0m1-10h0m1-1h0m1 13h0m1-8h0m1 7h0m6-4h0m1-1h0m3-4h0m0 6h0m4-1h0m0-8h0m2 4h0m2 6h0m2 2h0m3-4h0m1 6h0m2-8h0m0-1h0m1-6h0m-6 18h0m-2-1h0m-2 11h0m0-7h0m-3 0h0m0-2h0m-1 6h0m-1 1h0m0-6h0m-1-3h0m-1 5h0m0-6h0m-3 9h0m-2-6h0m-1-2h0m-1 13h0m-3-6h0m-1 2h0m0-9h0m-1 0h0m0 0h0m-3 13h0m-1-1h0m-1-12h0m-1 12h0m0 1h0m-1-7h0m0 1h0m0 5h0m0-9h0m-1 7h0m0 2h0m0-6h0m-1-4h0m0 1h0m-2 5h0m0-2h0m-2 5h0m-1-11h0m-1 4h0m0 0h0m-2 1h0m-2-6h0m-1 11h0m-1-11h0m-1 3h0m0-2h0m-1 11h0m-2 3h0m-1-14h0m0 13h0m0-1h0m-1-13h0m-5 4h0m0-1h0m-2 6h0m-2 0h0m0-6h0m-3 8h0m-1 0h0m-1-5h0m-1-3h0m0 2h0m-1-5h0m-3 15h0m0-3h0m0-2h0m-1 4h0m-1 1h0m-1-4h0m-1-2h0m-4-8h0m0 5h0m-2 5h0m-1-6h0m-1-1h0m-5 2h0m0 0h0m-1 9h0m-1-14h0m0 9h0m-1 4h0m-2-6h0m-2-1h0m0 6h0m-1-9h0m-5-4h0m0 3h0m-3 4h0m-3 8h0m-3-15h0m0 7h0m-2 0h0m-4 2h0m-10-3h0m-3 8h0m0-6h0m-2-3h0m0 5h0m-2 1h0m-1 4h0m-1-12h0m0-1h0m0 12h0m-4-5h0m-5 3h0m-4 0h0m0-3h0m-4 2h0m-11-5h0m-1 5h0m-3-2h0m0 4h0m-22-5h0m-19-8h0m-5 5h0m-11 1h0m72 18h0m16 2h0m9-10h0m2 12h0m1-5h0m1-2h0m5 7h0m8-3h0m4-6h0m6 4h0m1-1h0m1-2h0m7-2h0m1 3h0m4-5h0m0 9h0m4-5h0m2-3h0m2 7h0m4 5h0m2 2h0m2-4h0m1 0h0m1-11h0m0 9h0m1-9h0m0 2h0m2 11h0m4-8h0m2 10h0m2-14h0m1 2h0m2 11h0m4-12h0m5 2h0m6-3h0m0 14h0m4-9h0m4-1h0m1-5h0m1 2h0m1 12h0m5-14h0m7 4h0m4 1h0m-31 18h0m-7 0h0m-2 5h0m-10-9h0m-10 5h0m-1 4h0m-3-4h0m-5 3h0m-4-3h0m-1 0h0m-1 7h0m-3-15h0m-5 5h0m-3 2h0m-1-2h0m-2-4h0m-15 1h0m0 7h0m-2-1h0m-1 7h0m-9-11h0m-2 6h0m-2 0h0m-34-2h0m-31-2h0m-4 6h0m-4-1h0m43 15h0m31 3h0m17-5h0m21-5h0m3 4h0m0-3h0m7 8h0m2-3h0m0-9h0m6 10h0m9-3h0m2 5h0m16 1h0m-13 8h0m-2-2h0m-9 9h0m0-4h0m-2-3h0m-2 9h0m-2-5h0m-1 1h0m-7-3h0m-11-2h0m-13-1h0m-48 1h0m-20-2h0m-24 7h0m-3-7h0m123 14h0m5 9h0m0-6h0m2 3h0m3 2h0m1 3h0m3-12h0m0 8h0m2 1h0m4-6h0m1 2h0m1 6h0m1-8h0m0 5h0m17 2h0m-10 14h0m-5-3h0m-12 2h0m-2 3h0m-1 4h0m-1-14h0m-1 6h0m-1 6h0m-83-1h0m-5 4h0m-46-12h0m68 23h0m33 0h0m35-7h0m3 5h0m1-6h0m11 10h0m1 2h0m2 0h0m2 0h0m1 2h0m0 15h0m-2-9h0m-3 0h0m-3-5h0m-2 0h0m-29 2h0m-6 9h0m-14-7h0m-4 5h0m-13 1h0m-1 1h0m-3 17h0m2-2h0m4-9h0m9 8h0m3-5h0m2 1h0m1 7h0m2-12h0m5 9h0m4-5h0m19 0h0m6 10h0m38 10h0m-13 6h0m-6-5h0m-1 5h0m-2 0h0m-2-14h0m-2 4h0m-19 5h0m-16-6h0m-12 5h0m0-2h0m-4 6h0m-6-13h0m-8 13h0m17 6h0m9 2h0m8 10h0m10-5h0m13-9h0m5 9h0m0-1h0m2-9h0m6 5h0m0 8h0m3-2h0m3-6h0m4 6h0m1 4h0m0-4h0m5 0h0m2-11h0m1 4h0m1 11h0m5-6h0m1 11h0m-1 2h0m-6-3h0m-4 7h0m-1-7h0m-3 12h0m-3-4h0m-5 2h0m-1-4h0m-3-6h0m-1-3h0m-5 7h0m-6 4h0m-10-3h0m0 6h0m-15-5h0m-7 1h0m0-1h0m0 13h0m3 3h0m4 0h0m6-1h0m28-7h0m8 0h0m6-1h0m5 7h0m-39 11h0" stroke="#808080" stroke-width="11.4" stroke-opacity="0.6"/></g><g clip-path="url(#cD)"><path class="d" transform="scale(.5)" d="M852 750h0m23 11h0m-2-3h0m-4 4h0m-4-3h0m-7 1h0m-2-2h0m-2 1h0m-1 4h0m-1 4h0m-1-3h0m-2-4h0m-4-7h0m-7 9h0m-46-10h0m-63 14h0m0-8h0m-3 6h0m-133 0h0m-33 16h0m19-7h0m4 8h0m1-2h0m1-10h0m5 10h0m48-11h0m38 12h0m17-9h0m4 8h0m25-10h0m2 5h0m20-3h0m20 1h0m24-1h0m38 5h0m5 4h0m1 0h0m0-7h0m2-3h0m1 0h0m1 5h0m8-1h0m5 6h0m2-11h0m0 4h0m2 3h0m4 7h0m1-11h0m0-3h0m1 4h0m1 6h0m2-2h0m1-7h0m0 3h0m2 6h0m1-9h0m0 12h0m0-11h0m4 5h0m1 2h0m0-5h0m1-4h0m1 11h0m1-3h0m0 3h0m1 3h0m2-14h0m0 12h0m1-1h0m2-1h0m4 4h0m3 3h0m-2 5h0m-1 6h0m0-6h0m-2-1h0m-2 6h0m-1-2h0m-1-1h0m-1-3h0m0 5h0m-2 3h0m-2-11h0m-1 6h0m-1-9h0m-3 14h0m0-14h0m-2 1h0m-1 8h0m-3-9h0m-1 9h0m-2-3h0m-6 6h0m-4-3h0m-1 5h0m-3-5h0m-1 5h0m0 1h0m-1-9h0m-3 7h0m-1-12h0m-1 10h0m-1-4h0m-1 4h0m-1-1h0m-2-5h0m-3 2h0m-1 7h0m0 1h0m-2-9h0m-6 8h0m-18-11h0m-81-2h0m-24 12h0m-21-4h0m-7-4h0m-56 1h0m0 0h0m-13 9h0m-6-10h0m-3-2h0m-1 2h0m-2 1h0m-3-3h0m-1-3h0m-1 4h0m-1 0h0m0 11h0m-1-1h0m0-9h0m0 1h0m-2 1h0m-3-5h0m0 6h0m-1-8h0m-5 8h0m-1-3h0m0 0h0m0 0h0m-2 2h0m-4-6h0m-1 11h0m-3 1h0m-3-8h0m8 12h0m9 11h0m6-12h0m0 8h0m1 0h0m1-5h0m2 8h0m3-5h0m1-5h0m3 0h0m6 2h0m2 10h0m37 1h0m26-13h0m110 13h0m2-1h0m12-9h0m1 4h0m20 5h0m6-10h0m6 5h0m1 4h0m4 0h0m4-4h0m0-3h0m0 3h0m0 1h0m2-5h0m0-3h0m0 9h0m0-1h0m3 4h0m1-5h0m0 0h0m2 7h0m0-4h0m0-1h0m1-6h0m0 1h0m1-4h0m1 4h0m1 10h0m0-1h0m1-2h0m2-7h0m1 3h0m1-1h0m1 2h0m1-1h0m0-3h0m1 2h0m1 6h0m2 1h0m4-12h0m1 4h0m0 8h0m0-1h0m2 1h0m0-4h0m1 4h0m0 1h0m0-2h0m1-12h0m7 14h0m4-14h0m1 10h0m0 1h0m3-7h0m1-2h0m0 1h0m1 11h0m0-1h0m3-1h0m5-1h0m0-10h0m0 4h0m1 0h0m2 2h0m1 2h0m-3 16h0m0-2h0m-1-6h0m-3 0h0m-1 10h0m-1-11h0m-1 9h0m-2 3h0m-1-9h0m0 9h0m-2-8h0m0 9h0m0-3h0m-4 2h0m-1-5h0m-1-5h0m0-1h0m0 6h0m-3-1h0m0-6h0m-3 0h0m-1 13h0m0-6h0m0-5h0m-2 0h0m-2 10h0m0 2h0m-2-1h0m-1-8h0m0-6h0m-2 13h0m-1-12h0m-1 1h0m-1-2h0m-1 12h0m0 0h0m-1 0h0m0-6h0m0-1h0m-2-4h0m0 8h0m0-8h0m0 0h0m-1 12h0m-1-12h0m-2 2h0m0 10h0m-1-4h0m0 3h0m-1-10h0m0 1h0m-1 11h0m-1-11h0m-1-3h0m-3 4h0m0-2h0m-1 12h0m0-5h0m0-4h0m-1-3h0m0 11h0m-1-8h0m-1-2h0m0 9h0m-1-6h0m0 8h0m-1-3h0m0-1h0m-1 0h0m0-8h0m0 11h0m-1-1h0m-2 1h0m-1 2h0m-1-13h0m-1 10h0m0-11h0m0 14h0m-1-12h0m-1-3h0m0 11h0m-1-2h0m-2-3h0m-1 9h0m0-1h0m-3-1h0m-7-10h0m-1 12h0m0-2h0m-1 0h0m-4 1h0m-2-9h0m-2 10h0m-1-5h0m-3 5h0m-4-8h0m-1 2h0m-3-3h0m-1 8h0m-2-9h0m0 7h0m-1-3h0m0-9h0m-1 15h0m-4-3h0m-2 0h0m-11-9h0m-2 3h0m-66 2h0m-14 0h0m-6-2h0m-5-5h0m-10 10h0m-6-5h0m-4 6h0m-5-7h0m-6-5h0m-3 3h0m-6 3h0m-3 9h0m-38-9h0m2 10h0m1 4h0m1-3h0m68 3h0m6 5h0m2-7h0m9 6h0m4-8h0m26 6h0m1 3h0m7 3h0m6-5h0m2-5h0m14 5h0m1 6h0m1 2h0m4-3h0m6 0h0m2 2h0m0-4h0m2-1h0m0-2h0m3 1h0m2-2h0m6 2h0m4 5h0m3-3h0m1 0h0m3 0h0m0 5h0m5-9h0m0 1h0m2-6h0m6 14h0m2-12h0m3-1h0m0 3h0m3-1h0m0 1h0m2 4h0m1 4h0m0-4h0m1 2h0m2-8h0m0 0h0m0 1h0m1-1h0m2 8h0m0-5h0m1 7h0m2-12h0m2 0h0m1 5h0m0-2h0m1 4h0m1-8h0m1 12h0m1-1h0m0-1h0m3 5h0m2-5h0m2 1h0m1-9h0m0 6h0m2 4h0m1-12h0m0 0h0m1 15h0m2 0h0m1-14h0m2 7h0m1 1h0m0 3h0m2 1h0m0-5h0m3-6h0m0-2h0m0 9h0m0 0h0m0-4h0m0 0h0m1-3h0m1 5h0m1-4h0m0 9h0m0-1h0m1-7h0m1 6h0m0-4h0m1 3h0m0 1h0m0-5h0m2 9h0m1-8h0m1 9h0m0-10h0m1-4h0m0 14h0m1-7h0m1-7h0m1 3h0m2 7h0m0-9h0m3 8h0m0 0h0m1 2h0m2 1h0m3-8h0m1 2h0m1 6h0m0-12h0m2 1h0m1 2h0m7 9h0m0-7h0m0 2h0m4-5h0m0 11h0m0-6h0m0-5h0m1 2h0m0 2h0m1-7h0m0 1h0m1-1h0m0 14h0m1-14h0m2 1h0m1 6h0m2-6h0m1 5h0m-6 17h0m-3-5h0m-3 5h0m-3-7h0m-1 8h0m-1-4h0m-1 0h0m-3 5h0m-1 3h0m0-10h0m-1 2h0m-2-4h0m-1 2h0m-1-2h0m0 6h0m0 9h0m-1-15h0m0 11h0m-2-9h0m-2-1h0m-4 0h0m0 10h0m-1 3h0m-3-9h0m0 4h0m0-4h0m0 7h0m0-7h0m-2-3h0m0 3h0m-1 3h0m-1 1h0m-2 0h0m0-8h0m-2 6h0m-1-3h0m-1 3h0m0 8h0m-1-5h0m-4-3h0m-5 0h0m-2 1h0m-2 0h0m-3 5h0m-1-1h0m-1 2h0m0-8h0m0 8h0m-2-2h0m-1 3h0m-1-8h0m-1 5h0m-7-7h0m-1 2h0m0-3h0m-1 10h0m-2-14h0m0 14h0m-1-14h0m0 5h0m0-1h0m0 6h0m-1 4h0m-1-14h0m-1 3h0m0 12h0m-2-6h0m0 3h0m-3 0h0m-3 1h0m0-10h0m-4 7h0m0-4h0m-1-4h0m-1 10h0m-4-8h0m-2-4h0m0 13h0m0-2h0m-7-11h0m0 12h0m-1-9h0m-3 0h0m0-2h0m0 7h0m-6-7h0m0 7h0m-1 2h0m-4-3h0m-9-6h0m-3 2h0m0 5h0m-5-8h0m-2 0h0m-6 6h0m-1-3h0m-29 4h0m-8 5h0m-10-9h0m-7 2h0m-9-3h0m-5 2h0m35 24h0m6-3h0m40-8h0m3 4h0m14-5h0m6 1h0m6-1h0m4 4h0m2 11h0m3-11h0m3 1h0m5 6h0m0-2h0m3 6h0m1-15h0m1 7h0m0 4h0m5-2h0m3 4h0m1-1h0m1 0h0m1-10h0m3 9h0m3-3h0m1 5h0m1-4h0m0 4h0m1-11h0m1 4h0m8 2h0m2-1h0m5-4h0m9-3h0m6 1h0m6 3h0m1-1h0m2 0h0m1 2h0m4-1h0m2 4h0m5-8h0m16 3h0m-43 14h0m-17 9h0m-13-9h0m-1 14h0m-2-14h0m-1 6h0m-2 8h0m-2-11h0m-4-1h0m-13 3h0m-24-5h0m-6 1h0m-19 1h0m-64 13h0m80 6h0m6 7h0m9 0h0m3-8h0m2-3h0m9 10h0m13 2h0m3-4h0m0-3h0m2-7h0m2 0h0m2 6h0m0-5h0m3 10h0m10-7h0m23 2h0m-20 11h0m-2 5h0m-5 2h0m-2 1h0m-1-3h0m-2-2h0m0 8h0m-2-11h0m-1 6h0m-2-6h0m0 4h0m-1 6h0m0-3h0m-1 5h0m-2-9h0m-5-2h0m-18 3h0m-6-3h0m-20 5h0m-67-4h0m121 17h0m1 0h0m0 0h0m2 11h0m1-5h0m3-6h0m2 3h0m1-3h0m1 8h0m15-8h0m5 11h0m-8 3h0m-1 10h0m0-8h0m-1 1h0m-3 3h0m-6 2h0m0-7h0m-2 0h0m0 11h0m-4-13h0m0 7h0m-2 7h0m-1-5h0m-2 3h0m-2-5h0m-67 3h0m-3-10h0m-4 18h0m7 2h0m9 10h0m7-1h0m21-1h0m36-13h0m2 5h0m6-4h0m0-1h0m2 12h0m22 2h0m-2 17h0m-20-6h0m-1-1h0m-7-6h0m-2 0h0m-9 7h0m-8 4h0m-17-1h0m-3-10h0m-19 2h0m-63-3h0m-6-1h0m79 22h0m0 7h0m0-7h0m3-2h0m0 2h0m1 2h0m0 4h0m1 0h0m2-6h0m0 9h0m2-14h0m0 10h0m0-6h0m4-3h0m0 9h0m2-10h0m6 4h0m7 7h0m31-3h0m1-9h0m4 12h0m1 3h0m8-2h0m14 0h0m-6 18h0m-5-11h0m-9-4h0m-3 9h0m-17 1h0m-1 4h0m0-12h0m-23 9h0m-10-5h0m-3-3h0m-3-2h0m-10 13h0m-49-6h0m25 8h0m13 6h0m8 7h0m6-8h0m24 6h0m14-3h0m2-8h0m5 4h0m14-4h0m5 0h0m2 3h0m2 9h0m4-2h0m4-10h0m0 2h0m2 7h0m1 3h0m0-1h0m3-8h0m2 17h0m-10-2h0m-1 2h0m-8-4h0m-2 1h0m-2 5h0m-1 1h0m0-6h0m-3-1h0m0 3h0m-13 3h0m-12 5h0m-17-10h0m-47 18h0m94 12h0m3-15h0m39 5h0" stroke="#808080" stroke-width="11.4" stroke-opacity="0.6"/></g><ellipse cx="393.6" cy="447.8" rx="19" ry="27" fill="#ff0000" transform="rotate(8 393.6 447.8)"/><g clip-path="url(#cD)"><path class="d" transform="scale(.5)" d="M711 777h0m26-4h0m80 5h0m5 13h0m-4 1h0m-9-4h0m-3 5h0m-9 5h0m-10 1h0m-9-15h0m-16 12h0m-2 3h0m-33-4h0m-19-10h0m-54 26h0m57-6h0m18 5h0m4 1h0m6-3h0m5 3h0m15-8h0m8-3h0m3 12h0m3 0h0m3 3h0m12-2h0m8-3h0m7-2h0m5 3h0m3 3h0m11-6h0m4-5h0m4 10h0m6 0h0m-7 9h0m-5 0h0m0 3h0m0 3h0m-4-1h0m-1 3h0m0-14h0m-1 14h0m-2-8h0m0 5h0m0-5h0m-1 2h0m0-6h0m-1 0h0m-2 11h0m-1 1h0m0-7h0m-3 4h0m0-6h0m-1 10h0m0-14h0m0 14h0m-3-12h0m0 11h0m-1-9h0m0 8h0m-1 0h0m0-5h0m-1 0h0m0 3h0m-2 4h0m-2-3h0m0 2h0m0-3h0m-1-3h0m0-2h0m-2 8h0m-1-4h0m0-2h0m-1 5h0m-1-8h0m0 7h0m-1 2h0m-1 0h0m0-6h0m0 3h0m0 4h0m-1-1h0m0-6h0m0 5h0m0-1h0m0-3h0m-1 0h0m-1-6h0m-1 5h0m-1 4h0m0-5h0m-1-7h0m0 2h0m0-1h0m-1 3h0m-2 2h0m-1 5h0m0 3h0m-1-5h0m-1 3h0m-1 0h0m-1-3h0m0 5h0m0-1h0m0-5h0m0 5h0m-1-12h0m-1 9h0m-2 5h0m0-2h0m-1-1h0m0 3h0m0-1h0m-2 1h0m-1-14h0m-1 2h0m-5 10h0m-1 2h0m-3-2h0m-1 1h0m-1-7h0m0 3h0m-3-3h0m0 5h0m-1 1h0m-5 0h0m-3-11h0m-1 9h0m-5 0h0m-1-8h0m-8 0h0m0 2h0m-3 8h0m-2-12h0m-4 12h0m-1-5h0m-18-7h0m-14 7h0m-8-7h0m-44 15h0m26 8h0m10 5h0m2-9h0m2 5h0m1 5h0m14-2h0m1-11h0m4 4h0m2 3h0m9-1h0m4 4h0m7-5h0m5-6h0m1 4h0m4 4h0m7-6h0m5 8h0m1 0h0m1 1h0m1 4h0m1-2h0m1-5h0m0-3h0m1 10h0m1 0h0m1-12h0m0 7h0m6 4h0m0-2h0m2 3h0m1 0h0m3-3h0m0 0h0m0 2h0m0-3h0m0-10h0m0 11h0m0 2h0m1 0h0m0-9h0m0 2h0m0-5h0m3 13h0m0-10h0m0 6h0m0 3h0m0-1h0m0-6h0m1 0h0m0-7h0m0 12h0m1-10h0m0 3h0m1 10h0m0-5h0m0-1h0m0 2h0m1-11h0m1 1h0m1 1h0m0 11h0m1-7h0m0 1h0m0 0h0m1-5h0m0 7h0m0 2h0m2 3h0m0-4h0m0-1h0m0 1h0m0-1h0m0-2h0m1 8h0m1-12h0m0-2h0m1 7h0m0-4h0m1-3h0m0 0h0m0 13h0m1-8h0m0-4h0m0-1h0m0-1h0m0 10h0m0-3h0m1-2h0m0 3h0m0-5h0m0 8h0m1-2h0m0 3h0m0-11h0m0 12h0m0-4h0m1-4h0m0 10h0m0-4h0m0-4h0m1-1h0m1 2h0m0 1h0m1-6h0m0-1h0m1 4h0m0 6h0m0-7h0m0-1h0m1 7h0m0-5h0m0 3h0m1 0h0m0 5h0m0-1h0m0-11h0m1 2h0m0 11h0m0-1h0m0-4h0m0 4h0m1-12h0m1 0h0m0 11h0m0-13h0m0 0h0m1 12h0m0-6h0m0 9h0m0-6h0m1-6h0m0-3h0m1 15h0m0-10h0m0 2h0m0 3h0m3 0h0m0 0h0m0 3h0m0-4h0m1-8h0m0 3h0m0 4h0m1 4h0m0-5h0m0 3h0m0 1h0m1-9h0m0 11h0m1 0h0m0-11h0m0 12h0m1-4h0m0-4h0m0 1h0m0 7h0m0-11h0m0 8h0m0 2h0m0-9h0m1 6h0m0 4h0m0-6h0m0 7h0m1-1h0m1-3h0m0-11h0m0 10h0m0-3h0m1 4h0m0-7h0m0 0h0m0 8h0m0 1h0m0-10h0m0-1h0m0 7h0m1-6h0m0 9h0m0-5h0m1 5h0m0 0h0m0-8h0m0 9h0m0-4h0m1-3h0m0-1h0m0 9h0m0-14h0m1 12h0m0-3h0m1 0h0m0-6h0m0 6h0m0 6h0m1-10h0m0 3h0m0 5h0m0 0h0m1-9h0m0 5h0m0-6h0m0 8h0m0-2h0m1-7h0m0 2h0m0 5h0m0 0h0m0-6h0m0 5h0m1 2h0m0-3h0m0-4h0m0 5h0m1-2h0m1 7h0m0-2h0m1-6h0m0-5h0m0 11h0m0 2h0m1-8h0m0-2h0m0 11h0m2-13h0m1-1h0m1 6h0m1-2h0m2 11h0m3-3h0m2 2h0m3-3h0m1 1h0m5-2h0m0-7h0m0 3h0m2 4h0m5 5h0m6-12h0m6 27h0m-7-14h0m-9 10h0m-1-3h0m0 6h0m-2-7h0m-1 4h0m-4-5h0m-1 5h0m0-6h0m-1 6h0m0-3h0m-1 2h0m0 3h0m-1-1h0m0-2h0m0-1h0m0 6h0m-1-2h0m0-9h0m-2 7h0m-1 2h0m-2-4h0m0-5h0m0 9h0m0-6h0m0 7h0m0 0h0m-1-12h0m0 13h0m-1-10h0m0 9h0m0-6h0m0-4h0m0 7h0m-1-5h0m0-5h0m0 5h0m0-1h0m-1 7h0m-1 2h0m0-6h0m0 1h0m-1 0h0m0 6h0m-1 0h0m0 1h0m-1 0h0m0-1h0m0-1h0m0-12h0m0 11h0m-1 2h0m0-14h0m0 8h0m-1 1h0m0 0h0m0-2h0m0 7h0m0 1h0m-1-7h0m0-7h0m0 12h0m0-9h0m-1 9h0m0-12h0m0 9h0m0-5h0m0-2h0m0 10h0m0-5h0m0 0h0m-1-7h0m0 6h0m0-1h0m0 8h0m0-13h0m-1 8h0m0-8h0m0-1h0m0 7h0m0-5h0m0 5h0m0 2h0m-1 5h0m0-13h0m0 11h0m0-3h0m-1-4h0m0-1h0m0 3h0m0-4h0m0 11h0m0-12h0m-1 13h0m-1-5h0m0-2h0m0-4h0m0 11h0m0-7h0m0-3h0m0 3h0m0-4h0m0-4h0m0 7h0m-1-1h0m0 2h0m0-4h0m-1-1h0m0 5h0m0 1h0m0-2h0m-1 4h0m0-9h0m0 13h0m0-10h0m0-1h0m0 7h0m0-5h0m0 6h0m0-5h0m-1-1h0m0-2h0m0-3h0m-1 6h0m0 3h0m0-1h0m0 5h0m0 1h0m0-4h0m0-1h0m0 3h0m0 0h0m-1-1h0m0 3h0m0-1h0m0-14h0m0 15h0m0-5h0m0 0h0m0 2h0m0-7h0m-1-3h0m0 11h0m0 1h0m0-8h0m0 8h0m-1-8h0m0 2h0m0 7h0m0-5h0m0 4h0m-1 1h0m0-2h0m0 1h0m0-7h0m0-4h0m0 5h0m0 3h0m0-3h0m0-1h0m-1 0h0m0 6h0m0 2h0m-1-8h0m0-1h0m0 5h0m-1-6h0m0 10h0m0-10h0m0-4h0m0 12h0m0 2h0m-1-4h0m0-11h0m0 11h0m0 4h0m0-7h0m0 3h0m0-2h0m-1 1h0m0 4h0m0-12h0m0 4h0m0 8h0m0-1h0m0 1h0m0-5h0m-1-2h0m0-7h0m-1 8h0m0 5h0m0 2h0m0-7h0m0 1h0m0 6h0m0-4h0m0-10h0m0 7h0m-1-8h0m0 4h0m-1 6h0m0-3h0m0 6h0m0 0h0m0-5h0m0-6h0m-1 9h0m0 2h0m0 2h0m0-10h0m0 9h0m0-6h0m0-3h0m-1-5h0m0 5h0m0-5h0m-1 12h0m0-7h0m0-5h0m0 5h0m0 9h0m-1-6h0m0-8h0m0 3h0m0 8h0m0-8h0m-1 8h0m0 0h0m0-11h0m0 11h0m0-9h0m-1 4h0m0 9h0m0-11h0m0 8h0m-1-4h0m0 4h0m0-5h0m0-5h0m0 2h0m0 7h0m0-10h0m-1 11h0m0-2h0m0-4h0m0 7h0m-1-8h0m0 4h0m0 3h0m0 2h0m0-9h0m0 4h0m-1-3h0m0 0h0m0 5h0m-1-9h0m0 12h0m0-13h0m-1 8h0m0 1h0m0-4h0m0 8h0m0-8h0m0-5h0m0 0h0m-1 5h0m0 7h0m0-7h0m0 9h0m-1-3h0m0 3h0m0-3h0m-1-3h0m0 2h0m0 3h0m0-8h0m0 7h0m0-3h0m-1-7h0m0 0h0m0-3h0m0 4h0m0-3h0m-1 12h0m0 1h0m-1-1h0m0-4h0m0-2h0m0-3h0m0 1h0m-1-5h0m0 14h0m0-13h0m-1 12h0m0-10h0m0 5h0m-1 3h0m0-10h0m0 7h0m0 4h0m0 1h0m-1 1h0m0-7h0m0 0h0m0-3h0m-1 5h0m0 3h0m-1-2h0m0 1h0m0-8h0m-1-2h0m0 5h0m-1-2h0m-1 1h0m-1 1h0m-2-5h0m0 6h0m0 7h0m0-6h0m0 0h0m-1 1h0m0 4h0m-1-5h0m0-7h0m-1 10h0m0 2h0m-1 0h0m0-2h0m0 3h0m0-6h0m-1 5h0m0-11h0m-1 0h0m0 13h0m0-12h0m-1 3h0m0 3h0m-1-7h0m-1 6h0m-2-3h0m-1 8h0m-1-4h0m0-3h0m-2-5h0m-1 12h0m-1 0h0m-1 0h0m-2-9h0m-1-2h0m-1 6h0m-5 0h0m-3 2h0m-1-3h0m0-7h0m-4 2h0m-6 6h0m0 4h0m-1-7h0m-1-2h0m-1 12h0m-1 0h0m-1 0h0m-8-11h0m-1 0h0m0 3h0m-1-2h0m-1 5h0m-1-2h0m-2-2h0m-3-5h0m0 9h0m-1 1h0m-3-11h0m-10 12h0m-1-5h0m-2-4h0m-9 11h0m-17-5h0m-21-9h0m3 21h0m1-2h0m9 9h0m13-7h0m19 0h0m8 0h0m4-1h0m1-3h0m0 10h0m2-9h0m3 1h0m2-1h0m1 10h0m2-10h0m1 3h0m3 0h0m3-5h0m1 5h0m1 6h0m0 1h0m3 1h0m2 0h0m1 0h0m2-2h0m2-10h0m1 6h0m1 3h0m2 3h0m0-13h0m1 11h0m2 4h0m0-11h0m2 11h0m0-7h0m4-4h0m2 10h0m0-14h0m0 1h0m1 9h0m1 0h0m3 4h0m0-4h0m1 0h0m0-7h0m1 4h0m1 0h0m0 0h0m0 4h0m1 3h0m1-8h0m0-5h0m0 10h0m1 1h0m0-6h0m1 9h0m1-9h0m1 3h0m0-1h0m0-1h0m0 7h0m1-3h0m1-1h0m0-9h0m0 14h0m1-1h0m0-12h0m0 11h0m0-7h0m0-2h0m1 4h0m0 5h0m0-1h0m1-9h0m0 5h0m0 1h0m0 4h0m0-4h0m0 1h0m1 3h0m0-6h0m0-4h0m0-2h0m0 0h0m0 7h0m0 5h0m1-8h0m0 10h0m0-6h0m0 4h0m0-5h0m1 7h0m0-3h0m0-12h0m1 4h0m0 8h0m0-12h0m0 15h0m1-15h0m0 11h0m0-4h0m1 8h0m0-3h0m0-5h0m0 3h0m1 1h0m0 2h0m0 0h0m1 1h0m0-2h0m0-12h0m0 14h0m1-1h0m0-8h0m1-1h0m0 4h0m0 5h0m0-7h0m0 5h0m0-4h0m0-1h0m0 6h0m0 2h0m1-1h0m0-11h0m0 13h0m0-9h0m0-5h0m1 4h0m0 9h0m0-13h0m1 8h0m0-9h0m0 5h0m1-5h0m0 15h0m0-11h0m1 9h0m0-9h0m0 5h0m0-7h0m1 2h0m0 11h0m1-11h0m0 0h0m0 8h0m0-10h0m0 0h0m0 0h0m1 13h0m0-14h0m0 1h0m0 7h0m1-4h0m0-5h0m0 11h0m0 0h0m0-10h0m1 10h0m0-3h0m0 2h0m0-8h0m0 6h0m1-7h0m0 13h0m0-7h0m0-3h0m0-3h0m1 11h0m0 1h0m0-13h0m0 14h0m0-13h0m0 12h0m0-11h0m1-2h0m0 8h0m0 5h0m0-6h0m1-4h0m0-2h0m0 8h0m0-9h0m0 12h0m1-4h0m0 1h0m0 6h0m0-5h0m0 4h0m1 0h0m0-10h0m0 10h0m0-1h0m0-3h0m0 5h0m0-9h0m1 7h0m0-10h0m0 8h0m0-8h0m1 0h0m0 0h0m0 10h0m0-12h0m0 14h0m0-10h0m0 5h0m0-3h0m0-4h0m1 5h0m0 2h0m0-4h0m0 5h0m0 1h0m0-8h0m0 9h0m1-6h0m0 6h0m0-13h0m0 6h0m0-5h0m0 9h0m0 5h0m1-13h0m0 5h0m0 1h0m0-3h0m0 9h0m0-9h0m0 4h0m0 2h0m0-4h0m0-5h0m0 5h0m0 4h0m1 3h0m0 0h0m0-5h0m0 1h0m0-7h0m0 6h0m0 4h0m1-10h0m0 11h0m0-10h0m0 4h0m0-4h0m0 2h0m0 2h0m0-5h0m0 8h0m1 2h0m0 1h0m0-4h0m0-9h0m0 1h0m0 12h0m1-10h0m0 11h0m0-12h0m0-2h0m0 13h0m0-6h0m1-4h0m0 0h0m0-2h0m0 9h0m0-9h0m0 0h0m0 5h0m0-4h0m1 1h0m0 2h0m0 7h0m0-9h0m0 2h0m1 3h0m0-6h0m0 0h0m0 11h0m0-2h0m0 0h0m0-5h0m1 5h0m0-7h0m0 2h0m0 5h0m0-10h0m0 2h0m1 4h0m0 3h0m1-8h0m0-1h0m0 0h0m0 8h0m0 5h0m0-13h0m1 0h0m0 13h0m0-3h0m0-7h0m0 9h0m0-3h0m1 4h0m0-1h0m0-7h0m0 8h0m0-8h0m0 5h0m0-2h0m0 0h0m1 4h0m0-2h0m1 1h0m0-3h0m0-5h0m0-5h0m0 2h0m0 9h0m0-11h0m0 7h0m1-6h0m0 9h0m0-7h0m0 3h0m0 1h0m0-3h0m1 8h0m0-4h0m0-1h0m0 7h0m0-13h0m0 0h0m0 1h0m1 12h0m0-2h0m0 1h0m0 2h0m0-11h0m0 4h0m0-5h0m0 5h0m1-3h0m0 9h0m0-11h0m1-2h0m0 14h0m0-1h0m0 0h0m0-8h0m0 1h0m0 1h0m1-6h0m0-2h0m0 12h0m1 2h0m0-14h0m0 9h0m0-3h0m1 3h0m0-1h0m0 2h0m0 2h0m0 2h0m0-1h0m0-13h0m0 8h0m1 1h0m0-3h0m0 8h0m0-10h0m0-1h0m0 0h0m1 9h0m0-10h0m0-2h0m0 10h0m0-2h0m1 3h0m0-4h0m0 8h0m0-2h0m1 2h0m0-6h0m0-8h0m0 3h0m0 7h0m0-6h0m1 3h0m0 2h0m0 2h0m1-8h0m0 0h0m0 4h0m0-1h0m0 0h0m0-2h0m0 6h0m1-3h0m0 6h0m0-1h0m0-7h0m0 9h0m0-10h0m0-4h0m0 8h0m1 0h0m0-9h0m0 0h0m0 1h0m1 12h0m0-10h0m0 10h0m1-11h0m0 0h0m0 13h0m2-9h0m0 3h0m0 1h0m0-6h0m1-3h0m0 9h0m0-7h0m0 6h0m0-4h0m0-3h0m1-2h0m0 10h0m1-8h0m0 8h0m0-5h0m0-4h0m1 11h0m0-7h0m0 3h0m0 0h0m0-7h0m1-1h0m2 2h0m0 12h0m1-7h0m0 8h0m0-11h0m2 10h0m0-1h0m1-3h0m0-6h0m3 3h0m0-6h0m0 14h0m0-1h0m0-4h0m1-4h0m0 9h0m1-5h0m1-1h0m0 2h0m0-11h0m1 1h0m0 2h0m1-1h0m1 4h0m0-2h0m3 7h0m14 1h0m28 19h0m-43-1h0m0-11h0m-1 1h0m-1-1h0m0 8h0m0-2h0m-1 3h0m0-4h0m0-1h0m-1 2h0m-2 5h0m0-7h0m0 4h0m0 3h0m-1-9h0m0 8h0m-1-12h0m0-1h0m-1 7h0m-1 7h0m-3-10h0m0-4h0m0 1h0m0 13h0m0-8h0m0-1h0m0 9h0m-1-5h0m0 1h0m0 2h0m0-10h0m-1-1h0m0 11h0m0-10h0m0 11h0m0-12h0m-1 13h0m0 1h0m0-8h0m-1 4h0m0 4h0m0-7h0m0 3h0m-1 4h0m0-3h0m0-4h0m0 0h0m-1 0h0m0 7h0m0-11h0m0 0h0m0-4h0m0 4h0m0-4h0m0 12h0m-1 1h0m0-12h0m0 0h0m0 13h0m-1-6h0m0 2h0m0-7h0m0 6h0m-1 0h0m0 2h0m0 4h0m0-2h0m-1-9h0m0 3h0m0-6h0m0-1h0m0 9h0m0-8h0m-1 7h0m0 0h0m0-2h0m0 7h0m-1-5h0m0-6h0m0 8h0m0 3h0m0-7h0m-1 6h0m0-2h0m0-8h0m-1 8h0m0 5h0m0-10h0m-1-1h0m0 5h0m0 1h0m0 0h0m0-5h0m0 0h0m0-3h0m-1 10h0m0 1h0m0-11h0m0-2h0m0 0h0m0 9h0m0-8h0m0 8h0m0 2h0m0-7h0m0 3h0m-1-2h0m-1 10h0m0 0h0m0-11h0m0 4h0m-1 5h0m0-2h0m0-11h0m0 8h0m0 2h0m0 5h0m-1-4h0m0-11h0m0 6h0m0-3h0m0 8h0m0 4h0m0-13h0m0 5h0m-1 4h0m0 2h0m-1-5h0m0-8h0m0 2h0m0 1h0m0 5h0m0-7h0m-1 12h0m0 2h0m0-9h0m0-3h0m0 5h0m0 5h0m0-6h0m0 5h0m-1-1h0m0 1h0m0 2h0m0-10h0m0 8h0m0-7h0m-1-4h0m0 4h0m0 0h0m0 1h0m0 5h0m0-2h0m0-9h0m-1 5h0m0-4h0m0 7h0m0-2h0m0 6h0m-1-7h0m0-1h0m0-4h0m0 10h0m0 1h0m-1 2h0m0-11h0m0-2h0m0 1h0m0 13h0m-1-3h0m0-8h0m0-3h0m0 13h0m0 1h0m0 1h0m0-9h0m0-6h0m-1 9h0m0-5h0m0 0h0m0-2h0m0 9h0m0 2h0m0-4h0m0-5h0m0 10h0m0-7h0m0 6h0m0-2h0m0-5h0m0-3h0m-1 4h0m0 5h0m0-5h0m0 8h0m0-10h0m0-3h0m0 7h0m0 3h0m0-11h0m-1 0h0m0 4h0m0-2h0m0 8h0m0 0h0m0-6h0m0 0h0m0 7h0m-1-9h0m0 12h0m0-1h0m0 1h0m0-7h0m0 5h0m0-11h0m-1-2h0m0 0h0m0 14h0m0-2h0m-1-2h0m0-7h0m0-1h0m0 8h0m0 4h0m0-11h0m0 9h0m0 0h0m0-5h0m-1-1h0m0-3h0m0 9h0m0-2h0m0 3h0m0-4h0m0 2h0m0-10h0m-1 1h0m0 7h0m0-8h0m0 14h0m0-8h0m0 7h0m0 1h0m0-10h0m0 1h0m-1 8h0m0-2h0m0-2h0m0-4h0m0 4h0m0-1h0m0-1h0m0 7h0m-1 0h0m0 0h0m0-8h0m0-3h0m0 9h0m0-13h0m0 9h0m-1 3h0m0-4h0m0-2h0m0 0h0m0-3h0m0 4h0m0-3h0m0 5h0m0 3h0m0-7h0m-1 5h0m0-2h0m-1-3h0m0 8h0m0-9h0m0 8h0m-1-10h0m0 3h0m0 5h0m0-1h0m0-7h0m0-2h0m0 15h0m0-7h0m-1 7h0m0-12h0m0 11h0m0-9h0m-1 4h0m0 6h0m0-9h0m0 1h0m0-6h0m0 3h0m-1 9h0m0-10h0m0 2h0m0-3h0m0 0h0m0 8h0m-1 2h0m0-9h0m0 10h0m0 0h0m0-2h0m0-10h0m0 13h0m0-12h0m0 2h0m0 8h0m0-8h0m0 2h0m0-2h0m-1 9h0m0-4h0m0-1h0m-1-7h0m0 5h0m0-3h0m0 12h0m0-12h0m0 5h0m0 0h0m0-8h0m0 1h0m0 1h0m0 1h0m-1-2h0m0 11h0m0-10h0m0 6h0m0 0h0m-1 5h0m0 2h0m0-11h0m0 3h0m0 8h0m0-3h0m0 1h0m-1-11h0m0 8h0m0 4h0m0 0h0m0-5h0m0-2h0m-1 0h0m0 1h0m0-7h0m-1 11h0m0-1h0m0-9h0m0 6h0m0 3h0m0-5h0m0-4h0m-1 13h0m0-7h0m0 2h0m0-1h0m0-4h0m0 0h0m0 7h0m0-3h0m-1 5h0m0-3h0m0 1h0m-1-3h0m0-1h0m0 7h0m0-5h0m0-4h0m0-5h0m0 14h0m-1 0h0m0-10h0m0-4h0m0 0h0m-1 8h0m0-8h0m-1 5h0m0 5h0m0 1h0m0-10h0m0 13h0m0-3h0m0 1h0m0-5h0m0 1h0m0-3h0m0-3h0m-2 8h0m-1 0h0m0 4h0m0-8h0m-1-6h0m0 12h0m0-7h0m-2 2h0m0-3h0m0 4h0m0 1h0m-1 3h0m0 0h0m0-1h0m-1-4h0m0-7h0m0 8h0m0-8h0m0 6h0m-1-2h0m0 7h0m0-8h0m0 0h0m-1 7h0m0 2h0m0-6h0m0-7h0m-1 6h0m-1-4h0m0 9h0m0-6h0m-1-3h0m-1 2h0m-1 0h0m0 8h0m0-6h0m-1 4h0m0 3h0m0-10h0m-1 9h0m0 0h0m0-4h0m-1-8h0m0 6h0m0-1h0m0 3h0m-1 0h0m0 7h0m0-6h0m0 0h0m-1-9h0m-1 4h0m0 2h0m0 4h0m0-7h0m-2 3h0m-3 3h0m-1-1h0m0-6h0m0 12h0m-1-14h0m-2 2h0m-1-1h0m-1 14h0m-1-8h0m-1-6h0m-1 4h0m0 4h0m-4-7h0m-1-1h0m-1 10h0m-1-5h0m-1 8h0m-1 0h0m-3 0h0m-3-12h0m0 13h0m-3-9h0m-1-4h0m-2-1h0m-2 7h0m-2-8h0m-5 11h0m-3-1h0m-1-7h0m-13-3h0m-26 12h0m-5-9h0m0 6h0m-4-3h0m25 17h0m4 0h0m6-4h0m3 5h0m2 5h0m1-3h0m12 0h0m6-8h0m3 10h0m2-11h0m0 6h0m4-1h0m4 0h0m1-5h0m1 0h0m0 1h0m0 9h0m2-11h0m2 0h0m1 7h0m1 4h0m0 1h0m3-9h0m2 1h0m1 3h0m1-1h0m1 6h0m0-9h0m1 3h0m1-1h0m1-5h0m0 10h0m0-5h0m1 1h0m1-5h0m0-1h0m1 1h0m0 8h0m0-4h0m0-4h0m1 8h0m1 5h0m1-8h0m0-6h0m0 2h0m1 2h0m0 10h0m0-1h0m1-8h0m0-3h0m0 3h0m1 8h0m0-7h0m0-5h0m1-1h0m0 0h0m0 10h0m1-7h0m0 9h0m0 3h0m0-3h0m1-11h0m0 13h0m1-14h0m0 9h0m0 4h0m0 1h0m0-9h0m1 5h0m0-8h0m0 11h0m1-13h0m0 3h0m0 4h0m1 8h0m0-11h0m0-1h0m1 12h0m0-14h0m0-1h0m0 4h0m1 11h0m0-1h0m0-5h0m0-2h0m0-6h0m0 1h0m1 11h0m0-2h0m0 2h0m1-11h0m0-1h0m1-1h0m0 9h0m0 1h0m0 0h0m0-4h0m0 4h0m1-6h0m0 5h0m0-2h0m0 3h0m0 5h0m1-1h0m0-1h0m0-10h0m0 7h0m0-9h0m1 4h0m1 0h0m0-3h0m0-1h0m0 12h0m0-1h0m0-5h0m0 8h0m0-14h0m0 8h0m1-9h0m1 4h0m0 5h0m0 6h0m0 0h0m0-14h0m1 8h0m0-1h0m0-3h0m0-1h0m0 4h0m0 4h0m1-5h0m0-2h0m0-3h0m0 6h0m0-7h0m1 5h0m0-2h0m0 11h0m0-15h0m0 8h0m0-3h0m0-2h0m1 7h0m0-5h0m0 2h0m0-1h0m0-2h0m0 1h0m1-4h0m0-1h0m0 4h0m0-2h0m1 4h0m0-2h0m0 5h0m0 4h0m0-11h0m0 8h0m1 3h0m0-10h0m0 0h0m1 4h0m0 4h0m0-9h0m0 4h0m0 0h0m0 3h0m0 2h0m1-1h0m0 2h0m0-11h0m0 11h0m0-4h0m0-8h0m0 12h0m0-5h0m1-3h0m0 3h0m0-3h0m0 7h0m1-6h0m0 2h0m0-1h0m0-4h0m0 1h0m0 6h0m0-5h0m1-1h0m0-3h0m0 4h0m0 9h0m0-4h0m0 4h0m0-13h0m0 10h0m1 3h0m0-10h0m0 11h0m0-5h0m0-8h0m0 10h0m1-10h0m0 13h0m0 0h0m0-7h0m0 7h0m0-5h0m0-2h0m1-6h0m0 1h0m0 10h0m0-2h0m0 1h0m0-1h0m0-4h0m0 8h0m0-14h0m1 4h0m0 10h0m0-7h0m0 4h0m1 3h0m0-8h0m0 4h0m0-4h0m0 0h0m0 2h0m0-1h0m0-4h0m0 12h0m1 0h0m0 0h0m0-3h0m0-6h0m0-3h0m0 9h0m0-9h0m0 6h0m0 5h0m0-5h0m1-8h0m0-1h0m0 8h0m0 2h0m1-3h0m0 0h0m0-3h0m0 2h0m0 4h0m0-6h0m1 4h0m0 5h0m0-12h0m0 14h0m0-1h0m0-7h0m0 0h0m0 5h0m0-10h0m1 0h0m0 5h0m0-3h0m0 10h0m0 0h0m0-9h0m0 2h0m1 8h0m0 0h0m0-4h0m0-11h0m0 7h0m0 4h0m0-4h0m0-2h0m0 4h0m1-1h0m0 5h0m0-10h0m0 6h0m0-7h0m1 12h0m0-7h0m0-5h0m0-2h0m0 1h0m0 5h0m1-6h0m0 0h0m0 3h0m0 1h0m0 5h0m0 5h0m0-3h0m0-6h0m0-3h0m0 6h0m0-7h0m0 1h0m0-1h0m0 1h0m1 9h0m0-4h0m0 2h0m0-2h0m0-3h0m1 2h0m0 1h0m0 8h0m0-9h0m0-1h0m0-1h0m0 1h0m0 9h0m0-5h0m1-6h0m0 4h0m0-4h0m0 8h0m0-6h0m0-5h0m0 4h0m0 0h0m0 8h0m0-3h0m1 6h0m0-7h0m0-6h0m0 13h0m0-2h0m0-9h0m1 10h0m0-5h0m0-3h0m0 7h0m0-6h0m1 6h0m0-10h0m0 2h0m0 8h0m0-8h0m1 6h0m0 3h0m0-1h0m0-7h0m0-1h0m0-4h0m0 2h0m0 8h0m0 0h0m0-4h0m0 8h0m1-11h0m0 3h0m0 0h0m1 3h0m0-10h0m0 13h0m1-7h0m0-5h0m0 10h0m0-7h0m1 7h0m0 2h0m0-9h0m0-4h0m0 7h0m1-3h0m0-4h0m0 8h0m0-3h0m0 4h0m0 5h0m0-4h0m0-10h0m0 13h0m0 2h0m1-7h0m0 7h0m0 0h0m0-3h0m0-4h0m0-4h0m0 4h0m0-3h0m0 10h0m1 0h0m0-2h0m0 2h0m0-11h0m1-2h0m0 12h0m0-2h0m0-3h0m0-8h0m1 0h0m0 6h0m0 2h0m0 6h0m0-7h0m0-3h0m1 7h0m0-2h0m0 4h0m0-7h0m0-5h0m0 13h0m0-6h0m1-7h0m0 1h0m0 0h0m0 3h0m1 3h0m0-9h0m0 10h0m0-10h0m0 2h0m0-1h0m0 9h0m1-5h0m0 0h0m0 9h0m0-6h0m1-5h0m0 6h0m0 2h0m0-9h0m0 8h0m1 0h0m0-7h0m0 2h0m1-5h0m0 1h0m0 3h0m1 10h0m0-11h0m0 9h0m0 0h0m2-2h0m0-8h0m0 10h0m2-4h0m0 2h0m1 2h0m1-8h0m0 11h0m1-14h0m1 4h0m1-3h0m0 0h0m1-2h0m0 4h0m0-3h0m1 7h0m1-8h0m0 9h0m2-3h0m1 6h0m1 1h0m1-9h0m1-1h0m1 12h0m3-6h0m1-9h0m1 9h0m0-2h0m1 5h0m19-10h0m-16 27h0m-6-11h0m0-2h0m-5 2h0m0 6h0m-4-8h0m0 4h0m-1-3h0m0 12h0m0-2h0m-1-2h0m0 6h0m0-2h0m-1 2h0m0-7h0m0-6h0m0-1h0m-1 4h0m0 9h0m0-13h0m-1 10h0m-1-9h0m0 11h0m-1-1h0m0-8h0m0 1h0m0-2h0m0 6h0m0-9h0m-1 5h0m0-2h0m0 2h0m-1-1h0m-1 1h0m0 9h0m0-6h0m0-5h0m-1 8h0m0-11h0m0 5h0m0-5h0m0 13h0m-1-6h0m0 8h0m0-15h0m0 6h0m-1-2h0m0 4h0m0-5h0m-1-2h0m0 5h0m0-1h0m0 2h0m0 8h0m0-6h0m-1-9h0m0 15h0m0-13h0m0 9h0m-1-11h0m0 8h0m-1 6h0m0 1h0m0-3h0m0-9h0m-1 3h0m0 8h0m0-13h0m0 4h0m0 2h0m0-2h0m0 0h0m0-4h0m-1-1h0m0 13h0m0 1h0m-1 1h0m0-15h0m0 0h0m0 13h0m0-3h0m0-3h0m0 7h0m-1-12h0m0 7h0m0-3h0m0 1h0m-1-3h0m0 1h0m0-4h0m0 3h0m0 7h0m0-1h0m0-3h0m0 4h0m-2 2h0m0-9h0m0-4h0m0 4h0m0 2h0m0-3h0m-1 8h0m0-8h0m-1 8h0m0-4h0m0 0h0m0-1h0m-1-2h0m0 11h0m0-12h0m0-1h0m0 1h0m0 10h0m0 2h0m0-11h0m0 0h0m0 8h0m0 3h0m0-11h0m-1 5h0m0 6h0m0-15h0m0 9h0m0 4h0m0-12h0m0 12h0m-1-10h0m0-2h0m0 12h0m0-12h0m0 4h0m-1-4h0m0 4h0m0 9h0m-1-6h0m0 2h0m0-4h0m0 4h0m-1 0h0m0 4h0m0-9h0m0 2h0m0 8h0m0-2h0m0-13h0m-1 6h0m0 0h0m0 3h0m0-3h0m0 5h0m-1 4h0m0-2h0m0-6h0m0-6h0m0 3h0m0 4h0m0-5h0m0 0h0m0 11h0m-1-7h0m0-7h0m0 14h0m0-11h0m0 5h0m-1 5h0m0 2h0m0-8h0m0 4h0m0 4h0m0-7h0m0 0h0m-1 7h0m0-12h0m0 7h0m0 2h0m0 1h0m-1-11h0m0 4h0m0 0h0m0-6h0m0 2h0m0 9h0m0-11h0m0 2h0m0 13h0m0-3h0m0-8h0m0 10h0m0-13h0m0 7h0m-1 5h0m0-7h0m0 7h0m0-5h0m0-1h0m0 7h0m0-8h0m0-6h0m0 5h0m-1 2h0m0-4h0m0 1h0m-1 10h0m0-1h0m0-7h0m0-3h0m0-2h0m-1 10h0m0-4h0m0 6h0m0-4h0m0-4h0m0-5h0m0 8h0m0 2h0m0-7h0m0 4h0m0 7h0m-1-7h0m0 7h0m0-6h0m0-5h0m0 7h0m-1-4h0m0 2h0m0-8h0m-1 14h0m0-7h0m0 3h0m0-1h0m0 5h0m-1-9h0m0 7h0m0-2h0m0 2h0m-1-2h0m0 1h0m0 2h0m0 2h0m-1-11h0m0 9h0m0 2h0m0-13h0m0 3h0m0 9h0m0-8h0m-1-1h0m0 5h0m0-5h0m0 10h0m0-8h0m0 4h0m0 3h0m0 1h0m-1-12h0m0 6h0m0 5h0m0-6h0m0-1h0m0-7h0m0 3h0m0 1h0m-1 10h0m0-7h0m0 5h0m0-4h0m0 2h0m0-5h0m-1 4h0m0 6h0m0-9h0m-1 3h0m0 3h0m0-6h0m0 9h0m0-3h0m0-8h0m-1 6h0m0-6h0m0-4h0m0 7h0m-1-7h0m0 0h0m0 15h0m0-13h0m-1 5h0m0-6h0m0 13h0m0-10h0m0 5h0m0 1h0m0 1h0m0-9h0m-1 5h0m0 8h0m0-8h0m0-2h0m0 8h0m0-2h0m-1 2h0m0 0h0m-1 2h0m0-4h0m0 4h0m-1 0h0m0-8h0m0 5h0m0-9h0m0 6h0m-1 4h0m0-9h0m0-2h0m0 3h0m0-3h0m0 7h0m0 4h0m-1-13h0m0 3h0m0 5h0m0 6h0m0-9h0m-1 8h0m0-7h0m0 7h0m0-13h0m0 15h0m0-11h0m-1 11h0m0-6h0m-1-1h0m0 4h0m0 3h0m0-9h0m0 0h0m0 5h0m0 2h0m0-1h0m0-12h0m-1 13h0m0 0h0m-1-9h0m0-3h0m0 8h0m0-9h0m0 3h0m-1-2h0m0 11h0m0 2h0m0-9h0m0 6h0m-1-10h0m0 13h0m0-13h0m-1 14h0m0-14h0m0 6h0m-1 4h0m0 1h0m-1 2h0m0-7h0m-1 2h0m0-9h0m-1 1h0m0 0h0m0-1h0m-1 14h0m0-3h0m0-11h0m0 3h0m-1 5h0m-1 6h0m-1-1h0m0-13h0m0 0h0m0 5h0m0-3h0m0 4h0m-1 8h0m0 0h0m0-12h0m0 1h0m0 2h0m-1 1h0m0 0h0m-1 6h0m0-12h0m0 11h0m0-3h0m-1 6h0m0-8h0m0 2h0m0-4h0m0 1h0m-1 3h0m0 3h0m-1-7h0m0 7h0m0 4h0m-1-12h0m-1 3h0m0 1h0m-1-2h0m-1 2h0m-5 5h0m-2-9h0m-1-3h0m-4 5h0m-1-3h0m-7 8h0m-3-6h0m-2 6h0m0-10h0m-1 6h0m0 4h0m-4-4h0m-1-3h0m-3 3h0m-1 0h0m-18 0h0m-13-5h0m-1 6h0m-9 17h0m22-3h0m22-1h0m8 10h0m10-10h0m1-2h0m3 7h0m3-4h0m0 5h0m1-1h0m2-3h0m4 3h0m0-9h0m4 13h0m0-3h0m0-5h0m1-5h0m0 4h0m1 5h0m0-1h0m0-7h0m1 3h0m1-2h0m0-2h0m1 12h0m1-6h0m0-2h0m0-2h0m1-2h0m0 8h0m0 1h0m1-2h0m0 3h0m1 1h0m1-7h0m1-3h0m0-1h0m0 13h0m1-13h0m0 4h0m1 6h0m0-2h0m1 0h0m0 6h0m0-13h0m0 0h0m0 13h0m1-3h0m0 2h0m0-4h0m1-4h0m0-5h0m0 3h0m0 2h0m0 6h0m0-1h0m1 4h0m0-12h0m0 2h0m1 1h0m0 2h0m0 0h0m0 8h0m0-15h0m1 0h0m0 9h0m0 6h0m0-15h0m1 6h0m0 1h0m0 3h0m1-4h0m0 8h0m1-7h0m0 8h0m0-2h0m0-4h0m0-6h0m0 1h0m0 2h0m1 0h0m0 3h0m0 1h0m0-7h0m0 4h0m0 6h0m0-2h0m1-10h0m0-1h0m0 5h0m0-3h0m0 1h0m0 6h0m1-5h0m1-3h0m0 4h0m0-5h0m0 7h0m0 0h0m1 2h0m0-4h0m0-3h0m0 10h0m1 3h0m0-3h0m0-10h0m1 4h0m0-4h0m0 7h0m0-1h0m0-7h0m0 7h0m0-1h0m1-2h0m0 0h0m0 8h0m0-10h0m0 5h0m1-2h0m0-2h0m0 5h0m0 3h0m0-9h0m0 2h0m1 7h0m0-7h0m0 10h0m0-8h0m0-5h0m0 4h0m0 7h0m1 0h0m0-11h0m0 13h0m0-13h0m0 12h0m1-4h0m0 4h0m0-4h0m0-10h0m0 3h0m0 9h0m0-7h0m0 8h0m1-10h0m0 7h0m0-9h0m1 3h0m0 4h0m0-2h0m0-5h0m1 11h0m0-3h0m0-5h0m0 7h0m0-6h0m0 8h0m0-9h0m0 3h0m0 7h0m0-11h0m0 2h0m1-2h0m0 6h0m0-3h0m1-4h0m0 1h0m0-2h0m0 2h0m0 8h0m0-3h0m1-7h0m1 7h0m0-4h0m1 2h0m0-2h0m0 4h0m0 7h0m0-6h0m0 4h0m0-7h0m1 3h0m0-3h0m0 6h0m0-6h0m0 4h0m1-2h0m0-4h0m0 4h0m0 6h0m1-6h0m0-8h0m0 2h0m0 0h0m0 2h0m0 5h0m0 5h0m0-3h0m1 3h0m0-8h0m0 5h0m0-11h0m0 5h0m0 2h0m0 6h0m0-13h0m1 13h0m0-13h0m0 5h0m0 2h0m0 4h0m0-6h0m0 5h0m0-8h0m0 9h0m0 0h0m0-5h0m0 8h0m0-1h0m0-6h0m1 3h0m0-6h0m1 11h0m0-6h0m0-4h0m0 7h0m0-8h0m0 11h0m0-11h0m0 11h0m0-2h0m1-9h0m0 11h0m0-8h0m1 2h0m0 1h0m0-1h0m0-4h0m0 6h0m0-6h0m1 7h0m0-8h0m0 11h0m0-13h0m1 10h0m0-3h0m0 3h0m0-12h0m0 13h0m0-13h0m0 14h0m0 1h0m1-11h0m1 10h0m0-10h0m0-4h0m0 10h0m0 4h0m1 0h0m0-1h0m0-9h0m0 3h0m1-1h0m0 8h0m0-3h0m0-10h0m0 3h0m1 11h0m0-9h0m0-1h0m0 7h0m1-7h0m0 10h0m0-8h0m0 2h0m0-8h0m1 11h0m0-1h0m0-8h0m1 5h0m0 5h0m0 1h0m0-5h0m0-5h0m1 1h0m0 1h0m0 7h0m1 0h0m0 2h0m0-9h0m0 7h0m0-9h0m0 8h0m0-3h0m1-4h0m0-5h0m0 11h0m1-5h0m0 9h0m0-9h0m0 4h0m1-9h0m0 1h0m1 7h0m1 0h0m0-6h0m0 8h0m1 0h0m0-9h0m0 2h0m1 11h0m0-7h0m0-6h0m0 9h0m0-7h0m0 2h0m0-5h0m2 7h0m0 0h0m0-4h0m0 3h0m1 7h0m1-9h0m0 7h0m1 1h0m0 1h0m0-7h0m0 2h0m2-7h0m0 8h0m0 1h0m0-2h0m1-9h0m0 8h0m2-4h0m0 8h0m0-9h0m6 6h0m0-5h0m0-1h0m0 22h0m-1 5h0m-3-7h0m-1-2h0m-2 9h0m-5-12h0m-1 4h0m-2 1h0m-2-6h0m0 9h0m-1-2h0m-1-7h0m-1 14h0m-1-14h0m0 6h0m0-1h0m0 9h0m-1-5h0m-1-1h0m-1-2h0m-1 0h0m-1-6h0m0 14h0m0-11h0m-1 4h0m0-5h0m-1-2h0m0 7h0m0 6h0m0-12h0m-1-1h0m0-1h0m0 0h0m0 9h0m0 4h0m-1-7h0m-1 8h0m0-12h0m0 7h0m-1 2h0m0 4h0m0-10h0m0 5h0m0 2h0m0-10h0m0 12h0m-1-6h0m0 3h0m-1 1h0m0-10h0m0-2h0m0 0h0m-1 1h0m0 3h0m0 3h0m0 5h0m0-7h0m0 4h0m-1-9h0m0 3h0m0 6h0m0-8h0m-1 5h0m0 9h0m0-13h0m0 10h0m0-1h0m0-1h0m0-10h0m0 15h0m0 0h0m0-1h0m0 1h0m0-9h0m0-6h0m-1 14h0m0-9h0m0-4h0m0 6h0m0-7h0m-1 13h0m0-5h0m0 5h0m0 0h0m-1-13h0m0 10h0m0-6h0m0-4h0m-1 11h0m0-9h0m0-2h0m0 13h0m0-13h0m-1 13h0m0-9h0m-1 3h0m0 1h0m0 5h0m0-6h0m0 0h0m0-2h0m-1-4h0m0 2h0m0-1h0m0 2h0m0 4h0m0 0h0m0 0h0m-1 5h0m0 0h0m0-3h0m-1-7h0m0 12h0m0 0h0m0-9h0m0 2h0m0-2h0m0 9h0m-1-15h0m0 3h0m0 10h0m0 1h0m0-7h0m0 7h0m0-1h0m-1 1h0m0-14h0m0 14h0m0-3h0m0-5h0m0 8h0m0-5h0m-1-9h0m0 12h0m0-7h0m0-3h0m0-1h0m-1 10h0m0 3h0m-1-3h0m0-6h0m0 4h0m0-3h0m-1 9h0m0-4h0m0-10h0m0 9h0m0-1h0m0 4h0m-1-10h0m0 9h0m0 2h0m0-4h0m0-5h0m0-1h0m0 2h0m0 9h0m0-13h0m-1 8h0m0 2h0m0 0h0m0-6h0m0 9h0m-1-2h0m0-8h0m0 6h0m0-4h0m-1 8h0m-1-8h0m0-3h0m0 5h0m0-8h0m0 6h0m-1-5h0m0-1h0m0 9h0m0-3h0m0 6h0m-1-7h0m0-2h0m0 0h0m0 0h0m0 7h0m-1-4h0m0-7h0m0 3h0m0 3h0m0-1h0m-1 5h0m0-5h0m0-2h0m0 0h0m0 2h0m0-4h0m0 12h0m-1-10h0m-1 7h0m0-10h0m-1 9h0m0-6h0m-1 2h0m0 8h0m0-12h0m-1 3h0m0-2h0m0 0h0m-1 4h0m0-4h0m-1 8h0m0 2h0m-1-8h0m0 5h0m-1-3h0m0 3h0m0-7h0m-1 2h0m0 6h0m0 4h0m-1-11h0m0 3h0m-1 5h0m-2 1h0m-1-7h0m-3 5h0m-2-3h0m0-7h0m-1 14h0m0-10h0m-1-4h0m-3 12h0m-1-12h0m-5 5h0m-4 10h0m-3-15h0m0 0h0m-46 6h0m-8-1h0m59 26h0m0-11h0m11 8h0m0-4h0m5-6h0m1-2h0m1 0h0m4 8h0m1 7h0m1-4h0m1-8h0m0 4h0m0 2h0m1-2h0m0-2h0m1 4h0m0-1h0m0 5h0m1-11h0m2 11h0m1-12h0m0 5h0m1 1h0m0-3h0m2-1h0m0 3h0m0-2h0m0 0h0m0 10h0m1 0h0m0-3h0m0-8h0m1-3h0m0 6h0m1-4h0m0 9h0m0-10h0m0 4h0m0-3h0m0 1h0m1 3h0m0-1h0m0-1h0m0 5h0m1-4h0m0 0h0m0 0h0m0 9h0m0-13h0m1 0h0m0 12h0m0 0h0m0-12h0m0 14h0m0-3h0m1-5h0m0-2h0m1 8h0m0-12h0m1 8h0m0-8h0m0-1h0m1 9h0m1-1h0m0 1h0m0-2h0m0 0h0m0-1h0m0 3h0m1 2h0m0-6h0m0 8h0m1-8h0m0 1h0m1-4h0m1-1h0m0 10h0m0-1h0m0-10h0m1 3h0m1 11h0m0 1h0m0-4h0m1-5h0m1 0h0m1-4h0m0-1h0m1 1h0m0 6h0m0 3h0m1-2h0m0 4h0m1-13h0m0 3h0m1-3h0m0 14h0m1-4h0m0-8h0m0 13h0m1-14h0m0 8h0m0-2h0m1-7h0m1 9h0m0-7h0m0 2h0m1 2h0m0 5h0m0 3h0m1-14h0m1 1h0m0 4h0m0 4h0m0-2h0m0-3h0m1 8h0m0-8h0m1 2h0m0-5h0m1 10h0m2-6h0m1 1h0m1-6h0m1 11h0m3 3h0m0-7h0m3-7h0m0 10h0m3 2h0m2-9h0m1 4h0m4 6h0m-13 14h0m-5-4h0m0 2h0m-1 5h0m-1-3h0m-2-9h0m0 7h0m-2-5h0m0 0h0m-1 6h0m0 5h0m-1-7h0m-2-4h0m-1 11h0m-1-13h0m-1 0h0m0 5h0m-1-5h0m0 2h0m0-3h0m0-1h0m-1 6h0m0-6h0m0 11h0m-1-11h0m-1 10h0m0 4h0m0-14h0m-3 3h0m0 9h0m0 1h0m0-8h0m0 4h0m0 0h0m-1-1h0m0-7h0m0 9h0m-1-3h0m0 2h0m0-6h0m-1-3h0m0 14h0m0-12h0m0 8h0m-1 4h0m0-8h0m0-6h0m-1 9h0m0-8h0m-1 0h0m0-1h0m0 2h0m-1 3h0m0 3h0m-1-8h0m0 2h0m0 10h0m0 2h0m-1-6h0m0-8h0m-1 2h0m0 13h0m0-9h0m-1-4h0m-1 0h0m0 0h0m0-1h0m-1 1h0m-1-1h0m-1 13h0m0 0h0m0 1h0m-1-9h0m0-4h0m-2 5h0m-1 0h0m-1 4h0m-1-10h0m0 11h0m-2-5h0m0-3h0m-1 9h0m-1-8h0m-1-3h0m0-1h0m-1 12h0m-2-11h0m0-2h0m-2 4h0m-1 0h0m-3 2h0m-6-6h0m-27 17h0m17 6h0m15-3h0m6-4h0m5 12h0m2 3h0m4-14h0m1 8h0m1-8h0m1 9h0m0-10h0m1 15h0m2-12h0m1-2h0m1 13h0m2-6h0m0-7h0m0 14h0m2-3h0m1-5h0m3-2h0m1 8h0m0-9h0m3-2h0m1 5h0m2-7h0m2 1h0m4 13h0m4-1h0m1-7h0m2 3h0m1-2h0m1 2h0m0 3h0m5-5h0m11 10h0m-34 4h0m-2 0h0m-1 4h0m-4-8h0m-12 1h0m-17 1h0m-18-1h0m34 22h0m1-8h0m28 1h0m7 3h0" stroke="#ff0000" stroke-width="4.4"/></g><g><path class="d" transform="scale(.5)" d="M574 1024h0" stroke="#808080" stroke-width="10.8" stroke-opacity="0.5"/></g><g><path class="d" transform="scale(.5)" d="M574 1058h0" stroke="#ff0000" stroke-width="4.0"/></g><text x="298.5" y="516.1" text-anchor="start" >MSA</text><text x="298.5" y="533.0" text-anchor="start" >rCM</text><g clip-path="url(#cE)"><path class="d" transform="scale(.5)" d="M1187 751h0m65-3h0m62 2h0m18 11h0m0-2h0m-4 5h0m-1 0h0m-6 3h0m0-4h0m0-2h0m0-4h0m-2-1h0m-4 6h0m-3 4h0m-1-11h0m-2 5h0m-1-3h0m-3 4h0m-3-4h0m0 3h0m-38 4h0m-50 2h0m-19-9h0m-4 10h0m-2-9h0m0-2h0m-3 8h0m-36 2h0m-93-6h0m-26 23h0m3-5h0m4 0h0m3 0h0m1 4h0m2-14h0m8 15h0m5-5h0m5 3h0m54-11h0m25 12h0m7-2h0m16 0h0m12 2h0m9 1h0m7-11h0m7 6h0m16-4h0m1 6h0m32-9h0m42-3h0m0 2h0m1 10h0m1 0h0m2-10h0m2 12h0m2-12h0m1-2h0m0 10h0m2-7h0m0 9h0m2-4h0m0 1h0m1-3h0m5 7h0m0-7h0m1 6h0m0 2h0m0-8h0m1 7h0m0-12h0m2 4h0m2 1h0m0 5h0m2-7h0m0 7h0m2 0h0m2-1h0m1 0h0m3 1h0m0 2h0m3-1h0m1-1h0m0 3h0m1-6h0m2 0h0m2 3h0m0 4h0m1-10h0m1 9h0m1-2h0m2-5h0m5 8h0m3 3h0m-2 5h0m0-7h0m-1 7h0m-1-3h0m-4-1h0m-2 2h0m-2 3h0m-2-1h0m0-1h0m0-3h0m0 4h0m-1 2h0m0 5h0m-1-14h0m-1 11h0m-1-5h0m-1-6h0m0 13h0m-1-12h0m-1 10h0m-1-3h0m-6-2h0m-2 4h0m-4 2h0m-1-11h0m-9 9h0m-4 5h0m0-1h0m-2-7h0m-1 4h0m0-2h0m-2-9h0m-2 8h0m-3-2h0m0 5h0m-1-3h0m-3 5h0m-48-8h0m-43-3h0m-55 0h0m-2 7h0m-7-4h0m-38 10h0m-18-2h0m-6-9h0m-7 11h0m-1-4h0m-3-1h0m-5-3h0m-1 3h0m-1 1h0m-1-5h0m-2-6h0m-3 13h0m-1-2h0m0-7h0m-2-2h0m-1 5h0m-1-3h0m0 11h0m-3-10h0m-1 3h0m-3 2h0m-9 2h0m-3 0h0m-3-7h0m11 15h0m12 4h0m5-5h0m0 11h0m1-14h0m5 1h0m1 5h0m22 4h0m13-8h0m24 9h0m4 3h0m13-11h0m68 0h0m38 10h0m9-11h0m3 2h0m14 8h0m13-3h0m6-1h0m8-5h0m0 10h0m1-13h0m1 7h0m1 2h0m1-5h0m1 9h0m1-8h0m1-3h0m1 3h0m3 3h0m2 7h0m3-6h0m2-2h0m1-3h0m2-2h0m3 12h0m5 0h0m0-9h0m0 8h0m1-4h0m0-5h0m2 6h0m0 3h0m2 1h0m1-9h0m0 9h0m2-4h0m1-6h0m1-2h0m1 0h0m0 13h0m0-9h0m1 8h0m1-14h0m0 4h0m1 5h0m6 5h0m0-3h0m1 4h0m4 0h0m3-8h0m0-3h0m1 8h0m3 2h0m1-4h0m-2 17h0m-2-3h0m-1 1h0m-2-7h0m-1 10h0m-2-2h0m-1 5h0m-2-11h0m-1 10h0m-1-7h0m0 7h0m0-2h0m0-1h0m-2-3h0m-3-3h0m0 8h0m0-7h0m0-5h0m-3-1h0m-4 4h0m-2 10h0m0-4h0m0 3h0m-1-2h0m0 2h0m-1-8h0m-1-4h0m-3 5h0m0 2h0m-1-8h0m-1 14h0m0 1h0m-2-7h0m-2 4h0m-3-11h0m-2 0h0m0 14h0m-1-4h0m0 4h0m-3-1h0m-1-10h0m-1 9h0m0-11h0m0 1h0m0 0h0m-1 1h0m-1 2h0m-2 3h0m0-7h0m-1-1h0m-1 9h0m-1-5h0m-1-2h0m0 9h0m-2-7h0m0 5h0m-2 4h0m0-2h0m0-11h0m-1 9h0m-2-4h0m0 9h0m-1-3h0m-1 0h0m-3-1h0m-3 3h0m-2-8h0m-1-4h0m0 13h0m-2-3h0m-4-6h0m-1-3h0m-1 8h0m0 2h0m0-7h0m-1-3h0m0 10h0m-1-11h0m0 12h0m-3 0h0m-2-6h0m-3-6h0m0 7h0m0-8h0m0 9h0m-1-6h0m-6 3h0m-7 4h0m-7-9h0m-1 10h0m-6 3h0m-1 0h0m-8-7h0m-4 6h0m-5-5h0m-3-4h0m-11 5h0m-11-2h0m-30 0h0m-39-8h0m-2 6h0m-4 6h0m-12 1h0m-11 2h0m-22-2h0m-16-7h0m2 10h0m70 4h0m3 10h0m0-12h0m1 10h0m0-10h0m6-2h0m1 2h0m7 6h0m45-6h0m2 8h0m5 2h0m8-9h0m3 1h0m6 9h0m1-9h0m1 6h0m0 0h0m2 0h0m3-7h0m2-2h0m1 13h0m11-4h0m3 0h0m4 0h0m1-10h0m0 3h0m10 7h0m2-9h0m2 2h0m4 7h0m3-7h0m0 8h0m2-2h0m1-6h0m1 6h0m0-9h0m3 14h0m0-7h0m2 6h0m2-9h0m1 3h0m2 5h0m1 0h0m0 0h0m1-12h0m0 15h0m6-11h0m1 8h0m0-5h0m2 0h0m0 6h0m0-8h0m0 2h0m1-5h0m2 11h0m1 2h0m0-6h0m0-7h0m2-1h0m2 14h0m1-7h0m0 6h0m1 0h0m0-5h0m1-8h0m0 11h0m2 1h0m0-12h0m0 7h0m0-7h0m2 7h0m1 5h0m0-9h0m0 11h0m0-10h0m1-3h0m0 6h0m1 6h0m0-4h0m2 1h0m0-6h0m1 3h0m1 1h0m2 6h0m0-6h0m0 6h0m0-10h0m1-5h0m2 9h0m0-5h0m2 8h0m1-7h0m3 7h0m0-7h0m1 9h0m1-14h0m0 12h0m0-10h0m0 4h0m2 6h0m1 1h0m3-8h0m0-4h0m2 14h0m2-6h0m1-3h0m0 9h0m0-4h0m0-3h0m0-4h0m3-3h0m0 9h0m3-7h0m1-2h0m0 10h0m4 0h0m0-8h0m0 2h0m1 0h0m0 2h0m0 6h0m1 0h0m1 1h0m3 1h0m1-4h0m4-11h0m-13 18h0m-2 3h0m-1-5h0m-1 4h0m-1 0h0m0-3h0m-1 5h0m0-2h0m0-1h0m-1 4h0m0 0h0m-2 0h0m-1 5h0m0-6h0m0-4h0m-4 6h0m-1-7h0m0 11h0m0-6h0m-1 2h0m-1-5h0m0 7h0m-3 1h0m0-3h0m0 0h0m-1 3h0m0 3h0m0-13h0m-3 10h0m-1-4h0m-1 4h0m-2-5h0m0 6h0m0-9h0m-1-3h0m-5 9h0m0-4h0m-1 3h0m0 3h0m-1-4h0m-1-7h0m0 13h0m-1-9h0m0 7h0m0 4h0m-1-12h0m-2 5h0m-1-5h0m-1 4h0m-1 6h0m0-5h0m-3-7h0m0 0h0m-1 10h0m-3-8h0m-1 5h0m0-3h0m-1-5h0m-1 3h0m-2 4h0m-1 7h0m-1-10h0m-1 11h0m-2-2h0m-1-12h0m-1 10h0m-2 1h0m-1-6h0m0 9h0m-5-1h0m-2-7h0m0 1h0m-1-8h0m0 8h0m-3 7h0m-4-9h0m-3-4h0m-2 7h0m-1-5h0m0 3h0m0-6h0m-4 1h0m-1 9h0m-1-3h0m-4-5h0m-1 12h0m-1-12h0m-6 0h0m-10 7h0m-2 0h0m-5 4h0m-2-4h0m-1 0h0m-2-9h0m-4 0h0m-1-1h0m-9 9h0m-9 4h0m-10-4h0m-14-2h0m-8 5h0m-7-12h0m-10 5h0m-5-3h0m-6 18h0m39 8h0m4-7h0m2-4h0m6 1h0m30 8h0m12-3h0m0 6h0m1-8h0m10-5h0m5 9h0m1-1h0m1-4h0m4 7h0m3-3h0m0 4h0m3-8h0m3 5h0m4-7h0m0-2h0m3 0h0m4 4h0m6-2h0m7 11h0m1-13h0m2 6h0m5-1h0m0 5h0m5-10h0m11 4h0m2-4h0m3 2h0m0 0h0m4-2h0m0 5h0m4-2h0m1 0h0m3 11h0m6-8h0m0-2h0m1 3h0m3 4h0m9-7h0m-22 12h0m-7 3h0m-5 4h0m-7-1h0m-9 2h0m-12 0h0m-1-7h0m-1 11h0m-3-5h0m0 1h0m-1-1h0m-4 6h0m0-9h0m-2 4h0m-6 2h0m-1-10h0m-4 0h0m-1 5h0m0 3h0m-4-3h0m-2-4h0m-5 4h0m-1 6h0m0 3h0m-9-5h0m-8 4h0m-3 1h0m-1-4h0m-17-7h0m-2 0h0m-31 8h0m-4 4h0m-18 3h0m26 6h0m59-4h0m2 1h0m23 7h0m4 2h0m3-5h0m8 1h0m1 3h0m1-12h0m1 3h0m1 10h0m3-13h0m5 18h0m-3 3h0m-5 2h0m-3-1h0m-2-3h0m-1-4h0m-4 3h0m-4 1h0m-19 0h0m-30 3h0m0 3h0m-24-5h0m0 7h0m-31-4h0m112 22h0m1-4h0m2-10h0m1 4h0m2 8h0m2 1h0m3-11h0m11 9h0m5 9h0m-4 11h0m-3-10h0m-2 0h0m-7 1h0m-4 8h0m-1-4h0m-3-9h0m-6-1h0m-78 11h0m-5 4h0m-62-14h0m77 20h0m34 1h0m8-2h0m1-3h0m30-1h0m2 3h0m4 11h0m0-2h0m2-11h0m3-1h0m1 0h0m0 11h0m0-7h0m5 8h0m3 2h0m10 17h0m-12-9h0m-3-5h0m-13 1h0m-8-1h0m-11 12h0m-9-7h0m-8 9h0m-3-4h0m0-1h0m-11 5h0m-5-4h0m-2-1h0m-14-5h0m-6 19h0m24-6h0m3-2h0m0 8h0m3-7h0m0 8h0m1-1h0m1-4h0m1 6h0m0-2h0m2-2h0m3-1h0m1 6h0m3 1h0m0-10h0m0 9h0m2-10h0m2 9h0m1-2h0m1 6h0m14-7h0m13 8h0m4-9h0m5 1h0m9 5h0m3-7h0m2 3h0m-2 13h0m-3 10h0m-6-10h0m-22 5h0m-3 0h0m-15-3h0m-7 0h0m-14 1h0m-6 4h0m-43-4h0m-34-6h0m59 14h0m25 13h0m21-8h0m6-5h0m13 8h0m6 0h0m1-4h0m7 5h0m0-2h0m5-7h0m1 1h0m5 8h0m0 4h0m1-13h0m9 11h0m3-7h0m3 7h0m10 3h0m2-7h0m8 5h0m3-10h0m-20 17h0m-10-1h0m-1 9h0m-7-11h0m-8 7h0m-6 4h0m-10-3h0m-31 0h0m-7 4h0m-18 19h0m47-7h0m25 4h0m9-12h0m13 6h0" stroke="#808080" stroke-width="11.2" stroke-opacity="0.55"/></g><g clip-path="url(#cE)"><path class="d" transform="scale(.5)" d="M1221 743h0m90 3h0m11 5h0m15 7h0m-7 2h0m-2 7h0m-1-2h0m0 0h0m-1-8h0m-3 5h0m-2-7h0m-3 5h0m-8 2h0m-1 0h0m-7 2h0m-1 1h0m-49-13h0m-8 9h0m-54-2h0m-1 7h0m-111 1h0m-15-4h0m-3-6h0m-28 8h0m-10 2h0m6 8h0m11 6h0m4 0h0m2 2h0m0-8h0m2 2h0m2-8h0m1 4h0m0-2h0m2 5h0m2 1h0m4-5h0m2 1h0m9 8h0m29-13h0m18 6h0m37-3h0m40 4h0m11-4h0m6 12h0m7-15h0m9 11h0m22 3h0m20-1h0m11 0h0m6-1h0m1-4h0m1 3h0m2-7h0m5 1h0m0-2h0m4 4h0m0-7h0m4 3h0m2-2h0m0 7h0m1 1h0m11 4h0m0-6h0m0 1h0m1-5h0m1-1h0m1 9h0m1-9h0m2 6h0m5 4h0m3-12h0m1 5h0m0 1h0m0-3h0m1-2h0m1 11h0m2 3h0m1-8h0m2 2h0m2 5h0m5-6h0m1 14h0m-3-5h0m-5 13h0m0-5h0m-1 2h0m-1 0h0m-1-3h0m0 5h0m0-4h0m-2-3h0m0-3h0m-1 9h0m0 0h0m-4 2h0m0 0h0m-4-5h0m-2-1h0m-2 7h0m-1-3h0m-4-8h0m-3-2h0m-1 0h0m-5 0h0m-1 5h0m0 2h0m-1-8h0m0 7h0m-2 0h0m-2 5h0m-1-1h0m-1-12h0m0 3h0m-3 4h0m-1 5h0m-1-2h0m-23-1h0m-22 4h0m-60-11h0m-18 13h0m-10-5h0m-19-9h0m-5 5h0m-6 6h0m-1 2h0m-25-8h0m-26 8h0m-19-3h0m-4 0h0m-2 2h0m0-8h0m-1-2h0m-3 8h0m-3-8h0m-2 1h0m-1 11h0m-1-9h0m-2 9h0m-5 0h0m-5-10h0m-4-5h0m-3 14h0m-5-3h0m7 6h0m9 11h0m1-7h0m2 1h0m4 2h0m0 3h0m3 0h0m3-11h0m5 6h0m6-2h0m49 10h0m14-5h0m1-8h0m7 1h0m4 12h0m4-3h0m12-3h0m65 3h0m2-3h0m16 6h0m5-4h0m6 4h0m2 1h0m2-1h0m0-6h0m4 5h0m22-5h0m0 0h0m0-5h0m1 10h0m7 1h0m1-2h0m6-4h0m0 0h0m0 4h0m1 0h0m0-1h0m0-2h0m1-8h0m0 9h0m3 0h0m0 3h0m1-5h0m0-4h0m1 5h0m1 2h0m3-3h0m0-8h0m0 1h0m2 3h0m2 9h0m0-5h0m1-4h0m1 10h0m1-6h0m1 7h0m1-3h0m0 1h0m2-8h0m1 2h0m0 2h0m1-7h0m2 13h0m2-1h0m1-6h0m0-5h0m2 11h0m2-8h0m0-3h0m8 4h0m1 7h0m2-3h0m0 1h0m1-5h0m3-3h0m1-2h0m4 8h0m2-5h0m2 6h0m0-9h0m4 12h0m0 16h0m-3-4h0m-1 3h0m-2-5h0m-1-3h0m0 9h0m-5-7h0m-2 4h0m0 0h0m-1-7h0m-1 2h0m-1-6h0m-2 13h0m-1-12h0m-1 13h0m-1-12h0m0 6h0m0 7h0m-1-2h0m-2-3h0m-3 4h0m0-6h0m0 4h0m-1 2h0m-4-13h0m-1-1h0m0 14h0m-3-6h0m-1-6h0m0 9h0m-2 2h0m0-3h0m-1 3h0m-1-1h0m0-6h0m0-1h0m-1 7h0m-1-11h0m-2 14h0m-2-12h0m0 7h0m0-1h0m0 4h0m-1-4h0m-2 5h0m0-8h0m-2-5h0m0 11h0m0 0h0m-2-10h0m0 6h0m-1-1h0m0 4h0m-1 1h0m0-7h0m-1 6h0m-3 3h0m0 0h0m-1-13h0m0 8h0m-1 1h0m0-8h0m-1 2h0m-2 9h0m-3-10h0m0-2h0m-2 6h0m0 4h0m-1-2h0m-2 0h0m0-3h0m-3-3h0m0 1h0m-2 6h0m-11 0h0m-3-5h0m-2 10h0m-4-12h0m0 12h0m-7-3h0m-5-12h0m-9 10h0m-9-7h0m-3 12h0m-14-2h0m-2-1h0m-69-6h0m-19 4h0m-1 0h0m-2-9h0m-17 2h0m-46 0h0m-13 1h0m15 13h0m57 1h0m20 0h0m27 3h0m13 4h0m13 4h0m6-10h0m2 8h0m4 0h0m5 3h0m7-5h0m2-6h0m1 8h0m1 1h0m0 3h0m2-9h0m5 6h0m1 2h0m1-7h0m4 0h0m3-3h0m3 9h0m1 2h0m1-11h0m1-4h0m5 3h0m4 3h0m0 0h0m2-5h0m1 14h0m0-13h0m2 4h0m2 1h0m1 5h0m0-5h0m0 0h0m1 1h0m1-3h0m1 4h0m0-3h0m2-4h0m1-1h0m0 9h0m1 0h0m0-3h0m2-4h0m1 6h0m0 0h0m1 4h0m1-4h0m1 2h0m1-2h0m2 0h0m0-1h0m1-2h0m2 8h0m1 0h0m2-13h0m1 3h0m0 0h0m5-1h0m0 9h0m2 3h0m0 0h0m1-11h0m0-2h0m1 13h0m0-4h0m1 2h0m0 1h0m1-6h0m0 3h0m2-9h0m1 12h0m1-14h0m2 0h0m0 6h0m1 1h0m0 8h0m1 0h0m2-14h0m0 7h0m0-1h0m1 4h0m2-4h0m1 2h0m1-7h0m3 5h0m0 6h0m0-12h0m0 12h0m1 2h0m1-5h0m1 0h0m0-8h0m1 2h0m0 4h0m0-3h0m0-4h0m1 5h0m1-4h0m0 4h0m1 0h0m1 8h0m0-9h0m1-5h0m0 15h0m0 0h0m1 0h0m0-9h0m1-5h0m0 9h0m1-9h0m1-1h0m1 10h0m1 1h0m1 1h0m0-12h0m3 13h0m3-8h0m3-3h0m2 12h0m1-5h0m2-9h0m2 1h0m0 13h0m5-8h0m1 7h0m1 1h0m4-7h0m0-7h0m3 7h0m0-2h0m3 1h0m2-1h0m-9 13h0m-5 8h0m-4 0h0m-7-7h0m-1 5h0m0-7h0m-2 1h0m-2 5h0m-1 7h0m-1-13h0m-1 3h0m-1-3h0m-3 0h0m-1 3h0m0-3h0m0 13h0m-1-14h0m-1 13h0m-1-1h0m-1-7h0m-1 0h0m0 2h0m0 0h0m-2 5h0m-2-7h0m-2-5h0m-1 5h0m-1 0h0m0-5h0m-1 8h0m-2-8h0m-4 14h0m-1-14h0m-5 8h0m0-4h0m-2 8h0m-2-11h0m-1 12h0m-1-4h0m-1-3h0m0 8h0m-1-3h0m-2-8h0m0 0h0m-1-3h0m0 7h0m-9-3h0m-3 10h0m-1-3h0m-1-6h0m-1 9h0m-4-10h0m-3 2h0m-1 9h0m-3-7h0m-2 2h0m-1-8h0m-1 11h0m-5-6h0m-1 5h0m-3 3h0m-3-15h0m-1 12h0m-2 1h0m-3-4h0m-1 3h0m-1-9h0m-10 4h0m-1-1h0m0 2h0m-2 3h0m-4 3h0m-9-11h0m-20 1h0m-25 4h0m-26-6h0m-4-2h0m-2 3h0m62 20h0m8-1h0m12 6h0m5-6h0m4 3h0m7-2h0m5 3h0m14-8h0m1 0h0m4 0h0m11 1h0m2 6h0m6-8h0m3-1h0m4 2h0m0 3h0m2-2h0m0 5h0m1 5h0m4-13h0m1 13h0m13-5h0m2-6h0m12 4h0m1-5h0m3 9h0m3-5h0m2-3h0m2 3h0m2-5h0m9 0h0m4 0h0m-11 16h0m-15 13h0m-5-1h0m-17-2h0m-13 2h0m0 3h0m-2-3h0m-1-9h0m-1 2h0m-4 7h0m-4-9h0m0 7h0m-1-2h0m-1 7h0m0-12h0m-11 3h0m-3 1h0m-3-7h0m-7 14h0m-8-12h0m-9 0h0m-14-1h0m-6 1h0m-9 8h0m-37-7h0m-4 26h0m38 1h0m9-13h0m0 11h0m27-10h0m13 10h0m22-6h0m2 5h0m1-1h0m2 0h0m0-8h0m2-2h0m4 10h0m0-9h0m2 1h0m4 1h0m5 7h0m2-10h0m2 26h0m-7-5h0m-2 7h0m-1-3h0m-3 1h0m0 4h0m0-2h0m-2-3h0m-14-9h0m-16 5h0m-2-1h0m-32 5h0m-4-7h0m-50 7h0m-6 1h0m-33 4h0m56 10h0m17 4h0m80-11h0m2 0h0m1 3h0m2 0h0m3-2h0m5 10h0m1-1h0m4-11h0m4 0h0m1 8h0m4 2h0m5 7h0m-2 8h0m-6 2h0m-1-6h0m0 10h0m-1-14h0m-7 11h0m-2-5h0m-1-4h0m-2 12h0m0-12h0m-2 7h0m0-2h0m0-1h0m-2 8h0m-2-13h0m0 11h0m-70-2h0m-38 9h0m36 0h0m42 6h0m36 0h0m19 4h0m6 3h0m-7 5h0m-3 2h0m-9 0h0m-2-5h0m-7-1h0m-24 10h0m-3-4h0m0-1h0m-8 4h0m-3-2h0m-6 3h0m-4 2h0m-4-8h0m-2 3h0m-1 4h0m-14 4h0m16-1h0m1 12h0m2-2h0m1 1h0m3-9h0m1 0h0m1 1h0m2 9h0m3-7h0m0 4h0m0 6h0m1-14h0m1 10h0m1 2h0m8-3h0m3-5h0m19 0h0m15 10h0m4-6h0m2 0h0m1 4h0m3-6h0m12 1h0m7 17h0m-16 5h0m-1-5h0m-3 0h0m-1-2h0m-10 6h0m-5 2h0m-9-5h0m0 2h0m-13 2h0m-3-10h0m-22-1h0m-20 5h0m-2 20h0m18 1h0m7-9h0m6-1h0m24 7h0m3 0h0m3-10h0m3 15h0m6-11h0m4 1h0m2 5h0m0-5h0m1-3h0m2 5h0m3 4h0m2-6h0m3 8h0m1-8h0m2-2h0m1 11h0m2-9h0m1 8h0m4-8h0m1 4h0m4-6h0m-6 26h0m-5-7h0m-6 3h0m-1 0h0m-1-8h0m-2 8h0m0 2h0m-12 0h0m-13 0h0m-18-2h0m-13-9h0m-42 19h0m32 6h0m26 0h0m21-2h0m20 8h0" stroke="#808080" stroke-width="11.2" stroke-opacity="0.55"/></g><g clip-path="url(#cE)"><path class="d" transform="scale(.5)" d="M1337 763h0m-2-2h0m-4-9h0m0 6h0m-2 4h0m0 0h0m-5-3h0m0 5h0m-5-4h0m-2 7h0m0-9h0m-1 6h0m-1-2h0m-1-6h0m0 2h0m-2 9h0m-5-9h0m-2-5h0m0 10h0m-25 1h0m-98-9h0m0 11h0m-22-1h0m-111 0h0m-13 16h0m0-12h0m4 14h0m4 0h0m1-15h0m0 1h0m11 7h0m0-6h0m2 9h0m3-10h0m4-1h0m1 6h0m51 8h0m40-3h0m27 3h0m53-2h0m6-6h0m3 8h0m1-1h0m15-8h0m28 8h0m2-1h0m2-6h0m4-6h0m1 1h0m2 13h0m0 1h0m2-3h0m1-6h0m11 6h0m0 0h0m3-9h0m1 2h0m1 4h0m1-2h0m1 2h0m1-7h0m0 3h0m0-1h0m3 10h0m0-11h0m0-3h0m2 13h0m1-5h0m0-6h0m5 4h0m3-5h0m0 12h0m3 0h0m8 14h0m-4-11h0m-1 15h0m0-2h0m-1-7h0m-4-3h0m-1 4h0m0-5h0m-2 13h0m-3-1h0m0-8h0m-5 7h0m-2 1h0m-2-2h0m-2-9h0m0 6h0m0 1h0m-5 0h0m0-2h0m-3-8h0m-1 11h0m-3-2h0m-1-2h0m-2 2h0m0-3h0m-2 8h0m0-5h0m-2 5h0m-2-14h0m-1 13h0m0-5h0m-3-7h0m-1 9h0m0 2h0m-6 1h0m-26-10h0m-26 6h0m-15-1h0m-34-2h0m-3 8h0m-34-3h0m-9-11h0m-5 8h0m-14 2h0m-5-6h0m-1 11h0m-41 0h0m-2-9h0m-16 7h0m-3-4h0m0-4h0m-1 0h0m-2-1h0m-3-1h0m-1 7h0m-2-1h0m0-2h0m-1-7h0m-8 1h0m0 14h0m0-7h0m-1 1h0m-1 3h0m-5-7h0m-3 4h0m-2 4h0m-3 0h0m-1-7h0m13 14h0m8-1h0m15 0h0m2 10h0m23-2h0m13-9h0m14-2h0m3 14h0m14 1h0m7-10h0m14-4h0m4 2h0m76 5h0m22 4h0m7 3h0m9-3h0m3-8h0m1 10h0m17-3h0m1-9h0m0 10h0m3-8h0m0 2h0m0 8h0m0-1h0m2-6h0m2-3h0m0 4h0m0 0h0m0-6h0m1 7h0m2-8h0m0 12h0m0-9h0m4 9h0m0-1h0m1-6h0m0-2h0m2-2h0m2 12h0m0-13h0m1 7h0m2 2h0m0 2h0m0-5h0m0-7h0m1 7h0m1 6h0m1-4h0m0 6h0m2-6h0m0-1h0m1 6h0m0-3h0m3-10h0m1 6h0m1 2h0m1 3h0m2-7h0m1-4h0m0 4h0m1 7h0m0-6h0m0-3h0m1 8h0m1-7h0m2 5h0m0-3h0m3 3h0m2-8h0m1 1h0m1 1h0m0 7h0m0 4h0m1-7h0m0 7h0m4-2h0m0 0h0m1-5h0m4 24h0m-3-8h0m-1 1h0m-1 7h0m-1 0h0m0-14h0m-1 2h0m-2 4h0m-1 6h0m-2-7h0m0-1h0m0 6h0m-2-6h0m-1 0h0m-3-4h0m0 7h0m-2-4h0m-1-4h0m0 1h0m-1 0h0m0 11h0m-2-11h0m-1 2h0m-1-3h0m0 5h0m-1 2h0m-1 4h0m0-3h0m0-3h0m-1 10h0m-1-2h0m0-3h0m-1-8h0m-1-2h0m0 6h0m-2 7h0m0-6h0m-1-6h0m0 5h0m0 5h0m-1-5h0m-1 4h0m0 2h0m-1 3h0m-1-6h0m-1-3h0m0 6h0m-1 3h0m-1-2h0m-2 0h0m-1 0h0m-1-1h0m-1-9h0m0 4h0m0-4h0m-1 10h0m0-10h0m-1 12h0m0-6h0m0-8h0m0 5h0m-3 9h0m0 0h0m-1-11h0m-1 0h0m0 5h0m-1-1h0m0 5h0m-4-2h0m-1-10h0m-4-1h0m-1 2h0m0 1h0m-3-3h0m0 1h0m0 10h0m-1-6h0m-1 7h0m-1-12h0m-1 15h0m-1-3h0m-1 3h0m-1-6h0m-3 5h0m0-13h0m-1 4h0m0 6h0m0 3h0m-2 1h0m-1-2h0m-1-2h0m-1 2h0m0-1h0m0-9h0m-1 3h0m-9 3h0m-2 1h0m-11-5h0m-2 10h0m-9-3h0m-7-4h0m-3-2h0m-4 2h0m-4 0h0m-13 2h0m-7-6h0m-8 6h0m-46 2h0m-11-10h0m-4 7h0m0 5h0m-4-3h0m-4-7h0m-3 4h0m-10-6h0m-25 3h0m-19-4h0m-3 3h0m-2 11h0m-10-13h0m-5 10h0m-11 3h0m19 3h0m74 6h0m6 0h0m8 4h0m8-9h0m25 3h0m4 7h0m10-6h0m6-7h0m10 7h0m2 8h0m0-11h0m3 2h0m8 0h0m1-3h0m2 4h0m1-5h0m6 13h0m2 0h0m1-8h0m7-6h0m1 9h0m1 4h0m0-4h0m3 5h0m3-9h0m1-5h0m1 10h0m0-5h0m0-5h0m2-1h0m1 10h0m1 5h0m5-5h0m5 3h0m2-7h0m0-1h0m2-3h0m1-2h0m1 11h0m1-3h0m1-4h0m4 2h0m1-3h0m0 10h0m2-11h0m1 1h0m1 3h0m0 1h0m1 1h0m1 6h0m1-11h0m6 7h0m1-10h0m2 2h0m0 12h0m1-3h0m0-1h0m1 2h0m0-1h0m0 0h0m2 4h0m1-7h0m0 0h0m1-3h0m2-3h0m0 13h0m2-13h0m0 4h0m1 1h0m0-4h0m1 6h0m0-8h0m0 9h0m2 4h0m0-11h0m0 1h0m1-2h0m0 5h0m0-3h0m1 6h0m1-6h0m0 1h0m1 8h0m0-10h0m0 8h0m1-8h0m0 0h0m0 1h0m1-3h0m1 14h0m2-12h0m3-2h0m1 4h0m0 8h0m1 2h0m0-10h0m0 7h0m1-5h0m3-1h0m3-3h0m0 6h0m0-8h0m3 12h0m0-5h0m1 3h0m0-5h0m3 7h0m0-12h0m0 12h0m2-11h0m4-2h0m0 11h0m4-5h0m4-3h0m2-3h0m4 2h0m1 5h0m1 0h0m-7 10h0m0 1h0m-2 8h0m-4-8h0m-1 2h0m0 4h0m-3-1h0m-1 3h0m-1-1h0m-1 1h0m-1-6h0m0 11h0m-2-15h0m-1 12h0m-1-8h0m-3-2h0m-2 13h0m0-13h0m-4 4h0m0 7h0m-1-6h0m0 7h0m0 1h0m-1-2h0m-2-4h0m0 6h0m-3-3h0m0-9h0m-1 4h0m-1 0h0m-5 0h0m-1-2h0m0 1h0m-1 0h0m0-3h0m-3-1h0m-1-1h0m-2 7h0m-2-1h0m0 8h0m-1-10h0m0 4h0m-1-6h0m-2 2h0m-2 4h0m0 4h0m-2-1h0m-2-8h0m-1 6h0m0-10h0m-2 6h0m-2 9h0m-1-3h0m-1 2h0m0-5h0m-1-2h0m0 5h0m-1-8h0m-3-3h0m-3-1h0m-1 10h0m-2 5h0m0-4h0m-3 1h0m-4-11h0m-2 12h0m0-1h0m-1-2h0m0-2h0m-2 6h0m0-7h0m0 5h0m0 1h0m0-8h0m-6-2h0m0 6h0m-1-1h0m-2-1h0m-3 3h0m0 0h0m0 3h0m-3-13h0m-1 0h0m-2 10h0m-2-5h0m0 3h0m-4 3h0m-2-10h0m-3 4h0m-2 2h0m-1-4h0m-4 9h0m-2-1h0m-2-8h0m0-2h0m-2 8h0m-1-6h0m0 5h0m-5-8h0m-1 12h0m-4-8h0m0 8h0m-6-6h0m-8-2h0m-1 2h0m-4 7h0m-4-11h0m-3 4h0m-21 0h0m-4-3h0m-1-1h0m-8-2h0m-5 5h0m31 14h0m51 1h0m7-2h0m2-2h0m4 12h0m5-9h0m7 0h0m5 1h0m1 3h0m4-5h0m3 9h0m0-1h0m2-1h0m3-8h0m0 14h0m1-6h0m7-9h0m2 12h0m1-10h0m0 0h0m1 4h0m1-5h0m0 4h0m0 3h0m1 3h0m4-7h0m1 5h0m1 0h0m0 0h0m1-3h0m0-4h0m3 5h0m2-3h0m0 10h0m2-9h0m0-5h0m5 6h0m3-3h0m5-2h0m14 5h0m5-3h0m5-3h0m6 11h0m4-8h0m1 2h0m-23 24h0m-15-5h0m-2 4h0m-6-9h0m-4 0h0m-6 6h0m-1 6h0m-3-13h0m-4 5h0m-1-5h0m-1 3h0m0 1h0m-1 9h0m-2-3h0m-4 2h0m0-9h0m-4 4h0m-1-9h0m0 13h0m-11-5h0m-15-6h0m-2 6h0m-24 15h0m11-1h0m20-4h0m13 3h0m1 4h0m16-7h0m1-1h0m5 13h0m1 1h0m27 8h0m-13 7h0m-4-13h0m-1 3h0m-8 6h0m-1-5h0m-1-5h0m0 5h0m0 9h0m-2-7h0m-1-6h0m-1 1h0m-1 1h0m-38 5h0m-4 6h0m-54-13h0m-8 3h0m-21-1h0m47 18h0m56-5h0m23 4h0m2 11h0m2-9h0m3 7h0m1 1h0m0-2h0m1-8h0m2-4h0m11 18h0m-1 10h0m0-8h0m-10 1h0m0-2h0m-3 2h0m0 6h0m0-7h0m-2-4h0m-1 6h0m-3 4h0m-1-10h0m-5 9h0m-26-8h0m-37-1h0m-20 1h0m-43 2h0m98 26h0m17-3h0m18 4h0m0-11h0m1 9h0m2-1h0m0-4h0m4 7h0m20 5h0m-3 4h0m-19-5h0m-38 10h0m-4-1h0m-18-7h0m-3 1h0m-24-1h0m-36-3h0m64 22h0m0 4h0m9-5h0m0 5h0m1-9h0m1 2h0m1 2h0m3 5h0m1-5h0m0-6h0m2 6h0m6 0h0m0-2h0m2 1h0m2-2h0m2-1h0m4 9h0m0-2h0m2-7h0m26 8h0m7-10h0m11 11h0m2 2h0m12-13h0m2 13h0m-3 6h0m-3 12h0m-5-1h0m-5-5h0m-1 4h0m0-13h0m-12 0h0m-1 13h0m-11-11h0m-29 4h0m-15-3h0m-4-2h0m-1 0h0m-1 1h0m-15 20h0m18 3h0m1-4h0m5 8h0m12 1h0m37 1h0m1-6h0m0 2h0m1-2h0m10 4h0m1-2h0m1-7h0m6 11h0m5-3h0m4-1h0m53 2h0m-48 7h0m-11-1h0m-2 6h0m-2-1h0m-2-3h0m-4-2h0m-1 4h0m-3-5h0m-1 1h0m-2-2h0m-3 2h0m-28 12h0m-10-15h0m-51 4h0m77 27h0m23-15h0m8 12h0" stroke="#808080" stroke-width="11.2" stroke-opacity="0.55"/></g><g clip-path="url(#cE)"><path class="d" transform="scale(.5)" d="M1188 746h0m1-1h0m123 5h0m21 8h0m0 4h0m-4-1h0m-2-1h0m-2-1h0m-1-3h0m-8 2h0m-5 6h0m-4-1h0m-7 0h0m-86 4h0m-19 0h0m-8-8h0m-1 4h0m-8-5h0m-18 8h0m-111-2h0m-29 16h0m19-7h0m0 5h0m1-2h0m4 3h0m2-1h0m2-1h0m4-3h0m1-4h0m1 8h0m3-10h0m9 7h0m116-6h0m2 5h0m1-2h0m1 4h0m25 7h0m81-8h0m1 8h0m1-13h0m0 5h0m1-5h0m0 13h0m1-8h0m2 8h0m1-3h0m1 1h0m3 0h0m1 2h0m5-3h0m2-6h0m0-1h0m1 10h0m1-8h0m1 1h0m1 5h0m1-5h0m2 6h0m6-6h0m1-4h0m1-2h0m1 4h0m3-4h0m0 2h0m1 3h0m0 6h0m3-8h0m4 4h0m12 6h0m-3 12h0m-3-8h0m0 4h0m-2-3h0m-2 2h0m-2 6h0m-1-6h0m0 0h0m-1 7h0m0 0h0m-1-10h0m-2 3h0m-5 1h0m-2 8h0m-1-7h0m0 1h0m-1-4h0m0-3h0m-1 3h0m-2 4h0m-2 4h0m0-9h0m-1-1h0m-4 3h0m-4-5h0m0 0h0m-2 13h0m-2 1h0m0 0h0m-1-7h0m-2-5h0m0 11h0m-4-13h0m0 12h0m-1-2h0m-3-4h0m-2-1h0m-2 9h0m-2-15h0m-1 13h0m-1-7h0m-2-2h0m-13-3h0m-9 3h0m-15-1h0m-21 0h0m-103 12h0m-4-15h0m-21 6h0m-25 0h0m-7 4h0m-4-4h0m-2 9h0m-4-4h0m-1 1h0m0-5h0m-4 2h0m0-6h0m-6 10h0m-4 1h0m-5-12h0m0 7h0m-1-9h0m0 5h0m-1 9h0m-4-6h0m0-4h0m-3 3h0m-4 8h0m-4 10h0m8-8h0m12-1h0m8 1h0m0 0h0m4 1h0m23 6h0m23 7h0m139-4h0m10-3h0m8 0h0m5-1h0m8 3h0m6-8h0m10 10h0m4-12h0m1 11h0m0 2h0m0-13h0m1 1h0m1 12h0m1-5h0m1 3h0m2 0h0m1 4h0m0-4h0m1 1h0m0-9h0m0-1h0m3 2h0m0 7h0m2-1h0m3-9h0m0 11h0m1-1h0m1-3h0m0-3h0m1 5h0m0 4h0m1-1h0m4 1h0m1-10h0m2 2h0m2 8h0m0-12h0m0 8h0m0-10h0m2 8h0m0-7h0m3 8h0m0 4h0m1-8h0m1-2h0m1 5h0m3 6h0m1-7h0m0-5h0m1 13h0m0-7h0m10-5h0m1 2h0m1 9h0m2-12h0m2-2h0m0 10h0m6 17h0m-5-4h0m-1 7h0m0-2h0m-2 0h0m0-9h0m-1 1h0m0 4h0m-3-5h0m0 8h0m-1-4h0m0 4h0m-2-7h0m-5 1h0m-1 6h0m-2 2h0m-1-4h0m-1-5h0m-2 0h0m0 7h0m-7-8h0m0 5h0m-1 7h0m-1-9h0m0 1h0m0-5h0m-3-1h0m-2 10h0m-1-5h0m-2-1h0m0 2h0m0-3h0m-1 8h0m0 0h0m-3-12h0m0 1h0m-1 9h0m0-5h0m-3 10h0m0-8h0m-1-2h0m-1 9h0m-3 1h0m0-12h0m0-3h0m0 7h0m-2-3h0m0 4h0m0-3h0m0-4h0m-1 3h0m0 4h0m-1 6h0m0-12h0m-1 4h0m-1-1h0m0 9h0m-2-8h0m-1 4h0m-4-6h0m-1-1h0m0 2h0m-2 10h0m-1-12h0m-6 3h0m0 3h0m-2-1h0m-2-5h0m0 10h0m-1 1h0m0-5h0m-1-7h0m0 10h0m0-1h0m-2 3h0m-3-8h0m-6 9h0m-1 0h0m-3-1h0m-2 0h0m-5-5h0m-3-3h0m-1 4h0m-3-1h0m-1 2h0m-3 0h0m-3-3h0m-11 1h0m-4 0h0m-2-9h0m-71 5h0m-5 3h0m-6 5h0m-17-6h0m-21 3h0m-2-10h0m-4 5h0m-21-4h0m-11 3h0m15 13h0m49 0h0m5 7h0m1-4h0m1 5h0m0 5h0m2-7h0m6-2h0m11 6h0m12-8h0m12 6h0m13-8h0m4 9h0m9 3h0m2-9h0m6-4h0m5 14h0m2-5h0m1-8h0m1-1h0m0 12h0m1-8h0m2 2h0m1 4h0m6-1h0m0 4h0m1-2h0m3 3h0m1-11h0m3 3h0m1 2h0m5 5h0m1 2h0m0-4h0m3 4h0m7-7h0m4-1h0m0 0h0m2 7h0m0-5h0m2-3h0m1-6h0m3 3h0m0 7h0m1 5h0m0-10h0m2-5h0m1 3h0m3 11h0m1-8h0m1 5h0m1-5h0m0 0h0m1 5h0m2 0h0m1-7h0m0 0h0m0 2h0m0 3h0m1 3h0m1-11h0m1 3h0m0 4h0m1-3h0m0 5h0m1 2h0m2 3h0m3-9h0m0 9h0m0-15h0m0 14h0m1-2h0m3-11h0m2 4h0m1 8h0m0-4h0m0 0h0m1 2h0m0-5h0m2 7h0m0-9h0m1 2h0m0 1h0m1 6h0m0-4h0m1-8h0m0 13h0m1-1h0m0-6h0m1 3h0m0 3h0m1-6h0m0 8h0m2 0h0m0-15h0m1 11h0m0-6h0m1 6h0m0 1h0m0 2h0m0-6h0m0 5h0m2 2h0m1-8h0m0-5h0m1 12h0m1-3h0m1-11h0m0 2h0m1 13h0m0-7h0m4 2h0m0 0h0m3 3h0m2-5h0m1-2h0m1 1h0m0-2h0m2 0h0m1 3h0m2-3h0m1-1h0m1 0h0m1-4h0m1 14h0m2-5h0m0 4h0m0-10h0m0 5h0m3-5h0m0 1h0m0 4h0m1 0h0m0-2h0m1 6h0m1-11h0m4 0h0m1 7h0m1 2h0m0-4h0m1-6h0m-6 24h0m-4 4h0m-1-5h0m-1-2h0m-3 1h0m-2-6h0m-3 3h0m-3 4h0m-1 4h0m-2-11h0m-2 14h0m-1-11h0m-3 7h0m-3-2h0m0-3h0m-1 8h0m-1-6h0m-1 0h0m0-4h0m0 1h0m-2-3h0m-1 6h0m0-5h0m0 9h0m-2-10h0m0 9h0m-2 0h0m-1-4h0m-2-2h0m0 11h0m-4-3h0m0-12h0m-2 3h0m-1 5h0m-1-5h0m0 1h0m-1 4h0m0 3h0m-1-2h0m0-9h0m-4 1h0m-4 0h0m-2 13h0m0-13h0m-1 11h0m-2-7h0m0 9h0m-1-7h0m0 2h0m-1 3h0m0 0h0m-1-8h0m-1 11h0m0-11h0m0 6h0m-1-6h0m-2 7h0m0 1h0m-2-7h0m-1 2h0m0 6h0m0-8h0m-1 8h0m-1-12h0m-2 4h0m0-1h0m-2-4h0m-1 15h0m0-13h0m0 8h0m-2-3h0m0-2h0m-3 7h0m-6 3h0m-1-5h0m-1-7h0m-8 7h0m-4-1h0m0 2h0m-1-11h0m-2 11h0m0 2h0m-1-3h0m-2-7h0m0-2h0m-3 7h0m-1-4h0m-2 6h0m0-2h0m-3-7h0m-4 6h0m0 2h0m0 5h0m-1-12h0m0 12h0m-2-12h0m-3-2h0m0 15h0m0 0h0m-1-13h0m-1 13h0m-8-14h0m-2 8h0m-6 2h0m0 0h0m-1 2h0m-1-10h0m-10 7h0m-3-1h0m-31-4h0m25 17h0m3-4h0m31 8h0m3-5h0m1 4h0m0-5h0m19-3h0m3 9h0m1 0h0m2-1h0m4 1h0m8-6h0m7 5h0m1 6h0m10-4h0m2-3h0m6-3h0m0 10h0m10-4h0m1-2h0m1-7h0m3-1h0m3 13h0m5-10h0m1-3h0m3 3h0m6-3h0m5 5h0m3-2h0m1-1h0m2 2h0m3-1h0m1-1h0m8 1h0m-34 19h0m-5-4h0m-7 0h0m-6 7h0m0-3h0m-5-6h0m-2 1h0m-1-1h0m-5 10h0m-1 3h0m-10-11h0m-1 1h0m-2 0h0m-3 3h0m-21 8h0m-1-14h0m-10 9h0m-4 0h0m-8-8h0m-55 4h0m-8 5h0m9 7h0m54 4h0m2-5h0m1 14h0m3-3h0m8-6h0m12 7h0m26-9h0m1 10h0m1 0h0m7-14h0m0 1h0m0 2h0m1 3h0m2 4h0m0-5h0m2 6h0m0-7h0m9 0h0m2 14h0m-10 13h0m-1-1h0m0-10h0m0 4h0m0 2h0m-1-10h0m-2 7h0m-2-2h0m-1 6h0m0-3h0m-1 4h0m-3-5h0m-1-6h0m-10 4h0m-11-1h0m-6-2h0m-63 25h0m93 0h0m1-5h0m0-1h0m4-3h0m0 13h0m1-8h0m3 4h0m1-9h0m2 7h0m1 1h0m1 0h0m9-7h0m1 11h0m0-3h0m0-6h0m1-2h0m4 5h0m13 2h0m-16 18h0m-1-9h0m-2 11h0m-7-11h0m0 7h0m-4 4h0m-3-1h0m-4 0h0m-2-1h0m-60-4h0m-55 18h0m20-3h0m8 7h0m23-13h0m69 6h0m1 6h0m5-10h0m3 2h0m0-5h0m10 14h0m14 0h0m-7 13h0m-2-11h0m0 15h0m-2-7h0m-1 3h0m0-1h0m-7-9h0m-1-1h0m-4 8h0m-6-2h0m-11 3h0m-31 1h0m-3 3h0m-1 2h0m-8-3h0m-10-3h0m-2-9h0m-21 27h0m38 1h0m10-11h0m2 10h0m1-10h0m16 11h0m13-6h0m22 5h0m25 0h0m16 8h0m-5 8h0m-18-5h0m-7 9h0m-3 0h0m-5-7h0m-1 2h0m-1 4h0m-17-4h0m-1 4h0m-22-4h0m-12 4h0m-1-5h0m-10-9h0m-4 14h0m-4-14h0m0 13h0m-9-11h0m-7 9h0m45 5h0m5 15h0m36-12h0m2 0h0m1-2h0m0 2h0m0 8h0m3-6h0m3 6h0m0-1h0m0 1h0m8-11h0m2 15h0m4-15h0m-2 20h0m-1 2h0m-9 9h0m0-13h0m-3 2h0m-11 3h0m-7 1h0m-3-5h0m-6 12h0m0-7h0m-12 3h0m-2-1h0m-4 3h0m-11-12h0m-1 13h0m-1-9h0m6 12h0m6 8h0m30-8h0m8 4h0m1 2h0m9 8h0m5-8h0" stroke="#808080" stroke-width="11.2" stroke-opacity="0.55"/></g><g clip-path="url(#cE)"><path class="d" transform="scale(.5)" d="M1337 767h0m-2-8h0m-2 6h0m-2-4h0m-3-5h0m-3 9h0m-4-2h0m-4-3h0m0-7h0m-3 7h0m-1 3h0m-1 3h0m-1-7h0m0 8h0m-2-4h0m0-3h0m-4 3h0m-5-1h0m-1 4h0m-1-4h0m-109 4h0m-3-1h0m-4 2h0m-129-3h0m-12 1h0m-9-1h0m-6 1h0m-11 3h0m9 10h0m2-2h0m10 3h0m2-3h0m7 3h0m2-5h0m1 4h0m2 1h0m3 0h0m6 2h0m4-7h0m0-6h0m10 6h0m71-1h0m35-1h0m7 9h0m3-12h0m35 3h0m25 6h0m26 4h0m20-14h0m2 3h0m4 0h0m4 0h0m3 11h0m4 0h0m0-1h0m2-13h0m1 12h0m2 2h0m1-10h0m0-3h0m1 1h0m1 9h0m2-2h0m1-3h0m0 7h0m2-11h0m1 6h0m2 1h0m1-8h0m1 12h0m1-3h0m0-6h0m1 9h0m3 1h0m0-8h0m3 6h0m2 2h0m1 0h0m1-1h0m7 4h0m0 1h0m-2 1h0m-6 5h0m-2 6h0m0-4h0m-2-8h0m-1 2h0m0 4h0m-1 5h0m0-6h0m-3 3h0m0-1h0m-5-8h0m-1 2h0m-1 8h0m-1-10h0m-2 0h0m0-1h0m0 6h0m0-6h0m-2 6h0m-1 0h0m0 0h0m-2-2h0m-2 2h0m-1-3h0m-1-3h0m-2 5h0m-2-3h0m0 10h0m0-8h0m-1-2h0m-1 10h0m-4-6h0m-1 7h0m0-4h0m-1-5h0m-1 9h0m-1-3h0m0 0h0m-1 4h0m-2-5h0m-2-8h0m-1 4h0m-1 4h0m-2-4h0m0 2h0m-4 4h0m-2-9h0m-3 12h0m-8-13h0m-37 10h0m-34 4h0m-20-14h0m-29 9h0m-43-2h0m-54 4h0m-1-1h0m-2 0h0m-3 1h0m-2-3h0m-2-6h0m-3 10h0m-1-8h0m0-1h0m0-2h0m-3 9h0m-1-6h0m-1 9h0m-4-4h0m-3-5h0m0 7h0m-1-3h0m-2 0h0m0-2h0m-2-2h0m-3 4h0m-2 4h0m8 9h0m5-3h0m4 1h0m0 6h0m14-8h0m38 6h0m6 7h0m1-1h0m0-5h0m26 3h0m1 2h0m10 0h0m7-1h0m41 2h0m77-1h0m4-7h0m10 5h0m7 0h0m2-6h0m5 3h0m2-1h0m0 1h0m3-3h0m4-5h0m3-1h0m0 1h0m0 12h0m1-8h0m1 10h0m0-1h0m1-2h0m2-3h0m0-4h0m0-1h0m1 3h0m2 5h0m1 2h0m0-1h0m0-11h0m1 1h0m0 11h0m0-7h0m0-1h0m1-2h0m4 1h0m1 7h0m0-8h0m1-4h0m0 8h0m1-6h0m1 2h0m0-3h0m1 11h0m1 3h0m1-14h0m0 9h0m2-9h0m3 13h0m2-13h0m2 6h0m1 5h0m1-8h0m0 1h0m4 0h0m5 8h0m0 2h0m1-4h0m1 3h0m1 1h0m0-13h0m1 1h0m4 5h0m2-6h0m-8 24h0m-2-10h0m-3 11h0m0 2h0m-2-4h0m-1-4h0m-3 5h0m-2-2h0m0-7h0m0 14h0m-1-12h0m0 2h0m0-3h0m-3 5h0m-1 4h0m-1-7h0m-1 2h0m-1-4h0m-3 7h0m-3-2h0m-2-2h0m-1 3h0m0 0h0m-1-4h0m-1 5h0m0 4h0m0 1h0m-2-12h0m0 1h0m0 10h0m-3-4h0m0-3h0m0 6h0m0-2h0m0-9h0m-1 14h0m0-2h0m-1-1h0m-1-4h0m-1 5h0m-1-8h0m0-2h0m0 7h0m-1-5h0m-1 10h0m0-7h0m0-8h0m-3 1h0m-2 10h0m-1 1h0m0-3h0m-1 2h0m0-9h0m-1 9h0m0-2h0m0 4h0m0-7h0m-2 3h0m0-7h0m-2-2h0m-4 6h0m-1 5h0m0 0h0m-2-6h0m0 9h0m-1-4h0m-2-3h0m0-3h0m-2 4h0m-3-1h0m0-2h0m-3 4h0m-3-3h0m-2 5h0m0 4h0m-5-1h0m-5 1h0m0-10h0m-2 9h0m-4-4h0m-3-2h0m0 5h0m-2-12h0m-2 13h0m-4-4h0m-2 4h0m0-1h0m-1-2h0m-1-2h0m-4-3h0m-1-4h0m-2 13h0m-40-3h0m-4 3h0m-4-6h0m-3 1h0m-47-9h0m-25 4h0m-2 5h0m-13-4h0m-43 15h0m5-1h0m1-3h0m40 3h0m34 6h0m3-7h0m8 5h0m4-8h0m13 11h0m2-7h0m19 8h0m11-5h0m0-6h0m10-1h0m2 5h0m5 7h0m2-9h0m1-2h0m9 5h0m4-4h0m9 12h0m1-2h0m0 3h0m2-2h0m1 1h0m0-8h0m1 5h0m1 2h0m2-12h0m1 13h0m3-11h0m2-3h0m1 10h0m5 5h0m6-1h0m1-4h0m1 0h0m0-1h0m4 2h0m2-1h0m1-6h0m0-1h0m1 5h0m1 3h0m4-6h0m0 7h0m5 0h0m0 0h0m1-2h0m3-5h0m0 2h0m3 7h0m0-10h0m0 11h0m2-13h0m0 0h0m0 6h0m2-6h0m5-1h0m1 8h0m1-3h0m0-2h0m0 9h0m3-2h0m1-8h0m1 10h0m0 2h0m0-1h0m0-11h0m0 3h0m0 8h0m1-14h0m0 9h0m1-1h0m0 5h0m3-5h0m0 2h0m2 0h0m1 0h0m1 5h0m0 0h0m0-9h0m3-2h0m1-3h0m0 7h0m0 1h0m0-1h0m1 4h0m0-6h0m0 7h0m1-9h0m1 11h0m0-14h0m1 10h0m0-9h0m4 10h0m2 0h0m2 2h0m0-6h0m0-7h0m0 0h0m4-1h0m6 8h0m2 0h0m0 3h0m2-1h0m1-8h0m1-2h0m0 1h0m1 10h0m7-1h0m1-1h0m1-8h0m-4 19h0m-1 3h0m-5-7h0m-2 6h0m-1-4h0m0 1h0m-1 6h0m-6-7h0m0 7h0m-1-8h0m-1 1h0m0 1h0m-2 11h0m-1-8h0m-2 6h0m0-1h0m-1-1h0m-1-9h0m0 6h0m-1-1h0m-5 7h0m-1-9h0m-1 8h0m-2-7h0m-1 7h0m-1-2h0m-2-3h0m0 2h0m-1-4h0m-1 2h0m-2-5h0m-1 8h0m-2-8h0m-1 3h0m-2 0h0m-1 10h0m-4-1h0m0-9h0m-1-2h0m0 9h0m-2-4h0m-5 0h0m0-6h0m0 13h0m0-5h0m-1-4h0m0-3h0m0 8h0m-1-5h0m0 5h0m0-10h0m0 8h0m-1 2h0m0-9h0m-1 4h0m-1 9h0m-2-15h0m-5 15h0m0 0h0m-2-3h0m0-6h0m0-2h0m-3 2h0m0 3h0m-1-5h0m-2 9h0m0-4h0m-1-5h0m-1-1h0m-1-2h0m-1 8h0m-1-3h0m-1 0h0m0-2h0m-2 6h0m0 0h0m-1 4h0m-3-8h0m-3-3h0m-1 9h0m-2 3h0m0-3h0m-1-6h0m-2 7h0m-1 0h0m0-2h0m-3-4h0m-1-5h0m-1 7h0m-3-2h0m-3 7h0m-4-8h0m-1-1h0m-1 10h0m-5-9h0m-3-6h0m-2 5h0m0-3h0m-3 7h0m-5 0h0m-2 0h0m-3-1h0m-8-5h0m-39-2h0m-25 0h0m-3 12h0m-1-9h0m28 14h0m2-1h0m24 7h0m4-3h0m10 3h0m8 7h0m1-12h0m4-2h0m6 2h0m9 10h0m10 2h0m4-15h0m1 12h0m8-12h0m2 6h0m1-1h0m4 6h0m0-11h0m3 2h0m8 7h0m1-5h0m8 9h0m4-2h0m2-9h0m3-2h0m4 15h0m2-7h0m2-1h0m1-7h0m12 14h0m14-10h0m0-4h0m1 1h0m6 3h0m2 4h0m4-6h0m17 1h0m-56 15h0m-2 9h0m0-3h0m-9-6h0m0-2h0m0 4h0m-5 4h0m-5 2h0m0-9h0m-1 12h0m0-13h0m0 15h0m-14-14h0m0 7h0m-6-2h0m-30-2h0m-38 4h0m-27 4h0m-18 4h0m49 4h0m0 6h0m23 0h0m10-4h0m3-1h0m1 8h0m0-2h0m11-3h0m2-7h0m7 1h0m3 10h0m7-5h0m2-4h0m3 2h0m0-2h0m1 3h0m1-3h0m3 8h0m1 3h0m1-2h0m4-5h0m0-3h0m1 6h0m1-3h0m6-2h0m7 7h0m9 7h0m-7 7h0m-3-1h0m-11-7h0m-1 2h0m-2 6h0m-2 2h0m0-11h0m-2 12h0m-7-11h0m-11 3h0m-30 1h0m-47-3h0m-23 0h0m52 15h0m64 1h0m3-1h0m2-1h0m1 4h0m2 2h0m0 3h0m4-6h0m5 4h0m2 1h0m5-4h0m0 1h0m0 0h0m7-2h0m5 11h0m-3 9h0m-4-1h0m-1-5h0m-5 6h0m-2 3h0m-9 4h0m-2-3h0m-1 1h0m-75-12h0m-2 0h0m-42 13h0m40 5h0m1 12h0m15 0h0m1-6h0m6 5h0m55 1h0m4-10h0m0 3h0m2 5h0m1-5h0m4 5h0m2-9h0m1 10h0m7-14h0m5 9h0m1-4h0m9 10h0m-15 14h0m-2 2h0m-1-13h0m-3 3h0m-3 4h0m-26-6h0m-6 9h0m-11-4h0m-3-5h0m-3 12h0m-13-1h0m-34-5h0m2 10h0m4 2h0m28-1h0m0 4h0m5-6h0m1 4h0m2 9h0m3-4h0m0 1h0m3-8h0m26 4h0m2-8h0m32 11h0m2 2h0m4-6h0m9-2h0m6 22h0m-2-5h0m-9 5h0m-2-7h0m-10 8h0m0-2h0m-1-5h0m-2 6h0m-3-10h0m-5 1h0m-32 9h0m-13-8h0m-2 3h0m-23 12h0m1 4h0m8 7h0m30-2h0m26-10h0m0 14h0m9-1h0m5-1h0m2-12h0m0 6h0m2 5h0m1-8h0m0-4h0m5 0h0m0 9h0m1-6h0m1-3h0m0 13h0m0-11h0m3 5h0m0 4h0m1-6h0m4-1h0m4 5h0m1 11h0m-11-2h0m-1 3h0m0 10h0m-2-10h0m0-1h0m-5 4h0m-4 4h0m0 1h0m-1-13h0m-4 0h0m0 6h0m-3-6h0m-3 2h0m-1 2h0m-7 9h0m-7 1h0m-15-5h0m-7 1h0m-6 3h0m-4 0h0m-2-1h0m-38 7h0m69 9h0m12-12h0m1 1h0m9 5h0m8-5h0m6-1h0m4 11h0m27-6h0" stroke="#808080" stroke-width="11.2" stroke-opacity="0.55"/></g><g clip-path="url(#cE)"><path class="d" transform="scale(.5)" d="M1162 750h0m32-1h0m130 12h0m-4-3h0m0 1h0m0 2h0m-4-2h0m0-7h0m-2 7h0m-3-2h0m-1 10h0m0-11h0m-1-3h0m-3 7h0m-1 5h0m-2-11h0m-1 13h0m0 0h0m-1-5h0m-3-1h0m0 1h0m-110-6h0m-9 5h0m0 3h0m-108-5h0m-14-4h0m-35 6h0m5 21h0m2-8h0m3 4h0m3 2h0m1-8h0m1 4h0m1 7h0m1-11h0m0 6h0m3-1h0m2 4h0m2 2h0m1 0h0m0-1h0m0-7h0m6 1h0m5-3h0m10 3h0m3-4h0m65 8h0m56-2h0m7-1h0m17 3h0m26 2h0m3-7h0m3 3h0m41-4h0m3 6h0m0 2h0m0-9h0m3 8h0m3-8h0m2 7h0m1 0h0m1 0h0m1 2h0m1-3h0m1-6h0m5-4h0m1 2h0m1 0h0m1 9h0m0-4h0m1 6h0m2-4h0m1 5h0m0-3h0m2-1h0m5 0h0m1 3h0m1 1h0m1-1h0m2 0h0m2-9h0m2 1h0m1 3h0m0 3h0m4-11h0m1 4h0m1 6h0m2-1h0m6 7h0m-1-1h0m-1 14h0m-1-7h0m0 4h0m-1 2h0m-1-10h0m-1 9h0m-1-6h0m-1 6h0m-2-1h0m0-4h0m-1 6h0m-2 1h0m0-9h0m-1 5h0m0 0h0m0-3h0m-4 7h0m-1-5h0m-3-8h0m-5 2h0m-2 8h0m-1 2h0m-1-12h0m-2 3h0m-1-2h0m-1 10h0m-1-3h0m-1 3h0m0-11h0m-1 11h0m-4-10h0m-2 0h0m0 13h0m-2-10h0m-1 1h0m0 9h0m-1-10h0m-2 7h0m-1 2h0m-1-3h0m-1 4h0m0-3h0m-1-8h0m-2 6h0m0-9h0m0-1h0m-1 10h0m-2-4h0m0 8h0m0 1h0m-3-4h0m-128 2h0m-26-9h0m-61 9h0m-9-3h0m-4-8h0m-3 0h0m-4 3h0m-1-2h0m-1 11h0m0-3h0m-1-9h0m-1 11h0m-5 1h0m-12 0h0m0-14h0m-6 1h0m14 23h0m2-8h0m7 6h0m2-4h0m39 8h0m19-2h0m16-7h0m4 4h0m12-3h0m85 13h0m3 0h0m2-8h0m1-5h0m10 5h0m9 8h0m5-7h0m10 7h0m2-13h0m1 11h0m8-1h0m0-4h0m4 4h0m1 0h0m2-2h0m3 0h0m3-5h0m0 1h0m0 2h0m2 3h0m1-3h0m0-3h0m3 9h0m2-11h0m0 7h0m0-1h0m0 6h0m1-10h0m0-3h0m1 7h0m1 2h0m0 0h0m2-3h0m0-7h0m1 3h0m1 1h0m0-2h0m1 5h0m0 0h0m1-4h0m1 5h0m3 2h0m0-3h0m6-6h0m2 13h0m2-14h0m1 4h0m0 8h0m2 1h0m1-9h0m0 5h0m1-1h0m2-6h0m0 2h0m1 6h0m1-4h0m1 4h0m2-10h0m1 0h0m1 6h0m1-2h0m0 4h0m4 0h0m6 6h0m0-9h0m1 0h0m1 0h0m2 15h0m-1-4h0m-1 7h0m-1-8h0m0 2h0m-1-2h0m-2 2h0m-3 4h0m-2 9h0m-2-15h0m-4 6h0m-2-2h0m-3-2h0m-1 0h0m0 13h0m-1 0h0m-2-14h0m-1 12h0m-3-12h0m-1 12h0m0-10h0m-1 7h0m0 3h0m-2-5h0m-3 1h0m0 0h0m-1-7h0m-1-2h0m0 12h0m-1-5h0m0 6h0m-1-4h0m0-3h0m-1 8h0m-1-10h0m-1-2h0m-1 11h0m-1-2h0m-1-7h0m0 3h0m-1-1h0m-1-4h0m0 0h0m-2 6h0m0-4h0m0 6h0m-1-3h0m-1-2h0m-1 3h0m0 0h0m-1 0h0m0-8h0m-5 3h0m-2 10h0m-5-5h0m-1 0h0m-3-7h0m0 8h0m-1 6h0m-1-1h0m0-7h0m-2 4h0m-2 2h0m0 2h0m-1-1h0m-1 1h0m-1-4h0m-1-6h0m-3 10h0m-1-10h0m-3 0h0m-8 10h0m0-7h0m0-3h0m-1 0h0m-1 4h0m-1-9h0m-2 4h0m0 5h0m-6 5h0m-2-2h0m-6 0h0m-3-10h0m-2 13h0m-9-6h0m-42 2h0m-30 2h0m-21 2h0m-3-15h0m-25 7h0m-2-7h0m-3 3h0m-38-1h0m-22 10h0m-3-12h0m56 16h0m26 5h0m12 4h0m3-4h0m30 9h0m14-7h0m4-6h0m3 3h0m8 5h0m2-1h0m0-1h0m2-5h0m4-2h0m6 5h0m3 3h0m11 0h0m2 1h0m6-1h0m4 6h0m1-3h0m2-11h0m0 11h0m2-1h0m2-4h0m0 2h0m0-2h0m1 4h0m3-10h0m0 6h0m1 1h0m1 1h0m1-7h0m3 4h0m0 1h0m1-3h0m1 12h0m3-12h0m3 2h0m1-4h0m1 13h0m1-3h0m0-7h0m2 3h0m1-6h0m0 2h0m2 7h0m0 5h0m1-13h0m0 1h0m0 9h0m1-6h0m0-5h0m5-1h0m0 14h0m0-8h0m0-5h0m2 14h0m1-14h0m0 7h0m1 1h0m1 6h0m0-15h0m1 8h0m0-2h0m1-1h0m0 2h0m1 1h0m1-1h0m1-6h0m0 1h0m3 8h0m1-9h0m0 0h0m1 1h0m0 2h0m0 9h0m1-6h0m1 3h0m0 4h0m3-2h0m2 3h0m2-3h0m0-11h0m2 10h0m0-9h0m1 12h0m0-14h0m1 14h0m1-2h0m1-6h0m0-4h0m0 3h0m1-3h0m0-2h0m1 4h0m0 5h0m0 4h0m1 2h0m0-14h0m0 11h0m0 0h0m1-8h0m0-4h0m1 8h0m0-2h0m0-3h0m0 3h0m2 8h0m4-2h0m1-10h0m1 1h0m0-3h0m1 0h0m0 11h0m1 2h0m1 2h0m1-9h0m1 4h0m0-1h0m1-5h0m1 4h0m0 3h0m1-2h0m0 5h0m1-8h0m1 9h0m1-9h0m0-6h0m6 5h0m1-1h0m2 2h0m1 3h0m1-7h0m1 1h0m1 4h0m0-6h0m1 9h0m1-5h0m2 3h0m2-8h0m0 6h0m1-6h0m0 5h0m2 4h0m1 3h0m1-8h0m-5 16h0m-3 1h0m0-2h0m-6-2h0m-1 14h0m0-13h0m-9 13h0m0-15h0m-1 0h0m-1 15h0m0-14h0m-1 12h0m-1 1h0m-3-1h0m-2 0h0m-1-5h0m0 6h0m-3-5h0m0-4h0m0 4h0m-1 0h0m0-7h0m-1 6h0m0-3h0m-1-5h0m0 8h0m-1 1h0m0-6h0m-1 8h0m-1-10h0m-1 3h0m-4 6h0m0-10h0m-1 0h0m0 15h0m0-14h0m0 5h0m-7-3h0m-1 9h0m0-5h0m-1-6h0m-1 0h0m-1 2h0m-1 6h0m-1-2h0m0-5h0m-1 5h0m-2-3h0m-1 7h0m-2 1h0m0-4h0m-1-8h0m-3 3h0m-1-2h0m-2-1h0m-1 11h0m0-2h0m-1 0h0m0-1h0m0-3h0m-3 1h0m0 6h0m-2-8h0m0-2h0m-2 12h0m-7-11h0m0 12h0m-1-14h0m-1 1h0m-1 1h0m-2 12h0m-1-13h0m-1 2h0m0 2h0m-1 8h0m-3-14h0m-1 0h0m0 8h0m-1-4h0m-2-4h0m-2 2h0m-2 12h0m-2-4h0m0-3h0m-7-1h0m-1-3h0m0-1h0m-5-1h0m-2 8h0m-6-5h0m-4-2h0m-10-2h0m-6 1h0m0 5h0m-8 6h0m-4 0h0m-1-1h0m-4-1h0m-4 2h0m-7-11h0m-42-1h0m-3 6h0m39 22h0m6-3h0m52-9h0m2 12h0m0-4h0m3-3h0m4-1h0m11-4h0m3 15h0m7-3h0m0-6h0m7-3h0m0 2h0m1-5h0m1 7h0m0 4h0m1-11h0m3 5h0m2-1h0m2-3h0m0 12h0m1-1h0m1-12h0m1 14h0m8-3h0m2-11h0m7 0h0m0 8h0m1 7h0m3-12h0m5 6h0m12 6h0m1-9h0m3 0h0m1 3h0m6-5h0m1 2h0m2 3h0m4-6h0m1 3h0m1-1h0m-16 15h0m-8-3h0m-31 14h0m-1-10h0m-8-2h0m-2 5h0m0 3h0m-2-4h0m-3 7h0m-7 0h0m-1-10h0m-14 5h0m-5-2h0m-5-6h0m-10 9h0m-52 4h0m-17-2h0m-10 11h0m16 1h0m1 2h0m63 3h0m7-3h0m21-6h0m13 3h0m4 0h0m2-7h0m0 14h0m2-14h0m0 10h0m1-1h0m2-3h0m2 5h0m0-11h0m4 11h0m3 1h0m4-5h0m2 2h0m16 4h0m4-7h0m-17 15h0m-11 3h0m-2-2h0m-1 4h0m-3 2h0m-1-9h0m-4 2h0m-15-3h0m-10 3h0m20 21h0m8-6h0m5 3h0m1 1h0m3-1h0m9-4h0m2 3h0m1-5h0m1 12h0m0-6h0m4 1h0m2-3h0m-8 25h0m-2-6h0m-3 6h0m-15 0h0m-1-6h0m-96 6h0m26 6h0m10 6h0m13 0h0m50-10h0m1 14h0m6-6h0m2-6h0m1 4h0m3 6h0m10-7h0m1 3h0m1 19h0m-1 0h0m-5 4h0m-14-7h0m-1-7h0m-1 5h0m-22 1h0m-9-1h0m-4 3h0m-1-4h0m-1-3h0m-1-1h0m-6 14h0m-2-7h0m-5 3h0m-3 1h0m-6 3h0m-4-15h0m-6 14h0m-55-14h0m68 29h0m6-5h0m5 5h0m19-3h0m2-5h0m0 4h0m5-1h0m10 2h0m7 5h0m22 0h0m14 11h0m-6 3h0m-6-13h0m-5 15h0m-3-10h0m-6-4h0m-40 5h0m-1-5h0m-4 4h0m-1 8h0m0-12h0m1 15h0m7 4h0m5 2h0m39-6h0m4 7h0m3 4h0m7 0h0m1 0h0m1 2h0m5-10h0m1-3h0m1 4h0m0 8h0m1 3h0m6-14h0m4 5h0m5 23h0m-10-7h0m-4-1h0m0 3h0m-6 2h0m-5-10h0m0 4h0m-8-1h0m0 6h0m-8-9h0m-4 2h0m-7 0h0m-2 4h0m-5 4h0m-26 0h0m-1-1h0m-2-3h0m-48 1h0m24 13h0m32 2h0m41-5h0m0 9h0m10-6h0m-30 14h0" stroke="#808080" stroke-width="11.2" stroke-opacity="0.55"/></g><path d="M525.6 393.2h5.8M528.5 390.3v5.8M532.0 393.2h5.8M534.9 390.3v5.8M566.1 390.5h5.8M569.0 387.6v5.8M554.1 399.9h5.8M557.0 397.0v5.8M561.6 400.4h5.8M564.5 397.5v5.8M585.3 402.5h5.8M588.2 399.6v5.8M571.4 410.3h5.8M574.3 407.4v5.8M565.3 415.1h5.8M568.2 412.2v5.8M557.8 417.2h5.8M560.7 414.3v5.8M580.5 423.6h5.8M583.4 420.7v5.8M665.3 386.0h5.8M668.2 383.1v5.8M613.3 409.5h5.8M616.2 406.6v5.8M618.1 408.4h5.8M621.0 405.5v5.8M605.3 419.6h5.8M608.2 416.7v5.8M598.9 426.0h5.8M601.8 423.1v5.8M646.1 440.4h5.8M649.0 437.5v5.8M604.5 432.4h5.8M607.4 429.5v5.8M614.1 446.8h5.8M617.0 443.9v5.8M598.9 460.4h5.8M601.8 457.5v5.8M593.3 466.8h5.8M596.2 463.9v5.8M606.1 461.2h5.8M609.0 458.3v5.8M641.3 458.8h5.8M644.2 455.9v5.8M654.1 455.6h5.8M657.0 452.7v5.8M627.7 473.2h5.8M630.6 470.3v5.8M635.7 473.2h5.8M638.6 470.3v5.8M649.3 477.2h5.8M652.2 474.3v5.8M625.3 480.4h5.8M628.2 477.5v5.8M636.5 479.6h5.8M639.4 476.7v5.8M610.1 480.4h5.8M613.0 477.5v5.8M617.3 483.6h5.8M620.2 480.7v5.8M645.3 486.0h5.8M648.2 483.1v5.8M611.7 490.8h5.8M614.6 487.9v5.8M618.9 490.0h5.8M621.8 487.1v5.8M590.9 490.0h5.8M593.8 487.1v5.8M610.9 501.2h5.8M613.8 498.3v5.8M613.3 503.6h5.8M616.2 500.7v5.8M620.5 501.2h5.8M623.4 498.3v5.8M645.3 497.2h5.8M648.2 494.3v5.8M597.3 505.2h5.8M600.2 502.3v5.8M618.9 508.4h5.8M621.8 505.5v5.8M626.1 506.0h5.8M629.0 503.1v5.8M642.1 513.2h5.8M645.0 510.3v5.8M651.7 514.8h5.8M654.6 511.9v5.8M632.0 518.0h5.8M634.9 515.1v5.8M630.9 523.1h5.8M633.8 520.2v5.8M586.1 492.4h5.8M589.0 489.5v5.8M606.1 418.9h5.8M609.0 416.0v5.8M604.2 420.7h5.8M607.1 417.8v5.8M598.8 425.6h5.8M601.7 422.7v5.8M603.6 432.9h5.8M606.5 430.0v5.8M607.9 432.3h5.8M610.8 429.4v5.8M618.2 429.8h5.8M621.1 426.9v5.8M624.3 425.0h5.8M627.2 422.1v5.8M628.0 428.0h5.8M630.9 425.1v5.8M603.6 440.2h5.8M606.5 437.3v5.8M614.0 446.3h5.8M616.9 443.4v5.8M618.2 448.7h5.8M621.1 445.8v5.8M621.9 447.5h5.8M624.8 444.6v5.8M626.8 454.8h5.8M629.7 451.9v5.8M612.1 454.8h5.8M615.0 451.9v5.8M607.3 459.7h5.8M610.2 456.8v5.8M632.8 431.7h5.8M635.7 428.8v5.8M638.0 403.3h5.8M640.9 400.4v5.8M636.5 402.2h5.8M639.4 399.3v5.8M657.0 413.8h5.8M659.9 410.9v5.8M638.7 429.1h5.8M641.6 426.2v5.8M655.1 424.2h5.8M658.0 421.3v5.8M636.8 414.1h5.8M639.7 411.2v5.8M651.2 395.1h5.8M654.1 392.2v5.8M663.8 418.3h5.8M666.7 415.4v5.8M632.0 414.1h5.8M634.9 411.2v5.8M650.7 401.7h5.8M653.6 398.8v5.8M652.3 409.6h5.8M655.2 406.7v5.8M648.7 427.4h5.8M651.6 424.5v5.8M655.9 412.7h5.8M658.8 409.8v5.8M638.6 431.6h5.8M641.5 428.7v5.8M655.6 411.8h5.8M658.5 408.9v5.8M630.1 413.9h5.8M633.0 411.0v5.8M637.6 416.4h5.8M640.5 413.5v5.8M646.5 413.7h5.8M649.4 410.8v5.8M655.5 419.8h5.8M658.4 416.9v5.8M652.1 402.6h5.8M655.0 399.7v5.8M660.5 418.3h5.8M663.4 415.4v5.8M646.0 419.5h5.8M648.9 416.6v5.8M662.5 407.5h5.8M665.4 404.6v5.8M656.4 414.5h5.8M659.3 411.6v5.8M661.0 422.3h5.8M663.9 419.4v5.8M638.8 426.1h5.8M641.7 423.2v5.8M659.3 399.6h5.8M662.2 396.7v5.8M653.6 427.3h5.8M656.5 424.4v5.8M647.8 397.3h5.8M650.7 394.4v5.8M641.7 398.0h5.8M644.6 395.1v5.8M650.9 432.1h5.8M653.8 429.2v5.8M635.0 416.5h5.8M637.9 413.6v5.8M643.1 395.0h5.8M646.0 392.1v5.8M645.5 424.2h5.8M648.4 421.3v5.8M634.7 412.5h5.8M637.6 409.6v5.8M647.7 418.0h5.8M650.6 415.1v5.8M652.6 424.2h5.8M655.5 421.3v5.8M635.3 424.7h5.8M638.2 421.8v5.8M648.3 405.9h5.8M651.2 403.0v5.8M652.2 406.9h5.8M655.1 404.0v5.8M638.7 417.4h5.8M641.6 414.5v5.8M649.4 410.7h5.8M652.3 407.8v5.8M641.5 393.8h5.8M644.4 390.9v5.8M641.3 427.2h5.8M644.2 424.3v5.8M635.9 411.3h5.8M638.8 408.4v5.8M651.7 411.7h5.8M654.6 408.8v5.8M646.6 410.0h5.8M649.5 407.1v5.8M652.3 418.9h5.8M655.2 416.0v5.8M646.6 429.7h5.8M649.5 426.8v5.8M642.1 425.1h5.8M645.0 422.2v5.8M640.8 397.0h5.8M643.7 394.1v5.8M645.6 397.9h5.8M648.5 395.0v5.8M633.1 428.1h5.8M636.0 425.2v5.8M631.2 409.2h5.8M634.1 406.3v5.8M637.9 395.7h5.8M640.8 392.8v5.8M637.1 419.3h5.8M640.0 416.4v5.8M632.0 420.1h5.8M634.9 417.2v5.8M643.5 435.3h5.8M646.4 432.4v5.8M633.4 399.7h5.8M636.3 396.8v5.8M657.9 431.6h5.8M660.8 428.7v5.8M628.9 408.9h5.8M631.8 406.0v5.8M630.2 409.1h5.8M633.1 406.2v5.8M657.0 432.3h5.8M659.9 429.4v5.8M652.3 396.4h5.8M655.2 393.5v5.8M631.3 409.4h5.8M634.2 406.5v5.8M650.3 421.7h5.8M653.2 418.8v5.8M649.1 417.7h5.8M652.0 414.8v5.8M641.7 408.7h5.8M644.6 405.8v5.8M651.6 418.1h5.8M654.5 415.2v5.8M640.2 422.7h5.8M643.1 419.8v5.8M633.9 425.9h5.8M636.8 423.0v5.8M646.3 408.1h5.8M649.2 405.2v5.8M648.6 433.4h5.8M651.5 430.5v5.8M659.0 423.1h5.8M661.9 420.2v5.8M652.5 396.7h5.8M655.4 393.8v5.8M641.4 400.4h5.8M644.3 397.5v5.8M651.7 398.4h5.8M654.6 395.5v5.8M637.0 432.5h5.8M639.9 429.6v5.8M661.5 416.7h5.8M664.4 413.8v5.8M632.9 421.4h5.8M635.8 418.5v5.8M653.6 403.4h5.8M656.5 400.5v5.8M657.5 406.0h5.8M660.4 403.1v5.8M647.2 397.0h5.8M650.1 394.1v5.8M652.5 432.7h5.8M655.4 429.8v5.8M651.8 405.9h5.8M654.7 403.0v5.8M658.0 419.0h5.8M660.9 416.1v5.8M649.7 401.6h5.8M652.6 398.7v5.8M641.6 397.1h5.8M644.5 394.2v5.8M656.7 414.4h5.8M659.6 411.5v5.8M658.4 419.1h5.8M661.3 416.2v5.8M632.6 405.8h5.8M635.5 402.9v5.8M644.0 417.2h5.8M646.9 414.3v5.8M630.0 413.3h5.8M632.9 410.4v5.8M641.2 399.4h5.8M644.1 396.5v5.8M645.3 405.5h5.8M648.2 402.6v5.8M656.2 420.3h5.8M659.1 417.4v5.8M650.5 422.7h5.8M653.4 419.8v5.8M653.8 417.0h5.8M656.7 414.1v5.8M662.6 403.1h5.8M665.5 400.2v5.8M664.6 407.6h5.8M667.5 404.7v5.8M631.1 416.9h5.8M634.0 414.0v5.8M640.4 406.6h5.8M643.3 403.7v5.8M654.7 426.7h5.8M657.6 423.8v5.8M641.7 417.5h5.8M644.6 414.6v5.8M636.8 428.9h5.8M639.7 426.0v5.8M642.1 407.8h5.8M645.0 404.9v5.8M640.5 406.4h5.8M643.4 403.5v5.8M637.9 400.9h5.8M640.8 398.0v5.8M637.0 409.2h5.8M639.9 406.3v5.8M645.1 420.4h5.8M648.0 417.5v5.8M646.2 434.4h5.8M649.1 431.5v5.8M639.6 441.9h5.8M642.5 439.0v5.8M639.9 442.5h5.8M642.8 439.6v5.8M621.5 438.3h5.8M624.4 435.4v5.8M638.1 439.9h5.8M641.0 437.0v5.8M626.2 437.0h5.8M629.1 434.1v5.8M634.5 445.9h5.8M637.4 443.0v5.8M629.8 440.2h5.8M632.7 437.3v5.8M628.1 433.6h5.8M631.0 430.7v5.8M630.2 446.5h5.8M633.1 443.6v5.8M636.4 438.3h5.8M639.3 435.4v5.8M632.6 442.3h5.8M635.5 439.4v5.8M632.1 437.4h5.8M635.0 434.5v5.8M631.2 442.8h5.8M634.1 439.9v5.8M630.7 443.5h5.8M633.6 440.6v5.8M623.3 435.7h5.8M626.2 432.8v5.8M630.5 442.5h5.8M633.4 439.6v5.8M628.0 436.8h5.8M630.9 433.9v5.8M634.2 439.0h5.8M637.1 436.1v5.8M629.2 437.8h5.8M632.1 434.9v5.8M627.9 443.6h5.8M630.8 440.7v5.8M634.8 443.8h5.8M637.7 440.9v5.8" stroke="#000" stroke-width="1.9" fill="none" clip-path="url(#cE)"/><path d="M615.6 422.6h5.8M618.5 419.7v5.8M609.3 443.0h5.8M612.2 440.1v5.8M612.8 440.8h5.8M615.7 437.9v5.8M615.8 441.4h5.8M618.7 438.5v5.8M623.7 439.6h5.8M626.6 436.7v5.8M606.1 451.2h5.8M609.0 448.3v5.8M618.2 461.3h5.8M621.1 458.4v5.8M630.9 470.0h5.8M633.8 467.1v5.8M628.0 442.6h5.8M630.9 439.7v5.8M635.3 439.0h5.8M638.2 436.1v5.8" stroke="#ff0000" stroke-width="1.9" fill="none" clip-path="url(#cE)"/><path d="M512.2 388.4h5.8M515.1 385.5v5.8M518.6 388.4h5.8M521.5 385.5v5.8M520.2 406.5h5.8M523.1 403.6v5.8M540.0 402.0h5.8M542.9 399.1v5.8M559.7 395.9h5.8M562.6 393.0v5.8M572.0 390.0h5.8M574.9 387.1v5.8M570.9 422.5h5.8M573.8 419.6v5.8M574.6 422.5h5.8M577.5 419.6v5.8M586.9 446.0h5.8M589.8 443.1v5.8M590.8 412.2h5.8M593.7 409.3v5.8M660.0 384.4h5.8M662.9 381.5v5.8M646.9 393.2h5.8M649.8 390.3v5.8M665.3 399.6h5.8M668.2 396.7v5.8M666.9 410.0h5.8M669.8 407.1v5.8M662.4 415.6h5.8M665.3 412.7v5.8M634.1 425.2h5.8M637.0 422.3v5.8M600.3 438.0h5.8M603.2 435.1v5.8M618.6 435.5h5.8M621.5 432.6v5.8M645.3 420.4h5.8M648.2 417.5v5.8M599.7 469.5h5.8M602.6 466.6v5.8M610.1 465.2h5.8M613.0 462.3v5.8M619.7 467.1h5.8M622.6 464.2v5.8M632.0 461.7h5.8M634.9 458.8v5.8M636.5 461.2h5.8M639.4 458.3v5.8M644.5 463.9h5.8M647.4 461.0v5.8M646.1 472.9h5.8M649.0 470.0v5.8M618.9 475.1h5.8M621.8 472.2v5.8M610.1 478.0h5.8M613.0 475.1v5.8M598.1 487.6h5.8M601.0 484.7v5.8M599.7 493.7h5.8M602.6 490.8v5.8M638.1 498.8h5.8M641.0 495.9v5.8M606.9 506.0h5.8M609.8 503.1v5.8M594.1 510.0h5.8M597.0 507.1v5.8M600.5 519.9h5.8M603.4 517.0v5.8M630.9 485.2h5.8M633.8 482.3v5.8M633.3 482.8h5.8M636.2 479.9v5.8M631.7 476.4h5.8M634.6 473.5v5.8M583.7 458.0h5.8M586.6 455.1v5.8M580.5 467.3h5.8M583.4 464.4v5.8M612.8 459.7h5.8M615.7 456.8v5.8M614.0 437.7h5.8M616.9 434.8v5.8" stroke="#0000ff" stroke-width="1.9" fill="none" clip-path="url(#cE)"/><g><path class="d" transform="scale(.5)" d="M1035 957h0" stroke="#808080" stroke-width="10.8" stroke-opacity="0.5"/></g><path d="M514.5 495.5h5.8M517.4 492.6v5.8" stroke="#000" stroke-width="1.9" fill="none"/><path d="M514.5 512.2h5.8M517.4 509.3v5.8" stroke="#ff0000" stroke-width="1.9" fill="none"/><path d="M514.5 529.1h5.8M517.4 526.2v5.8" stroke="#0000ff" stroke-width="1.9" fill="none"/><text x="523.0" y="482.2" text-anchor="start" >MSA</text><text x="523.0" y="499.4" text-anchor="start" >Natural</text><text x="523.0" y="516.1" text-anchor="start" >rCM</text><text x="523.0" y="533.0" text-anchor="start" >RBM</text><rect x="46.5" y="9.5" width="293.0" height="293.0" fill="none" stroke="#222" stroke-width="1"/><text x="35.6" y="7.5" text-anchor="start" font-weight="bold">A)</text><line x1="42.3" y1="39.3" x2="46.5" y2="39.3" stroke="#222" stroke-width="1"/><text x="38.7" y="43.6" text-anchor="end">350</text><line x1="42.3" y1="140.7" x2="46.5" y2="140.7" stroke="#222" stroke-width="1"/><text x="38.7" y="145.0" text-anchor="end">300</text><line x1="42.3" y1="242.1" x2="46.5" y2="242.1" stroke="#222" stroke-width="1"/><text x="38.7" y="246.4" text-anchor="end">250</text><line x1="119.3" y1="302.5" x2="119.3" y2="306.7" stroke="#222" stroke-width="1"/><text x="119.3" y="318.2" text-anchor="middle">20</text><line x1="227.9" y1="302.5" x2="227.9" y2="306.7" stroke="#222" stroke-width="1"/><text x="227.9" y="318.2" text-anchor="middle">60</text><line x1="336.8" y1="302.5" x2="336.8" y2="306.7" stroke="#222" stroke-width="1"/><text x="336.8" y="318.2" text-anchor="middle">100</text><text x="192.7" y="332.2" text-anchor="middle" >rCM score</text><text x="0" y="0" text-anchor="middle" transform="translate(16.3,156) rotate(-90)" >RBM score</text><rect x="386.5" y="9.5" width="293.0" height="292.5" fill="none" stroke="#222" stroke-width="1"/><text x="376.3" y="7.3" text-anchor="start" font-weight="bold">B)</text><line x1="382.3" y1="64.4" x2="386.5" y2="64.4" stroke="#222" stroke-width="1"/><text x="378.7" y="68.7" text-anchor="end">2</text><line x1="382.3" y1="148.8" x2="386.5" y2="148.8" stroke="#222" stroke-width="1"/><text x="378.7" y="153.1" text-anchor="end">0</text><line x1="382.3" y1="233.4" x2="386.5" y2="233.4" stroke="#222" stroke-width="1"/><text x="378.7" y="237.7" text-anchor="end">−2</text><line x1="420.2" y1="302" x2="420.2" y2="306.2" stroke="#222" stroke-width="1"/><text x="420.2" y="318.0" text-anchor="middle">−4</text><line x1="483.6" y1="302" x2="483.6" y2="306.2" stroke="#222" stroke-width="1"/><text x="483.6" y="318.0" text-anchor="middle">−2</text><line x1="547.2" y1="302" x2="547.2" y2="306.2" stroke="#222" stroke-width="1"/><text x="547.2" y="318.0" text-anchor="middle">0</text><line x1="610.7" y1="302" x2="610.7" y2="306.2" stroke="#222" stroke-width="1"/><text x="610.7" y="318.0" text-anchor="middle">2</text><line x1="674.1" y1="302" x2="674.1" y2="306.2" stroke="#222" stroke-width="1"/><text x="674.1" y="318.0" text-anchor="middle">4</text><text x="532.9" y="332.2" text-anchor="middle" >PC1</text><text x="0" y="0" text-anchor="middle" transform="translate(361.4,155.7) rotate(-90)" >PC2</text><rect x="41.6" y="361.8" width="183.1" height="182.7" fill="none" stroke="#222" stroke-width="1"/><text x="30.1" y="358.6" text-anchor="start" font-weight="bold">C)</text><text x="133.2" y="357.1" text-anchor="middle" font-weight="bold">RBM generated sequences</text><line x1="37.4" y1="382.0" x2="41.6" y2="382.0" stroke="#222" stroke-width="1"/><text x="33.8" y="386.3" text-anchor="end">2.5</text><line x1="37.4" y1="443.7" x2="41.6" y2="443.7" stroke="#222" stroke-width="1"/><text x="33.8" y="448.0" text-anchor="end">0.0</text><line x1="37.4" y1="505.7" x2="41.6" y2="505.7" stroke="#222" stroke-width="1"/><text x="33.8" y="510.0" text-anchor="end">−2.5</text><line x1="62.7" y1="544.5" x2="62.7" y2="548.7" stroke="#222" stroke-width="1"/><text x="62.7" y="560.7" text-anchor="middle">−4</text><line x1="101.9" y1="544.5" x2="101.9" y2="548.7" stroke="#222" stroke-width="1"/><text x="101.9" y="560.7" text-anchor="middle">−2</text><line x1="141.5" y1="544.5" x2="141.5" y2="548.7" stroke="#222" stroke-width="1"/><text x="141.5" y="560.7" text-anchor="middle">0</text><line x1="181.5" y1="544.5" x2="181.5" y2="548.7" stroke="#222" stroke-width="1"/><text x="181.5" y="560.7" text-anchor="middle">2</text><line x1="221.1" y1="544.5" x2="221.1" y2="548.7" stroke="#222" stroke-width="1"/><text x="221.1" y="560.7" text-anchor="middle">4</text><text x="133.2" y="574.6" text-anchor="middle" >PC1</text><text x="0" y="0" text-anchor="middle" transform="translate(8.0,453.2) rotate(-90)" >PC2</text><rect x="271.6" y="361.8" width="183.1" height="182.7" fill="none" stroke="#222" stroke-width="1"/><text x="260.1" y="358.6" text-anchor="start" font-weight="bold">D)</text><text x="363.1" y="357.1" text-anchor="middle" font-weight="bold">CM generated sequences</text><line x1="267.40000000000003" y1="396.2" x2="271.6" y2="396.2" stroke="#222" stroke-width="1"/><text x="263.8" y="400.5" text-anchor="end">2</text><line x1="267.40000000000003" y1="449.1" x2="271.6" y2="449.1" stroke="#222" stroke-width="1"/><text x="263.8" y="453.4" text-anchor="end">0</text><line x1="267.40000000000003" y1="502.2" x2="271.6" y2="502.2" stroke="#222" stroke-width="1"/><text x="263.8" y="506.5" text-anchor="end">−2</text><line x1="292.70000000000005" y1="544.5" x2="292.70000000000005" y2="548.7" stroke="#222" stroke-width="1"/><text x="292.70000000000005" y="560.7" text-anchor="middle">−4</text><line x1="332.1" y1="544.5" x2="332.1" y2="548.7" stroke="#222" stroke-width="1"/><text x="332.1" y="560.7" text-anchor="middle">−2</text><line x1="371.79999999999995" y1="544.5" x2="371.79999999999995" y2="548.7" stroke="#222" stroke-width="1"/><text x="371.79999999999995" y="560.7" text-anchor="middle">0</text><line x1="411.5" y1="544.5" x2="411.5" y2="548.7" stroke="#222" stroke-width="1"/><text x="411.5" y="560.7" text-anchor="middle">2</text><line x1="451.1" y1="544.5" x2="451.1" y2="548.7" stroke="#222" stroke-width="1"/><text x="451.1" y="560.7" text-anchor="middle">4</text><text x="363.1" y="574.6" text-anchor="middle" >PC1</text><text x="0" y="0" text-anchor="middle" transform="translate(247.00000000000003,453.2) rotate(-90)" >PC2</text><rect x="501.6" y="361.8" width="183.1" height="182.7" fill="none" stroke="#222" stroke-width="1"/><text x="490.1" y="358.6" text-anchor="start" font-weight="bold">E)</text><text x="593.2" y="357.1" text-anchor="middle" font-weight="bold">Probed sequences</text><line x1="497.40000000000003" y1="396.2" x2="501.6" y2="396.2" stroke="#222" stroke-width="1"/><text x="493.8" y="400.5" text-anchor="end">2</text><line x1="497.40000000000003" y1="449.1" x2="501.6" y2="449.1" stroke="#222" stroke-width="1"/><text x="493.8" y="453.4" text-anchor="end">0</text><line x1="497.40000000000003" y1="502.2" x2="501.6" y2="502.2" stroke="#222" stroke-width="1"/><text x="493.8" y="506.5" text-anchor="end">−2</text><line x1="522.7" y1="544.5" x2="522.7" y2="548.7" stroke="#222" stroke-width="1"/><text x="522.7" y="560.7" text-anchor="middle">−4</text><line x1="562.1" y1="544.5" x2="562.1" y2="548.7" stroke="#222" stroke-width="1"/><text x="562.1" y="560.7" text-anchor="middle">−2</text><line x1="601.8" y1="544.5" x2="601.8" y2="548.7" stroke="#222" stroke-width="1"/><text x="601.8" y="560.7" text-anchor="middle">0</text><line x1="641.5" y1="544.5" x2="641.5" y2="548.7" stroke="#222" stroke-width="1"/><text x="641.5" y="560.7" text-anchor="middle">2</text><line x1="681.1" y1="544.5" x2="681.1" y2="548.7" stroke="#222" stroke-width="1"/><text x="681.1" y="560.7" text-anchor="middle">4</text><text x="593.2" y="574.6" text-anchor="middle" >PC1</text><text x="0" y="0" text-anchor="middle" transform="translate(477.0,453.2) rotate(-90)" >PC2</text>
</svg></body></html>
